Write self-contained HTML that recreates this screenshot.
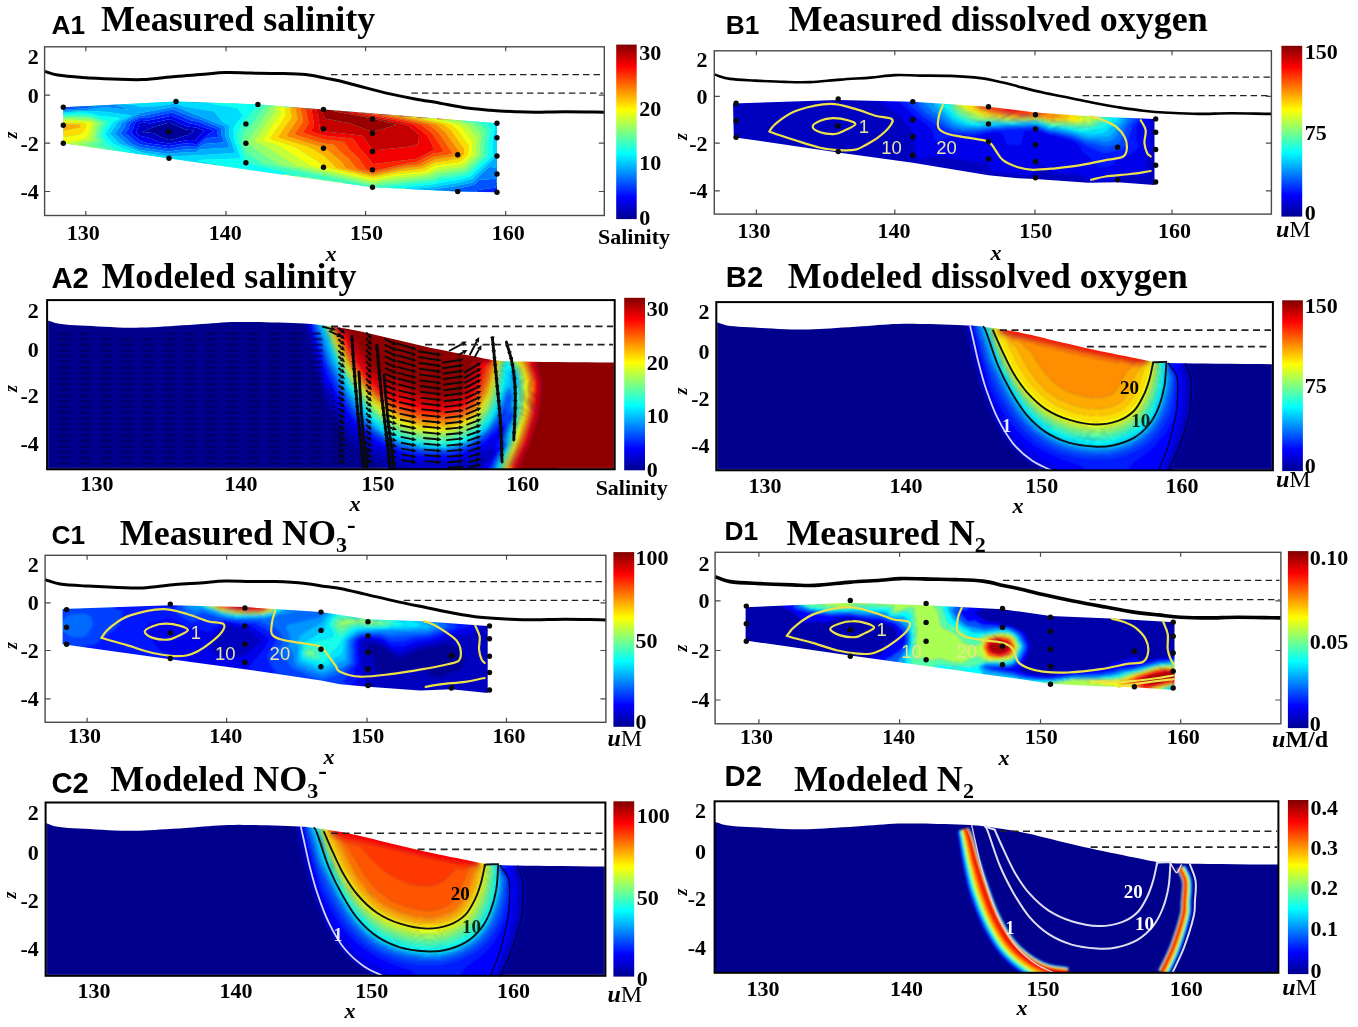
<!DOCTYPE html><html><head><meta charset="utf-8"><title>Figure</title><style>html,body{margin:0;padding:0;background:#fff}svg{display:block}</style></head><body><svg width="1358" height="1027" viewBox="0 0 1358 1027"><defs><linearGradient id="jet" x1="0" y1="1" x2="0" y2="0"><stop offset="0" stop-color="#00008f"/><stop offset="0.125" stop-color="#0000ff"/><stop offset="0.375" stop-color="#00ffff"/><stop offset="0.625" stop-color="#ffff00"/><stop offset="0.875" stop-color="#ff0000"/><stop offset="1" stop-color="#800000"/></linearGradient><filter id="b6" x="-5%" y="-10%" width="110%" height="120%"><feGaussianBlur stdDeviation="0.6"/></filter><filter id="b8" x="-5%" y="-10%" width="110%" height="120%"><feGaussianBlur stdDeviation="0.8"/></filter><filter id="b10" x="-5%" y="-10%" width="110%" height="120%"><feGaussianBlur stdDeviation="1.0"/></filter><filter id="b12" x="-5%" y="-10%" width="110%" height="120%"><feGaussianBlur stdDeviation="1.2"/></filter><filter id="b15" x="-5%" y="-10%" width="110%" height="120%"><feGaussianBlur stdDeviation="1.5"/></filter><filter id="b20" x="-5%" y="-10%" width="110%" height="120%"><feGaussianBlur stdDeviation="2.0"/></filter><filter id="b25" x="-5%" y="-10%" width="110%" height="120%"><feGaussianBlur stdDeviation="2.5"/></filter><filter id="b30" x="-5%" y="-10%" width="110%" height="120%"><feGaussianBlur stdDeviation="3.0"/></filter><clipPath id="clipA1"><path d="M497,123.2L497,192.3 457.7,191.5 372.5,187.3 63.3,143.2 63.3,107.2 176,101.4 257.9,104.4 323.5,109.4Z"/></clipPath><clipPath id="clipB1"><path d="M733,103.5L838.2,100 912.8,101.7 988.5,106.7 1035.5,112.5 1093,116.5 1154.5,119 1154.5,185 1117.6,182.3 1088,182.8 1035.5,179 1018,178.3 988.5,175.3 912.8,162.7 840,152.7 733.8,137.2Z"/></clipPath><clipPath id="clipC1"><path d="M62.6,609L170.3,605.3 244.9,607.1 321,612.1 368,619.2 422.6,621.2 487.7,625.9 487.7,693 451.4,689.3 420.1,690.5 368,686.8 340,684.3 321,680.5 244.9,669.2 170.3,659.2 62.6,644.2Z"/></clipPath><clipPath id="clipD1"><path d="M745.6,607.2L850.3,602.7 926.1,605.2 1002.5,609.2 1050.5,616 1110.6,618.5 1174.5,622.2 1174.5,690 1134.4,687.3 1098,686.2 1050.5,683.8 1018,678.8 1002.5,676.7 926.1,666 850.3,655.5 745.6,640.5Z"/></clipPath><clipPath id="clipB2"><path d="M716.3,322.1L718.4,322.8 720.3,323.4 722.2,324.1 724.3,324.8 726.9,325.4 730.1,325.9 734.1,326.3 738.6,326.7 743.6,327 748.9,327.3 754.5,327.6 760.1,327.9 766,328.2 772.3,328.6 778.7,328.9 785.3,329.3 791.6,329.5 797.7,329.6 803.4,329.6 808.7,329.5 814,329.3 819.2,329 824.5,328.7 830.2,328.4 836.3,328.1 842.6,327.6 849.2,327.2 855.6,326.7 861.9,326.3 867.8,325.9 873.2,325.5 878.3,325.1 883.1,324.7 887.9,324.4 892.7,324.1 897.8,323.9 903,323.8 908.3,323.8 913.6,323.8 919.1,323.9 924.7,324 930.4,324.1 936.6,324.3 943.3,324.4 950.2,324.7 956.8,324.9 962.9,325.2 967.9,325.4 971.5,325.6 974,325.7 975.9,325.9 977.7,326 980.1,326.3 983.5,326.8 988.1,327.4 993.5,328.1 999.4,329 1005.6,329.9 1011.9,331 1018,332.1 1024.1,333.4 1030.3,334.8 1036.6,336.3 1043,337.8 1049.3,339.4 1055.6,340.9 1061.9,342.4 1068.1,343.8 1074.3,345.3 1080.6,346.8 1086.8,348.2 1093.1,349.6 1099.5,351 1106,352.3 1112.5,353.6 1118.9,354.9 1125,356.1 1130.7,357.2 1135.8,358.2 1140.3,359.2 1144.6,360.1 1148.8,360.9 1153.3,361.6 1158.2,362.2 1163.1,362.6 1167.7,362.9 1172.5,363.1 1178,363.2 1184.8,363.3 1193.3,363.4 1204,363.6 1216.5,363.7 1230.3,363.8 1244.7,363.9 1259.1,364.1 1272.9,364.2 1272.9,470.3 716.3,470.3Z"/></clipPath><clipPath id="clipC2"><path d="M45.6,823.1L47.7,823.8 49.6,824.5 51.5,825.2 53.6,825.9 56.2,826.5 59.5,827 63.5,827.5 68,827.9 73.1,828.2 78.4,828.5 84,828.8 89.7,829.1 95.6,829.4 101.9,829.8 108.4,830.2 115,830.5 121.4,830.7 127.5,830.8 133.2,830.8 138.6,830.7 143.8,830.5 149.1,830.2 154.5,829.9 160.2,829.6 166.2,829.2 172.7,828.8 179.2,828.4 185.7,827.9 192.1,827.4 198,827 203.4,826.6 208.5,826.2 213.4,825.8 218.2,825.5 223.1,825.2 228.1,825 233.4,824.9 238.7,824.8 244.1,824.9 249.5,824.9 255.2,825 260.9,825.2 267.2,825.3 274,825.5 280.9,825.8 287.5,826 293.6,826.3 298.6,826.5 302.3,826.7 304.8,826.8 306.7,827 308.5,827.2 310.9,827.5 314.3,827.9 319,828.6 324.4,829.3 330.3,830.2 336.5,831.2 342.9,832.2 349,833.4 355.2,834.7 361.4,836.2 367.8,837.7 374.1,839.3 380.5,840.9 386.9,842.5 393.1,844 399.4,845.5 405.7,847 412,848.5 418.3,850 424.6,851.4 431,852.8 437.5,854.2 444.1,855.6 450.5,856.9 456.7,858.1 462.4,859.3 467.5,860.3 472.1,861.3 476.4,862.3 480.6,863.1 485.1,863.8 490,864.4 495,864.9 499.6,865.1 504.4,865.3 510,865.4 516.8,865.5 525.3,865.7 536.1,865.8 548.7,866 562.6,866.1 577.1,866.2 591.5,866.4 605.4,866.5 605.4,975.8 45.6,975.8Z"/></clipPath><clipPath id="clipA2"><path d="M47.1,320.2L49.3,320.9 51.2,321.6 53.1,322.2 55.3,322.9 57.9,323.5 61.2,324 65.2,324.5 69.9,324.9 75,325.2 80.4,325.5 86,325.8 91.8,326.1 97.8,326.4 104.2,326.8 110.8,327.1 117.4,327.4 123.9,327.7 130.1,327.8 135.9,327.7 141.3,327.6 146.7,327.4 152,327.2 157.5,326.9 163.3,326.6 169.4,326.2 175.9,325.8 182.6,325.3 189.2,324.9 195.6,324.4 201.6,324 207.1,323.7 212.3,323.3 217.2,322.9 222.1,322.5 227,322.2 232.2,322 237.5,321.9 242.9,321.9 248.3,321.9 253.9,322 259.6,322.1 265.4,322.2 271.8,322.4 278.6,322.6 285.6,322.8 292.4,323.1 298.5,323.3 303.7,323.5 307.4,323.7 309.9,323.9 311.8,324 313.7,324.2 316.1,324.5 319.6,324.9 324.3,325.6 329.8,326.3 335.8,327.1 342.1,328.1 348.5,329.1 354.8,330.3 361,331.6 367.3,333 373.7,334.5 380.2,336.1 386.7,337.6 393.1,339.1 399.5,340.6 405.9,342.1 412.2,343.6 418.6,345.1 425,346.5 431.3,347.9 437.9,349.3 444.5,350.6 451.2,351.9 457.7,353.2 463.9,354.4 469.7,355.5 474.9,356.6 479.5,357.5 483.9,358.4 488.2,359.3 492.7,360 497.7,360.6 502.7,361 507.4,361.3 512.3,361.4 517.9,361.5 524.8,361.6 533.5,361.8 544.4,361.9 557.2,362.1 571.3,362.2 586,362.3 600.6,362.4 614.7,362.6 614.7,469.3 47.1,469.3Z"/></clipPath><pattern id="dash" width="21" height="5.65" patternUnits="userSpaceOnUse" x="58" y="332"><path d="M0,1.5h12.5" stroke="#00005a" stroke-width="1.9"/></pattern><clipPath id="clipA2L"><path d="M56,329.6L62,331.1 68,331.5 74,331.9 80,332.3 86,332.7 92,333.1 98,333.3 104,333.6 110,333.9 116,334.1 122,334.4 128,334.7 134,334.6 140,334.4 146,334.2 152,334 158,333.7 164,333.5 170,333.1 176,332.7 182,332.3 188,331.9 194,331.5 200,331.1 206,330.8 212,330.4 218,330 224,329.6 230,329.2 236,329.1 242,329.1 248,329.1 254,329.2 260,329.2 266,329.3 272,329.5 278,329.7 284,329.9 290,330.1 296,330.3 302,330.5 308,330.9 314,331.5 320,332 326,345 345,467 56,467Z"/></clipPath><clipPath id="clipD2"><path d="M714.6,821.7L716.7,822.4 718.7,823.1 720.6,823.7 722.7,824.4 725.3,825 728.6,825.6 732.6,826 737.2,826.4 742.3,826.7 747.7,827 753.3,827.3 759,827.6 764.9,827.9 771.3,828.3 777.9,828.7 784.5,829 790.9,829.2 797.1,829.3 802.8,829.3 808.2,829.2 813.5,829 818.8,828.7 824.2,828.4 830,828.1 836.1,827.8 842.6,827.3 849.2,826.9 855.7,826.4 862.1,826 868.1,825.6 873.5,825.2 878.7,824.8 883.6,824.4 888.4,824 893.3,823.7 898.4,823.5 903.7,823.4 909.1,823.4 914.5,823.4 920,823.5 925.6,823.6 931.5,823.7 937.8,823.9 944.6,824.1 951.5,824.3 958.3,824.6 964.4,824.8 969.5,825.1 973.2,825.2 975.7,825.4 977.5,825.5 979.4,825.7 981.8,826 985.3,826.5 989.9,827.1 995.4,827.9 1001.3,828.7 1007.6,829.7 1014,830.7 1020.2,831.9 1026.4,833.2 1032.7,834.6 1039.1,836.2 1045.5,837.7 1051.9,839.3 1058.3,840.9 1064.6,842.4 1071,843.9 1077.3,845.4 1083.6,846.9 1089.9,848.3 1096.3,849.7 1102.7,851.1 1109.3,852.5 1116,853.8 1122.4,855.1 1128.6,856.4 1134.4,857.5 1139.5,858.5 1144.1,859.5 1148.4,860.4 1152.7,861.3 1157.2,862 1162.2,862.6 1167.2,863 1171.8,863.3 1176.7,863.5 1182.3,863.6 1189.1,863.7 1197.8,863.8 1208.6,864 1221.3,864.1 1235.3,864.2 1249.9,864.4 1264.4,864.5 1278.4,864.6 1278.4,972.8 714.6,972.8Z"/></clipPath></defs><g clip-path="url(#clipA1)"><rect x="59.3" y="97.4" width="441.7" height="98.9" fill="#40ffbf"/><path fill="#000097" d="M167.5,123l3,0 15,6.5 8.5,1 -1,1.5 -5.5,3 -14.5,4.5 -4,0.5 -4.5,-1.5 -12,-5.5 -10.5,-1 10.5,-4.5z"/><path fill="#0000c5" d="M166,120l4.5,-1 16.5,7.5 9,1 8.5,3 -7,7.5 -3,3 -1.5,0 -1.5,-1 -3,0 -19.5,3.5 -10.5,-1.5 -10.5,-4.5 -7.5,-1.5 -3.5,-2.5 -1,-1.5 1,-1.5 2.5,-7.5 1,-0.5 1.5,-0.5 7.5,1.5zM167,123l-14.5,4.5 -10.5,4.5 10.5,1 12,5.5 4.5,1.5 4,-0.5 14.5,-4.5 5.5,-3 1,-1.5 -8.5,-1 -15,-6.5z"/><path fill="#0000f3" d="M166,117l4.5,-1 1.5,0 18,7.5 6,1 17,6 -0.5,1.5 -3,1.5 -13.5,11.5 -4.5,-2 -7.5,0.5 -15,2.5 -19.5,-2.5 -7.5,-2 -1.5,-0.5 -9,-7.5 -0.5,-1.5 2,-3 2,-6 2,-1.5 3.5,-1.5 7.5,0.5zM165.5,120l-16,3.5 -7.5,-1.5 -1.5,0.5 -1,0.5 -2.5,7.5 -1,1.5 1,1.5 3.5,2.5 7.5,1.5 10.5,4.5 10.5,1.5 19.5,-3.5 3,0 1.5,1 1.5,0 3,-3 7,-7.5 -8.5,-3 -9,-1 -16.5,-7.5z"/><path fill="#0023ff" d="M61,97.5l27,0 -1.5,1.5 0,3 -1.5,1.5 0,2.5 -4.5,0 -1.5,1.5 -15,0.5 -1,1.5 -0.5,6 -3,0 0,-18zM167.5,113.5l4.5,-1 1.5,0.5 18,7.5 6,1 19.5,7.5 0,3 1.5,4.5 0,0.5 -10.5,1 -1.5,0.5 -10.5,9 -3,-1.5 -10.5,0.5 -13.5,2.5 -28.5,-4.5 -4,-2 -10.5,-9 0,-1.5 2.5,-3 2,-6 2,-1.5 8,-4 6,0.5zM165.5,117l-17.5,3.5 -7.5,-0.5 -3.5,1.5 -2,1.5 -2,6 -2,3 0.5,1.5 9,7.5 1.5,0.5 7.5,2 19.5,2.5 15,-2.5 7.5,-0.5 4.5,2 13.5,-11.5 3,-1.5 0.5,-1.5 -17,-6 -6,-1 -18,-7.5 -1.5,0zM497.5,184l4.5,0 0,12.5 -17.5,0 0,-3 -0.5,-1 -6,0 -1.5,-2 -2.5,0 22,-3 0.5,-3z"/><path fill="#0051ff" d="M88,97.5l0.5,0 -1.5,1.5 0,3 -1.5,1.5 0,1.5 1,1 9,0.5 -12,2 -19.5,1 -1,1.5 -0.5,4.5 -3,0 3,0 0.5,-6 1,-1.5 15,-0.5 1.5,-1.5 4.5,0 0,-2.5 1.5,-1.5 0,-3zM167.5,110.5l6,-1 19.5,8 9,2.5 18.5,7.5 0.5,1.5 0.5,6 2.5,6 -1,1.5 -19.5,1.5 -7.5,6 -3,-1 -13.5,1 -10.5,1.5 -28.5,-4 -8.5,-3.5 -11.5,-10.5 4,-6 1.5,-4.5 2,-1.5 12.5,-6 4,0zM166,114l-19.5,4 -6,-0.5 -8,4 -2,1.5 -2,6 -2.5,3 0,1.5 10.5,9 4,2 28.5,4.5 13.5,-2.5 10.5,-0.5 3,1.5 10.5,-9 1.5,-0.5 10.5,-1 0,-0.5 -1.5,-4.5 0,-3 -19.5,-7.5 -6,-1 -18,-7.5 -1.5,-0.5zM479.5,180l1.5,-0.5 6,0 9,-1 0.5,4.5 1,0.5 4.5,0 0,0.5 -4.5,0 -1,0.5 -0.5,3 -22,3 2.5,0 1.5,2 6,0 0.5,1 0,3 -37.5,0 1.5,-1.5 0,-3 -0.5,-1.5 -0.5,0 11,-2 15,-3.5 1.5,-1z"/><path fill="#0080ff" d="M88,98l1,-0.5 -1.5,1.5 0,3 -1.5,1.5 0.5,2 10.5,0 1,-0.5 0,-1.5 -1.5,-1.5 0,-3 -1.5,-1.5 27.5,0 0,6 0,1 -6.5,0.5 12.5,4.5 -3,0 -18,-2 -4.5,0 -16.5,2.5 -22.5,1 -1,4.5 -3.5,0 3,0 0.5,-4.5 1,-1.5 19.5,-1 12,-2 -9,-0.5 -1,-1 0,-1.5 1.5,-1.5 0,-3zM167.5,108l7.5,-1.5 49,19.5 1,1.5 0.5,9 4,10.5 -0.5,0.5 -28.5,2 -1.5,0.5 -3,2.5 -1.5,-0.5 -19.5,1 -6,1 -28.5,-4 -14.5,-6 -11,-10.5 5.5,-7.5 1,-3 2,-1.5 17,-8.5zM166.5,111l-22,4.5 -4,0 -12.5,6 -2,1.5 -1.5,4.5 -4,6 11.5,10.5 8.5,3.5 28.5,4 10.5,-1.5 13.5,-1 3,1 7.5,-6 19.5,-1.5 1,-1.5 -2.5,-6 -0.5,-6 -0.5,-1.5 -18.5,-7.5 -9,-2.5 -19.5,-8zM497.5,166l4.5,0 0,17.5 -4.5,0 -1,-0.5 -0.5,-4.5 -9,1 -6,0 -1.5,0.5 -4.5,4 -1.5,1 -15,3.5 -11,2 0.5,0 0.5,1.5 0,3 -1.5,1.5 -0.5,0 1.5,-1.5 0,-3.5 -12,0 -1.5,-1 1.5,-1.5 21,-3 15,-3.5 1.5,-1 15,-14 1.5,-0.5 6,0.5 0,-1z"/><path fill="#00aeff" d="M88,98.5l1,-1 6,0 1.5,1.5 0,3 1.5,1.5 0,1.5 -1,0.5 -10.5,0 -0.5,-2 1.5,-1.5 0,-3zM123.5,99l0,4.5 0.5,0.5 10,1 6.5,2 19.5,-1 15,-2.5 9,3 27,4.5 3,0.5 1,1 7,9 2,1.5 3.5,1.5 1.5,1.5 0.5,10.5 5.5,15 -1.5,1.5 -30,2 -34.5,1.5 -27,-4 -22,-8.5 -2,-1.5 -8,-9 5.5,-7.5 1.5,-3 1.5,-1.5 13,-6 -24,-3.5 -16.5,-1 -15,0.5 -12,1 -1,3 -0.5,0.5 -3,0 3.5,-0.5 1,-4.5 22.5,-1 12,-2.5 6,-0.5 21,2.5 3,0 -12.5,-4.5 6.5,-0.5 0,-1 0,-6 1,0zM166.5,108l-26,5 -17,8.5 -2,1.5 -1,3 -5.5,7.5 11,10.5 14.5,6 28.5,4 6,-1 19.5,-1 1.5,0.5 3,-2.5 1.5,-0.5 28.5,-2 0.5,-0.5 -4,-10.5 -0.5,-9 -1,-1.5 -49,-19.5zM193,97.5l26.5,0 0,4.5 -1,0.5 -27,0.5 -1,-1 0,-1.5 1.5,-1.5 0,-1.5zM137.5,102.5l0.5,1 -0.5,1 -1,-1zM497.5,131.5l4.5,0 0,34.5 -4.5,0 -1.5,0.5 0,1 -6,-0.5 -1.5,0.5 -15,14 -1.5,1 -15,3.5 -21,3 -1.5,1.5 1.5,1 12,0 0,3.5 -1.5,1.5 -39.5,0 0,-3 3,-3 0.5,-1 27,-3 3,-1 16.5,-2.5 15,-4 24.5,-23 0,-18zM184,160l1.5,1.5 9,0 1.5,1.5 9,0 1.5,1.5 9,0.5 1.5,1 1.5,0 0,8 -1.5,1.5 0,9 -1.5,1.5 0,7.5 -1.5,1.5 0,1.5 -26,0 0,-4.5 -1.5,-1.5 0,-10.5 -1.5,-1.5 0,-10.5 -1.5,-1.5z"/><path fill="#00dcff" d="M124,97.5l68,0 0,1.5 -1.5,1.5 0,1.5 1,1 27,-0.5 1,-0.5 0,-4.5 11.5,0 3,3 0,1.5 1.5,1.5 -0.5,1 -3,0 -1.5,-1.5 -21.5,0.5 28,4.5 5.5,7 -1,2 -6,7.5 -2,4.5 0.5,10.5 6,16.5 0,1.5 -0.5,0.5 -13.5,1 -21,0.5 -8.5,1 6,1.5 2.5,0 3.5,1.5 7,0 1.5,1.5 1.5,0 0.5,1.5 0,7.5 -1.5,1.5 0,9 -1.5,1.5 0,7.5 -1.5,1.5 0,1.5 -0.5,0 0,-1.5 1.5,-1.5 0,-7.5 1.5,-1.5 0,-9 1.5,-1.5 0,-8 -1.5,0 -1.5,-1 -9,-0.5 -1.5,-1.5 -9,0 -1.5,-1.5 -9,0 -1.5,-1.5 -0.5,6.5 1.5,1.5 0,10.5 1.5,1.5 0,10.5 1.5,1.5 0,4.5 -78,0 0,-3 1.5,-1.5 0,-3 1.5,-1.5 0,-4.5 1.5,-1.5 0,-3 1.5,-1.5 0,-3 1.5,-1.5 0,-3 1.5,-1.5 0,-3 1.5,-1.5 0,-4.5 1.5,-1.5 0,-3 2,-2 7.5,-1 -18,-7.5 -1.5,-1.5 -4.5,-5 -1.5,-2.5 -0.5,-1.5 1,-1.5 6,-9 1.5,-1.5 6,-3 -0.5,-0.5 -12,-1.5 -7.5,-0.5 -10.5,-3 -12,-0.5 -13.5,1.5 -0.5,1.5 -1,0.5 -3,0 3.5,-0.5 1,-3 13.5,-1 13.5,-0.5 16.5,1 24,3.5 -13,6 -1.5,1.5 -1.5,3 -5.5,7.5 8,9 2,1.5 20.5,8.5 28.5,4 34.5,-1.5 30,-2 1.5,-1.5 -5.5,-15 -0.5,-10.5 -1.5,-1.5 -3.5,-1.5 -2,-1.5 -7,-9 -1,-1 -3,-0.5 -27,-4.5 -9,-3 -15,2.5 -19.5,1 -6.5,-2 -10,-1 -0.5,-0.5 0,-6zM136.5,103.5l1,1 0.5,-1 -0.5,-1zM132.5,153l0.5,0.5 1,-0.5 -1,-1zM454,97.5l48,0 0,34 -5,0.5 -0.5,24 -24.5,23 -1.5,0.5 -12,3.5 -21,3.5 -27,3 -0.5,1 -3,3 0,3 -0.5,0 0,-3 1,-0.5 2.5,-2.5 -1,-1.5 -3,0 0,-1.5 30,-3.5 3,-1 18,-3 12.5,-3 1,-0.5 22,-20.5 0,-16.5 2.5,-13.5 0,-1.5 -3,-1.5 -2,-0.5 -15,-1 -1.5,-1.5 -10.5,0 -3.5,-3 0,-1.5 -3,-3 0,-3 -1.5,-1.5 0,-9z"/><path fill="#0cfff3" d="M232,97.5l58.5,0 0,9 -6,0 -1.5,-1.5 -18,0 -1.5,-1.5 -4.5,0.5 -17.5,20.5 -4,9 0.5,7.5 7.5,19.5 1.5,2 6,2 4,0.5 2,1 4,0.5 35.5,9 -8,0 -1.5,-1.5 -4.5,0 -1.5,1.5 0,21 -68.5,0 0,-1.5 1.5,-1.5 0,-7.5 1.5,-1.5 0,-9 1.5,-1.5 0,-7.5 -0.5,-1.5 -1.5,0 -1.5,-1.5 -7,0 -3.5,-1.5 -2.5,0 -6,-1.5 8.5,-1 21,-0.5 13.5,-1 0.5,-0.5 0,-1.5 -6,-16.5 -0.5,-10.5 2,-4.5 6,-7.5 1,-2 -5.5,-7 -28,-4.5 21.5,-0.5 1.5,1.5 3,0 0.5,-1 -1.5,-1.5 0,-1.5 -3,-3zM454,97.5l1,1.5 0,9 1.5,1.5 0,3 3,3 0,1.5 3.5,3 10.5,0 1.5,1.5 15,1 2,0.5 3,1.5 0,1.5 -2.5,13.5 0,16.5 -22,20.5 -1,0.5 -12.5,3 -18,3 -3,1 -30,3.5 0,1.5 3,0 1,1.5 -2.5,2.5 -1,0.5 0,3 -0.5,0 0,-3 1.5,-0.5 2.5,-2.5 -1,-1.5 -3,0 -1.5,-1.5 -1.5,1 -18,-1 49.5,-5.5 4.5,-2.5 18,-2.5 10.5,-2.5 1.5,-0.5 19,-18 0.5,-15 2,-12 -0.5,-1.5 -2,-3 -3.5,-1.5 -9.5,-1 -1.5,-1 -10.5,-0.5 -3.5,-3.5 0,-1.5 -3,-3 0,-3 -1.5,-1.5 0,-9zM64,114l13.5,-1.5 12,0.5 10.5,3 7.5,0.5 12,1.5 0.5,0.5 -6,3 -1.5,1.5 -6,9 -1,1.5 0.5,1.5 1.5,2.5 4.5,5 1.5,1.5 18,7.5 -7.5,1 -2,2 0,3 -1.5,1.5 0,4.5 -1.5,1.5 0,3 -1.5,1.5 0,3 -1.5,1.5 0,3 -1.5,1.5 0,3 -1.5,1.5 0,4.5 -1.5,1.5 0,3 -1.5,1.5 0,3 -20.5,0 0,-16.5 1.5,-1.5 0,-7.5 1.5,-1.5 0,-3 1.5,-1.5 0,-4.5 1.5,-1.5 0,-4.5 1.5,-1.5 0,-3 1.5,-1.5 1.5,1.5 9,0 1.5,1.5 6,-0.5 1.5,-1 -11,-6 -4.5,-7.5 -0.5,-1.5 1.5,-4.5 4,-7 2,-2 -6.5,-1.5 -12,-5 -15,-0.5 -12,1 -1.5,0.5 -3,0 3,0 1,-0.5zM119.5,151.5l1.5,1.5 1,-1.5 -1,-1.5zM133,152l1,1 -1,0.5 -0.5,-0.5zM301,176l3.5,1 -3.5,0z"/><path fill="#3affc5" d="M290.5,99l0,7.5 -6,0 -1.5,-1.5 -13.5,0.5 -5.5,1 -11,16.5 -1.5,1.5 -4.5,4 -1.5,2 -3,6.5 -1,2.5 0.5,3 3.5,8.5 1.5,2 15.5,10.5 110.5,23 58.5,-7 1.5,0 5,-2.5 19,-3 9,-2 2,-1 16,-15 0,-1.5 0,-10.5 2,-12 -4,-6 -1.5,-1.5 -3.5,-1.5 -7.5,-1.5 -6.5,-0.5 -0.5,-1 -3,-3 0,-1.5 -3,-3 0,-3 -1.5,-1.5 0,-9 -1.5,-1.5 1.5,1.5 0,9 1.5,1.5 0,3 3,3 0,1.5 3.5,3.5 10.5,0.5 1.5,1 9.5,1 3.5,1.5 2,3 0.5,1.5 -2,12 -0.5,15 -19,18 -1.5,0.5 -10.5,2.5 -18,2.5 -4.5,2.5 -49.5,5.5 18,1 1.5,-1 1.5,1.5 3,0 1,1.5 -2.5,2.5 -1.5,0.5 0,3 -65,0 0,-1.5 1.5,-1.5 0,-3 1.5,-1.5 0,-1.5 1.5,-1.5 0,-1.5 -1,-1.5 -1.5,0 -1.5,-1.5 -9,0 -1.5,-1.5 -9,0 -1.5,-1.5 -9,0 -1.5,-1.5 -9,0 -1.5,-1.5 -9,0.5 -1.5,-2 -4.5,0.5 -1.5,1 0,21 0,-21 1.5,-1.5 4.5,0 1.5,1.5 8,0 -35.5,-9 -4,-0.5 -2,-1 -4,-0.5 -6,-2 -1.5,-2 -7.5,-19.5 -0.5,-7.5 4,-9 17.5,-20.5 4.5,-0.5 1.5,1.5 18,0 1.5,1.5 6,0 0,-9zM301,177l3.5,0 -3.5,-1zM403,189l1.5,1.5 0,1.5 1.5,1.5 1.5,-0.5 2.5,-2.5 -1,-1.5 -3,0 -1.5,-1.5zM64,115.5l12,-1 15,0.5 12,5 6.5,1.5 -2,2 -4,7 -1.5,4.5 0.5,1.5 4.5,7.5 11,6 -1.5,1 -6,0.5 -1.5,-1.5 -9,0 -1.5,-1.5 -1.5,1.5 0,3 -1.5,1.5 0,4.5 -1.5,1.5 0,4.5 -1.5,1.5 0,3 -1.5,1.5 0,7.5 -1.5,1.5 0,16.5 -0.5,0 0,-16.5 1.5,-1.5 0,-7.5 1.5,-1.5 0,-3 1.5,-1.5 0,-4.5 1.5,-1.5 0,-4.5 1.5,-1.5 0,-3 2,-2.5 1.5,2 1.5,-0.5 3.5,-0.5 -8.5,-4.5 4.5,-1.5 0,-1.5 -2.5,-4.5 2,-7.5 3,-6 -1.5,-1.5 -11,-4.5 -16.5,-1 -10.5,0.5 -1.5,-0.5 -3,0 3,0zM109.5,150l1,1 1,-1 -1,-1.5zM121,150l1,1.5 -1,1.5 -1.5,-1.5zM120,151.5l1,1 1,-1 -1,-1z"/><path fill="#68ff97" d="M290.5,99l0,8 -6,0 -1.5,-1.5 -14,1 0,3 -22.5,33 0.5,1.5 30,19.5 3.5,1.5 73,15 19.5,4.5 7.5,-1.5 49.5,-5.5 7.5,-3.5 19.5,-3 9,-2 13.5,-13 0.5,-1.5 0,-9 1.5,-9 0,-1.5 -5,-7.5 -3.5,-3 -4,-1.5 -7,-1.5 0,-1.5 -3,-3 0,-1.5 -2.5,-3 0,-3 -1.5,-1.5 0,-9 -1.5,-1.5 1.5,1.5 0,9 1.5,1.5 0,3 3,3 0,1.5 3,3 0.5,1 6.5,0.5 7.5,1.5 2.5,1 2.5,2 3.5,4.5 0.5,1.5 -2,12 0,10.5 0,1.5 -16,15 -2,1 -9,2 -19,3 -5,2.5 -1.5,0 -58.5,7 -110.5,-23 -15.5,-10.5 -1.5,-2 -3.5,-8.5 -0.5,-3 1,-2.5 3,-6.5 1.5,-2 4.5,-4 1.5,-1.5 11,-16.5 5.5,-1 13.5,-0.5 1.5,1.5 6,0 0,-9zM61,116l3,0.5 10.5,-0.5 16.5,1 11,4.5 1.5,1.5 -3,6 -2,7.5 2.5,4.5 0,1.5 -4.5,1.5 8.5,4.5 -3.5,0.5 -1.5,0.5 -1.5,-2 -2,2.5 0,3 -1.5,1.5 0,4.5 -1.5,1.5 0,4.5 -1.5,1.5 0,3 -1.5,1.5 0,7.5 -1.5,1.5 0,16.5 -0.5,0 0,-16.5 1.5,-1.5 0,-7.5 1.5,-1.5 0,-3 1.5,-1.5 0,-4.5 1.5,-1.5 0,-4.5 1.5,-1.5 0,-3 1.5,-1.5 -0.5,-1 -5.5,-0.5 -5.5,-3 11,-3 -1.5,-3 0,-1.5 2,-9 2.5,-4.5 -2.5,-1.5 -6.5,-3 -18,-1 -9,0.5 -0.5,-1 -1,-0.5 -3,0zM99,148.5l1,0.5 1,-0.5 -1,-1zM110.5,148.5l1,1.5 -1,1 -1,-1zM109.5,150l1,0.5 0.5,-0.5 -0.5,-1zM121,150.5l1,1 -1,1 -1,-1zM120,151.5l1,0.5 0.5,-0.5 -0.5,-0.5zM284.5,174.5l4.5,-0.5 1.5,2 9,-0.5 1.5,1.5 9,0 1.5,1.5 9,0 1.5,1.5 9,0 1.5,1.5 9,0 1.5,1.5 1.5,0 1,1.5 0,1.5 -1.5,1.5 0,1.5 -1.5,1.5 0,3 -1.5,1.5 0,1.5 0,-1.5 1.5,-1.5 0,-3 1.5,-1.5 0,-1.5 1.5,-1.5 0,-1.5 -1,-1 -1.5,0 -1.5,-1.5 -9,0 -1.5,-1.5 -9,0 -1.5,-1.5 -9,0 -1.5,-1.5 -9,0 -1.5,-1.5 -9,0 -1.5,-1.5 -4.5,0 -1,1 0,21 -0.5,0 0,-21zM404.5,187.5l1.5,1.5 3,0 1,1.5 -2.5,2.5 -1.5,0.5 -1.5,-1.5 0,-1.5 -1.5,-1.5zM403,189l1.5,1.5 0,1.5 1.5,1 1.5,0 2,-2.5 -0.5,-1 -3,0 -1.5,-1.5z"/><path fill="#97ff68" d="M290.5,99l0,7.5 0,0.5 -6,0.5 -1.5,-1.5 -8.5,0.5 0.5,4.5 -20.5,30 1.5,1.5 5,1.5 3,1.5 30,19.5 5,1.5 44,9 30,7 12,-2.5 43.5,-5 9,-4 19.5,-3 7.5,-1.5 11,-10.5 0.5,-1.5 0,-7.5 1.5,-7.5 -0.5,-1.5 -7.5,-10.5 -4,-3 -4.5,-1.5 -14,-3 8.5,-0.5 1.5,2 4.5,-0.5 0.5,-1 -3,-3 0,-1.5 -2.5,-3 0,-3 -1.5,-1.5 0,-9 -1.5,-1.5 1.5,1.5 0,9 1.5,1.5 0,3 2.5,3 0,1.5 3,3 0,1.5 7,1.5 4,1.5 3.5,3 5,7.5 0,1.5 -1.5,9 0,9 -0.5,1.5 -13.5,13 -1.5,0.5 -7.5,1.5 -19.5,3 -7.5,3.5 -49.5,5.5 -7.5,1.5 -19.5,-4.5 -73,-15 -3.5,-1.5 -30,-19.5 -0.5,-1.5 22.5,-33 0,-3 14,-1 1.5,1.5 6,0 0,-9.5zM61,116.5l1.5,0 1,0.5 0.5,1 9,-0.5 18,1 6.5,3 2.5,1.5 -2.5,4.5 -2,9 0,1.5 1.5,3 -11,3 5.5,3 5.5,0.5 0.5,1 -1.5,1.5 0,3 -1.5,1.5 0,4.5 -1.5,1.5 0,4.5 -1.5,1.5 0,3 -1.5,1.5 0,7.5 -1.5,1.5 0,16.5 -0.5,0 0,-16.5 1.5,-1.5 0,-7.5 1.5,-1.5 0,-3 1.5,-1.5 0,-4.5 1.5,-1.5 0,-4.5 1.5,-1.5 0,-3 1.5,-1.5 -6,-0.5 -1.5,-1.5 -9,-1 -3,-1.5 -2,0 16.5,-4.5 0,-1.5 2.5,-12 1.5,-3 -5,-2.5 -13.5,-1 -7.5,-0.5 -6,0.5 -0.5,-2.5 -1,-0.5 -3,0zM100,147.5l1,1 -1,0.5 -1,-0.5zM110.5,149l0.5,1 -0.5,0.5 -1,-0.5zM121,151l0.5,0.5 -0.5,0.5 -1,-0.5zM284.5,174.5l4.5,0 1.5,1.5 9,0 1.5,1.5 9,0 1.5,1.5 9,0 1.5,1.5 9,0 1.5,1.5 9,0 1.5,1.5 1.5,0 1,1 0,1.5 -1.5,1.5 0,1.5 -1.5,1.5 0,3 -1.5,1.5 0,1.5 -0.5,0 0,-1.5 1.5,-1.5 0,-3 1.5,-1.5 0,-1.5 1.5,-1.5 0,-1.5 -0.5,-0.5 -1.5,0 -1.5,-1.5 -9,0 -1.5,-1.5 -9,0 -1.5,-1.5 -9,0 -1.5,-1.5 -9,0 -1.5,-1.5 -9,0 -1.5,-1.5 -4.5,0 -0.5,0.5 0,21 -0.5,0 0,-21zM404.5,188l1.5,1.5 3,0 0.5,1 -2,2.5 -1.5,0 -1.5,-1 0,-1.5 -1.5,-1.5zM403,189l1.5,1.5 0,1.5 1.5,1 1.5,-0.5 2,-2 -0.5,-1 -3,0 -1.5,-1.5z"/><path fill="#c5ff3a" d="M291,99l0,7.5 -0.5,1 -6,0 -1.5,-1.5 -3.5,0.5 1,6 -0.5,1.5 -17.5,25.5 1.5,1.5 14.5,4.5 32.5,21 21.5,4.5 40.5,9.5 16.5,-3.5 36,-4 2.5,-0.5 8,-4.5 21,-3 6,-1.5 8,-7.5 1,-1.5 0,-6 1,-6 -9.5,-13.5 -5.5,-4.5 -10.5,-3 -8,-1.5 16,-0.5 1.5,1.5 4.5,0 0.5,-1 -3,-3 0,-1.5 -3,-3 0,-3 -1.5,-1.5 0,-9 -1.5,-1.5 2,1.5 0,9 1.5,1.5 0,3 2.5,3 0,1.5 3,3 -0.5,1 -4.5,0.5 -1.5,-2 -8.5,0.5 16,3.5 2.5,1 4,3 7.5,10.5 0.5,1.5 -1.5,7.5 0,7.5 -0.5,1.5 -11,10.5 -1.5,0.5 -6,1 -19.5,3 -9,4 -43.5,5 -12,2.5 -30,-7 -44,-9 -5,-1.5 -30,-19.5 -3,-1.5 -5,-1.5 -1.5,-1.5 20.5,-30 -0.5,-4.5 8.5,-0.5 1.5,1.5 6,-0.5 0,-0.5 0,-9zM61,116.5l2.5,0.5 0.5,2.5 6,-0.5 7.5,0.5 13.5,1 5,2.5 -1.5,3 -2.5,12 0,1.5 -16.5,4.5 2,0 3,1.5 9,1 1.5,1.5 6,0.5 -1.5,1.5 0,3 -1.5,1.5 0,4.5 -1.5,1.5 0,4.5 -1.5,1.5 0,3 -1.5,1.5 0,7.5 -1.5,1.5 0,16.5 0,-16.5 1.5,-1.5 0,-6 -1.5,-1.5 0,-7.5 -1.5,-1.5 0,-9 -1.5,-1.5 0,-4.5 -6,0 -1.5,-1.5 -9,-0.5 -1.5,-1 1.5,-1.5 3,-1 7.5,-0.5 8.5,-4.5 2,-4 2.5,-9.5 -2.5,-1 -12,-1 -13.5,0 -1,-4 -3.5,-0.5zM433,118.5l3,0 0,0.5 -4,-0.5zM284.5,175l4.5,0 1.5,1.5 9,0 1.5,1.5 9,0 1.5,1.5 9,0 1.5,1.5 9,0 1.5,1.5 9,0 1.5,1.5 1.5,0 0.5,0.5 0,1.5 -1.5,1.5 0,1.5 -1.5,1.5 0,3 -1.5,1.5 0,1.5 -0.5,0 0,-1.5 1.5,-1.5 0,-3 1.5,-1.5 0,-1.5 1.5,-1.5 0,-1.5 -1.5,-0.5 -1.5,-1.5 -9,0 -1.5,-1.5 -9,0 -1.5,-1.5 -9,0 -1.5,-1.5 -9,0 -1.5,-1.5 -9,0 -1.5,-1.5 -4.5,0 -0.5,21.5 0,-21zM404.5,188l1.5,1.5 3,0 0.5,1 -2,2 -1.5,0.5 -1.5,-1 0,-1.5 -1.5,-1.5zM403.5,189l1.5,1.5 0,1.5 1,1 1.5,-0.5 2,-2 -0.5,-1 -3,0 -1.5,-1.5z"/><path fill="#f3ff0c" d="M291,99l0,7.5 -0.5,1 -5.5,0.5 1,7.5 -15.5,22.5 1.5,1.5 23,7.5 33,21 45,10.5 21,-4 30,-3.5 12,-6 21,-2.5 4.5,-1.5 5.5,-5 1,-1.5 0.5,-9 -11.5,-16 -6,-5 -11.5,-3 -15,-3 11.5,-0.5 1.5,1.5 18,-0.5 1.5,1.5 4.5,0 0,-0.5 -3,-3 0,-1.5 -2.5,-3 0,-3 -1.5,-1.5 0,-9 -1.5,-1.5 1.5,1.5 0,9 1.5,1.5 0,3 3,3 0,1.5 3,3 -0.5,1 -4.5,0 -1.5,-1.5 -16,0.5 8,1.5 10.5,3 5.5,4.5 9.5,13.5 -1,6 0,6 -1,1.5 -8,7.5 -1.5,0.5 -4.5,1 -21,3 -8,4.5 -2.5,0.5 -36,4 -16.5,3.5 -40.5,-9.5 -21.5,-4.5 -32.5,-21 -14.5,-4.5 -1.5,-1.5 17.5,-25.5 0.5,-1.5 -1,-6 3.5,-0.5 1.5,1.5 6,0 0.5,-1 0,-9zM432,118.5l4,0.5 0,-0.5zM61,116.5l2,0.5 1,4 13.5,0 12,1 2.5,1 -2.5,9.5 -2,4 -8.5,4.5 -7.5,0.5 -3,1 -1.5,1.5 1.5,1 9,0.5 1.5,1.5 6,0 0,4.5 1.5,1.5 0,9 1.5,1.5 0,7.5 1.5,1.5 0,6 -1.5,1.5 0,16.5 -28.5,0 0,-62 3,0 1,0.5 0.5,2 15,-2.5 4.5,-2.5 1,-1.5 2,-6 -3,-1.5 -4.5,-0.5 -15,0 -1,-5.5 -3.5,-0.5zM284.5,175l4.5,0 1.5,1.5 9,0 1.5,1.5 9,0 1.5,1.5 9,0 1.5,1.5 9,0 1.5,1.5 9,0 1.5,1.5 1.5,0.5 0,1.5 -1.5,1.5 0,1.5 -1.5,1.5 0,3 -1.5,1.5 0,1.5 -56,0zM404.5,188l1.5,1.5 3,0 0.5,1 -2,2 -1.5,0.5 -1,-1 0,-1.5 -1.5,-1.5zM403.5,189l1,0.5 0.5,-0.5 -0.5,-1zM405,190.5l0,1.5 1,0.5 1.5,0 2,-2 -0.5,-0.5 -3,0z"/><path fill="#ffdc00" d="M291,99l0,7.5 -1,1.5 2,9 -13.5,19.5 1.5,1.5 29,9 3,1.5 11.5,7 9,8 3.5,4.5 37,8.5 25.5,-5 24,-3 12,-6 25.5,-4 4,-4 0,-4.5 -0.5,-1.5 -12.5,-18 -7.5,-6 -11.5,-3 -15,-3 19,-0.5 1.5,1.5 15,0 3,-0.5 1.5,1.5 4.5,0 0,-0.5 -3,-3 0,-1.5 -2.5,-3 0,-3 -1.5,-1.5 0,-9 -1.5,-1.5 1.5,1.5 0,9 1.5,1.5 0,3 2.5,3 0,1.5 3,3 0,0.5 -4.5,0 -1.5,-1.5 -18,0.5 -1.5,-1.5 -11.5,0.5 15,3 11.5,3 5.5,4.5 12,16.5 -0.5,9 -1,1.5 -5.5,5 -4.5,1.5 -21,2.5 -12,6 -30,3.5 -21,4 -45,-10.5 -33,-21 -23,-7.5 -1.5,-1.5 15.5,-22.5 -1,-7.5 5.5,-0.5 0.5,-1 0,-9zM61,116.5l2,0.5 1,5.5 15,0 4.5,0.5 3,1 0,0.5 -2,6 -1,1.5 -4.5,2.5 -6,1 -9,1.5 -0.5,-2 -1,-0.5 -3,0 0,-0.5 3,0 1,-0.5 0.5,-3 13.5,-2.5 2,-0.5 1,-1.5 -1,-1.5 -15.5,-0.5 -1,-2.5 -0.5,-4.5 -3,0zM410.5,117l6,0 0,1.5 -7.5,-1.5zM404.5,188l0.5,1 -0.5,0.5 -1,-0.5zM403.5,189l1,0.5 0.5,-0.5 -0.5,-0.5zM406,190l3,0 0.5,0.5 -2,2 -1.5,0 -1,-0.5 0,-1.5zM405,190.5l0,1.5 1,0.5 1.5,0 2,-2 -0.5,-0.5 -3,0z"/><path fill="#ffae00" d="M291,99l0,7.5 1,1 3.5,0.5 2,10.5 -0.5,1.5 -10,15 0.5,0.5 0.5,1 38,12 15.5,13 4.5,6.5 4,1.5 23,5.5 30,-6.5 18,-2 13.5,-7 24,-3.5 1,-1.5 0.5,-1.5 -15,-21 -9,-7.5 -19,-4.5 -15.5,-3 15,-0.5 1.5,1.5 18,-0.5 1.5,2 15,-0.5 3,-0.5 1.5,1.5 4.5,0 -3,-3 0,-1.5 -2.5,-3 0,-3 -1.5,-1.5 0,-9 -1.5,-1.5 1.5,1.5 0,9 1.5,1.5 0,3 2.5,3 0,1.5 3,3 0,0.5 -4.5,0 -1.5,-1.5 -3,0.5 -15,0 -1.5,-1.5 -19,0.5 15,3 11.5,3 7.5,6 12.5,18 0.5,1.5 0,4.5 -4,4 -25.5,4 -12,6 -24,3 -25.5,5 -37,-8.5 -3.5,-4.5 -9,-8 -11.5,-7 -3,-1.5 -29,-9 -1.5,-1.5 13.5,-19.5 -2,-9 1,-1.5 0,-9zM409,117l7.5,1.5 0,-1.5zM395.5,115.5l3,0 0,0.5 -4.5,-0.5zM61,117l1.5,0 0.5,4.5 1,2.5 15.5,0.5 1,1.5 -1,1.5 -2,0.5 -13.5,2.5 -0.5,3 -1,0.5 -3,0 0,-17zM404.5,188.5l0.5,0.5 -0.5,0.5 -1,-0.5zM404,189l0.5,0.5 0,-0.5 0,-0.5zM406,190l3,0 0.5,0.5 -2,2 -1.5,0 -1,-0.5 0,-1.5zM405.5,190.5l0,1.5 0.5,0.5 1.5,-0.5 1.5,-1.5 0,-0.5 -3,0z"/><path fill="#ff8000" d="M291.5,99l0,7.5 0.5,1 8.5,0.5 2.5,12 0,1.5 -8,12 1,1.5 27.5,8.5 9,1 2.5,1 3.5,4.5 10.5,9 7,9 2.5,1.5 14.5,3.5 31.5,-7 13.5,-1.5 1.5,-0.5 13.5,-7 16.5,-2.5 3,-1.5 -14.5,-21 -9.5,-7.5 -19,-4.5 -23,-4.5 12,-0.5 1.5,1.5 16.5,0 1.5,1.5 18,-0.5 1.5,1.5 15,0 1,-0.5 0,-1.5 1.5,-1.5 0.5,-3 0,-3 -1.5,-1.5 0,-9 -1,-1.5 1.5,1.5 0,9 1.5,1.5 0,3 2.5,3 0,1.5 3,3 -4.5,0 -1.5,-1.5 -3,0.5 -15,0.5 -1.5,-2 -18,0.5 -1.5,-1.5 -15,0.5 15.5,3 19,4.5 9,7.5 15,21 -0.5,1.5 -1,1.5 -24,3.5 -13.5,7 -18,2 -30,6.5 -23,-5.5 -4,-1.5 -4.5,-6.5 -15.5,-13 -38,-12 -0.5,-1 -0.5,-0.5 10,-15 0.5,-1.5 -2,-10.5 -3.5,-0.5 -1,-1 0,-9zM394,115.5l4.5,0.5 0,-0.5zM404.5,188.5l0,0.5 0,0.5 -0.5,-0.5zM404,189l0.5,0zM406,190l3,0 0,0.5 -1.5,1.5 -1.5,0.5 -0.5,-0.5 0,-1.5zM405.5,190.5l0.5,1.5 1.5,0 1.5,-1.5z"/><path fill="#ff5100" d="M291.5,99l0,7.5 0.5,0.5 12,0.5 1.5,2 0.5,0 2.5,13.5 -0.5,1.5 -5,7.5 1,1 19.5,6.5 18,2 3,1 5,7.5 8.5,7.5 8.5,12 6.5,1.5 36,-8 7.5,-1 16.5,-8.5 7.5,-1 3,-1 -3,-6 -8.5,-12 -9,-7.5 -2.5,-1.5 -18,-4.5 -23.5,-4.5 19.5,-1 1.5,2 16.5,-0.5 1.5,1.5 18,0 1.5,1.5 15,-0.5 0.5,0 0,-1.5 1.5,-1.5 0,-1.5 1,-1.5 0,-3 -1.5,-1.5 0,-9 -1.5,-1.5 1.5,1.5 0,9 1.5,1.5 0,3 -0.5,3 -1.5,1.5 0,1.5 -1,0.5 -15,0 -1.5,-1.5 -18,0.5 -1.5,-1.5 -16.5,0 -1.5,-1.5 -12,0.5 23,4.5 19,4.5 9.5,7.5 14.5,21 -3,1.5 -16.5,2.5 -13.5,7 -1.5,0.5 -13.5,1.5 -31.5,7 -14.5,-3.5 -2.5,-1.5 -7,-9 -10.5,-9 -3.5,-4.5 -2.5,-1 -9,-1 -27.5,-8.5 -1,-1.5 8,-12 0,-1.5 -2.5,-12 -8.5,-0.5 -0.5,-1 0,-9zM373,114l6,-0.5 0,0.5 0,1.5 -7.5,-1.5zM404.5,188.5l0,0.5 -0.5,0zM406,190l3,0.5 -1.5,1.5 -1.5,0 -0.5,-1.5zM405.5,190.5l0.5,1.5 1.5,0 1.5,-1.5z"/><path fill="#ff2300" d="M291.5,99l0.5,8 12,0.5 1.5,1.5 6,0.5 2.5,15 0,1.5 -3,4.5 1.5,1.5 11,3.5 28.5,3 2,1 7,10.5 4.5,4.5 7.5,9.5 42,-5 4.5,-1.5 1.5,-1 13,-6.5 -3.5,-9 -4,-6 -11,-9 -2,-1.5 -19,-4.5 -30.5,-6 15,-1 1.5,2 18,-0.5 1.5,1.5 16.5,0 1.5,1 18,0 1.5,1.5 15,0 0,-1.5 1.5,-1.5 0,-1.5 1.5,-1.5 0,-3 -1.5,-1.5 0,-9 -1.5,-1.5 1.5,1.5 0,9 1.5,1.5 0,3 -1,1.5 0,1.5 -1.5,1.5 0,1.5 -0.5,0 -15,0.5 -1.5,-1.5 -18,0 -1.5,-1.5 -16.5,0.5 -1.5,-2 -19.5,1 23.5,4.5 18,4.5 2.5,1.5 9,7.5 8.5,12 3,6 -3,1 -7.5,1 -16.5,8.5 -7.5,1 -36,8 -6.5,-1.5 -8.5,-12 -8.5,-7.5 -5,-7.5 -3,-1 -18,-2 -19.5,-6.5 -1,-1 5,-7.5 0.5,-1.5 -2.5,-13.5 -0.5,0 -1.5,-2 -12,-0.5 -0.5,-0.5 0,-9zM371.5,114l7.5,1.5 0,-1.5 0,-0.5zM356.5,112.5l4.5,-0.5 0,0.5 0,1zM406,190.5l3,0 -1.5,1.5 -1.5,0z"/><path fill="#f30000" d="M291.5,99l0.5,7.5 12,0.5 1.5,1.5 11,1 3.5,18 -1,1.5 1.5,1.5 4.5,1 36,4 2.5,1 9.5,14 37.5,-4 7.5,-2.5 0.5,0 0,-1.5 0.5,-7.5 -10.5,-9 -3.5,-1.5 -18,-4.5 -38.5,-7.5 12.5,-1 1.5,2 16.5,-0.5 1.5,1.5 18,-0.5 1.5,1.5 17.5,0 1.5,-1.5 0,-1.5 1.5,-1.5 0,-1.5 1.5,-1.5 0,-1.5 1.5,-1.5 0,-1.5 1.5,-1.5 0,-1.5 1.5,-1.5 0,-1.5 26,0 1.5,1.5 0,9 1.5,1.5 0,3 -1.5,1.5 0,1.5 -1.5,1.5 0,1.5 -15,0 -1.5,-1.5 -18,0 -1.5,-1 -16.5,0 -1.5,-1.5 -18,0.5 -1.5,-2 -15,1 30.5,6 19,4.5 2,1.5 11,9 4,6 3.5,9 -13,6.5 -1.5,1 -4.5,1.5 -42,5 -7.5,-9.5 -4.5,-4.5 -7,-10.5 -2,-1 -28.5,-3 -11,-3.5 -1.5,-1.5 3,-4.5 0,-1.5 -2.5,-15 -6,-0.5 -1.5,-1.5 -12,-0.5 -0.5,-9.5zM356,112.5l5,1 0,-1 0,-0.5z"/><path fill="#c50000" d="M292,99l0,7.5 12,0 1.5,1.5 15,0.5 1.5,1 1.5,7.5 1.5,1.5 25.5,5 22.5,8.5 24,-7.5 -4.5,-0.5 -1.5,-1 -4.5,-1 -1.5,-0.5 -4.5,-1 -1.5,-0.5 -7,-1.5 -36.5,-7 -2,-0.5 3.5,-1 4.5,-0.5 1.5,2.5 6,-0.5 12,-0.5 1.5,1.5 16.5,0 1.5,1.5 8.5,0 0,-4.5 1.5,-1.5 0,-6 1.5,-1.5 0,-3 34.5,0 0,1.5 -1.5,1.5 0,1.5 -1.5,1.5 0,1.5 -1.5,1.5 0,1.5 -1.5,1.5 0,1.5 -1.5,1.5 0,1.5 -1.5,1.5 -17.5,0 -1.5,-1.5 -18,0.5 -1.5,-1.5 -16.5,0.5 -1.5,-2 -12.5,1 38.5,7.5 18,4.5 3.5,1.5 10.5,9 -0.5,7.5 0,1.5 -0.5,0 -7.5,2.5 -37.5,4 -9.5,-14 -2.5,-1 -36,-4 -4.5,-1 -1.5,-1.5 1,-1.5 -3.5,-18 -11,-1 -1.5,-1.5 -12,-0.5 -0.5,-9z"/><path fill="#970000" d="M292,97.5l100,0 0,3 -1.5,1.5 0,6 -1.5,1.5 0,4.5 -8.5,0 -1.5,-1.5 -16.5,0 -1.5,-1.5 -12,0.5 -6,0.5 -1.5,-2.5 -4.5,0.5 -3.5,1 2,0.5 36.5,7 7,1.5 1.5,0.5 4.5,1 1.5,0.5 4.5,1 1.5,1 4.5,0.5 -24,7.5 -1.5,-0.5 -21,-8 -25.5,-5 -1.5,-1.5 -1.5,-7.5 -1.5,-1 -15,-0.5 -1.5,-1.5 -12,0z"/></g>
<path d="M331,74.6H603" stroke="#222" stroke-width="1.3" stroke-dasharray="6.5,4" fill="none"/>
<path d="M411.4,93.1H603" stroke="#222" stroke-width="1.3" stroke-dasharray="6.5,4" fill="none"/>
<path d="M44.6,71.4C48.9,72.6 51.3,74.1 57.6,75.1C63.9,76.1 73.4,76.9 82.6,77.6C91.8,78.3 102.7,78.8 112.7,79.1C122.7,79.4 132.3,80 142.7,79.6C153.1,79.1 165.7,77.2 175.3,76.4C184.9,75.6 192,75.2 200.3,74.6C208.6,74 217,72.8 225.3,72.6C233.7,72.3 242.1,73 250.4,73.1C258.8,73.2 266.2,73.2 275.4,73.4C284.6,73.7 297.1,73.8 305.5,74.6C313.9,75.4 319.8,77 325.5,78.1C331.2,79.2 333.4,79.4 340,81C346.6,82.6 356.7,85.4 365,87.6C373.3,89.8 381.6,92 390,93.9C398.4,95.8 406.7,97.4 415.1,98.9C423.5,100.5 431.9,101.7 440.2,103.2C448.5,104.7 456.9,106.5 465.2,107.7C473.5,108.9 481.9,109.5 490.2,110.2C498.5,110.9 507.8,111.4 515.3,111.7C522.8,112 527,112.2 535.3,112.2C543.6,112.2 553.8,111.7 565.3,111.7C576.8,111.7 591.3,112 604.3,112.2" fill="none" stroke="#000" stroke-width="3"/>
<g fill="#0a0a0a"><circle cx="63.3" cy="107.2" r="2.7"/><circle cx="63.3" cy="125.2" r="2.7"/><circle cx="63.3" cy="143.2" r="2.7"/><circle cx="176" cy="101.4" r="2.7"/><circle cx="169" cy="131.4" r="2.7"/><circle cx="169" cy="158.2" r="2.7"/><circle cx="257.9" cy="104.4" r="2.7"/><circle cx="245.9" cy="123.9" r="2.7"/><circle cx="245.9" cy="143.2" r="2.7"/><circle cx="245.9" cy="162.7" r="2.7"/><circle cx="323.5" cy="109.4" r="2.7"/><circle cx="323.5" cy="128.9" r="2.7"/><circle cx="323.5" cy="148.2" r="2.7"/><circle cx="323.5" cy="167.3" r="2.7"/><circle cx="372.5" cy="118.9" r="2.7"/><circle cx="372.5" cy="133.2" r="2.7"/><circle cx="372.5" cy="151.5" r="2.7"/><circle cx="372.5" cy="169.8" r="2.7"/><circle cx="372.5" cy="187.3" r="2.7"/><circle cx="457.7" cy="154.7" r="2.7"/><circle cx="457.7" cy="191.5" r="2.7"/><circle cx="497" cy="123.2" r="2.7"/><circle cx="497" cy="137.7" r="2.7"/><circle cx="497" cy="156" r="2.7"/><circle cx="497" cy="174" r="2.7"/><circle cx="497" cy="192.3" r="2.7"/></g>
<rect x="44.6" y="46.8" width="559.7" height="168.7" fill="none" stroke="#4a4a4a" stroke-width="1.4"/>
<path d="M85.8,215.5v-4.5 M85.8,46.8v4.5M226,215.5v-4.5 M226,46.8v4.5M365.6,215.5v-4.5 M365.6,46.8v4.5M505.7,215.5v-4.5 M505.7,46.8v4.5M44.6,95.1h5.5 M604.3,95.1h-5.5M44.6,143.2h5.5 M604.3,143.2h-5.5M44.6,191.5h5.5 M604.3,191.5h-5.5" stroke="#4a4a4a" stroke-width="1.2" fill="none"/>
<text x="83.3" y="240.2" font-family='"Liberation Serif","Times New Roman",serif' font-size="22" font-weight="bold" text-anchor="middle" fill="#000">130</text><text x="225.2" y="240.2" font-family='"Liberation Serif","Times New Roman",serif' font-size="22" font-weight="bold" text-anchor="middle" fill="#000">140</text><text x="366.4" y="240.2" font-family='"Liberation Serif","Times New Roman",serif' font-size="22" font-weight="bold" text-anchor="middle" fill="#000">150</text><text x="508.2" y="240.2" font-family='"Liberation Serif","Times New Roman",serif' font-size="22" font-weight="bold" text-anchor="middle" fill="#000">160</text>
<text x="38.8" y="64.4" font-family='"Liberation Serif","Times New Roman",serif' font-size="22" font-weight="bold" text-anchor="end" fill="#000">2</text><text x="38.8" y="102.5" font-family='"Liberation Serif","Times New Roman",serif' font-size="22" font-weight="bold" text-anchor="end" fill="#000">0</text><text x="38.8" y="150.6" font-family='"Liberation Serif","Times New Roman",serif' font-size="22" font-weight="bold" text-anchor="end" fill="#000">-2</text><text x="38.8" y="198.9" font-family='"Liberation Serif","Times New Roman",serif' font-size="22" font-weight="bold" text-anchor="end" fill="#000">-4</text>
<text transform="translate(13.8,135) rotate(-90)" font-family='"Liberation Serif","Times New Roman",serif' font-size="18" font-weight="bold" font-style="italic" text-anchor="middle" y="2.9">z</text>
<text x="331" y="260.8" font-family='"Liberation Serif","Times New Roman",serif' font-size="22" font-weight="bold" text-anchor="middle" fill="#000" font-style="italic">x</text>
<rect x="616.2" y="44.6" width="20.5" height="174.5" fill="url(#jet)"/><text x="639.2" y="60" font-family='"Liberation Serif","Times New Roman",serif' font-size="22" font-weight="bold" text-anchor="start" fill="#000">30</text><text x="639.2" y="115.6" font-family='"Liberation Serif","Times New Roman",serif' font-size="22" font-weight="bold" text-anchor="start" fill="#000">20</text><text x="639.2" y="170.1" font-family='"Liberation Serif","Times New Roman",serif' font-size="22" font-weight="bold" text-anchor="start" fill="#000">10</text><text x="639.2" y="224.7" font-family='"Liberation Serif","Times New Roman",serif' font-size="22" font-weight="bold" text-anchor="start" fill="#000">0</text><text x="634" y="243.5" font-family='"Liberation Serif","Times New Roman",serif' font-size="22" font-weight="bold" text-anchor="middle" fill="#000">Salinity</text>
<text x="51.5" y="33.8" font-family='"Liberation Sans",Arial,sans-serif' font-size="26.3" font-weight="bold" text-anchor="start" fill="#000">A1</text><text x="100.9" y="30.5" font-family='"Liberation Serif","Times New Roman",serif' font-size="36" font-weight="bold">Measured salinity</text>
<g clip-path="url(#clipB1)"><g filter="url(#b12)"><rect x="729" y="96" width="429.5" height="93" fill="#0000d0"/><path fill="#0000bf" d="M731,96l135.5,0 0.5,3 2,1 6,1 5,1 13,8.5 6,5 10,11 4,6 1.5,3.5 0.5,4 0,16 1,2 1,1 4,0 12.5,-3 7.5,0 38,6.5 6,0 2,0.5 3.5,7 2.5,2 36,3 2,0 2,-1 1.5,-2 2.5,-6.5 2,-1.5 2,1 6,5 4,2 6,1 24,2 2,0.5 2,1.5 4,3.5 2,0.5 4,0.5 20,-1 2,-0.5 6,-4 2,-0.5 16,0.5 2,0 2,-0.5 1,-1.5 0,-2 0.5,-14 0.5,-2 5,-6 0.5,-2 -1.5,-8 -0.5,-6 0,-8 1,-6 -4.5,-6 -4,-11.5 -1,-6.5 17,0 0,94 -430,0 0,-94z"/><path fill="#0000ea" d="M867,96l34,0 -0.5,6 0.5,2 16,14 8.5,6 5,4 2.5,4 1,6 1,2.5 2,0.5 2,-0.5 14,-4 6,-0.5 10,0.5 4,0 16,-3.5 8,-0.5 4,0.5 2.5,1 1.5,6 2,4 4,1 8,0.5 2,-1 1,-2.5 1.5,-8 1,-2 4.5,-2 8,0 12,4.5 21.5,5.5 4,2 4.5,4 4,6 1.5,2 6,4 4.5,6 1.5,2 2.5,1 2,0 8,-0.5 2,-0.5 2,-1.5 6,-6.5 12,-4.5 5.5,-3.5 1.5,-2 0.5,-2 -2.5,-10 0,-4 1.5,-6 1.5,-2 2.5,-2 1.5,-2 -1.5,-2 -3,-2 -1,-2 -0.5,-10 2,-8 3,0 1,6.5 4,11.5 4.5,6 -1,6 0,6 0.5,8 1.5,8 -0.5,2 -5,6 -0.5,2 -0.5,14 0,2 -1,1.5 -2,0.5 -2,0 -16,-0.5 -2,0.5 -6,4 -4,1 -22,0 -2.5,-1 -5.5,-4.5 -2,-0.5 -28,-2.5 -4,-1.5 -8,-6 -2,-1 -2,1.5 -2.5,6.5 -1.5,2 -2,1 -2,0 -36,-3 -2.5,-2 -3.5,-7 -2,-0.5 -6,0 -38,-6.5 -7.5,0 -12.5,3 -4,0 -1,-1 -1,-2 0,-16 -0.5,-4 -1.5,-3.5 -2,-3.5 -8,-9 -8,-8 -15,-10 -5,-1 -6,-1 -2,-1 -0.5,-3z"/><path fill="#0015ff" d="M903,96l0.5,4 1.5,1.5 4,2.5 13.5,12 24.5,15 10,2 14,1 6,-0.5 12,-2.5 5.5,-1 40.5,-2 4,1 10,4 6.5,1 16,4 8.5,4 9,5 14,5.5 2,0.5 18,-4 2,-1.5 1,-1.5 6.5,-20 1.5,-2 4,-4 -2.5,-4 -0.5,-2 0,-12 2,-6 2,0 -2,6 0.5,12 1,2 3,2 1.5,2 -1.5,2 -2.5,2 -1.5,2 -1,4 -0.5,6 2.5,10 -0.5,2 -1.5,2 -7.5,4.5 -10,3.5 -6,6.5 -2,1.5 -4,1 -8,0 -2,-1 -2,-2 -4.5,-6 -6,-4 -1.5,-2 -4,-6 -4.5,-4 -4,-2 -21.5,-5.5 -12,-4.5 -8,0 -4.5,2 -1,2 -1.5,8 -1,2.5 -2,1 -8,-0.5 -4,-1 -2,-4 -1.5,-6 -2.5,-1 -4,-0.5 -8,0.5 -16,3.5 -4,0 -10,-0.5 -6,0.5 -14,4 -2,0.5 -2,-0.5 -1,-2.5 -1,-6 -2.5,-4 -5,-4 -8.5,-6 -16,-14 -0.5,-2 0.5,-6z"/><path fill="#0040ff" d="M905,96l14.5,0 -0.5,4.5 -1.5,1.5 0.5,2 7.5,8 3.5,3 12,7.5 7.5,5.5 4.5,1.5 12,2 8,0.5 6,-0.5 10,-2.5 10,-1 36,-1.5 4,1 10,4 6,1 16,3.5 16,6.5 8,1.5 10,3 10,-2 4,-1.5 2,-3 6.5,-14.5 1.5,-2 4.5,-4 0,-2 -0.5,-1 -2,-1.5 -3,-1.5 -1,-2 0,-16 10,0 -2,6 0,12 0.5,2 2.5,4 -4,4 -1.5,2 -6.5,20 -1,1.5 -4,2 -16,3.5 -2,-0.5 -14,-5.5 -9,-5 -8.5,-4 -16,-4 -6.5,-1 -10,-4 -4,-1 -40.5,2 -5.5,1 -12,2.5 -6,0.5 -14,-1 -10,-2 -24,-14.5 -14,-12.5 -4,-2.5 -1.5,-1.5 -0.5,-4z"/><path fill="#006aff" d="M921,96l1.5,0 0.5,6 10,10 8,5 10,8.5 6.5,2.5 7.5,1.5 12,0 14,-2 8,-0.5 36,-1.5 4,1 10,4 8,1 16,3.5 12,4.5 4,0.5 8,0.5 8,2 2,0 6,-2.5 2,-1.5 8,-12.5 5,-6 -0.5,-2 -2,-2 -1,-2 0,-18 2.5,0 0,16 1,2 3,1.5 2,1.5 0.5,1 0,2 -4.5,4 -1.5,2 -6.5,14.5 -2,3 -2,1 -10,2.5 -4,-0.5 -8,-2.5 -8,-1.5 -16,-6.5 -16,-3.5 -6,-1 -10,-4 -4,-1 -34,1.5 -12,1 -12,2.5 -12,0 -10.5,-1.5 -5.5,-2 -8,-5.5 -13.5,-8.5 -8,-8 -1.5,-2 -0.5,-2 1.5,-1.5 0.5,-4.5z"/><path fill="#0095ff" d="M923,96l13.5,0 -1,4 -1.5,2 -0.5,2 0.5,2 2,2 7,5.5 9,8.5 9,4 6,1.5 12,0 16,-1.5 40,-1.5 4,1 10,3.5 8,1 16,3 10,3.5 6,0.5 10,0 8,0.5 3.5,-1.5 2,-2 7.5,-10 3.5,-4 -0.5,-8 0,-16 1.5,0 0,18 1,2 2,2 0.5,2 -5,6 -8,12.5 -2,1.5 -6,2.5 -2,0 -8,-2 -8,-0.5 -4,-0.5 -12,-4.5 -16,-3.5 -8,-1 -10,-4 -4,-1 -36,1.5 -8,0.5 -14,2 -12,0 -7.5,-1.5 -6.5,-2.5 -10,-8.5 -8,-5 -10,-10 -0.5,-6z"/><path fill="#00bfff" d="M937,96l12,0 0,3.5 -4,-0.5 -2,0.5 -2,1 -1.5,1.5 -1,2 1,2 5.5,5 6.5,7 2.5,2 9,4 6,1.5 10,0.5 12,-1 24,-0.5 20,-0.5 4,0.5 10,3.5 10,1 14,2.5 10,2.5 10,0 12,-1 2,-1 2,-1.5 9.5,-10.5 1,-2 -0.5,-1.5 -2,-1.5 -2,-1 2.5,-12 0,-6 5.5,0 0,16 0.5,8 -3.5,4 -5,7 -4,4.5 -2,1.5 -4,0.5 -6,-0.5 -12,0 -4,-0.5 -10,-3.5 -16,-3 -8,-1 -10,-3.5 -4,-1 -40,1.5 -16,1.5 -12,0 -6,-1.5 -9,-4 -9,-8.5 -7,-5.5 -2,-2 -0.5,-2 0.5,-2 1.5,-2 1,-4z"/><path fill="#00eaff" d="M951,96l1,0 -0.5,6 -0.5,1.5 -2,0.5 -2,-0.5 -2,0 -1,0.5 0,2 12,12 9,4.5 6,1.5 6,0 14,-0.5 24,0.5 20,-1 6,1 6,2.5 4,0.5 8,0.5 22,3.5 8,0.5 4,-0.5 12,-3.5 6.5,-5.5 1.5,-2 -4,-4 3,-4 0,-4 2,-6 0,-6 3.5,0 0,6 -2.5,12 2,1 1.5,1 1,2 -1,2 -11.5,12 -4,1.5 -8,0.5 -8,0 -6,-0.5 -10,-2.5 -14,-2.5 -8,-0.5 -10,-3.5 -4,-0.5 -20,0.5 -24,0.5 -12,1 -10,-0.5 -6,-1.5 -9,-4 -2.5,-2 -6.5,-7 -5.5,-5 -1,-2 1,-2 1.5,-1.5 4,-1.5 4,0.5 0,-3.5z"/><path fill="#15ffea" d="M953,98l0,4 -1,2 -1.5,2 -0.5,2 7.5,8 5.5,3 8,3 6,0.5 12,0 24,0.5 22,-1 6,1 6,2 4,1 8,0.5 16,2 12,0.5 4,-0.5 4,-1.5 10,-4.5 3,-2.5 -1.5,-2 -3.5,-2 -0.5,-2 0.5,-1 4,-2 1,-1 2,-8 0,-6 4,0 0,6 -2,6 0,4 -3,4 4,4 -1.5,2 -6.5,5.5 -8.5,2.5 -7.5,1.5 -10,-0.5 -20,-3.5 -10,-0.5 -8,-3 -6,-1 -20,1 -24,-0.5 -14,0.5 -6,0 -6,-1.5 -9,-4.5 -12,-12 0,-2 1,-0.5 2,0 2,0.5 2,-0.5 0.5,-1.5 0.5,-6 1,0z"/><path fill="#40ffbf" d="M953,96l0.5,0 0,6 -0.5,4 0.5,2 3.5,4 4,3 12,5.5 6,1 10,-0.5 24,1 24,-0.5 4,0.5 8,2.5 14,1 12,1 14,0 4,-1 7,-3.5 2.5,-2 -1,-2 -2.5,-2 0,-2 2.5,-8 0,-10 8.5,0 0,4 -2,10 -1,1 -4,2 -0.5,1 0.5,2 3.5,2 1.5,2 -3,2.5 -10,4.5 -4,1.5 -4,0.5 -12,-0.5 -16,-2 -8,-0.5 -4,-1 -6,-2 -6,-1 -22,1 -24,-0.5 -12,0 -6,-0.5 -8,-3 -5.5,-3 -7.5,-8 0.5,-2 1.5,-2 1,-2z"/><path fill="#6aff95" d="M954.5,98l0,8 2.5,2.5 4,3.5 3,2 13,5 4,1 32,1.5 24,-1 4,0.5 10,3 12,0 12,1 16,-1 4,-2 2.5,-2 -1,-4 3.5,-10 0.5,-10 1,0 0,10 -2.5,8 0,2 2.5,2 1,2 -2.5,2 -7,3.5 -2,0.5 -4,0.5 -12,0 -12,-1 -12,-0.5 -2,-0.5 -8,-2.5 -6,-1 -22,1 -24,-1 -12,0 -5,-1 -9,-4 -4,-2 -2,-2 -3.5,-4 -0.5,-2 0.5,-4 0,-6 1,0z"/><path fill="#95ff6a" d="M955,96l0.5,8 1.5,2 10,7 14,5 24,2 10,0.5 22,-1 4,0.5 10,2.5 14,0 10,1 14,-1.5 4,-2 -1,-4 3,-1 2,-3 2,-6 0,-10 1.5,0 -0.5,10 -3.5,10 1,4 -2.5,2 -4,2 -2,0.5 -14,0.5 -12,-1 -12,0 -10,-3 -6,-0.5 -22,1 -32,-1.5 -6,-1.5 -10,-4 -4,-2.5 -4,-3.5 -2,-2 -0.5,-2.5 0,-8zM1085,113.5l2,0 1,0.5 -1,2 -2,-0.5 -1.5,-1.5z"/><path fill="#bfff40" d="M956,98l0.5,4 0.5,2 4.5,2 5.5,4 2,1 14,5.5 12,1.5 18,1.5 24,-0.5 6,0.5 8,2 14,0 10,0.5 11,-2 -0.5,-2 -5,-2 -1.5,-2 4,-1 4,-2 4,1.5 2,0 2,-0.5 2,-6 0.5,-10 1.5,0 0,8 0,2 -2,6 -2,3 -3,1 1,4 -3.5,2 -14.5,1.5 -10,-1 -14,0 -10,-2.5 -4,-0.5 -24,1 -32.5,-2.5 -15,-6 -5,-4 -3.5,-2 -1.5,-2 -0.5,-8 1,0zM1083.5,114l1.5,1.5 2,0.5 1,-2 -1,-0.5 -2,0z"/><path fill="#eaff15" d="M957,96l1.5,0 0.5,5.5 6,1.5 2,2 2,3 3.5,2 6.5,2.5 6,2.5 4.5,1 23.5,2.5 8,0 16,-0.5 6,0.5 8,2 26.5,-0.5 2,-2 -4.5,-2 -2.5,-2 8.5,-2 3.5,-2 1,-2 0,-12 12,0 -0.5,10 -2,6 -2,0.5 -2,0 -4,-1.5 -4,2 -4,1 1.5,2 5,2 0.5,2 -9,2 -12,-0.5 -14,0 -8,-2 -6,-0.5 -20,0.5 -8,-0.5 -26,-2.5 -14,-5.5 -2,-1 -5.5,-4 -4.5,-2 -0.5,-2 -0.5,-6z"/><path fill="#ffea00" d="M959,96l17,0 0,6 -1,2.5 -1.5,1.5 0.5,2 5,2.5 10,3.5 10,2 10,1 12,0.5 18,0 12,2 18.5,-1.5 -2,-4 1.5,-1 4,-1.5 8,-1 1,-0.5 1,-2 0,-12 2.5,0 0,12 -1,2 -1.5,1 -2,1 -8.5,2 2.5,2 4.5,2 -2,2 -2.5,0.5 -24,0 -8,-2 -6,-0.5 -20,0.5 -14,-1 -16,-2 -14.5,-5.5 -3.5,-2 -2,-3 -2,-2 -6,-1.5 -0.5,-5.5z"/><path fill="#ffbf00" d="M977,96l0.5,0 0,6 -1,4 1,2 3.5,1.5 10,3.5 6,1 10,1.5 14,1 22,0 8,1.5 4,-0.5 4,-1 2,-0.5 -6,-1.5 -1,-0.5 -1.5,-2 4.5,-1.5 2,0 4,2.5 3.5,-1 2.5,-2 1.5,-2 0.5,-4 1,-2 0.5,-6 10.5,0 0,12 -1,2 -1,0.5 -8,1 -4,1.5 -1.5,1 2,4 -4.5,0.5 -14,1 -12,-2 -20,0 -19.5,-1.5 -12.5,-2.5 -9.5,-3.5 -3.5,-2 -0.5,-2 2,-2 0.5,-2 0,-6z"/><path fill="#ff9500" d="M978.5,98l0,8 2.5,2 13.5,4 8.5,1.5 16,2 8,0 18,-0.5 2,-1 -1,-2 7,-1.5 6,-2 2,0 2,1.5 2,-0.5 1,-1.5 0.5,-4 1,-4 0.5,-4 4.5,0 -0.5,6 -1,2 -0.5,4 -1.5,2 -2.5,2 -3.5,1 -4,-2.5 -2,0 -4.5,1.5 1.5,2 1,0.5 6,1.5 -6,1.5 -4,0.5 -10,-1.5 -18,0 -10,-0.5 -16,-2 -8,-1.5 -11.5,-4.5 -1,-2 1,-4 0,-6 1,0z"/><path fill="#ff6a00" d="M979,96l1,0 0,8 1,2 13.5,4 12.5,3 16,1.5 8.5,-0.5 -2.5,-2 -1.5,-2 1.5,-0.5 2,0 2,0.5 0.5,2 1.5,1.5 2,0 2,0 6,-3.5 8,-1 2.5,-1 0.5,-2 0,-10 12,0 0,2 -2,10 -1,1.5 -2,0.5 -2,-1.5 -2,0 -2,0.5 -4,1.5 -7,1.5 1,2 -2,1 -22,0.5 -14,-1 -8,-1 -6.5,-1.5 -13.5,-4 -2.5,-2 0,-10z"/><path fill="#ff4000" d="M981,96l19.5,0 -0.5,4 -1,4 1,2 3,2 2,2 4,1.5 8,0 10,-3.5 4,-0.5 2,0.5 4,2.5 2.5,-0.5 4,-2 2.5,-2 0.5,-2 0.5,-8 9,0 0,10 -1,2 -2,1 -8,1 -6,3.5 -2,0 -2,0 -1.5,-1.5 -0.5,-2 -2,-0.5 -3.5,0.5 1.5,2 2.5,2 -8.5,0.5 -14,-1.5 -14,-3 -14,-4 -1,-2 0,-2 0,-6z"/><path fill="#ff1500" d="M1001,96l3.5,0 0,4 -0.5,4 3,3.5 2,1.5 14,-2 8,-2 2,0 4,1.5 2,0 2,-4.5 0.5,-6 5.5,0 -0.5,8 -0.5,2 -2.5,2 -4.5,2.5 -2,0 -4,-2.5 -2,-0.5 -4,0.5 -10,3.5 -8,0 -4,-1.5 -2,-2 -3,-2 -1,-2 1,-4 0.5,-4z"/><path fill="#ea0000" d="M1005,96l36.5,0 -0.5,6 -2,4.5 -2,0 -4,-1.5 -2,0 -8,2 -14,2 -2,-1.5 -3,-3.5z"/></g></g>
<g fill="none" stroke="#ece245" stroke-width="2.2" stroke-linejoin="round" stroke-linecap="round"><path d="M812.7,126.4C812.7,124.5 816.9,122.1 820.2,120.7C823.5,119.3 828.1,118.3 832.7,118.2C837.3,118.1 844,119.1 847.8,120.2C851.5,121.2 855.9,122.7 855.3,124.4C854.6,126.2 847.3,129.1 844,130.7C840.7,132.3 839.2,133.7 835.2,134C831.3,134.2 824,133.5 820.2,132.2C816.5,130.9 812.7,128.4 812.7,126.4Z"/><path d="M770.1,130.2C771.4,128.1 775.6,123.5 780.2,120.2C784.7,116.8 789.3,112.9 797.7,110.2C806,107.5 820.6,104.1 830.2,103.9C839.8,103.7 847.8,107 855.3,108.9C862.8,110.9 869.2,114 875.3,115.7C881.3,117.3 889.1,117.1 891.6,118.9C894,120.7 892.1,123.3 889.8,126.4C887.5,129.6 881.9,134.6 877.8,137.7C873.7,140.8 869,143.2 865.3,145.2C861.5,147.2 859.4,148.9 855.3,149.7C851.1,150.6 846.1,150.6 840.2,150.2C834.4,149.9 827.7,149.4 820.2,147.7C812.7,146.1 803.1,142.7 795.2,140.2C787.2,137.7 776.8,134.4 772.6,132.7C768.5,131 768.9,132.3 770.1,130.2Z"/><path d="M942.9,105.2C941.6,108.5 939.9,111.4 939.1,115.2C938.4,118.9 936.9,124.6 938.4,127.7C939.8,130.8 943,132.3 947.9,134C952.8,135.6 961.3,136.5 967.9,137.7C974.6,139 983.4,139.4 988,141.5C992.6,143.5 993,147.1 995.5,150.2C998,153.4 999.2,157.4 1003,160.2C1006.7,163.1 1013,165.7 1018,167.3C1023,168.8 1026.8,169.6 1033,169.8C1039.3,169.9 1047.6,169 1055.6,168.3C1063.5,167.5 1072.3,166.6 1080.6,165.2C1088.9,163.9 1098.5,161.7 1105.6,160.2C1112.7,158.8 1119.6,158.6 1123.2,156.5C1126.7,154.4 1126.7,151.1 1126.9,147.7C1127.1,144.4 1126.3,140 1124.4,136.5C1122.5,132.9 1119.2,129.2 1115.7,126.4C1112.1,123.7 1107.3,121.8 1103.1,120.2C1099,118.5 1094.8,117.7 1090.6,116.4"/><path d="M1140.7,120.2C1142.4,123.5 1145.1,126.4 1145.7,130.2C1146.3,134 1144.2,139 1144.4,142.7C1144.7,146.5 1145.9,150.4 1147,152.7C1148,155 1149.5,155.2 1150.7,156.5"/><path d="M1091.1,179.8C1096,178.7 1099,177.5 1105.6,176.5C1112.2,175.6 1123.2,174.9 1130.7,174C1138.2,173.1 1144,172 1150.7,171"/></g><text x="864" y="133" font-family='"Liberation Sans",Arial,sans-serif' font-size="18.5" font-weight="normal" text-anchor="middle" fill="#e6e6a0">1</text><text x="891.6" y="154.3" font-family='"Liberation Sans",Arial,sans-serif' font-size="18.5" font-weight="normal" text-anchor="middle" fill="#e6e6a0">10</text><text x="946.6" y="154.3" font-family='"Liberation Sans",Arial,sans-serif' font-size="18.5" font-weight="normal" text-anchor="middle" fill="#e6e6a0">20</text>
<path d="M1001,77.1H1270" stroke="#222" stroke-width="1.3" stroke-dasharray="6.5,4" fill="none"/>
<path d="M1082.6,95.6H1270" stroke="#222" stroke-width="1.3" stroke-dasharray="6.5,4" fill="none"/>
<path d="M714.3,74.6C719.5,76 723.2,77.9 730,78.9C736.8,79.9 745.9,80.1 755.1,80.6C764.3,81.1 776,81.7 785.2,81.9C794.4,82.2 801,82.5 810.2,82.1C819.4,81.7 830.2,80.3 840.2,79.6C850.2,78.8 861.1,78.3 870.3,77.6C879.5,76.8 886.9,75.4 895.3,75.1C903.6,74.8 911.2,75.5 920.4,75.6C929.6,75.7 940.4,75.5 950.4,75.9C960.4,76.3 971.7,77 980.5,78.1C989.3,79.2 996.8,81.2 1003,82.6C1009.2,84 1011.3,84.7 1018,86.4C1024.7,88.1 1034.7,90.7 1043,92.6C1051.3,94.5 1059.7,95.9 1068,97.6C1076.3,99.3 1084.6,101.1 1093,102.7C1101.4,104.3 1109.8,105.9 1118.2,107.2C1126.6,108.5 1134.9,109.8 1143.2,110.7C1151.5,111.6 1159,112.2 1168.2,112.7C1177.4,113.2 1187.9,113.8 1198.3,113.9C1208.7,114 1218.6,113.2 1230.8,113.2C1243,113.2 1257.9,113.7 1271.4,113.9" fill="none" stroke="#000" stroke-width="2.6"/>
<g fill="#0a0a0a"><circle cx="736.1" cy="103.2" r="2.7"/><circle cx="736.1" cy="120.7" r="2.7"/><circle cx="736.1" cy="137.2" r="2.7"/><circle cx="838.2" cy="98.9" r="2.7"/><circle cx="837.7" cy="125.9" r="2.7"/><circle cx="838.2" cy="151.5" r="2.7"/><circle cx="912.8" cy="101.7" r="2.7"/><circle cx="912.8" cy="119.7" r="2.7"/><circle cx="912.8" cy="136.7" r="2.7"/><circle cx="912.8" cy="155.2" r="2.7"/><circle cx="988.5" cy="106.7" r="2.7"/><circle cx="988.5" cy="123.9" r="2.7"/><circle cx="988.5" cy="141.5" r="2.7"/><circle cx="988.5" cy="159" r="2.7"/><circle cx="1035.5" cy="114.7" r="2.7"/><circle cx="1035.5" cy="128.9" r="2.7"/><circle cx="1035.5" cy="144.7" r="2.7"/><circle cx="1035.5" cy="161.5" r="2.7"/><circle cx="1035.5" cy="177.8" r="2.7"/><circle cx="1117.6" cy="147.2" r="2.7"/><circle cx="1117.6" cy="179.8" r="2.7"/><circle cx="1155.7" cy="118.9" r="2.7"/><circle cx="1155.7" cy="132.2" r="2.7"/><circle cx="1155.7" cy="149.5" r="2.7"/><circle cx="1155.7" cy="165.2" r="2.7"/><circle cx="1155.7" cy="182" r="2.7"/></g>
<rect x="714.3" y="50.8" width="557.1" height="163.3" fill="none" stroke="#4a4a4a" stroke-width="1.4"/>
<path d="M756.4,214.1v-4.5 M756.4,50.8v4.5M894.8,214.1v-4.5 M894.8,50.8v4.5M1035,214.1v-4.5 M1035,50.8v4.5M1172,214.1v-4.5 M1172,50.8v4.5M714.3,96.4h5.5 M1271.4,96.4h-5.5M714.3,143.2h5.5 M1271.4,143.2h-5.5M714.3,190.8h5.5 M1271.4,190.8h-5.5" stroke="#4a4a4a" stroke-width="1.2" fill="none"/>
<text x="753.9" y="238.2" font-family='"Liberation Serif","Times New Roman",serif' font-size="22" font-weight="bold" text-anchor="middle" fill="#000">130</text><text x="894" y="238.2" font-family='"Liberation Serif","Times New Roman",serif' font-size="22" font-weight="bold" text-anchor="middle" fill="#000">140</text><text x="1035.8" y="238.2" font-family='"Liberation Serif","Times New Roman",serif' font-size="22" font-weight="bold" text-anchor="middle" fill="#000">150</text><text x="1174.5" y="238.2" font-family='"Liberation Serif","Times New Roman",serif' font-size="22" font-weight="bold" text-anchor="middle" fill="#000">160</text>
<text x="707.5" y="67.4" font-family='"Liberation Serif","Times New Roman",serif' font-size="22" font-weight="bold" text-anchor="end" fill="#000">2</text><text x="707.5" y="103.8" font-family='"Liberation Serif","Times New Roman",serif' font-size="22" font-weight="bold" text-anchor="end" fill="#000">0</text><text x="707.5" y="150.6" font-family='"Liberation Serif","Times New Roman",serif' font-size="22" font-weight="bold" text-anchor="end" fill="#000">-2</text><text x="707.5" y="198.2" font-family='"Liberation Serif","Times New Roman",serif' font-size="22" font-weight="bold" text-anchor="end" fill="#000">-4</text>
<text transform="translate(684,136.5) rotate(-90)" font-family='"Liberation Serif","Times New Roman",serif' font-size="18" font-weight="bold" font-style="italic" text-anchor="middle" y="2.9">z</text>
<text x="996" y="259.8" font-family='"Liberation Serif","Times New Roman",serif' font-size="22" font-weight="bold" text-anchor="middle" fill="#000" font-style="italic">x</text>
<rect x="1281.4" y="45.8" width="20.8" height="170.8" fill="url(#jet)"/><text x="1304.7" y="58.7" font-family='"Liberation Serif","Times New Roman",serif' font-size="22" font-weight="bold" text-anchor="start" fill="#000">150</text><text x="1304.7" y="139.6" font-family='"Liberation Serif","Times New Roman",serif' font-size="22" font-weight="bold" text-anchor="start" fill="#000">75</text><text x="1304.7" y="220.2" font-family='"Liberation Serif","Times New Roman",serif' font-size="22" font-weight="bold" text-anchor="start" fill="#000">0</text><text x="1275.9" y="236.6" font-family='"Liberation Serif","Times New Roman",serif' font-size="24"><tspan font-style="italic" font-weight="bold">u</tspan><tspan font-weight="normal">M</tspan></text>
<text x="725.8" y="33.8" font-family='"Liberation Sans",Arial,sans-serif' font-size="26.3" font-weight="bold" text-anchor="start" fill="#000">B1</text><text x="788.4" y="30.5" font-family='"Liberation Serif","Times New Roman",serif' font-size="36" font-weight="bold">Measured dissolved oxygen</text>
<g clip-path="url(#clipC1)"><g filter="url(#b12)"><rect x="58.6" y="601.3" width="433.1" height="95.7" fill="#0014ff"/><path fill="#000095" d="M366.5,643l7.5,0.5 6.5,1.5 14,10 4,2 2,0 4,-1.5 14,-6.5 16,-3 10,-2.5 4,0 6,2 6,4 4.5,8 0.5,2 0,2 -3,6 -2,2.5 -2,1 -8,2 -8,4 -4,0 -4,0 -3.5,-1.5 -8.5,-6 -2,-1 -2,-0.5 -8,2 -10,4 -4,1 -6,0.5 -10,-1 -2.5,-1 -1.5,-1.5 -1,-2.5 -3,-14 -2,-3.5 -4.5,-6.5 0,-2z"/><path fill="#0000bf" d="M474.5,601.5l18,0 0,96 -140.5,0 2.5,-8.5 2,-1 4,0.5 2,0 2.5,-1 1.5,-2 -1,-4 -4.5,-12 0.5,-8 -1.5,-16 0,-2 0.5,-2.5 2,-1.5 4,-0.5 12,2 4,1.5 12,8.5 2,0.5 4,0.5 4,-1 12,-5.5 18,-3.5 18,-6.5 4,-0.5 8,0 4,-1 10.5,-4.5 2,-2 0.5,-2 -1.5,-2 -3,-2 -0.5,-1 -0.5,-9 -1.5,-4zM366,643.5l0,2 0.5,1.5 4,5 2,3.5 2,12 1.5,4 2,2 2.5,1 10,1 6,-0.5 4,-1 10,-4 8,-2 2,0.5 2,1 8.5,6 3.5,1.5 4,0 4,0 8,-4 8,-2 2,-1 2,-2.5 3,-6 0,-2 -0.5,-2 -4.5,-8 -6,-4 -6,-2 -4,0 -10,2.5 -16,3 -14,6.5 -4,1.5 -2,0 -4,-2 -14,-10 -6.5,-1.5 -5.5,-0.5zM224.5,624.5l2,0 22,4.5 10.5,8.5 1.5,2 0.5,2 -2.5,3 -6.5,5 -7.5,6.5 -4,0.5 -16,-0.5 -6,-0.5 -4,-1 -2,-1 -1,-2 -1,-10 0,-2 3,-4 3.5,-4zM200.5,667.5l10,-0.5 4,2 7,0.5 1,1 0,1 -2,4.5 -8.5,17.5 -1,4 -12.5,0 0,-16 0,-2 -2,-5 0,-5 2,-2z"/><path fill="#0000ea" d="M454.5,601.5l20,0 0,6 1.5,4 0.5,9 0.5,1 3,2 1.5,2 -0.5,2 -2,2 -2.5,1 -10,4.5 -14,0.5 -18,6.5 -18,3.5 -12,5.5 -4,1 -4,-0.5 -2,-0.5 -14,-9.5 -10.5,-2 -7.5,0 -2.5,2 0,2 1.5,18 -0.5,6 1,4 3.5,10 1,4 -1.5,2 -2.5,1 -2,0 -4,-0.5 -2,1 -2.5,8.5 -3.5,0 4,-13.5 3,-2.5 0.5,-2 -2,-8 0.5,-2 3.5,-6 -1,-20 0.5,-2 1.5,-2 1.5,-1.5 4,-1 6,0 6,1 6,1.5 8,5.5 4,1.5 8,0 4,-1 8,-3.5 14,-2 4,-1 20,-7.5 12,-3.5 7,-2.5 -1,-2.5 -2,-1 -11.5,-0.5 -2.5,-2zM162.5,619l4,-1 4,0 7,3.5 11,5.5 2,0.5 6,0.5 10,3.5 2,0.5 4,-2 10,-7.5 2,-1 2,0 14,3.5 10,0.5 3.5,2 6.5,5 5,3 2.5,2 0.5,2 0,2 -1,2 -5,8 -9,10 -4.5,6 0.5,2 3,1.5 4,4.5 5,10 3,4 0,8 -53.5,0 1,-4 10.5,-22 -1,-2 -7,-0.5 -4,-2 -2,0 -10,0.5 -2,1.5 0,5.5 2,5 0,2 0,16 -5.5,0 0,-16 -2,-4 -0.5,-14.5 -2,-1.5 -4,-2 -4,0 -2,0 -6,-4 -10,-4 -3,-2 -4,-4 -9,-12 -0.5,-2 0.5,-4 0.5,-2 1.5,-2 2,-1zM223.5,625.5l-8.5,8 -4.5,6 0,2 1,10 1,2 2,1 4,1 6,0.5 16,0.5 4,-0.5 7.5,-6.5 6.5,-5 2.5,-3 -0.5,-2 -1.5,-2 -10.5,-8.5 -22,-4.5 -2,0z"/><path fill="#0015ff" d="M116.5,601.5l64.5,0 -0.5,3 -5,3 -0.5,2 0.5,2 1.5,2 2.5,2 11,6 2,0.5 8,-3 4,1 8,4 2,0 2,-1 4,-2.5 4,-0.5 18,3 12,0 16,9 2.5,1.5 1.5,2 1.5,4 -0.5,2 -0.5,2 -6,10 -1.5,4 0.5,2 2.5,4 1.5,4 4.5,4 -4,4 -1.5,2 -2,6 -1,14 -3.5,0 0,-8 -3,-4 -5,-10 -4,-4.5 -3,-1.5 -0.5,-2 4.5,-6 9,-10 5,-8 1,-2 0,-2 -0.5,-2 -1.5,-1.5 -6,-3.5 -6.5,-5 -3.5,-2 -8,-0.5 -16,-3.5 -2,0 -3.5,2 -8.5,6.5 -4,2 -2,-0.5 -10,-3.5 -6,-0.5 -2,-0.5 -15,-7.5 -5,-1.5 -16,4 -4,1 -1.5,2.5 -0.5,2 -0.5,4 0.5,1.5 9,12.5 4,4 3,2 10,4 6,4 2,0 4,0 4,2 2,1.5 0.5,14.5 2,4 0,16 -119.5,0 0.5,-4 1.5,-4 0,-14 2,-6 0,-14 1,-2 4,-3 4,-5 6,-0.5 4,-1.5 4,-5 2,-1.5 12,-7.5 2.5,-2 2,-4 3,-10 -0.5,-2 -1,-1 -6,-1.5 -1.5,-1.5 1.5,-4 0.5,-2zM452.5,601.5l2,0 0,18 2.5,2 11.5,0.5 2,1 1,2.5 -7,2.5 -12,3.5 -20,7.5 -4,1 -14,2 -8,3.5 -4,1 -8,0 -4,-1.5 -8,-5.5 -6,-1.5 -6,-1 -6,0 -4,1 -1.5,1.5 -1.5,2 -0.5,2 1,20 -3.5,6 -0.5,2 2,8 -0.5,2 -3,2.5 -4,13.5 -2,0 3,-10 0,-2 -1,-1 -4.5,-1 -2,-2 4.5,-4 0.5,-4 1,-2 5.5,-6 1.5,-2 0,-2 -0.5,-18 0.5,-2 1,-2 2.5,-2 4,-1.5 12,-0.5 8,1.5 6,3.5 4,1 12,-0.5 10,-3 16,-1.5 25,-9 1,-2 -4,-1.5 -1.5,-2.5 0,-20z"/><path fill="#0040ff" d="M60.5,601.5l54.5,0 -0.5,2 -1.5,4 1.5,1.5 6,1.5 1,1 0.5,2 -3,10 -2.5,4.5 -2,1.5 -12,7.5 -2,1.5 -4,5 -4,1.5 -6,0.5 -4,5 -4,3 -1,2 0,14 -2,6 0,14 -1.5,4 -0.5,4 -15,0 0,-65 4,-0.5 2,0.5 4,3 4,2 10,0 2,-1 2,-1.5 5,-7.5 1,-2 0.5,-2 -1,-4 -1.5,-3.5 -2,-1.5 -2,-0.5 -8,0 -8,0.5 -2,1 -4,3.5 -2,1.5 -4,-0.5 0,-18.5zM77.5,605.5l-0.5,2 1.5,1 2,0.5 2,-1 0.5,-0.5 0,-2 -2.5,-2 -2,0.5zM182.5,601.5l0.5,0 0,8 1.5,2 8,5 2,0 6.5,-3 1.5,-0.5 2,0 14,5 22,2.5 14,0.5 5.5,0.5 4.5,1.5 12,6 3,2.5 1,1.5 2,4.5 0.5,2 0,2 -4,8 -1,2 0.5,2 1.5,2 6.5,6 4.5,6 1.5,1 18,8 10,3.5 2,0 16,-5.5 4,-2.5 8,-7.5 1,-1 1,-2 -0.5,-16 0.5,-4 1,-2 2.5,-2 4.5,-3 10,-0.5 10,0 10,3 16,-1 8,-1 12,-0.5 4,-1 16,-6 1.5,-2 -3.5,-3 -4,-2 -1.5,-1 0,-2 1.5,-4 0,-12 10.5,0 0,20 1.5,2.5 4,1.5 -1,2 -25,9 -16,1.5 -10,3 -12,0.5 -4,-1 -6,-3.5 -6,-1 -14,0 -4,1.5 -2.5,2 -1,2 -0.5,2 0.5,18 0,2 -1.5,2 -5.5,6 -1,2 -0.5,4 -4.5,4 2,2 4.5,1 1,1 0,2 -3,10 -78.5,0 1,-14 2,-6 1.5,-2 4,-4 -4.5,-4 -1.5,-4 -2.5,-4 -0.5,-2 1.5,-4 6.5,-12 0.5,-2 -0.5,-2 -1,-2 -1.5,-2 -10.5,-6 -6,-3.5 -2,-1 -12,0 -18,-3 -4,0.5 -4,2.5 -2,1 -2,0 -8,-4 -4,-1 -8,3 -2,-0.5 -11,-6 -2.5,-2 -1.5,-2 -0.5,-2 0.5,-2 5,-3 0.5,-3zM294.5,601.5l4.5,0 0,4 -1.5,2 -5,0 0,-2 1.5,-2z"/><path fill="#006aff" d="M184.5,603.5l0.5,2 1.5,1.5 8,4 2,0 4,-1 2,0 18,6.5 4,1 14,1.5 22,0.5 8,-1 6,-1.5 6,-2.5 9,-1 7,-2 -8,-1 -2.5,-1 1,-2 4.5,-4 1,-2 2,0 -0.5,2 -1.5,2 0,2 2,0 3,0 1,-1.5 0.5,-0.5 0,-4 28.5,0 0,6 -1,2.5 -6,6 -2,1.5 -30,7 -2,1 -0.5,2 4,10 0.5,2 -0.5,2 -1,4 0,2 4,6 1.5,10 1.5,2 2.5,1.5 18,7 4,1 4,0 10,-3.5 4,-2.5 6,-3 3.5,-2.5 1.5,-2 0,-2 0,-14 0,-4 1.5,-2 2.5,-2 5,-3.5 4,-1 16,-0.5 10,0.5 18,-0.5 20,-0.5 4,-1 8,-3.5 1.5,-2 -1.5,-1 -2,-2.5 -0.5,-2.5 0.5,-2 1.5,-6 0,-10 2.5,0 0,12 -1.5,4 0,2 1.5,1 4,2 3.5,3 -1.5,2 -16,6 -4,1 -12,0.5 -8,1 -16,1 -10,-3 -10,0 -10,0.5 -4.5,3 -2.5,2 -1,2 -0.5,4 0.5,16 -1,2 -1,1 -8,7.5 -4,2.5 -16,5.5 -2,0 -10,-3.5 -18,-8 -1.5,-1 -4.5,-6 -6.5,-6 -1.5,-2 -0.5,-2 1,-2 4,-8 0,-2 -0.5,-2 -2,-4.5 -1,-1.5 -3,-2.5 -12,-6 -4.5,-1.5 -5.5,-0.5 -14,-0.5 -22,-2.5 -14,-5 -2,0 -1.5,0.5 -6.5,3 -2,0 -8,-5 -1.5,-2 0,-8 1.5,0zM302,611.5l2.5,0.5 2,-0.5 -2,-1zM78.5,604l2,-0.5 2,1 0.5,1 0,2 -0.5,0.5 -2,1 -2,-0.5 -1.5,-1 0.5,-2zM68.5,615l4,-1 10,0 4,0 3.5,1.5 2,4 1,4 -0.5,2 -1,2 -5,8 -2,1 -2,1 -10,0 -4,-2 -4,-3 -2,-0.5 -4,0.5 0,-12.5 4,0.5 2,-1.5zM76,621.5l-0.5,2 1,0.5 1,-0.5 0,-2z"/><path fill="#0095ff" d="M184.5,601.5l2.5,0 0.5,2 1,0.5 10,2 6,3.5 18,6.5 12,2 26,0.5 12,-2.5 10,-4.5 2,-4 4,-3 2.5,-3 1.5,0 -1,2 -4.5,4 -1,2 2.5,1 8,1 -7,2 -9,1 -6,2.5 -10,2 -22,0 -8,0 -8,-1 -6,-1.5 -18,-6.5 -2,0 -4,1 -2,0 -8,-4 -1.5,-1.5zM328.5,601.5l0.5,0 0,6 -1.5,6 -7,9.5 -2,1.5 -6.5,3 -11.5,7.5 -2,2.5 -0.5,4 -0.5,18 0.5,2 0.5,1 4,2 18,7 4,-0.5 6,-2 2,-1 4,-4.5 8,-3 1.5,-1 0.5,-2.5 0.5,-13.5 0,-2 1.5,-2 2,-2 8,-5.5 4,-0.5 61.5,-2 2.5,-0.5 4,-1.5 2,-2 -10.5,-4 2.5,-1.5 4,-1 2,0.5 2,1.5 1.5,-1.5 2.5,-8 0,-10 1.5,0 0,8 -0.5,4 -1,4 0,4 2,3 1.5,1 -1.5,2 -8,3.5 -4,1 -20,0.5 -18,0.5 -10,-0.5 -16,0.5 -4,1 -5,3.5 -2.5,2 -1.5,2 0,4 0,14 0,2 -1.5,2 -3.5,2.5 -6,3 -4,2.5 -10,3.5 -4,0 -4,-1 -18,-7 -2.5,-1.5 -1.5,-2 -1.5,-10 -4,-6 0,-2 1,-4 0.5,-2 -0.5,-2 -4,-10 0.5,-2 2,-1 30,-7 2,-1.5 6,-6 1,-2.5 0,-6zM302.5,611l2,-0.5 2,1 -2,0.5 -2.5,-0.5zM76.5,621l1,0.5 0,2 -1,0.5 -1,-0.5z"/><path fill="#00bfff" d="M188.5,601.5l12.5,0 0.5,4 1.5,2 1.5,1 20,7.5 12,1 22,0.5 6,-0.5 10,-2.5 6,-4 2.5,-3 5.5,-4 1,-2 1.5,0 -2.5,3 -4,3 -2,4 -2,1 -8,3.5 -10,2 -4,0.5 -22,-0.5 -14,-2 -18,-6.5 -6,-3.5 -10,-2 -1,-0.5 -0.5,-2zM330,603.5l0,8 0.5,0.5 2.5,1.5 -5,4 -2,4 -1.5,4 0,4.5 -6,3 -9.5,6.5 -6.5,2.5 -1,1.5 -1,4 -0.5,8 0.5,4 2,1.5 18,6.5 4,-0.5 4,-1.5 6,-7 6.5,-3 1.5,-2 1,-2 0.5,-8 0.5,-2 1,-2 11,-8.5 4,-1 22,-0.5 12,-1.5 20,-0.5 4,-1 4,-1 -3,-2 -5,-2 0.5,-2 2.5,-2 1,-2 1,-2 0,-12 17,0 0,8 -2.5,10 -1.5,1.5 -2,-1.5 -2,-0.5 -4,1 -2.5,1.5 10.5,4 -2,2 -4,1.5 -18,1 -16,0 -30,1.5 -4,0.5 -8,5.5 -2,2 -1.5,2 0,2 -0.5,13.5 -0.5,2.5 -1.5,1 -8,3 -4,4.5 -2,1 -6,2 -4,0.5 -18,-7 -4,-2 -0.5,-1 -0.5,-2 0.5,-18 0.5,-4 2,-2.5 11.5,-7.5 6.5,-3 2,-1.5 7,-9.5 1.5,-6 0,-6 1,0zM400.5,619l4,-0.5 2.5,1 -0.5,1 -2,1 -6,-2z"/><path fill="#00eaff" d="M202.5,601.5l0.5,4 1.5,2 18,7 6,1 8,1 20,0 6,0 8,-2 4,-1 8,-8 3.5,-2 2,-2 1.5,0 -1,2 -5.5,4 -2.5,3 -6,4 -10,2.5 -6,0.5 -24,-0.5 -8,-1 -4,-1 -16,-6 -3.5,-1.5 -1.5,-2 0,-2 -0.5,-2zM330.5,601.5l1.5,0 0,8 3.5,2 1,2 -1.5,2 -3,2 -1.5,1.5 -2,4.5 0,2 4,8 0,2.5 -1.5,1.5 -2.5,0.5 -24,6.5 -2,3 -0.5,6 0.5,4 2,1.5 16,4.5 2,0 2,-0.5 2,-1.5 6,-9.5 6,-5 4,-7.5 10,-9 4,-2 2,-0.5 10,0.5 14,-0.5 14,-2 9,-0.5 0,-2 -7,-1.5 -2,-0.5 -2.5,-2 2.5,-2 6,-1 4,0.5 4,3 2,-1.5 2.5,-3 0.5,-2 0,-12 4,0 0,12 -1,2 -1,2 -2.5,2 -0.5,2 5,2 3,2 -4,1 -4,1 -20,0.5 -12,1.5 -22,0.5 -4,1 -11,8.5 -1,2 -0.5,2 -0.5,8 -1,2 -1.5,2 -6.5,3 -6,7 -4,1.5 -4,0.5 -18,-6.5 -2,-1.5 -0.5,-4 0.5,-8 1,-4 1,-1.5 6.5,-2.5 9.5,-6.5 6,-3 0,-4.5 1.5,-4 2,-4 5,-4 -2.5,-1.5 -0.5,-0.5 0,-10zM398.5,619.5l6,2 2,-1 0.5,-1 -2.5,-1zM380.5,617l0.5,0.5 -0.5,0.5 -1.5,-0.5z"/><path fill="#15ffea" d="M203.5,603.5l0.5,2 2.5,2 18,6.5 12,2 22,0 12,-2 2,-0.5 2,-1.5 1,-0.5 0.5,-2 1,-8 11,0 -2,2 -3.5,2 -8,8 -2,0.5 -8,2 -6,0.5 -22,0 -12,-1.5 -20,-7.5 -1.5,-2 -0.5,-4 1,0zM332.5,601.5l14.5,0 -0.5,3 -1,3 -0.5,4 0.5,2 1,1 2,1 8,-1 2.5,1 -0.5,2 -2,0 -3,0 -3,-1.5 -2,-0.5 -4,0.5 -6,0 -2,0.5 -2.5,3 -2,4 0,2 6.5,10 2,1 2,-1 8,-7 4,-1.5 4,-0.5 10,0.5 14,-0.5 7.5,-1 2.5,-1 2,-1 -3.5,-2 -1,-2 2.5,-1 6,-4.5 8,0 4,1.5 1.5,-4 0,-10 3.5,0 0,12 -0.5,2 -1,2 -1.5,1 -2,1.5 -4,-3 -2,-0.5 -7,1 -3.5,2 2.5,2 2,0.5 7,1.5 0,2 -9,0.5 -12,2 -16,0.5 -10,-0.5 -4,1.5 -4,2.5 -8,7.5 -4,7.5 -6,5 -6,9.5 -2,1.5 -2,0.5 -2,0 -16,-4.5 -2,-1.5 -0.5,-4 0.5,-6 2,-3 24,-6.5 2.5,-0.5 1.5,-1.5 0,-2.5 -4,-8 0,-2 2,-4 1.5,-2 3,-2 1.5,-2 -1,-2 -3.5,-2 0,-8zM306,647.5l-1.5,1 -0.5,3 0,4 0.5,1 2,1 6,1.5 6,0.5 2,-0.5 1,-1.5 -0.5,-2 -4.5,-9 -2,-1 -2,0zM374.5,617l6,-0.5 3,1 1,2 -2,0.5 -2,0 -4.5,-0.5 -3,-2zM379,617.5l1.5,0.5 0.5,-0.5z"/><path fill="#40ffbf" d="M204.5,603.5l0.5,2 1.5,1 12,5 6,2 14,1.5 20,0.5 6,-1 8,-2 1.5,-1 1,-2 0.5,-8 1.5,0 -1,8 -0.5,2 -1,0.5 -2,1.5 -2,0.5 -12,2 -22,0 -12,-2 -18,-6.5 -2.5,-2 -0.5,-4 1,0zM348.5,601.5l0.5,0 0,2 -1.5,4 -0.5,4 1,2 2.5,0.5 6,-0.5 2,0.5 4,3.5 18,-2 2,0.5 4,2 4,0 1.5,-0.5 2,-2 1,-8 1.5,-6 15.5,0 -0.5,12 -1,2 -4,-1.5 -8,0 -6,4.5 -2.5,1 1,2 3.5,2 -4.5,2 -5.5,1 -10,0.5 -8,0 -8,-0.5 -4,0.5 -4,1.5 -8,7 -2,1 -2,-1 -6.5,-10 0,-2 0.5,-2 2,-3 2,-2 2,-0.5 6,0 4,-0.5 2,0.5 3,1.5 3,0 2,0 0.5,-2 -2.5,-1 -8,1 -2,-1 -1,-1 -0.5,-2 0.5,-4 1,-3 0.5,-3zM373,617.5l3,2 2.5,0.5 4,0 2,-0.5 -1,-2 -3,-1zM337.5,619.5l-1.5,2 -0.5,2 0,2 3,4.5 2,1.5 2,-0.5 6,-4.5 6,-1.5 4,-0.5 8,1 6,0 10,-0.5 5.5,-1.5 -3.5,-2 -15.5,-2 -4.5,-2 -2,0 -4,1 -2,0 -8,-0.5 -6,0 -4,0.5zM306.5,647l6,-1.5 2,0 2,1 4.5,9 0.5,2 -1,1.5 -2,0.5 -6,-0.5 -6,-1.5 -2,-1 -0.5,-1 0,-4 0.5,-3zM310.5,649.5l-2,0 -2.5,2 -0.5,2 1,2 2,0.5 4,0.5 3,-1 0,-2 -1,-2.5 -2,-1.5z"/><path fill="#6aff95" d="M204.5,601.5l1,0 0,2 1.5,2 9.5,4.5 6,2 16,2.5 18,0 8,-0.5 8,-2.5 1.5,-2 0.5,-8 1,0 -0.5,8 -1,2 -1.5,1 -10,2.5 -6,0.5 -20,-0.5 -14,-2 -16,-6.5 -1.5,-1 -0.5,-1.5 0,-2.5zM350,603.5l-1.5,6 0,2 2,1 6,0 2,0.5 4,2.5 2,0.5 10,-0.5 6,-1.5 2,0.5 4,2 2,0 2,0 2,-1 0.5,-2 0.5,-8 1.5,-4 1.5,0 -1.5,6 -1,8 -2,2 -3.5,0.5 -2,0 -4,-2 -2,-0.5 -18,2 -4,-3.5 -2,-0.5 -8,0 -1.5,-2 0.5,-4 1.5,-4 0,-2 1,0zM338.5,618.5l8,-0.5 10,0.5 2,0 4,-1 2,0 4.5,2 15.5,2 3.5,2 -5.5,1.5 -10,0.5 -6,0 -8,-1 -4,0.5 -6,1.5 -6,4.5 -2,0.5 -2,-1.5 -2,-2.5 -1,-2 0,-2 1,-3zM340,621.5l-1,2 0.5,2 1,1 2,0 4,-2 10,-2.5 12,2 9,-0.5 -3,-2 -12,-1.5 -6,0.5 -8,-1 -6,0.5zM310.5,649.5l2,0 2,1.5 1,2.5 0,2 -3,1 -4,-0.5 -2,-0.5 -1,-2 0.5,-2 2.5,-2z"/><path fill="#95ff6a" d="M206.5,601.5l1,0 1,2 2,1 3,3 3.5,2 3.5,1.5 14,2.5 12,0.5 14,0 10,-2.5 1,0 1.5,-2 1,-8 0.5,0 -0.5,8 -1.5,2 -8,2.5 -8,0.5 -18,0 -16,-2.5 -6,-2 -9.5,-4.5 -1.5,-2 0,-2zM350.5,601.5l1.5,0 0,4 -1.5,4 0,1 2,1 6,0 2,0.5 2,2 4,0.5 8,-0.5 4.5,-0.5 1.5,-1 2,0 4,1.5 2,0.5 2,-1 0.5,-8 1.5,-4 2.5,0 -2,6 0,6 -0.5,2 -2,1 -2,0 -2,0 -4,-2 -2,-0.5 -6,1.5 -10,0.5 -2,-0.5 -4,-2.5 -2,-0.5 -6,0 -2,-1 0,-2 1.5,-4 0,-4zM340.5,621l6,-1.5 4,0 6,1 6,-0.5 12,1.5 3,2 -9,0.5 -12,-2 -10,2.5 -4,2 -2,0 -1,-1 -0.5,-2z"/><path fill="#bfff40" d="M208.5,601.5l4.5,0 0.5,4 1.5,2 5.5,2.5 16,3 10,0.5 14,0 9,-2 2.5,-2 1.5,-8 0.5,0 -1,8 -1.5,2 -5,1.5 -6,1 -14,0 -12,-0.5 -14,-2.5 -3.5,-1.5 -3.5,-2 -3,-3 -2,-1 -1,-2zM352.5,601.5l13,0 -1.5,4 0,6 2.5,1.5 2,0 6,-0.5 2,-1 2,-6 0.5,-4 13.5,0 -1.5,4 -0.5,8 -2,1 -2,-0.5 -4,-1.5 -2,0 -1.5,1 -4.5,0.5 -8,0.5 -4,-0.5 -2,-2 -2,-0.5 -6,0 -2,-1 0,-1 1.5,-4 0,-4z"/><path fill="#eaff15" d="M214.5,601.5l0.5,4 1.5,2 4,2 16,3 12,0.5 12,-0.5 8,-2 2.5,-1 1.5,-5.5 0.5,-2.5 0.5,0 -1.5,8 -1.5,1.5 -10,2.5 -12,0 -12,-0.5 -16,-3 -5.5,-2.5 -1.5,-2 -0.5,-4zM366.5,601.5l12.5,0 -0.5,4 -2,6 -2,1 -6,0.5 -2,0 -2,-1 -0.5,-2.5 0,-4 1.5,-4z"/><path fill="#ffea00" d="M214.5,601.5l1,0 0.5,4 0.5,1 1.5,1 2.5,1 16,3 12,1 12,-0.5 4,-0.5 4,-2 2,-1.5 1.5,-4.5 0,-2 1,0 -0.5,2.5 -1.5,5.5 -2.5,1 -8,2 -12,0.5 -12,-0.5 -16,-3 -4,-2 -1.5,-2z"/><path fill="#ffbf00" d="M216.5,603.5l0.5,2 1.5,1 9.5,3 14.5,2 16,0 4,-0.5 4.5,-1.5 2.5,-2 1,-2 0.5,-4 1,0 -1,6 -1.5,2 -5,2 -6,0.5 -18,0 -16.5,-2.5 -5.5,-2 -2,-1 -0.5,-1 -0.5,-4 1,0z"/><path fill="#ff9500" d="M216.5,601.5l1,0 0,2 1,2 5.5,2 14.5,3 12,0.5 10,-0.5 4.5,-1 2.5,-2 1,-2 0.5,-4 2,0 -0.5,4 -1,2 -2.5,2 -6.5,2 -10,0 -12,-0.5 -18,-3.5 -3.5,-2 -0.5,-2 0,-2z"/><path fill="#ff6a00" d="M218.5,601.5l1,0 1,2 6,2 2.5,2 3.5,1 8,1.5 8,0 10,0 4.5,-0.5 2.5,-2 1,-2 0.5,-4 2,0 -0.5,4 -1,2 -2.5,2 -4.5,1 -10,0.5 -12,-0.5 -14.5,-3 -5.5,-2 -1,-2 0,-2z"/><path fill="#ff4000" d="M220.5,601.5l9.5,0 0,4 2,2 8.5,1.5 8,0.5 10,-0.5 4,-1 1.5,-0.5 1,-2 0.5,-4 1.5,0 -0.5,4 -1,2 -2.5,2 -4.5,0.5 -10,0 -8,0 -8,-1.5 -3.5,-1 -2.5,-2 -6,-2 -1,-2z"/><path fill="#ff1500" d="M230.5,601.5l1,0 0.5,4 2.5,1.5 6,1 8,0.5 10,-0.5 3,-0.5 2,-2 1,-4 1,0 -0.5,4 -1,2 -1.5,0.5 -4,1 -10,0.5 -8,-0.5 -8.5,-1.5 -2,-2 0,-4z"/><path fill="#ea0000" d="M232.5,601.5l1,0 0,2 1,2 6,1 6,0.5 4,-0.5 4,-1 4,-0.5 2,-1 0.5,-2.5 3.5,0 -1,4 -2,2 -3,0.5 -10,0.5 -8,-0.5 -6,-1 -2.5,-1.5 -0.5,-4z"/><path fill="#bf0000" d="M234.5,601.5l26.5,0 -0.5,2.5 -2,1 -4,0.5 -4,1 -4,0.5 -6,-0.5 -6,-1 -1,-2 0,-2z"/></g></g>
<g fill="none" stroke="#ece245" stroke-width="2.2" stroke-linejoin="round" stroke-linecap="round"><path d="M144.7,631.7C144.7,629.7 149.3,627.5 152.7,626.2C156.2,624.8 160.7,623.7 165.2,623.7C169.8,623.6 176.5,624.8 180.3,625.9C184,627 188.4,628.6 187.8,630.4C187.2,632.2 179.9,635.1 176.5,636.7C173.2,638.2 171.7,639.5 167.8,639.7C163.8,639.9 156.6,639.3 152.7,637.9C148.9,636.6 144.7,633.6 144.7,631.7Z"/><path d="M102.2,636.7C103.5,634.5 108,629 112.7,625.4C117.3,621.9 121.8,618.1 130.2,615.4C138.5,612.7 153.1,609.4 162.7,609.1C172.3,608.9 180.3,612.1 187.8,614.2C195.3,616.2 201.8,619.5 207.8,621.2C213.8,622.8 221.2,622.3 223.6,624.2C225.9,626 224,629 221.8,632.2C219.6,635.3 214.3,639.8 210.3,642.9C206.3,646.1 201.8,649.1 197.8,651.2C193.8,653.3 190.7,654.7 186.5,655.5C182.4,656.3 178.4,656.4 172.8,656C167.1,655.5 160.2,654.7 152.7,653C145.2,651.2 135.7,647.8 127.7,645.4C119.7,643.1 108.9,640.1 104.7,638.7C100.4,637.2 100.8,638.9 102.2,636.7Z"/><path d="M275.4,610.4C274.4,613.7 273,616.5 272.4,620.4C271.8,624.3 270.3,630.5 271.7,633.7C273,636.8 275.6,637.6 280.4,639.2C285.2,640.7 293.8,641.7 300.5,642.9C307.1,644.2 315.9,644.6 320.5,646.7C325.1,648.8 325.5,652.3 328,655.5C330.5,658.6 333.5,662.8 335.5,665.5C337.5,668.2 335.9,669.9 340,671.7C344.1,673.6 351.7,676.3 360,676.7C368.4,677.2 379.6,675.5 390.1,674.2C400.5,673 413,670.9 422.6,669.2C432.2,667.6 441.6,665.7 447.7,664.2C453.7,662.8 456.8,662.8 458.9,660.5C461.1,658.2 461.1,653.8 460.7,650.5C460.3,647.1 459,643.6 456.4,640.4C453.8,637.3 449.1,634.4 445.2,631.7C441.2,629 436.2,625.9 432.6,624.2C429.1,622.4 426.8,622.2 423.9,621.2"/><path d="M475.2,625.4C476.7,629.2 479.1,632.7 479.7,636.7C480.3,640.6 478.7,645.4 479,649.2C479.3,653 480.5,656.9 481.5,659.2C482.4,661.5 483.6,661.7 484.7,663"/><path d="M425.6,686.8C430.5,685.9 433.6,685.1 440.2,684.3C446.7,683.4 457.8,682.8 465.2,681.8C472.6,680.7 478.2,679.2 484.7,678"/></g><text x="196" y="638.8" font-family='"Liberation Sans",Arial,sans-serif' font-size="18.5" font-weight="normal" text-anchor="middle" fill="#e6e6a0">1</text><text x="225.3" y="660.3" font-family='"Liberation Sans",Arial,sans-serif' font-size="18.5" font-weight="normal" text-anchor="middle" fill="#e6e6a0">10</text><text x="279.9" y="660.3" font-family='"Liberation Sans",Arial,sans-serif' font-size="18.5" font-weight="normal" text-anchor="middle" fill="#e6e6a0">20</text>
<path d="M333,581.6H604.5" stroke="#222" stroke-width="1.3" stroke-dasharray="6.5,4" fill="none"/>
<path d="M403.8,600.4H604.5" stroke="#222" stroke-width="1.3" stroke-dasharray="6.5,4" fill="none"/>
<path d="M45.1,579.6C50.1,581.1 53,583 60.1,584.1C67.2,585.2 78,585.6 87.6,586.1C97.2,586.6 108.5,587.1 117.7,587.4C126.9,587.7 133.1,588.4 142.7,587.9C152.3,587.4 165.7,585.4 175.3,584.6C184.9,583.8 192,583.5 200.3,582.9C208.6,582.3 217,581.3 225.3,581.1C233.7,580.9 242.1,581.5 250.4,581.6C258.8,581.7 266.2,581.3 275.4,581.6C284.6,581.9 297.1,582.6 305.5,583.4C313.9,584.2 319.8,585.8 325.5,586.6C331.2,587.5 333.4,587.2 340,588.5C346.6,589.8 355.8,592 365,594.1C374.2,596.2 384.7,598.8 395.1,601.1C405.5,603.4 418,605.9 427.6,607.9C437.2,609.9 443.9,611.3 452.7,612.9C461.5,614.5 470.6,616.2 480.2,617.2C489.8,618.2 501.1,618.8 510.3,619.2C519.5,619.6 526.1,619.7 535.3,619.7C544.5,619.7 553.5,619.2 565.3,619.2C577.1,619.2 592.4,619.7 605.9,619.9" fill="none" stroke="#000" stroke-width="3"/>
<g fill="#0a0a0a"><circle cx="66.6" cy="609.6" r="2.7"/><circle cx="66.6" cy="627.2" r="2.7"/><circle cx="66.6" cy="644.2" r="2.7"/><circle cx="170.3" cy="604.1" r="2.7"/><circle cx="170.3" cy="632.9" r="2.7"/><circle cx="170.3" cy="658.5" r="2.7"/><circle cx="244.9" cy="607.9" r="2.7"/><circle cx="244.9" cy="625.9" r="2.7"/><circle cx="244.9" cy="644.2" r="2.7"/><circle cx="244.9" cy="662.5" r="2.7"/><circle cx="321" cy="612.1" r="2.7"/><circle cx="321" cy="630.4" r="2.7"/><circle cx="321" cy="649.2" r="2.7"/><circle cx="321" cy="666.7" r="2.7"/><circle cx="368" cy="621.7" r="2.7"/><circle cx="368" cy="635.9" r="2.7"/><circle cx="368" cy="652.2" r="2.7"/><circle cx="368" cy="669.2" r="2.7"/><circle cx="368" cy="685.5" r="2.7"/><circle cx="451.4" cy="655.5" r="2.7"/><circle cx="451.4" cy="688" r="2.7"/><circle cx="489.5" cy="625.9" r="2.7"/><circle cx="489.5" cy="638.7" r="2.7"/><circle cx="489.5" cy="656.2" r="2.7"/><circle cx="489.5" cy="672.5" r="2.7"/><circle cx="489.5" cy="690" r="2.7"/></g>
<rect x="45.1" y="555.3" width="560.8" height="167" fill="none" stroke="#4a4a4a" stroke-width="1.4"/>
<path d="M87.1,722.3v-4.5 M87.1,555.3v4.5M226.6,722.3v-4.5 M226.6,555.3v4.5M367,722.3v-4.5 M367,555.3v4.5M506.5,722.3v-4.5 M506.5,555.3v4.5M45.1,602.9h5.5 M605.9,602.9h-5.5M45.1,650.5h5.5 M605.9,650.5h-5.5M45.1,698.8h5.5 M605.9,698.8h-5.5" stroke="#4a4a4a" stroke-width="1.2" fill="none"/>
<text x="84.6" y="743" font-family='"Liberation Serif","Times New Roman",serif' font-size="22" font-weight="bold" text-anchor="middle" fill="#000">130</text><text x="225.8" y="743" font-family='"Liberation Serif","Times New Roman",serif' font-size="22" font-weight="bold" text-anchor="middle" fill="#000">140</text><text x="367.8" y="743" font-family='"Liberation Serif","Times New Roman",serif' font-size="22" font-weight="bold" text-anchor="middle" fill="#000">150</text><text x="509" y="743" font-family='"Liberation Serif","Times New Roman",serif' font-size="22" font-weight="bold" text-anchor="middle" fill="#000">160</text>
<text x="38.8" y="571.5" font-family='"Liberation Serif","Times New Roman",serif' font-size="22" font-weight="bold" text-anchor="end" fill="#000">2</text><text x="38.8" y="610.3" font-family='"Liberation Serif","Times New Roman",serif' font-size="22" font-weight="bold" text-anchor="end" fill="#000">0</text><text x="38.8" y="657.9" font-family='"Liberation Serif","Times New Roman",serif' font-size="22" font-weight="bold" text-anchor="end" fill="#000">-2</text><text x="38.8" y="706.2" font-family='"Liberation Serif","Times New Roman",serif' font-size="22" font-weight="bold" text-anchor="end" fill="#000">-4</text>
<text transform="translate(13.8,645.5) rotate(-90)" font-family='"Liberation Serif","Times New Roman",serif' font-size="18" font-weight="bold" font-style="italic" text-anchor="middle" y="2.9">z</text>
<text x="329" y="763.8" font-family='"Liberation Serif","Times New Roman",serif' font-size="22" font-weight="bold" text-anchor="middle" fill="#000" font-style="italic">x</text>
<rect x="613.4" y="552.1" width="20.8" height="174.7" fill="url(#jet)"/><text x="635.4" y="565.2" font-family='"Liberation Serif","Times New Roman",serif' font-size="22" font-weight="bold" text-anchor="start" fill="#000">100</text><text x="635.4" y="647.8" font-family='"Liberation Serif","Times New Roman",serif' font-size="22" font-weight="bold" text-anchor="start" fill="#000">50</text><text x="635.4" y="729.2" font-family='"Liberation Serif","Times New Roman",serif' font-size="22" font-weight="bold" text-anchor="start" fill="#000">0</text><text x="607.4" y="745.6" font-family='"Liberation Serif","Times New Roman",serif' font-size="24"><tspan font-style="italic" font-weight="bold">u</tspan><tspan font-weight="normal">M</tspan></text>
<text x="51.5" y="544" font-family='"Liberation Sans",Arial,sans-serif' font-size="26.3" font-weight="bold" text-anchor="start" fill="#000">C1</text><text x="119.7" y="544.5" font-family='"Liberation Serif","Times New Roman",serif' font-size="36" font-weight="bold">Measured NO<tspan font-size="22" dy="7">3</tspan><tspan font-size="26" dy="-19">-</tspan></text>
<g clip-path="url(#clipD1)"><g filter="url(#b8)"><rect x="741.6" y="598.7" width="436.9" height="95.3" fill="#0000bc"/><path fill="#0000aa" d="M743,598.5l39,0 0.5,7.5 1,1 12.5,6.5 6.5,7.5 2,1.5 13.5,-1.5 2.5,0 2,1.5 1.5,0.5 14,-5 11.5,-0.5 30,4 8.5,2.5 6,3 2,3 1,3 0.5,4.5 -0.5,1.5 -1.5,1.5 -10,4.5 -1.5,2 -1.5,7 -3,1.5 -6,0.5 -2.5,1 1,1.5 1.5,1.5 1.5,0.5 6,0 2,1 0.5,1.5 -0.5,3 -10,28.5 -131.5,0 0,-96zM971,598.5l208.5,0 0,61 -3,-0.5 -3,-2 -6,1 -10.5,1 -13.5,2.5 -3,-0.5 -4.5,-3 -1.5,-0.5 -3,0.5 -10.5,3.5 -7.5,1 -1.5,1 -1,2.5 -3.5,1.5 -17.5,3 -14,1.5 -7.5,-1.5 -8,3 -7,1.5 -6,1 -14,-1 -12.5,-3 -1,-1.5 6,-13.5 3.5,-9 0,-1.5 -0.5,-3 -4.5,-10.5 -2.5,-2 -12,-5 -13.5,-3 -10.5,-1.5 -9,-6.5 -3.5,-1.5 -0.5,-1.5 5.5,-1.5 3,-1.5 -1.5,-0.5 -3,-2.5 -6.5,-1.5 0.5,-6z"/><path fill="#0000ff" d="M783.5,598.5l11,0 -0.5,7.5 0.5,1.5 2.5,1.5 7.5,1.5 6,2 18,2.5 21,-0.5 19.5,3 12,0.5 4.5,2 9,2.5 5.5,4.5 3,3 2.5,4.5 1,4.5 -0.5,3 -2.5,5 -4.5,5 -6,3.5 -1.5,1.5 -4.5,2 -1.5,1 1,1.5 -0.5,3 -10,30 -3,0 10,-28.5 0.5,-3 -0.5,-1.5 -2,-1 -6,0 -1.5,-0.5 -1.5,-1.5 -1,-1.5 2.5,-1 6,-0.5 3,-1.5 1.5,-7 1.5,-2 10,-4.5 1.5,-1.5 0.5,-1.5 -0.5,-4.5 -1,-3 -2,-3 -6,-3 -8.5,-2.5 -30,-4 -11.5,0.5 -14,5 -1.5,-0.5 -2,-1.5 -2.5,0 -13.5,1.5 -2,-1.5 -6.5,-7.5 -12.5,-6.5 -1,-1 -0.5,-7.5zM957.5,599.5l0.5,-1 13,0 -0.5,6 6.5,1.5 3,2.5 1.5,0.5 -3,1.5 -5.5,1.5 0.5,1.5 3.5,1.5 9,6.5 10.5,1.5 13.5,3 12,5 1.5,1 2.5,4 3,7.5 0.5,3 -0.5,3 -1.5,4.5 -7.5,16.5 1,1.5 12.5,3 14,1 6,-1 7,-1.5 8,-3 7.5,1.5 14,-1.5 17.5,-3 3.5,-1.5 1,-2.5 1.5,-1 7.5,-1 10.5,-3.5 3,-0.5 1.5,0.5 4.5,3 3,0.5 13.5,-2.5 10.5,-1 6,-1 3,2 3,0.5 0,1.5 -3,-0.5 -3,-1 -4.5,1 -10.5,0.5 -25.5,7 -13.5,1.5 -6,2 -15,2.5 -24,1 -25.5,3.5 -13.5,-0.5 -9,-1.5 -6.5,-1.5 -7,-2.5 -20,-3.5 -4.5,-1.5 6.5,-0.5 15,0 3,-1 6,-3.5 4,-7 3.5,-7.5 -0.5,-3 -3,-7.5 -2,-3 -1.5,-1.5 -9.5,-5 -15,-2 -10.5,-0.5 -3,-0.5 -6,-3.5 -1.5,-0.5 -4.5,1 -3,-1 -4,-4.5 -3.5,-4.5 0.5,-1.5 7,-1.5 3,-1.5 -3,-0.5 -7.5,-1 -1.5,-0.5 -0.5,-2.5z"/><path fill="#0055ff" d="M795.5,598.5l1.5,0 0,5.5 1.5,2 10.5,4 21,3 19.5,-0.5 16.5,2 16.5,0 2.5,0.5 2,2.5 1.5,0.5 8,1.5 8.5,6 1,1.5 2.5,7.5 0.5,3 -0.5,4.5 -0.5,3 -3,6.5 -6.5,8.5 -0.5,1.5 1,2.5 0,2 -1,6 -0.5,10.5 -1,4.5 -0.5,7.5 -20,0 10,-30 0.5,-3 -1,-1.5 1.5,-1 4.5,-2 1.5,-1.5 6,-3.5 4.5,-5 2.5,-5 0.5,-3 -1,-4.5 -2.5,-4.5 -3,-3 -5.5,-4.5 -9,-2.5 -4.5,-2 -12,-0.5 -19.5,-3 -21,0.5 -16.5,-2 -15,-4 -2.5,-1.5 -0.5,-1.5 0.5,-7.5zM956,598.5l2,0 -1,4.5 0.5,2.5 1.5,0.5 7.5,1 3,0.5 -3,1.5 -7,1.5 -0.5,1.5 3.5,4.5 4,4.5 3,1 4.5,-1 1.5,0.5 6,3.5 3,0.5 10.5,0.5 15,2 9.5,5 1.5,1.5 2,3 3,7.5 0.5,3 -3.5,7.5 -4,7 -6,3.5 -3,1 -15,0 -6.5,0.5 4.5,1.5 20,3.5 7,2.5 6.5,1.5 9,1.5 13.5,0.5 25.5,-3.5 24,-1 15,-2.5 6,-2 13.5,-1.5 25.5,-7 10.5,-0.5 4.5,-1 3,1 3,0.5 0,1 -6,-1 -4.5,1 -12,1 -24,6.5 -12,2 -7.5,2.5 -15,2 -24,0.5 -25.5,3.5 -12,-0.5 -10.5,-1 -7.5,-1.5 -6,-2 -24,-4 -4.5,-2 -1.5,-1.5 0.5,-1.5 2.5,-1 3,0 16.5,0.5 4.5,-0.5 3,-1.5 2.5,-2 3,-3 4.5,-9 1,-3 -1,-3 -5,-9 -8,-5 -3,-0.5 -7.5,-0.5 -12,1 -7.5,-0.5 -10.5,-2.5 -5,-2.5 -7,-6 -3,-3 -1.5,-3 -0.5,-1.5 2,-3 0,-3z"/><path fill="#00aaff" d="M797,598.5l3.5,0 0,4.5 0.5,1.5 0.5,1 6,2.5 3,1 19.5,2.5 18,-0.5 4.5,-0.5 33,1 2,0.5 1.5,3 1,1 4.5,1 7.5,-1 3,1.5 3,2 1,3 0.5,6 1.5,6 -0.5,9 -1,4.5 -4,10.5 0,1.5 0.5,3 -1,1.5 -1.5,-0.5 -1.5,0.5 -0.5,4.5 -1,3 -0.5,10.5 -1,4.5 0,7.5 -3,0 0.5,-7.5 1,-4.5 0.5,-10.5 1,-6 0,-2 -1,-2.5 0.5,-1.5 6.5,-8.5 3,-6.5 0.5,-3 0.5,-4.5 -0.5,-3 -2.5,-7.5 -1,-1.5 -8.5,-6 -8,-1.5 -1.5,-0.5 -2,-2.5 -2.5,-0.5 -16.5,0 -16.5,-2 -19.5,0.5 -21,-3 -10.5,-4 -1.5,-2zM945.5,598.5l10.5,0 -1.5,6 0,3 -2,3 0.5,1.5 1.5,3 4.5,4.5 4.5,4 3,2 4.5,1.5 12,2.5 4.5,0 10.5,-1 10.5,0.5 3,1.5 4.5,2.5 3,3 4,7.5 1,3 -1.5,4.5 -3,6 -2,3 -4.5,3.5 -3,1.5 -4.5,0.5 -16.5,-0.5 -3,0 -2.5,1 -0.5,1.5 1.5,1.5 4.5,2 24,4 6,2 7.5,1.5 10.5,1 12,0.5 25.5,-3.5 24,-0.5 15,-2 7.5,-2.5 12,-2 25.5,-6.5 10.5,-1 4.5,-1 6,1 0,0.5 -6,0 -16.5,2 -24,6.5 -9,1.5 -9,3.5 -16.5,1 -24,0.5 -24,3.5 -12,0 -13.5,-1 -3,-0.5 -4.5,0 -6,-2 -4.5,0 -6,-1.5 -1.5,0 -3,1 -3,8.5 -0.5,3 -2,6 -15.5,0 0,-1.5 4.5,-13.5 3,-6 -0.5,-1.5 -3,-3 0,-1.5 1,-1.5 2.5,-1.5 3,-1 6,0 13.5,0.5 4.5,-0.5 1.5,-0.5 3.5,-3 2.5,-3 4,-9 0,-3 -4.5,-9 -2.5,-2 -4.5,-2.5 -4.5,-1 -6,0 -13.5,2 -7.5,0 -4.5,0.5 -11,-6 -8.5,-6 -3,-3.5 -4,-8.5 1.5,-3 -3.5,-1.5 -0.5,-1.5 0,-4.5zM1170.5,688.5l3,-1 6,0 0,7 -12.5,0 0,-4.5z"/><path fill="#00ffff" d="M801.5,598.5l1,0 0,4.5 1,1.5 4,2 6,1 16.5,2 7.5,0 10.5,0 4.5,-2 1.5,0 33,0.5 3,1 1.5,4.5 1.5,1 3,0 9,-3 3,0.5 1.5,0.5 1.5,2 0.5,2 2,19.5 -1,10.5 -3,10.5 0.5,3 1.5,3 -2.5,3 -0.5,1.5 0,10.5 -1.5,4.5 0,12 -8,0 0,-7.5 1,-4.5 0.5,-10.5 1,-3 0.5,-4.5 1.5,-0.5 1.5,0.5 1,-1.5 -0.5,-3 0,-1.5 4,-10.5 1,-4.5 0.5,-9 -1.5,-6 -0.5,-6 -1,-2.5 -1.5,-1.5 -4.5,-2.5 -7.5,1 -4.5,-1 -1,-1 -1.5,-3 -2,-0.5 -33,-1 -4.5,0.5 -18,0.5 -19.5,-2.5 -7.5,-3 -2,-1.5 -0.5,-6zM816.5,598.5l2,0 0.5,3 -2.5,0.5 -1.5,-0.5 1,-3zM944,598.5l1,0 0,4.5 0.5,1.5 3.5,1.5 -1.5,3 4.5,9 2.5,3 8.5,6 11,6 4.5,-0.5 7.5,0 13.5,-2 6,0 4.5,1 4.5,2.5 2.5,2 4.5,9 0,3 -4,9 -2.5,3 -3.5,3 -1.5,0.5 -4.5,0.5 -13.5,-0.5 -6,0 -3,1 -2.5,1.5 -1,1.5 0,1.5 3,3 0.5,1.5 -3,6 -4.5,13.5 0,1.5 -44,0 0.5,-12 1,-4.5 0.5,-10.5 1.5,-1.5 6,-1 12,1.5 18,0.5 3,-0.5 10.5,-4 19.5,0 6,-1 3,-1.5 3,-3.5 4,-8.5 0,-3 -3,-6 -2,-3 -5,-3 -3,-0.5 -7.5,-0.5 -13.5,2.5 -4.5,0.5 -1.5,0.5 -3,3 -1.5,1 -3,-0.5 -3.5,-1.5 -5.5,-6 -7.5,-4.5 -6.5,-3 -2,-1.5 -2,-7.5 -2.5,-7.5 0,-9zM951,669l-0.5,1.5 4,16.5 0.5,1.5 1,1.5 1.5,0.5 1.5,-1 1,-1 1.5,-3 0.5,-2.5 2.5,-5 1,-4.5 -0.5,-1.5 -3,-1.5 -7.5,-2zM1170.5,663l3,-0.5 6,0 0,0.5 -3,0.5 -3,1 -4.5,0 -12,1 -22.5,6.5 -8,1.5 -10,4 -19.5,1 -22.5,0 -22.5,3.5 -9,0.5 -2.5,1.5 0,4.5 -1.5,3 0,3 -48,0 4.5,-15 1,-2.5 1.5,-0.5 3,-0.5 6,1.5 4.5,0 4.5,1.5 3,0.5 3,0 3,0.5 15,1 10.5,0 24,-3.5 22.5,0 16.5,-1.5 4.5,-1 6,-2.5 9,-1.5 24,-6.5zM990.5,675l1,0 -1,0.5zM1170.5,687l3,-0.5 6,0 0,1 -6,0 -6,2.5 -0.5,1.5 0,3 -2,0 0,-4.5 1,-1.5z"/><path fill="#55ffaa" d="M803,598.5l1,0 0,3 1,1.5 4,1.5 1.5,-0.5 2,-5.5 3.5,0 -1,3 1.5,0.5 2.5,-0.5 -0.5,-3 3,0 1,3 0,3.5 1.5,0.5 13.5,1.5 9,0.5 1.5,-0.5 3,-2 1.5,-0.5 16.5,0 1,-1.5 0,-1.5 1,-1.5 1,-0.5 1.5,0 1.5,1 0.5,1 0,1.5 1,1.5 15,0.5 2,1 0.5,4.5 0.5,1 1.5,0.5 12,-4 3,-1 1.5,0.5 1.5,1.5 0.5,1.5 2,18 0,6 -2,19.5 1,4.5 1.5,1 4.5,-1.5 3,0 1.5,0 4.5,2.5 9,-2 15,4 7.5,0.5 4,-1.5 6.5,-4.5 3,-1 4.5,1.5 4.5,2.5 3,1 13.5,0 7.5,-1 3,-1 2.5,-2 1.5,-3 3,-6 -0.5,-3 -3.5,-7.5 -1.5,-1.5 -3,-1.5 -6,-1 -6,0 -12,2.5 -3,1.5 -3,6 -4.5,2.5 -3,-0.5 -9,-3 -4.5,-5.5 -2.5,-2.5 -5.5,-3 -7,-3 -2,-1.5 -1.5,-3 -2.5,-13 -1,-2 -2,-1 -1,-2 1,-2.5 3,-3.5 0,-1.5 5,0 0,10.5 2.5,6 2,7.5 2,1.5 6.5,3 7.5,4.5 5.5,6 3.5,1.5 3,0.5 1.5,-1 3,-3 1.5,-0.5 4.5,-0.5 13.5,-2.5 9,0.5 4.5,2 3,3 4,7.5 0,3 -4.5,9 -2.5,3 -3.5,1.5 -5.5,1 -19.5,0 -10.5,4 -4.5,0.5 -16.5,-0.5 -12,-1.5 -6,1 -1.5,1.5 -0.5,1.5 0,9 -1,4.5 -0.5,12 -24.5,0 0,-12 1.5,-4.5 0,-10.5 0.5,-1.5 2.5,-3 -1.5,-3 -0.5,-3 3,-10.5 1,-10.5 -2,-19.5 -0.5,-2 -1.5,-2 -1.5,-0.5 -3,-0.5 -9,3 -3,0 -1.5,-1 -1.5,-4.5 -3,-1 -33,-0.5 -1.5,0 -4.5,2 -10.5,0 -7.5,0 -16.5,-2 -6,-1 -4,-2 -1,-1.5 0,-4.5zM1167.5,664.5l6,0 3,-1 3,-0.5 0,1.5 -3,0 -1.5,1.5 -1.5,0.5 -3,-1 -1.5,0 -12,1 -28.5,8.5 -7.5,3 -4.5,1 -19.5,0.5 -22.5,0 -22.5,4 -7.5,0.5 -1.5,1.5 -0.5,4.5 -1,4.5 -2.5,0 0,-3 1.5,-3 0,-4.5 2.5,-1.5 9,-0.5 22.5,-3.5 22.5,0 18,-1 4,-1 7.5,-3 8,-1.5 22.5,-6.5zM951.5,669l3,-0.5 7.5,2 3,1.5 0.5,1.5 -1,4.5 -2.5,5 -0.5,2.5 -1.5,3 -1,1 -1.5,1 -1.5,-0.5 -1,-1.5 -0.5,-1.5 -4,-16.5zM954,672l0,3 1.5,6 0.5,2.5 1.5,2.5 3.5,-8 1.5,-4.5 -2,-1 -3,-1 -3,0zM1172,685.5l7.5,0 0,1 -7.5,0 -4.5,1.5 -1.5,0.5 -1,1.5 0,4.5 -6.5,0 1.5,-3 1.5,-1.5 1.5,-0.5 0.5,-1 2.5,-1.5zM1092.5,693l7.5,0 0,1.5 -7.5,0z"/><path fill="#aaff55" d="M804.5,598.5l8,0 -2,5.5 -1.5,0.5 -4,-1.5 -1,-1.5 0,-3zM822.5,598.5l115.5,0 0,1.5 -3,3.5 -1,2.5 1,2 2,1 1,2 2.5,13 1.5,3 2,1.5 7,3 5.5,3 2.5,2.5 4.5,5.5 9,3 3,0.5 4.5,-2.5 3,-6 3,-1.5 12,-2.5 6,0 6,1 3,1.5 1.5,1.5 3.5,7.5 0.5,3 -3,6 -1.5,3 -2.5,2 -3,1 -7.5,1 -13.5,0 -3,-1 -4.5,-2.5 -4.5,-1.5 -3,1 -6.5,4.5 -4,1.5 -7.5,-0.5 -15,-4 -9,2 -4.5,-2.5 -1.5,0 -3,0 -4.5,1.5 -1.5,-1 -1,-4.5 2,-19.5 0,-6 -2,-18 -0.5,-1.5 -1.5,-1.5 -1.5,-0.5 -3,1 -12,4 -1.5,-0.5 -0.5,-1 -0.5,-4.5 -2,-1 -15,-0.5 -1,-1.5 0,-1.5 -0.5,-1 -1.5,-1 -1.5,0 -1,0.5 -1,1.5 0,1.5 -1,1.5 -16.5,0 -1.5,0.5 -3,2 -10.5,0 -13.5,-1.5 -1.5,-0.5 0,-3.5 -1,-3zM998.5,634.5l-9.5,2 -2.5,1 -1.5,1.5 -2.5,6 -0.5,1.5 0,3 3.5,7.5 2,2 12,0.5 10.5,-1.5 3,-2.5 3,-6 1,-3 -0.5,-1.5 -3,-6 -1,-1.5 -4,-1.5zM1176.5,664.5l3,0 0,3.5 -6,0 -3,-1 -1.5,0 -10.5,0.5 -22.5,6.5 -15,5.5 -7.5,1 -23,0.5 -4.5,1.5 12.5,1 21,3 2,0.5 2.5,3 0,4.5 -24,0 0,-1.5 -7.5,0 0,1.5 -51,0 1,-4.5 0.5,-4.5 1.5,-1.5 7.5,-0.5 22.5,-4 22.5,0 19.5,-0.5 4.5,-1 7.5,-3 28.5,-8.5 12,-1 1.5,0 3,1 1.5,-0.5zM954.5,671.5l5,0.5 3,1.5 -1.5,4.5 -3.5,8 -1.5,-3.5 -2,-7.5 0,-3zM1169,685.5l3,-1 7.5,0.5 0,0.5 -7.5,0 -6,1.5 -2.5,1.5 -0.5,1 -1.5,0.5 -1.5,1.5 -1.5,3 -6.5,0 1,-4.5 1,-0.5z"/><path fill="#ffff00" d="M999.5,634.5l9,1.5 3,1 1.5,1.5 3,5 1,3 -1,3 -2,4.5 -2.5,3 -3,1.5 -9,1 -10.5,-0.5 -2,-0.5 -1.5,-1.5 -3,-6 -1,-3 0.5,-1.5 3,-7.5 1.5,-1.5 2.5,-1zM996.5,636l-7.5,2 -2,1 -1,1.5 -2.5,6 0,1.5 3.5,7.5 2,1.5 9,1 9,-1 3,-1 1.5,-1 1.5,-2.5 2,-4.5 0,-1.5 -1,-3 -2.5,-4.5 -1.5,-1 -3,-1 -7.5,-1zM1158.5,667.5l12,-0.5 3,1 6,0 0,1 -4.5,0 -6,-1 -12,1 -20,6 -10,4.5 -6.5,1.5 -3,1.5 3,1.5 5,1.5 7.5,1 3,1 1,1 0.5,1.5 -1,4.5 -12.5,0 0,-4.5 -2.5,-3 -2,-0.5 -21,-3 -12.5,-1 4.5,-1.5 23,-0.5 7.5,-1 15,-5.5zM1170.5,684l1.5,-0.5 3,1 4.5,0 0,0.5 -7.5,-0.5 -18,5 -1,0.5 -1,4.5 -1.5,0 2,-6z"/><path fill="#ffaa00" d="M998,636l10.5,1.5 3,1.5 1,1.5 2,4.5 0.5,3 -3,6 -2,2 -3,1 -9,1 -9,-1 -2,-1.5 -3.5,-7.5 0,-1.5 2.5,-6 1,-1.5 2,-1zM995.5,637.5l-6.5,2 -1.5,1.5 -2,4 -0.5,3 3.5,6 2,1.5 9,1.5 7.5,-1.5 3,-1.5 2.5,-4.5 1,-3 -3,-6 -2,-1.5 -7.5,-1.5 -3,-0.5zM1157,669l12,-1 6,1 4.5,0 0,1 -11.5,-1 -11,1 -18,6 -11,5 -1,1.5 9,3 3,1.5 0.5,3 -1.5,4.5 -1.5,0 1,-4.5 -0.5,-1.5 -1,-1 -3,-1 -7.5,-1 -5,-1.5 -3,-1.5 3,-1.5 6.5,-1.5 10,-4.5zM1172,682.5l3,1.5 4.5,0 0,0.5 -4.5,0 -3,-1 -1.5,0.5 -7.5,2 -9,2 -1.5,0.5 -2,6 -1.5,0 2,-6 1.5,-1.5z"/><path fill="#ff5500" d="M996.5,637.5l3,-0.5 7.5,1.5 1.5,0.5 2,1.5 3,6 -1,3 -2.5,4.5 -4.5,1.5 -7.5,1.5 -7.5,-1.5 -1.5,-0.5 -1.5,-1.5 -2,-4 -0.5,-3 2.5,-5.5 2.5,-2zM995.5,639l-5,2 -1.5,1 -1.5,2.5 -0.5,2 0,1.5 2,4 1.5,1 2.5,1 6.5,1.5 5.5,-1.5 3.5,-1.5 2,-3 1,-3 -1.5,-3 -1.5,-2 -1.5,-1 -6,-1.5 -3,-0.5zM1169,669l10.5,1 0,0.5 -15.5,0 -8.5,1.5 -14,4.5 -6,3 -1.5,1.5 1,1.5 4,1.5 4.5,2.5 3,1 15,-3.5 10.5,-3 3,2 4.5,0 0,1 -3,0 -4.5,-1.5 -1.5,0.5 -6,1.5 -12,2.5 -1.5,1.5 -2,6 -11,0 1.5,-4.5 -0.5,-3 -3,-1.5 -9,-3 1,-1.5 9,-4.5 18,-6 5,-1z"/><path fill="#ff0000" d="M996.5,639l3,-0.5 3,0.5 5,1.5 1.5,1.5 2.5,4.5 -1,3 -2,3 -3.5,1.5 -5.5,1.5 -6.5,-1.5 -2.5,-1 -1.5,-1 -2,-4 0,-1.5 0.5,-2 1.5,-2.5 1.5,-1zM996.5,640.5l-3.5,1.5 -3.5,3 -0.5,1.5 0.5,1.5 1,2 1.5,1 3,1.5 4.5,1 3.5,-1 2.5,-1 3,-3 0.5,-2 -0.5,-1.5 -3,-2.5 -4.5,-2zM1164.5,670.5l15,0 0,1 -12.5,0.5 -14,3 -9.5,3 -2,1.5 -1,1.5 1.5,1.5 3,1.5 3,0.5 6,-0.5 7,-1.5 4.5,-1.5 6.5,-3 3,1 4.5,0 0,4 -4.5,0 -3,-2 -10.5,3 -15,3.5 -3,-1 -4.5,-2.5 -4,-1.5 -1,-1.5 4,-3 7.5,-3 10,-3z"/><path fill="#aa0000" d="M998,640.5l3.5,0 5.5,3.5 1.5,1 0.5,1.5 -0.5,2 -1.5,1.5 -4,2.5 -3.5,1 -4.5,-1 -4.5,-2.5 -1,-2 -0.5,-1.5 1.5,-2.5 2.5,-2zM1167.5,672l12,-0.5 0,7.5 -4.5,0 -3,-1 -3,2 -8,2.5 -10,2 -6,-0.5 -3,-1.5 -1.5,-1.5 1,-1.5 6,-3 14,-3.5z"/></g></g>
<g fill="none" stroke="#ece245" stroke-width="2.2" stroke-linejoin="round" stroke-linecap="round"><path d="M830.2,629.2C830,627.2 835.2,625 839,623.7C842.7,622.3 848.2,621.2 852.8,621.2C857.3,621.1 863,622.3 866.5,623.4C870.1,624.5 874.7,626.1 874,627.9C873.4,629.7 865.9,632.6 862.8,634.2C859.6,635.7 859,637 855.3,637.2C851.5,637.4 844.4,636.8 840.2,635.4C836.1,634.1 830.4,631.1 830.2,629.2Z"/><path d="M787.7,634.7C789,632.6 793.1,627.7 797.7,624.2C802.3,620.7 806.9,616.5 815.2,613.6C823.5,610.8 838.2,607.4 847.8,607.1C857.3,606.9 865.3,610.1 872.8,612.1C880.3,614.2 886.8,617.5 892.8,619.2C898.9,620.8 906.7,620.3 909.1,622.2C911.5,624 909.6,627.3 907.3,630.4C905,633.6 899.4,638.1 895.3,641.2C891.2,644.3 886.8,647.2 882.8,649.2C878.8,651.2 875.7,652.7 871.5,653.5C867.4,654.2 863.4,654.2 857.8,653.7C852.1,653.2 845.2,652.2 837.7,650.5C830.2,648.7 820.7,645.2 812.7,642.9C804.7,640.6 793.8,638.1 789.7,636.7C785.5,635.3 786.3,636.8 787.7,634.7Z"/><path d="M961.7,607.9C960.4,611.2 958.6,614.2 957.9,617.9C957.2,621.7 956.2,627.3 957.4,630.4C958.7,633.6 960.8,635 965.4,636.7C970.1,638.4 979.2,639.4 985.5,640.4C991.7,641.5 998.4,641.5 1003,642.9C1007.6,644.4 1010.5,646.1 1013,649.2C1015.5,652.3 1015.5,658.6 1018,661.7C1020.5,664.9 1023.8,666.3 1028,668C1032.2,669.7 1036.4,671 1043,671.7C1049.7,672.5 1058.5,672.9 1068.1,672.5C1077.7,672.1 1091,670.6 1100.6,669.2C1110.2,667.9 1118.6,665.5 1125.7,664.2C1132.8,663 1139.4,663.8 1143.2,661.7C1146.9,659.6 1147.8,655.5 1148.2,651.7C1148.6,648 1147.8,643.2 1145.7,639.2C1143.6,635.2 1139.4,630.8 1135.7,627.9C1131.9,625 1127.1,623.2 1123.2,621.7C1119.2,620.1 1115.6,619.7 1111.9,618.7"/><path d="M1163.2,621.7C1164.7,625.8 1167,629.6 1167.7,634.2C1168.5,638.8 1167.2,645 1167.7,649.2C1168.2,653.4 1169.7,656.7 1170.7,659.2C1171.7,661.7 1172.7,662.6 1173.7,664.2"/><path d="M1100.6,681.3C1106.5,681.6 1111.9,682.4 1118.2,682.3C1124.4,682.1 1131.5,681.2 1138.2,680.5C1144.9,679.8 1152.4,678.8 1158.2,678C1164.1,677.2 1168.2,676.3 1173.2,675.5"/><path d="M1118.2,686.8C1126.5,685.4 1134.8,683.9 1143.2,682.8C1151.5,681.6 1163.1,680.3 1168.2,679.7C1173.3,679.2 1171.9,679.4 1173.7,679.2"/></g><text x="881.6" y="636.3" font-family='"Liberation Sans",Arial,sans-serif' font-size="18.5" font-weight="normal" text-anchor="middle" fill="#e3e890">1</text><text x="911.6" y="657.8" font-family='"Liberation Sans",Arial,sans-serif' font-size="18.5" font-weight="normal" text-anchor="middle" fill="#e3e890">10</text><text x="966.7" y="657.8" font-family='"Liberation Sans",Arial,sans-serif' font-size="18.5" font-weight="normal" text-anchor="middle" fill="#e3e890">20</text>
<path d="M1003,580.3H1279.5" stroke="#222" stroke-width="1.3" stroke-dasharray="6.5,4" fill="none"/>
<path d="M1089.4,599.6H1279.5" stroke="#222" stroke-width="1.3" stroke-dasharray="6.5,4" fill="none"/>
<path d="M715.1,576.6C720.1,578.3 722.6,580.4 730.1,581.6C737.6,582.8 749.7,583.1 760.1,583.6C770.5,584.1 783.5,584.6 792.7,584.9C801.9,585.2 805.6,585.9 815.2,585.4C824.8,584.9 839.4,583 850.3,582.1C861.1,581.2 872,580.9 880.3,580.3C888.6,579.7 891.9,578.8 900.3,578.6C908.6,578.4 921.2,578.9 930.4,579.1C939.6,579.3 946.6,579.3 955.4,579.6C964.2,579.9 975.1,580.1 983,581.1C990.9,582.1 997.2,584.2 1003,585.4C1008.8,586.6 1011.3,587 1018,588.5C1024.7,590 1033.8,592.5 1043,594.6C1052.2,596.7 1062.7,599 1073.1,601.1C1083.5,603.2 1096,605.4 1105.6,607.1C1115.2,608.9 1121.9,610.3 1130.7,611.6C1139.5,612.9 1149.9,614 1158.2,614.9C1166.5,615.8 1172.4,616.7 1180.7,617.2C1189,617.7 1198.7,617.9 1208.3,617.9C1217.9,617.9 1226.2,617.2 1238.3,617.2C1250.4,617.2 1266.7,617.7 1280.9,617.9" fill="none" stroke="#000" stroke-width="3.6"/>
<g fill="#0a0a0a"><circle cx="746.3" cy="606.1" r="2.7"/><circle cx="746.3" cy="623.7" r="2.7"/><circle cx="746.3" cy="641.2" r="2.7"/><circle cx="850.3" cy="600.4" r="2.7"/><circle cx="850.3" cy="629.7" r="2.7"/><circle cx="850.3" cy="656.2" r="2.7"/><circle cx="926.1" cy="603.4" r="2.7"/><circle cx="926.1" cy="622.4" r="2.7"/><circle cx="926.1" cy="641.2" r="2.7"/><circle cx="926.1" cy="659.7" r="2.7"/><circle cx="1002.5" cy="608.4" r="2.7"/><circle cx="1002.5" cy="627.2" r="2.7"/><circle cx="1002.5" cy="646.2" r="2.7"/><circle cx="1002.5" cy="664.7" r="2.7"/><circle cx="1050.5" cy="617.2" r="2.7"/><circle cx="1050.5" cy="631.2" r="2.7"/><circle cx="1050.5" cy="649.2" r="2.7"/><circle cx="1050.5" cy="666.2" r="2.7"/><circle cx="1050.5" cy="684.3" r="2.7"/><circle cx="1134.4" cy="651.2" r="2.7"/><circle cx="1134.4" cy="686.8" r="2.7"/><circle cx="1173.2" cy="622.2" r="2.7"/><circle cx="1173.2" cy="636.2" r="2.7"/><circle cx="1173.2" cy="653" r="2.7"/><circle cx="1173.2" cy="671.2" r="2.7"/><circle cx="1173.2" cy="688" r="2.7"/></g>
<rect x="715.1" y="552.3" width="565.8" height="171.5" fill="none" stroke="#4a4a4a" stroke-width="1.4"/>
<path d="M758.9,723.8v-4.5 M758.9,552.3v4.5M899.6,723.8v-4.5 M899.6,552.3v4.5M1040.5,723.8v-4.5 M1040.5,552.3v4.5M1180.7,723.8v-4.5 M1180.7,552.3v4.5M715.1,600.9h5.5 M1280.9,600.9h-5.5M715.1,650.5h5.5 M1280.9,650.5h-5.5M715.1,700h5.5 M1280.9,700h-5.5" stroke="#4a4a4a" stroke-width="1.2" fill="none"/>
<text x="756.4" y="743.7" font-family='"Liberation Serif","Times New Roman",serif' font-size="22" font-weight="bold" text-anchor="middle" fill="#000">130</text><text x="898.8" y="743.7" font-family='"Liberation Serif","Times New Roman",serif' font-size="22" font-weight="bold" text-anchor="middle" fill="#000">140</text><text x="1041.3" y="743.7" font-family='"Liberation Serif","Times New Roman",serif' font-size="22" font-weight="bold" text-anchor="middle" fill="#000">150</text><text x="1183.2" y="743.7" font-family='"Liberation Serif","Times New Roman",serif' font-size="22" font-weight="bold" text-anchor="middle" fill="#000">160</text>
<text x="709.5" y="571" font-family='"Liberation Serif","Times New Roman",serif' font-size="22" font-weight="bold" text-anchor="end" fill="#000">2</text><text x="709.5" y="608.3" font-family='"Liberation Serif","Times New Roman",serif' font-size="22" font-weight="bold" text-anchor="end" fill="#000">0</text><text x="709.5" y="657.9" font-family='"Liberation Serif","Times New Roman",serif' font-size="22" font-weight="bold" text-anchor="end" fill="#000">-2</text><text x="709.5" y="707.4" font-family='"Liberation Serif","Times New Roman",serif' font-size="22" font-weight="bold" text-anchor="end" fill="#000">-4</text>
<text transform="translate(684,648) rotate(-90)" font-family='"Liberation Serif","Times New Roman",serif' font-size="18" font-weight="bold" font-style="italic" text-anchor="middle" y="2.9">z</text>
<text x="1004" y="764.8" font-family='"Liberation Serif","Times New Roman",serif' font-size="22" font-weight="bold" text-anchor="middle" fill="#000" font-style="italic">x</text>
<rect x="1287.9" y="551.1" width="20.5" height="177" fill="url(#jet)"/><text x="1309.7" y="565.2" font-family='"Liberation Serif","Times New Roman",serif' font-size="22" font-weight="bold" text-anchor="start" fill="#000">0.10</text><text x="1309.7" y="648.6" font-family='"Liberation Serif","Times New Roman",serif' font-size="22" font-weight="bold" text-anchor="start" fill="#000">0.05</text><text x="1309.7" y="730.5" font-family='"Liberation Serif","Times New Roman",serif' font-size="22" font-weight="bold" text-anchor="start" fill="#000">0</text><text x="1272.1" y="746.8" font-family='"Liberation Serif","Times New Roman",serif' font-size="24"><tspan font-style="italic" font-weight="bold">u</tspan><tspan font-weight="bold">M/d</tspan></text>
<text x="724.6" y="540.3" font-family='"Liberation Sans",Arial,sans-serif' font-size="26.3" font-weight="bold" text-anchor="start" fill="#000">D1</text><text x="786.4" y="544.5" font-family='"Liberation Serif","Times New Roman",serif' font-size="36" font-weight="bold">Measured N<tspan font-size="22" dy="7">2</tspan></text>
<g clip-path="url(#clipB2)"><g filter="url(#b12)"><rect x="716.3" y="302.1" width="556.6" height="168.2" fill="#00008c"/><path fill="#0000aa" d="M963.5,322l4.5,-0.5 1.5,1.5 15,-0.5 1.5,1.5 7.5,0 1.5,1.5 9,0 1.5,1.5 7.5,0 1.5,1.5 6,0 1.5,1.5 6,0 1.5,1.5 4.5,0 1.5,1.5 4.5,0 1.5,1.5 4.5,0 1.5,1.5 6,0 1.5,1.5 4.5,0 1.5,1.5 4.5,0 1.5,1.5 6,0 1.5,1.5 4.5,0 1.5,1.5 4.5,0 1.5,1.5 6,0 1.5,1.5 6,0 1.5,1.5 4.5,0 1.5,1.5 6,0 1.5,1.5 6,0 1.5,1.5 6,0 1.5,1.5 7.5,0 1.5,1.5 6,0 1.5,1.5 7.5,0 1.5,1.5 25.5,0.5 1.5,1.5 6,0.5 2,0.5 -0.5,3 0,3 3.5,10.5 0.5,4.5 0,12 -2,21 -8.5,28.5 -10.5,24 -0.5,1.5 0.5,4.5 -4,0 0,-6 9.5,-22.5 7,-21 3,-12 1,-13.5 1,-6 0,-7.5 -0.5,-6 -4.5,-13.5 0.5,-1.5 1.5,-3 -5,-0.5 -1.5,-2 -25.5,-0.5 -1.5,-1.5 -7.5,0 -1.5,-1.5 -6,0 -1.5,-1.5 -7.5,0 -1.5,-1.5 -6,0 -1.5,-1.5 -6,0 -1.5,-1.5 -6,0 -1.5,-1.5 -4.5,0 -1.5,-1.5 -6,0 -1.5,-1.5 -6,0 -1.5,-1.5 -4.5,0 -1.5,-1.5 -4.5,0 -1.5,-1.5 -6,0 -1.5,-1.5 -4.5,0 -1.5,-1.5 -4.5,0 -1.5,-1.5 -6,0 -1.5,-1.5 -4.5,0 -1.5,-1.5 -4.5,0 -1.5,-1.5 -4.5,0 -1.5,-1.5 -6,0 -1.5,-1.5 -6,0 -1.5,-1.5 -7.5,0 -1.5,-1.5 -9,0 -1.5,-1.5 -7.5,0 -1.5,-1.5 -15,1 -1.5,-1.5 -2.5,0.5 2,6 9,37.5 4.5,16.5 7.5,21 5.5,13.5 11,19.5 5.5,7.5 14.5,14 9,5.5 7.5,4 2,2 1,4.5 -3.5,0 1,-3 -0.5,-1.5 -16.5,-9.5 -16.5,-15.5 -6.5,-9.5 -9.5,-16.5 -7,-16.5 -6.5,-18 -7,-25.5 -6.5,-30 -3,-6z"/><path fill="#0000c6" d="M966.5,322l1.5,0 1.5,1.5 15,-1 1.5,1.5 7.5,0 1.5,1.5 9,0 1.5,1.5 7.5,0 1.5,1.5 6,0 1.5,1.5 6,0 1.5,1.5 4.5,0 1.5,1.5 4.5,0 1.5,1.5 4.5,0 1.5,1.5 6,0 1.5,1.5 4.5,0 1.5,1.5 4.5,0 1.5,1.5 6,0 1.5,1.5 4.5,0 1.5,1.5 4.5,0 1.5,1.5 6,0 1.5,1.5 6,0 1.5,1.5 4.5,0 1.5,1.5 6,0 1.5,1.5 6,0 1.5,1.5 6,0 1.5,1.5 7.5,0 1.5,1.5 6,0 1.5,1.5 7.5,0 1.5,1.5 25.5,0.5 1.5,2 5,0.5 -1.5,3 -0.5,1.5 4.5,13.5 0.5,6 0,7.5 -1,6 -1,13.5 -3,12 -7,21 -9.5,22.5 0,6 -4,0 1,-6 10.5,-27 5,-18 2.5,-12 1.5,-16.5 0,-7.5 -0.5,-6 -2.5,-13.5 0.5,-3 1.5,-3 -2,-0.5 -1.5,-1.5 -25.5,-1 -1.5,-1.5 -7.5,0 -1.5,-1.5 -6,0 -1.5,-1.5 -7.5,0 -1.5,-1.5 -6,0 -1.5,-1.5 -6,0 -1.5,-1.5 -6,0 -1.5,-1.5 -4.5,0 -1.5,-1.5 -6,0 -1.5,-1.5 -6,0 -1.5,-1.5 -4.5,0 -1.5,-1.5 -4.5,0 -1.5,-1.5 -6,0 -1.5,-1.5 -4.5,0 -1.5,-1.5 -4.5,0 -1.5,-1.5 -6,0 -1.5,-1.5 -4.5,0 -1.5,-1.5 -4.5,0 -1.5,-1.5 -4.5,0 -1.5,-1.5 -6,0 -1.5,-1.5 -6,0 -1.5,-1.5 -7.5,0 -1.5,-1.5 -9,0 -1.5,-1.5 -7.5,0.5 -1.5,-1.5 -10.5,0.5 -5.5,0.5 1.5,4.5 8.5,37.5 4.5,16 7.5,21 6,14 10.5,19 6,7.5 13.5,13.5 10.5,6.5 4.5,2 3.5,2.5 3.5,3 1,3 -5,0 -1,-4.5 -1.5,-1.5 -8,-4.5 -9,-5.5 -14.5,-14 -5.5,-7.5 -10,-18 -6.5,-15 -7.5,-21 -4.5,-16.5 -9,-37.5 -2,-6z"/><path fill="#0000e3" d="M969.5,324l15,-1 1.5,1.5 7.5,-0.5 1.5,1.5 9,0 1.5,1.5 7.5,0 1.5,1.5 6,0 1.5,1.5 6,0 1.5,1.5 4.5,0 1.5,1.5 4.5,0 1.5,1.5 4.5,0 1.5,1.5 6,0 1.5,1.5 4.5,0 1.5,1.5 4.5,0 1.5,1.5 6,0 1.5,1.5 4.5,0 1.5,1.5 4.5,0 1.5,1.5 6,0 1.5,1.5 6,0 1.5,1.5 4.5,0 1.5,1.5 6,0 1.5,1.5 6,0 1.5,1.5 6,0 1.5,1.5 7.5,0 1.5,1.5 6,0 1.5,1.5 7.5,0 1.5,1.5 25.5,1 1.5,1.5 2,0.5 -1.5,3 -0.5,3 2.5,13.5 0.5,6 -0.5,16.5 -1,9 -2.5,10.5 -5.5,19.5 -9.5,24 -1.5,7.5 -4,0 3,-10.5 4,-9 4.5,-13.5 5,-18 1.5,-7.5 1.5,-10.5 0.5,-12 0,-10.5 -2.5,-13.5 1,-3 2,-4.5 -0.5,-1.5 -25.5,-1 -1.5,-1.5 -7.5,-0.5 -1.5,-1.5 -6,0 -1.5,-1.5 -7.5,0 -1.5,-1.5 -6,0 -1.5,-1.5 -6,0 -1.5,-1.5 -6,0 -1.5,-1.5 -4.5,0 -1.5,-1.5 -6,0 -1.5,-1.5 -6,0 -1.5,-1.5 -4.5,0 -1.5,-1.5 -4.5,0 -1.5,-1.5 -6,0 -1.5,-1.5 -4.5,0 -1.5,-1.5 -4.5,0 -1.5,-1.5 -6,0 -1.5,-1.5 -4.5,0 -1.5,-1.5 -4.5,0 -1.5,-1.5 -4.5,0 -1.5,-1.5 -6,0 -1.5,-1.5 -6,0 -1.5,-1.5 -7.5,0 -1.5,-1.5 -9,0.5 -1.5,-1.5 -7.5,0 -1.5,-1.5 -14,1 1,3 2.5,10.5 6.5,25.5 4,13.5 1.5,7.5 1.5,4.5 7.5,16.5 5,10.5 10,15.5 6,7 7,7.5 9.5,7.5 18,10.5 4.5,4 2,3.5 0.5,3 -8,0 -1,-3 -3.5,-3 -3.5,-2.5 -4.5,-2 -10.5,-6.5 -13,-13 -6.5,-8 -6,-10.5 -7.5,-15 -10.5,-28 -4.5,-16.5 -8.5,-37.5 -1.5,-4.5z"/><path fill="#0000ff" d="M971,324l13.5,-1 1.5,1.5 7.5,0 1.5,1.5 9,-0.5 1.5,1.5 7.5,0 1.5,1.5 6,0 1.5,1.5 6,0 1.5,1.5 4.5,0 1.5,1.5 4.5,0 1.5,1.5 4.5,0 1.5,1.5 6,0 1.5,1.5 4.5,0 1.5,1.5 4.5,0 1.5,1.5 6,0 1.5,1.5 4.5,0 1.5,1.5 4.5,0 1.5,1.5 6,0 1.5,1.5 6,0 1.5,1.5 4.5,0 1.5,1.5 6,0 1.5,1.5 6,0 1.5,1.5 6,0 1.5,1.5 7.5,0 1.5,1.5 6,0 1.5,1.5 7.5,0.5 1.5,1.5 25.5,1 0.5,1.5 -2,4.5 -1,3 2,10.5 0.5,9 -0.5,15 -1.5,12 -6.5,25.5 -4.5,13.5 -4,9 -3,10.5 -33.5,0 1,-4.5 3,-4.5 5,-4.5 13,-9.5 6,-6 9,-10.5 5,-8.5 3,-6 2.5,-7.5 2,-12 0.5,-7.5 -0.5,-13.5 -1,-4.5 -4,-7 -0.5,-2 3.5,-1.5 4,-4.5 -23.5,-1 -1.5,-1.5 -7.5,0 -1.5,-1.5 -6,0 -1.5,-1.5 -7.5,-0.5 -1.5,-1.5 -6,0 -1.5,-1.5 -6,0 -1.5,-1.5 -6,0 -1.5,-1.5 -4.5,0 -1.5,-1.5 -6,0 -1.5,-1.5 -6,0 -1.5,-1.5 -4.5,0 -1.5,-1.5 -4.5,0 -1.5,-1.5 -6,0 -1.5,-1.5 -4.5,0 -1.5,-1.5 -4.5,0 -1.5,-1.5 -6,0 -1.5,-1.5 -4.5,0 -1.5,-1.5 -4.5,0 -1.5,-1.5 -4.5,0 -1.5,-1.5 -6,0 -1.5,-1.5 -6,0 -1.5,-1.5 -7.5,0.5 -1.5,-1.5 -9,0 -1.5,-1.5 -7.5,0 -1.5,-1.5 -12,1 2.5,12 7,25.5 5,15 1,6 1.5,4.5 7,13.5 5,9 10,14.5 6,7 10.5,10 7.5,5.5 12,6.5 6,3 9,3.5 9,3 7.5,2.5 2.5,1.5 3,3 1.5,3 0,1.5 -28.5,0 -1,-4.5 -3,-4 -3,-2 -18,-10.5 -6,-4.5 -7.5,-7 -4.5,-5 -6,-7.5 -8.5,-13.5 -5,-10.5 -7.5,-16.5 -1.5,-4.5 -1.5,-7.5 -4,-13.5 -6.5,-25.5 -2.5,-10.5 -1,-3z"/><path fill="#001cff" d="M972.5,324l12,-1 1.5,1.5 7.5,0 1.5,1.5 9,0 1.5,1.5 7.5,-0.5 1.5,1.5 6,0 1.5,1.5 6,0 1.5,1.5 4.5,0 1.5,1.5 4.5,0 1.5,1.5 4.5,0 1.5,1.5 6,0 1.5,1.5 4.5,0 1.5,1.5 4.5,0 1.5,1.5 6,0 1.5,1.5 4.5,0 1.5,1.5 4.5,0 1.5,1.5 6,0 1.5,1.5 6,0 1.5,1.5 4.5,0 1.5,1.5 6,0 1.5,1.5 6,0 1.5,1.5 6,0 1.5,1.5 7.5,0.5 1.5,1.5 6,0 1.5,1.5 7.5,0 1.5,1.5 23.5,1 -4,4.5 -3.5,1.5 0.5,2 4,7 1,4.5 0.5,13.5 -0.5,7.5 -2,12 -2.5,7.5 -3,6 -5,8.5 -9,10.5 -6,6 -13,9.5 -5,4.5 -3,4.5 -1,4.5 -41.5,0 0,-1.5 -1.5,-3 -3,-3 -2.5,-1.5 -7.5,-2.5 -9,-3 -9,-3.5 -6,-3 -12,-6.5 -7.5,-5.5 -10.5,-10 -6,-7 -10,-14.5 -5,-9 -7,-13.5 -1.5,-4.5 -1,-6 -5,-15 -7,-25.5zM974,324l2,9 3.5,10.5 4,15 8.5,24 2.5,6 9.5,16.5 9,13.5 9,10.5 12,10.5 6.5,4.5 8.5,4.5 9,4 7.5,2.5 10.5,2.5 10.5,1.5 19.5,0.5 4.5,-0.5 6,-1 9,-2.5 6.5,-2.5 8.5,-4 6,-4 6,-5 4.5,-4.5 6,-8 4,-7.5 3.5,-7.5 3,-12 1,-7.5 1,-10.5 -1,-7.5 -4,-6.5 -1.5,-4 1,-1.5 3.5,-1 2,-2 -20,-1 -1.5,-1.5 -7.5,0 -1.5,-1.5 -6,0 -1.5,-1.5 -7.5,0 -1.5,-1.5 -6,0 -1.5,-1.5 -6,0 -1.5,-1.5 -6,0 -1.5,-1.5 -4.5,0 -1.5,-1.5 -6,0 -1.5,-1.5 -6,0 -1.5,-1.5 -4.5,0 -1.5,-1.5 -4.5,0 -1.5,-1.5 -6,0 -1.5,-1.5 -4.5,0 -1.5,-1.5 -4.5,0 -1.5,-1.5 -6,0 -1.5,-1.5 -4.5,0 -1.5,-1.5 -4.5,0 -1.5,-1.5 -4.5,0 -1.5,-1.5 -6,0 -1.5,-1.5 -6,0 -1.5,-1.5 -7.5,0 -1.5,-1.5 -9,0 -1.5,-1.5 -7.5,0 -1.5,-1.5z"/><path fill="#0039ff" d="M975.5,324l9,-1 1.5,1.5 7.5,0 1.5,1.5 9,0 1.5,1.5 7.5,0 1.5,1.5 6,0 1.5,1.5 6,0 1.5,1.5 4.5,0 1.5,1.5 4.5,0 1.5,1.5 4.5,0 1.5,1.5 6,0 1.5,1.5 4.5,0 1.5,1.5 4.5,0 1.5,1.5 6,0 1.5,1.5 4.5,0 1.5,1.5 4.5,0 1.5,1.5 6,0 1.5,1.5 6,0 1.5,1.5 4.5,0 1.5,1.5 6,0 1.5,1.5 6,0 1.5,1.5 6,0 1.5,1.5 7.5,0 1.5,1.5 6,0 1.5,1.5 7.5,0 1.5,1.5 20,1 -2,2 -3.5,1 -1,1.5 1.5,4 4,6.5 1,7.5 -1,10.5 -1,7.5 -3,12 -3.5,7.5 -4,7.5 -6,8 -4.5,4.5 -6,5 -6,4 -8.5,4 -6.5,2.5 -9,2.5 -6,1 -4.5,0.5 -19.5,-0.5 -10.5,-1.5 -10.5,-2.5 -7.5,-2.5 -9,-4 -8.5,-4.5 -6.5,-4.5 -12,-10.5 -10,-12 -12.5,-19.5 -7,-13.5 -8,-22.5 -5,-18 -3.5,-10.5 -2,-9zM976,324l1,7.5 4,10.5 5.5,19.5 9,19.5 6.5,13.5 13.5,21 8.5,10.5 6.5,6 5,4 7,5 3.5,2 9,4.5 9,3 12,3 13.5,2 21,-0.5 7.5,-1.5 10.5,-3 12.5,-6.5 5.5,-4 7.5,-7 6,-8 2,-3.5 5,-10.5 2.5,-7.5 3,-12 1,-9 0,-6 -3.5,-7.5 -1.5,-4.5 0.5,-2.5 3.5,-2 -17,-1 -1.5,-1.5 -7.5,0 -1.5,-1.5 -6,0 -1.5,-1.5 -7.5,0 -1.5,-1.5 -6,0 -1.5,-1.5 -6,0 -1.5,-1.5 -6,0 -1.5,-1.5 -4.5,0 -1.5,-1.5 -6,0 -1.5,-1.5 -6,0 -1.5,-1.5 -4.5,0 -1.5,-1.5 -4.5,0 -1.5,-1.5 -6,0 -1.5,-1.5 -4.5,0 -1.5,-1.5 -4.5,0 -1.5,-1.5 -6,0 -1.5,-1.5 -4.5,0 -1.5,-1.5 -4.5,0 -1.5,-1.5 -4.5,0 -1.5,-1.5 -6,0 -1.5,-1.5 -6,0 -1.5,-1.5 -7.5,0 -1.5,-1.5 -9,0 -1.5,-1.5 -7.5,0.5 -1.5,-1.5z"/><path fill="#0055ff" d="M977,324l7.5,-0.5 1.5,1.5 7.5,-0.5 1.5,1.5 9,0 1.5,1.5 7.5,0 1.5,1.5 6,0 1.5,1.5 6,0 1.5,1.5 4.5,0 1.5,1.5 4.5,0 1.5,1.5 4.5,0 1.5,1.5 6,0 1.5,1.5 4.5,0 1.5,1.5 4.5,0 1.5,1.5 6,0 1.5,1.5 4.5,0 1.5,1.5 4.5,0 1.5,1.5 6,0 1.5,1.5 6,0 1.5,1.5 4.5,0 1.5,1.5 6,0 1.5,1.5 6,0 1.5,1.5 6,0 1.5,1.5 7.5,0 1.5,1.5 6,0 1.5,1.5 7.5,0 1.5,1.5 17,1 -3.5,2 -0.5,2.5 1.5,4.5 3.5,7.5 0,6 -1,9 -3,12 -3,9 -5.5,10.5 -5.5,8 -3,3.5 -7,6.5 -5,3.5 -12,6 -10.5,3 -7.5,1.5 -21,0.5 -13.5,-2 -12,-3 -9,-3 -10.5,-5.5 -14,-10 -7,-7 -8,-9.5 -13.5,-21 -6.5,-13.5 -9.5,-20.5 -5,-18.5 -4,-10.5 -1,-7.5zM977.5,324l1,6 4,10.5 3,12 3,9 17.5,34.5 10.5,16.5 6,7.5 13,13 12,7.5 9,4.5 7.5,3 13.5,3.5 13.5,1.5 18,0 9,-2 9,-3 4.5,-1.5 7.5,-4.5 6,-4.5 7.5,-7 2.5,-3 4.5,-7.5 4.5,-9 3,-7.5 3.5,-13.5 1.5,-9 0,-4.5 -3,-7 -1,-5 0.5,-3 1.5,-1.5 -14.5,-1 -1.5,-1.5 -7.5,0 -1.5,-1.5 -6,0 -1.5,-1.5 -7.5,0 -1.5,-1.5 -6,0 -1.5,-1.5 -6,0 -1.5,-1.5 -6,0 -1.5,-1.5 -4.5,0 -1.5,-1.5 -6,0 -1.5,-1.5 -6,0 -1.5,-1.5 -4.5,0 -1.5,-1.5 -4.5,0 -1.5,-1.5 -6,0 -1.5,-1.5 -4.5,0 -1.5,-1.5 -4.5,0 -1.5,-1.5 -6,0 -1.5,-1.5 -4.5,0 -1.5,-1.5 -4.5,0 -1.5,-1.5 -4.5,0 -1.5,-1.5 -6,0 -1.5,-1.5 -6,0 -1.5,-1.5 -7.5,0 -1.5,-1.5 -9,0 -1.5,-1.5 -7.5,0.5 -1.5,-1.5z"/><path fill="#0071ff" d="M978.5,324l6,-0.5 1.5,1.5 7.5,-0.5 1.5,1.5 9,0 1.5,1.5 7.5,0 1.5,1.5 6,0 1.5,1.5 6,0 1.5,1.5 4.5,0 1.5,1.5 4.5,0 1.5,1.5 4.5,0 1.5,1.5 6,0 1.5,1.5 4.5,0 1.5,1.5 4.5,0 1.5,1.5 6,0 1.5,1.5 4.5,0 1.5,1.5 4.5,0 1.5,1.5 6,0 1.5,1.5 6,0 1.5,1.5 4.5,0 1.5,1.5 6,0 1.5,1.5 6,0 1.5,1.5 6,0 1.5,1.5 7.5,0 1.5,1.5 6,0 1.5,1.5 7.5,0 1.5,1.5 14.5,1 -1.5,1.5 -0.5,3 1,5 3,7 0,4.5 -1.5,9 -3.5,13.5 -3,7.5 -4.5,9 -4.5,7.5 -2.5,3 -7.5,7 -6,4.5 -7.5,4.5 -4.5,1.5 -9,3 -9,2 -18,0 -13.5,-1.5 -13.5,-3.5 -7.5,-3 -9,-4.5 -12,-7.5 -13,-13 -6,-7.5 -10.5,-16.5 -18,-36 -5.5,-19.5 -4,-10.5 -1,-6zM979,324l0.5,4.5 4,10.5 6.5,21 17,34.5 10.5,16.5 7,9 11,10.5 9,6.5 4.5,2.5 7.5,3.5 7.5,3 13.5,3.5 15,2 10.5,0 6,-0.5 7.5,-1.5 10.5,-3 4.5,-2 7.5,-4.5 4.5,-3 6.5,-6.5 4,-4.5 4.5,-7.5 3.5,-7.5 3,-7.5 3.5,-13.5 1.5,-12 -2.5,-13.5 0,-2 1,-2.5 -13,-1 -1.5,-1.5 -7.5,0 -1.5,-1.5 -6,0 -1.5,-1.5 -7.5,0 -1.5,-1.5 -6,0 -1.5,-1.5 -6,0 -1.5,-1.5 -6,0 -1.5,-1.5 -4.5,0 -1.5,-1.5 -6,0 -1.5,-1.5 -6,0 -1.5,-1.5 -4.5,0 -1.5,-1.5 -4.5,0 -1.5,-1.5 -6,0 -1.5,-1.5 -4.5,0 -1.5,-1.5 -4.5,0 -1.5,-1.5 -6,0 -1.5,-1.5 -4.5,0 -1.5,-1.5 -4.5,0 -1.5,-1.5 -4.5,0 -1.5,-1.5 -6,0 -1.5,-1.5 -6,0 -1.5,-1.5 -7.5,0 -1.5,-1.5 -9,0 -1.5,-1.5 -7.5,0.5 -1.5,-1.5z"/><path fill="#008eff" d="M980,324l4.5,-0.5 1.5,1.5 7.5,-0.5 1.5,1.5 9,0 1.5,1.5 7.5,0 1.5,1.5 6,0 1.5,1.5 6,0 1.5,1.5 4.5,0 1.5,1.5 4.5,0 1.5,1.5 4.5,0 1.5,1.5 6,0 1.5,1.5 4.5,0 1.5,1.5 4.5,0 1.5,1.5 6,0 1.5,1.5 4.5,0 1.5,1.5 4.5,0 1.5,1.5 6,0 1.5,1.5 6,0 1.5,1.5 4.5,0 1.5,1.5 6,0 1.5,1.5 6,0 1.5,1.5 6,0 1.5,1.5 7.5,0 1.5,1.5 6,0 1.5,1.5 7.5,0 1.5,1.5 13,1 -1,2.5 0,2 2.5,13.5 -1.5,12 -3.5,13.5 -3,7.5 -3.5,7.5 -4.5,7.5 -4,4.5 -6.5,6.5 -4.5,3 -7.5,4.5 -4.5,2 -10.5,3 -7.5,1.5 -6,0.5 -10.5,0 -15,-2 -13.5,-3.5 -7.5,-3 -7.5,-3.5 -4.5,-2.5 -9,-6.5 -11,-10.5 -7,-9 -10.5,-16.5 -17,-34.5 -6.5,-21 -4,-10.5 -0.5,-4.5zM980.5,324l1,4.5 2.5,7.5 8,24 5.5,12 10.5,21 10.5,16.5 6.5,8.5 11,11 13,9 7.5,3.5 9,3.5 13.5,3 15,2 15,-0.5 7.5,-1.5 9,-3 6,-2.5 7.5,-4 9,-8 5,-6 4,-6 3.5,-7.5 2.5,-6 4,-15 1.5,-12 -2,-13.5 1,-4.5 -12,-0.5 -1.5,-2 -7.5,0 -1.5,-1.5 -6,0 -1.5,-1.5 -7.5,0 -1.5,-1.5 -6,0 -1.5,-1.5 -6,0 -1.5,-1.5 -6,0 -1.5,-1.5 -4.5,0 -1.5,-1.5 -6,0 -1.5,-1.5 -6,0 -1.5,-1.5 -4.5,0 -1.5,-1.5 -4.5,0 -1.5,-1.5 -6,0 -1.5,-1.5 -4.5,0 -1.5,-1.5 -4.5,0 -1.5,-1.5 -6,0 -1.5,-1.5 -4.5,0 -1.5,-1.5 -4.5,0 -1.5,-1.5 -4.5,0 -1.5,-1.5 -6,0 -1.5,-1.5 -6,0 -1.5,-1.5 -7.5,0 -1.5,-1.5 -9,0 -1.5,-1.5 -7.5,0.5 -1.5,-1.5z"/><path fill="#00aaff" d="M981.5,324l3,-0.5 1.5,1.5 7.5,-0.5 1.5,1.5 9,0 1.5,1.5 7.5,0 1.5,1.5 6,0 1.5,1.5 6,0 1.5,1.5 4.5,0 1.5,1.5 4.5,0 1.5,1.5 4.5,0 1.5,1.5 6,0 1.5,1.5 4.5,0 1.5,1.5 4.5,0 1.5,1.5 6,0 1.5,1.5 4.5,0 1.5,1.5 4.5,0 1.5,1.5 6,0 1.5,1.5 6,0 1.5,1.5 4.5,0 1.5,1.5 6,0 1.5,1.5 6,0 1.5,1.5 6,0 1.5,1.5 7.5,0 1.5,1.5 6,0 1.5,1.5 7.5,0 1.5,2 12,0.5 -1,4.5 2,13.5 -1.5,12 -4,15 -2.5,6 -3.5,7.5 -4,6 -5,6 -9,8 -7.5,4 -6,2.5 -9,3 -7.5,1.5 -15,0.5 -15,-2 -13.5,-3 -9,-3.5 -7.5,-3.5 -13,-9 -11,-11 -6.5,-8.5 -10.5,-16.5 -10.5,-21 -5.5,-12 -8,-24 -3,-9 -0.5,-3zM982,324l0.5,3 3,7.5 8,25.5 4.5,10 11,21.5 8.5,13.5 7.5,10.5 12,12 13,9 5.5,3 7,2.5 9,3 7.5,1.5 9,1 4.5,1 12,0 4.5,-0.5 7.5,-1.5 9,-3 12,-6 10,-8.5 3.5,-4.5 4.5,-7 3,-5.5 2.5,-7 4.5,-15 1.5,-12 -1,-13.5 0.5,-4.5 -11,-0.5 -1.5,-1.5 -7.5,-0.5 -1.5,-1.5 -6,0 -1.5,-1.5 -7.5,0 -1.5,-1.5 -6,0 -1.5,-1.5 -6,0 -1.5,-1.5 -6,0 -1.5,-1.5 -4.5,0 -1.5,-1.5 -6,0 -1.5,-1.5 -6,0 -1.5,-1.5 -4.5,0 -1.5,-1.5 -4.5,0 -1.5,-1.5 -6,0 -1.5,-1.5 -4.5,0 -1.5,-1.5 -4.5,0 -1.5,-1.5 -6,0 -1.5,-1.5 -4.5,0 -1.5,-1.5 -4.5,0 -1.5,-1.5 -4.5,0 -1.5,-1.5 -6,0 -1.5,-1.5 -6,0 -1.5,-1.5 -7.5,0 -1.5,-1.5 -9,0.5 -1.5,-1.5 -7.5,0 -1.5,-1z"/><path fill="#00c6ff" d="M983,324l1.5,0 1.5,1 7.5,0 1.5,1.5 9,-0.5 1.5,1.5 7.5,0 1.5,1.5 6,0 1.5,1.5 6,0 1.5,1.5 4.5,0 1.5,1.5 4.5,0 1.5,1.5 4.5,0 1.5,1.5 6,0 1.5,1.5 4.5,0 1.5,1.5 4.5,0 1.5,1.5 6,0 1.5,1.5 4.5,0 1.5,1.5 4.5,0 1.5,1.5 6,0 1.5,1.5 6,0 1.5,1.5 4.5,0 1.5,1.5 6,0 1.5,1.5 6,0 1.5,1.5 6,0 1.5,1.5 7.5,0 1.5,1.5 6,0 1.5,1.5 7.5,0.5 1.5,1.5 11,0.5 -0.5,4.5 1,13.5 -1.5,12 -4.5,15 -2.5,7 -3,5.5 -4.5,7 -3.5,4.5 -10,8.5 -12,6 -9,3 -7.5,1.5 -4.5,0.5 -12,0 -4.5,-1 -9,-1 -7.5,-1.5 -9,-3 -7,-2.5 -5.5,-3 -13,-9 -12,-12 -7.5,-10.5 -8.5,-13.5 -11,-21.5 -4.5,-10 -8,-25.5 -3,-7.5 -0.5,-3zM983.5,324l0.5,3 2,4.5 9.5,28.5 3.5,7.5 12,24 8.5,13.5 7,9.5 12,11.5 4.5,3.5 7.5,5 12,5.5 10.5,3.5 7.5,1.5 7.5,0.5 4.5,1 15,-0.5 7.5,-1.5 9,-2.5 5.5,-2.5 8,-4.5 9,-8 7,-10 5.5,-12 5,-16.5 0.5,-7.5 1,-4.5 0,-16.5 -10,-0.5 -1.5,-1.5 -7.5,-0.5 -1.5,-1.5 -6,0 -1.5,-1.5 -7.5,0 -1.5,-1.5 -6,0 -1.5,-1.5 -6,0 -1.5,-1.5 -6,0 -1.5,-1.5 -4.5,0 -1.5,-1.5 -6,0 -1.5,-1.5 -6,0 -1.5,-1.5 -4.5,0 -1.5,-1.5 -4.5,0 -1.5,-1.5 -6,0 -1.5,-1.5 -4.5,0 -1.5,-1.5 -4.5,0 -1.5,-1.5 -6,0 -1.5,-1.5 -4.5,0 -1.5,-1.5 -4.5,0 -1.5,-1.5 -4.5,0 -1.5,-1.5 -6,0 -1.5,-1.5 -6,0 -1.5,-1.5 -7.5,0 -1.5,-1.5 -9,0.5 -1.5,-1.5 -7.5,0.5 -1.5,-1.5z"/><path fill="#00e3ff" d="M984.5,324l1.5,1.5 7.5,-0.5 1.5,1.5 9,-0.5 1.5,1.5 7.5,0 1.5,1.5 6,0 1.5,1.5 6,0 1.5,1.5 4.5,0 1.5,1.5 4.5,0 1.5,1.5 4.5,0 1.5,1.5 6,0 1.5,1.5 4.5,0 1.5,1.5 4.5,0 1.5,1.5 6,0 1.5,1.5 4.5,0 1.5,1.5 4.5,0 1.5,1.5 6,0 1.5,1.5 6,0 1.5,1.5 4.5,0 1.5,1.5 6,0 1.5,1.5 6,0 1.5,1.5 6,0 1.5,1.5 7.5,0 1.5,1.5 6,0 1.5,1.5 7.5,0.5 1.5,1.5 10,0.5 0,16.5 -1,4.5 -0.5,7.5 -5,16.5 -5.5,12 -7,10 -9,8 -8,4.5 -5.5,2.5 -9,2.5 -7.5,1.5 -15,0.5 -4.5,-1 -7.5,-0.5 -7.5,-1.5 -10.5,-3.5 -12,-5.5 -7.5,-5 -4.5,-3.5 -12,-11.5 -7,-9.5 -8.5,-13.5 -12,-24 -3.5,-7.5 -9.5,-28.5 -2,-4.5 -0.5,-3zM985,325.5l11,31.5 4.5,10.5 11.5,22.5 9.5,15 6,7.5 14,13.5 7.5,5 9,4.5 6,2.5 9,3 9,1.5 12,1.5 10.5,0 9,-1.5 4.5,-1.5 12,-4.5 6,-3.5 6,-5 3.5,-3.5 4,-5.5 7,-12.5 2.5,-7.5 3.5,-12 1.5,-13.5 0,-13.5 -8.5,-0.5 -1.5,-1.5 -7.5,-0.5 -1.5,-1.5 -6,0 -1.5,-1.5 -7.5,0 -1.5,-1.5 -6,0 -1.5,-1.5 -6,0 -1.5,-1.5 -6,0 -1.5,-1.5 -4.5,0 -1.5,-1.5 -6,0 -1.5,-1.5 -6,0 -1.5,-1.5 -4.5,0 -1.5,-1.5 -4.5,0 -1.5,-1.5 -6,0 -1.5,-1.5 -4.5,0 -1.5,-1.5 -4.5,0 -1.5,-1.5 -6,0 -1.5,-1.5 -4.5,0 -1.5,-1.5 -4.5,0 -1.5,-1.5 -4.5,0 -1.5,-1.5 -6,0 -1.5,-1.5 -6,0 -1.5,-1.5 -7.5,0 -1.5,-1.5 -9,0.5 -1.5,-1.5z"/><path fill="#00ffff" d="M986,325.5l7.5,-0.5 1.5,1.5 9,-0.5 1.5,1.5 7.5,0 1.5,1.5 6,0 1.5,1.5 6,0 1.5,1.5 4.5,0 1.5,1.5 4.5,0 1.5,1.5 4.5,0 1.5,1.5 6,0 1.5,1.5 4.5,0 1.5,1.5 4.5,0 1.5,1.5 6,0 1.5,1.5 4.5,0 1.5,1.5 4.5,0 1.5,1.5 6,0 1.5,1.5 6,0 1.5,1.5 4.5,0 1.5,1.5 6,0 1.5,1.5 6,0 1.5,1.5 6,0 1.5,1.5 7.5,0 1.5,1.5 6,0 1.5,1.5 7.5,0.5 1.5,1.5 8.5,0.5 0,13.5 -1.5,13.5 -3.5,12 -4,10.5 -6,10.5 -4,5 -4.5,4.5 -5.5,4 -6.5,3.5 -15,5.5 -7.5,1.5 -6,0 -6,0 -12,-1.5 -13.5,-3 -6,-2 -7.5,-3.5 -6,-3 -6,-4 -13.5,-12.5 -5,-5 -11,-16.5 -14,-27 -3.5,-9 -7.5,-21 -3.5,-10.5zM986.5,325.5l4.5,15 9.5,25.5 14,26 10.5,15.5 6,6.5 12,10.5 6,4 6,3.5 13.5,5.5 13.5,3 16.5,1.5 6,-0.5 9,-1.5 7.5,-2.5 6,-2 6,-3.5 6,-4.5 4.5,-4 3,-3.5 7,-12 3.5,-9 4,-13.5 1.5,-12 0.5,-13.5 -7.5,-0.5 -1.5,-1.5 -7.5,0 -1.5,-1.5 -6,-0.5 -1.5,-1.5 -7.5,0 -1.5,-1.5 -6,0 -1.5,-1.5 -6,0 -1.5,-1.5 -6,0 -1.5,-1.5 -4.5,0 -1.5,-1.5 -6,0 -1.5,-1.5 -6,0 -1.5,-1.5 -4.5,0 -1.5,-1.5 -4.5,0 -1.5,-1.5 -6,0 -1.5,-1.5 -4.5,0 -1.5,-1.5 -4.5,0 -1.5,-1.5 -6,0 -1.5,-1.5 -4.5,0 -1.5,-1.5 -4.5,0 -1.5,-1.5 -4.5,0 -1.5,-1.5 -6,0 -1.5,-1.5 -6,0 -1.5,-1.5 -7.5,0 -1.5,-1.5 -9,0.5 -1.5,-1.5z"/><path fill="#1cffe3" d="M987.5,325.5l6,-0.5 1.5,1.5 9,-0.5 1.5,1.5 7.5,0 1.5,1.5 6,0 1.5,1.5 6,0 1.5,1.5 4.5,0 1.5,1.5 4.5,0 1.5,1.5 4.5,0 1.5,1.5 6,0 1.5,1.5 4.5,0 1.5,1.5 4.5,0 1.5,1.5 6,0 1.5,1.5 4.5,0 1.5,1.5 4.5,0 1.5,1.5 6,0 1.5,1.5 6,0 1.5,1.5 4.5,0 1.5,1.5 6,0 1.5,1.5 6,0 1.5,1.5 6,0 1.5,1.5 7.5,0 1.5,1.5 6,0.5 1.5,1.5 7.5,0 1.5,1.5 7.5,0.5 -0.5,13.5 -1.5,12 -4,13.5 -3.5,9 -7,12 -3,3.5 -4.5,4 -6,4.5 -6,3.5 -6,2 -7.5,2.5 -9,1.5 -6,0.5 -16.5,-1.5 -13.5,-3 -13.5,-5.5 -6,-3.5 -6,-4 -12,-10.5 -6,-6.5 -10.5,-15.5 -11,-20 -6,-13.5 -8,-22.5 -3,-10.5zM987.5,325.5l2,9 1.5,4.5 10,25.5 7.5,15 7,12 8.5,12 7,8 12,10.5 6,4.5 6,3 13.5,5.5 7.5,2 7.5,1.5 9,1 7.5,0 6,-0.5 7.5,-1.5 7.5,-2 6,-2.5 6,-3.5 4.5,-3.5 4.5,-4 3,-3.5 4,-6 3,-6 4,-9 3,-12 2.5,-13.5 0,-12 -6,-0.5 -1.5,-1.5 -7.5,0 -1.5,-1.5 -6,0 -1.5,-1.5 -7.5,-0.5 -1.5,-1.5 -6,0 -1.5,-1.5 -6,0 -1.5,-1.5 -6,0 -1.5,-1.5 -4.5,0 -1.5,-1.5 -6,0 -1.5,-1.5 -6,0 -1.5,-1.5 -4.5,0 -1.5,-1.5 -4.5,0 -1.5,-1.5 -6,0 -1.5,-1.5 -4.5,0 -1.5,-1.5 -4.5,0 -1.5,-1.5 -6,0 -1.5,-1.5 -4.5,0 -1.5,-1.5 -4.5,0 -1.5,-1.5 -4.5,0 -1.5,-1.5 -6,0 -1.5,-1.5 -6,0 -1.5,-1.5 -7.5,0.5 -1.5,-1.5 -9,0 -1.5,-1.5z"/><path fill="#39ffc6" d="M989,325.5l4.5,-0.5 1.5,1.5 9,0 1.5,1.5 7.5,-0.5 1.5,1.5 6,0 1.5,1.5 6,0 1.5,1.5 4.5,0 1.5,1.5 4.5,0 1.5,1.5 4.5,0 1.5,1.5 6,0 1.5,1.5 4.5,0 1.5,1.5 4.5,0 1.5,1.5 6,0 1.5,1.5 4.5,0 1.5,1.5 4.5,0 1.5,1.5 6,0 1.5,1.5 6,0 1.5,1.5 4.5,0 1.5,1.5 6,0 1.5,1.5 6,0 1.5,1.5 6,0 1.5,1.5 7.5,0.5 1.5,1.5 6,0 1.5,1.5 7.5,0 1.5,1.5 6,0.5 0,12 -2.5,13.5 -3.5,13 -4,9.5 -3.5,6 -4.5,6 -3,3.5 -4.5,4 -5,3 -5.5,3 -6,2.5 -7.5,2 -7.5,1 -6,0.5 -16.5,-1.5 -7.5,-1.5 -7.5,-2 -13.5,-5.5 -10.5,-7 -12.5,-11 -7,-8 -9,-13 -11.5,-21 -5,-12 -8.5,-22.5 -2,-9zM988.5,325.5l2,9 11,28.5 7,14 7.5,13.5 9,12.5 7.5,8 12,10 10.5,6.5 13.5,5.5 7.5,2 7.5,1 15,1.5 6,-0.5 7.5,-1.5 7.5,-2 6,-2.5 6,-3 4.5,-3.5 4.5,-4 3,-3.5 4,-6 3.5,-6 4,-10.5 3,-10.5 2,-12 0,-12 -4.5,-0.5 -1.5,-1.5 -7.5,0 -1.5,-1.5 -6,0 -1.5,-1.5 -7.5,0 -1.5,-1.5 -6,0 -1.5,-1.5 -6,0 -1.5,-1.5 -6,0 -1.5,-1.5 -4.5,0 -1.5,-1.5 -6,0 -1.5,-1.5 -6,0 -1.5,-1.5 -4.5,0 -1.5,-1.5 -4.5,0 -1.5,-1.5 -6,0 -1.5,-1.5 -4.5,0 -1.5,-1.5 -4.5,0 -1.5,-1.5 -6,0 -1.5,-1.5 -4.5,0 -1.5,-1.5 -4.5,0 -1.5,-1.5 -4.5,0 -1.5,-1.5 -6,0 -1.5,-1.5 -6,0 -1.5,-1.5 -7.5,0 -1.5,-1.5 -9,0 -1.5,-1.5z"/><path fill="#55ffaa" d="M989,325.5l4.5,-0.5 1.5,1.5 9,0 1.5,1.5 7.5,0 1.5,1.5 6,0 1.5,1.5 6,0 1.5,1.5 4.5,0 1.5,1.5 4.5,0 1.5,1.5 4.5,0 1.5,1.5 6,0 1.5,1.5 4.5,0 1.5,1.5 4.5,0 1.5,1.5 6,0 1.5,1.5 4.5,0 1.5,1.5 4.5,0 1.5,1.5 6,0 1.5,1.5 6,0 1.5,1.5 4.5,0 1.5,1.5 6,0 1.5,1.5 6,0 1.5,1.5 6,0 1.5,1.5 7.5,0 1.5,1.5 6,0 1.5,1.5 7.5,0 1.5,1.5 4.5,0.5 0,12 -2,12 -3.5,12 -4.5,10.5 -6.5,10.5 -4,4.5 -3.5,3 -4.5,3.5 -6,3 -6,2.5 -7.5,2 -7.5,1.5 -6,0.5 -15,-1.5 -7.5,-1 -7.5,-2 -13.5,-5.5 -10.5,-6.5 -12,-10 -7.5,-8 -9,-12.5 -10.5,-18.5 -6,-13.5 -9,-24 -1,-4.5zM990,325.5l0,4.5 1,4.5 10.5,27 7.5,15 8,13.5 8,11 7.5,8 12,10 10.5,6 13.5,5.5 7.5,2 7.5,1.5 7.5,1 7.5,0 12,-1 7.5,-2 6,-2.5 6,-3 4.5,-3 4.5,-4 3.5,-4 6.5,-10.5 4.5,-10.5 3,-12 2,-12 0.5,-10.5 -3.5,0 -1.5,-2 -7.5,0 -1.5,-1.5 -6,0 -1.5,-1.5 -7.5,0 -1.5,-1.5 -6,0 -1.5,-1.5 -6,0 -1.5,-1.5 -6,0 -1.5,-1.5 -4.5,0 -1.5,-1.5 -6,0 -1.5,-1.5 -6,0 -1.5,-1.5 -4.5,0 -1.5,-1.5 -4.5,0 -1.5,-1.5 -6,0 -1.5,-1.5 -4.5,0 -1.5,-1.5 -4.5,0 -1.5,-1.5 -6,0 -1.5,-1.5 -4.5,0 -1.5,-1.5 -4.5,0 -1.5,-1.5 -4.5,0 -1.5,-1.5 -6,0 -1.5,-1.5 -6,0 -1.5,-1.5 -7.5,0 -1.5,-1.5 -9,0 -1.5,-1z"/><path fill="#71ff8e" d="M990.5,325.5l3,0 1.5,1 9,0 1.5,1.5 7.5,0 1.5,1.5 6,0 1.5,1.5 6,0 1.5,1.5 4.5,0 1.5,1.5 4.5,0 1.5,1.5 4.5,0 1.5,1.5 6,0 1.5,1.5 4.5,0 1.5,1.5 4.5,0 1.5,1.5 6,0 1.5,1.5 4.5,0 1.5,1.5 4.5,0 1.5,1.5 6,0 1.5,1.5 6,0 1.5,1.5 4.5,0 1.5,1.5 6,0 1.5,1.5 6,0 1.5,1.5 6,0 1.5,1.5 7.5,0 1.5,1.5 6,0 1.5,1.5 7.5,0 1.5,2 3.5,0 -0.5,10.5 -2,12 -3,12 -4.5,10.5 -6.5,10.5 -3.5,4 -4.5,4 -4.5,3 -6,3 -6,2.5 -7.5,2 -12,1 -7.5,0 -7.5,-1 -7.5,-1.5 -7.5,-2 -13.5,-5.5 -10.5,-6 -12,-10 -7.5,-8 -9,-12.5 -6,-10.5 -6,-11.5 -8,-18.5 -5.5,-15 -0.5,-7.5zM991,325.5l0.5,7.5 5,14 7,16 3.5,7.5 10.5,18 7.5,10.5 9,9.5 10.5,8.5 10.5,6 13.5,5.5 15,3.5 13.5,1 7.5,-0.5 6,-1 6,-1.5 6,-2 6,-3 4.5,-3 4.5,-4 3.5,-4 6.5,-10.5 4.5,-10.5 3,-10.5 2.5,-12 0,-10.5 -2,0 -1.5,-1.5 -7.5,-0.5 -1.5,-1.5 -6,0 -1.5,-1.5 -7.5,0 -1.5,-1.5 -6,0 -1.5,-1.5 -6,0 -1.5,-1.5 -6,0 -1.5,-1.5 -4.5,0 -1.5,-1.5 -6,0 -1.5,-1.5 -6,0 -1.5,-1.5 -4.5,0 -1.5,-1.5 -4.5,0 -1.5,-1.5 -6,0 -1.5,-1.5 -4.5,0 -1.5,-1.5 -4.5,0 -1.5,-1.5 -6,0 -1.5,-1.5 -4.5,0 -1.5,-1.5 -4.5,0 -1.5,-1.5 -4.5,0 -1.5,-1.5 -6,0 -1.5,-1.5 -6,0 -1.5,-1.5 -7.5,0 -1.5,-1.5 -9,0 -1.5,-1z"/><path fill="#8eff71" d="M992,325.5l1.5,0 1.5,1 9,0 1.5,1.5 7.5,0 1.5,1.5 6,0 1.5,1.5 6,0 1.5,1.5 4.5,0 1.5,1.5 4.5,0 1.5,1.5 4.5,0 1.5,1.5 6,0 1.5,1.5 4.5,0 1.5,1.5 4.5,0 1.5,1.5 6,0 1.5,1.5 4.5,0 1.5,1.5 4.5,0 1.5,1.5 6,0 1.5,1.5 6,0 1.5,1.5 4.5,0 1.5,1.5 6,0 1.5,1.5 6,0 1.5,1.5 6,0 1.5,1.5 7.5,0 1.5,1.5 6,0 1.5,1.5 7.5,0.5 1.5,1.5 2,0 0,10.5 -2.5,12 -3,10.5 -4.5,10.5 -6.5,10.5 -3.5,4 -4.5,4 -4.5,3 -6,3 -6,2 -6,1.5 -6,1 -7.5,0.5 -13.5,-1 -15,-3.5 -13.5,-5.5 -12,-7 -10.5,-9 -9,-10 -7,-10 -5.5,-9 -7,-13.5 -9,-21 -4,-12 0,-6zM992,325.5l-0.5,4.5 0.5,3 4,10.5 8,19 4,8 9.5,16.5 7.5,10 9,9.5 10.5,8.5 10.5,6 13.5,5.5 9,2.5 7.5,1 13.5,1 6,-0.5 6,-1 6,-1.5 6,-2 6,-3.5 4.5,-3 3,-2.5 4,-4.5 6.5,-10.5 5.5,-13.5 3.5,-15 1,-6 -0.5,-7.5 -0.5,0 -1.5,-1.5 -7.5,-0.5 -1.5,-1.5 -6,0 -1.5,-1.5 -7.5,0 -1.5,-1.5 -6,0 -1.5,-1.5 -6,0 -1.5,-1.5 -6,0 -1.5,-1.5 -4.5,0 -1.5,-1.5 -6,0 -1.5,-1.5 -6,0 -1.5,-1.5 -4.5,0 -1.5,-1.5 -4.5,0 -1.5,-1.5 -6,0 -1.5,-1.5 -4.5,0 -1.5,-1.5 -4.5,0 -1.5,-1.5 -6,0 -1.5,-1.5 -4.5,0 -1.5,-1.5 -4.5,0 -1.5,-1.5 -4.5,0 -1.5,-1.5 -6,0 -1.5,-1.5 -6,0 -1.5,-1.5 -7.5,0 -1.5,-1.5 -9,0.5 -1.5,-1.5z"/><path fill="#aaff55" d="M992,325.5l1.5,0 1.5,1.5 9,-0.5 1.5,1.5 7.5,0 1.5,1.5 6,0 1.5,1.5 6,0 1.5,1.5 4.5,0 1.5,1.5 4.5,0 1.5,1.5 4.5,0 1.5,1.5 6,0 1.5,1.5 4.5,0 1.5,1.5 4.5,0 1.5,1.5 6,0 1.5,1.5 4.5,0 1.5,1.5 4.5,0 1.5,1.5 6,0 1.5,1.5 6,0 1.5,1.5 4.5,0 1.5,1.5 6,0 1.5,1.5 6,0 1.5,1.5 6,0 1.5,1.5 7.5,0 1.5,1.5 6,0 1.5,1.5 7.5,0.5 1.5,1.5 0.5,0 0.5,7.5 -1,6 -3.5,15 -5.5,13.5 -6.5,10.5 -4,4.5 -3,2.5 -4.5,3 -6,3.5 -6,2 -6,1.5 -6,1 -6,0.5 -13.5,-1 -7.5,-1 -9,-2.5 -13.5,-5.5 -10.5,-6 -10.5,-8.5 -9,-9.5 -7.5,-10 -9.5,-16.5 -4,-8 -8,-19 -4,-10.5 -0.5,-3zM993,325.5l-0.5,4.5 0,3 4,10.5 12,26 10.5,17.5 6,8 9,9.5 10.5,8.5 10.5,6 12,5 10.5,3 7.5,1.5 12,0.5 10.5,-1 6,-1 6,-2 6,-3 6,-3.5 6.5,-6 4,-6 2.5,-4.5 5.5,-12 4,-15 1,-9 0,-6 -1,-1.5 -7.5,-0.5 -1.5,-1.5 -6,0 -1.5,-1.5 -7.5,0 -1.5,-1.5 -6,0 -1.5,-1.5 -6,0 -1.5,-1.5 -6,0 -1.5,-1.5 -4.5,0 -1.5,-1.5 -6,0 -1.5,-1.5 -6,0 -1.5,-1.5 -4.5,0 -1.5,-1.5 -4.5,0 -1.5,-1.5 -6,0 -1.5,-1.5 -4.5,0 -1.5,-1.5 -4.5,0 -1.5,-1.5 -6,0 -1.5,-1.5 -4.5,0 -1.5,-1.5 -4.5,0 -1.5,-1.5 -4.5,0 -1.5,-1.5 -6,0 -1.5,-1.5 -6,0 -1.5,-1.5 -7.5,0 -1.5,-1.5 -9,0.5z"/><path fill="#c6ff39" d="M993.5,325.5l1.5,1.5 9,-0.5 1.5,1.5 7.5,0 1.5,1.5 6,0 1.5,1.5 6,0 1.5,1.5 4.5,0 1.5,1.5 4.5,0 1.5,1.5 4.5,0 1.5,1.5 6,0 1.5,1.5 4.5,0 1.5,1.5 4.5,0 1.5,1.5 6,0 1.5,1.5 4.5,0 1.5,1.5 4.5,0 1.5,1.5 6,0 1.5,1.5 6,0 1.5,1.5 4.5,0 1.5,1.5 6,0 1.5,1.5 6,0 1.5,1.5 6,0 1.5,1.5 7.5,0 1.5,1.5 6,0 1.5,1.5 7.5,0.5 1,1.5 0,6 -1,9 -4,15 -5.5,12 -2.5,4.5 -4,6 -6.5,6 -6,3.5 -6,3 -6,2 -6,1 -10.5,1 -12,-0.5 -7.5,-1.5 -10.5,-3 -12,-5 -10.5,-6 -10.5,-8.5 -9,-9.5 -6,-8 -10.5,-17.5 -12,-26 -4,-12 0.5,-6zM994,327l-1,3 0.5,3 3,8.5 9,20 4.5,9 10.5,16.5 4.5,6.5 10.5,10.5 11,8.5 11.5,6 9,3.5 6,1.5 15,3.5 15,0 10.5,-2 9.5,-3.5 7,-4 3,-2 4,-4.5 3.5,-5 6.5,-13 4,-12 2.5,-12 0.5,-4.5 -0.5,-6 -7,-0.5 -1.5,-1.5 -6,0 -1.5,-1.5 -7.5,0 -1.5,-1.5 -6,0 -1.5,-1.5 -6,0 -1.5,-1.5 -6,0 -1.5,-1.5 -4.5,0 -1.5,-1.5 -6,0 -1.5,-1.5 -6,0 -1.5,-1.5 -4.5,0 -1.5,-1.5 -4.5,0 -1.5,-1.5 -6,0 -1.5,-1.5 -4.5,0 -1.5,-1.5 -4.5,0 -1.5,-1.5 -6,0 -1.5,-1.5 -4.5,0 -1.5,-1.5 -4.5,0 -1.5,-1.5 -4.5,0 -1.5,-1.5 -6,0 -1.5,-1.5 -6,0 -1.5,-1.5 -7.5,0 -1.5,-1.5z"/><path fill="#e3ff1c" d="M995,327l9,-0.5 1.5,1.5 7.5,0 1.5,1.5 6,0 1.5,1.5 6,0 1.5,1.5 4.5,0 1.5,1.5 4.5,0 1.5,1.5 4.5,0 1.5,1.5 6,0 1.5,1.5 4.5,0 1.5,1.5 4.5,0 1.5,1.5 6,0 1.5,1.5 4.5,0 1.5,1.5 4.5,0 1.5,1.5 6,0 1.5,1.5 6,0 1.5,1.5 4.5,0 1.5,1.5 6,0 1.5,1.5 6,0 1.5,1.5 6,0 1.5,1.5 7.5,0 1.5,1.5 6,0 1.5,1.5 7,0.5 0.5,6 -0.5,4.5 -2.5,12 -4,12 -6.5,13 -3.5,5 -4,4.5 -3,2 -7,4 -9.5,3.5 -10.5,2 -15,0 -15,-3.5 -6,-1.5 -9,-3.5 -11.5,-6 -11,-8.5 -10.5,-10.5 -4.5,-6.5 -10.5,-16.5 -4.5,-9 -9,-20 -3.5,-10 1,-4.5zM995,327l-1,4.5 4,10.5 7,15 2,4.5 2.5,4.5 1.5,3 10,16.5 5.5,7 10.5,10.5 10.5,8 12,6 7.5,3 12,3 9,2 16.5,0 9,-2 8,-3 8.5,-4.5 1.5,-1.5 4.5,-4.5 3,-4.5 6,-12 4.5,-12.5 3,-13 -0.5,-9 -5.5,-0.5 -1.5,-1.5 -6,0 -1.5,-1.5 -7.5,0 -1.5,-1.5 -6,0 -1.5,-1.5 -6,0 -1.5,-1.5 -6,0 -1.5,-1.5 -4.5,0 -1.5,-1.5 -6,0 -1.5,-1.5 -6,0 -1.5,-1.5 -4.5,0 -1.5,-1.5 -4.5,0 -1.5,-1.5 -6,0 -1.5,-1.5 -4.5,0 -1.5,-1.5 -4.5,0 -1.5,-1.5 -6,0 -1.5,-1.5 -4.5,0 -1.5,-1.5 -4.5,0 -1.5,-1.5 -4.5,0 -1.5,-1.5 -6,0 -1.5,-1.5 -6,0 -1.5,-1.5 -7.5,0 -1.5,-1.5z"/><path fill="#ffff00" d="M996.5,327l7.5,-0.5 1.5,1.5 7.5,0 1.5,1.5 6,0 1.5,1.5 6,0 1.5,1.5 4.5,0 1.5,1.5 4.5,0 1.5,1.5 4.5,0 1.5,1.5 6,0 1.5,1.5 4.5,0 1.5,1.5 4.5,0 1.5,1.5 6,0 1.5,1.5 4.5,0 1.5,1.5 4.5,0 1.5,1.5 6,0 1.5,1.5 6,0 1.5,1.5 4.5,0 1.5,1.5 6,0 1.5,1.5 6,0 1.5,1.5 6,0 1.5,1.5 7.5,0 1.5,1.5 6,0 1.5,1.5 5.5,0.5 0.5,9 -3,13 -4.5,12.5 -6,12 -3,4.5 -4.5,4.5 -1.5,1.5 -8.5,4.5 -8,3 -9,2 -16.5,0 -9,-2 -12,-3 -7.5,-3 -12,-6 -10.5,-8 -10.5,-10.5 -5.5,-7 -10,-16.5 -1.5,-3 -2.5,-4.5 -2,-4.5 -7,-15 -4,-10.5 1,-4.5zM996.5,327l-1,4.5 1.5,3 5.5,9 11.5,24 7.5,12 8,10.5 10.5,10.5 6,4.5 9,5.5 10.5,4.5 16.5,4.5 9,1.5 4.5,0.5 6,-0.5 7.5,-1.5 10.5,-3 4.5,-2.5 4.5,-3 6,-6.5 3,-4.5 3,-5.5 4,-10.5 4,-13.5 2,-4.5 0.5,-3 -0.5,-4.5 -4,0 -1.5,-1.5 -6,-0.5 -1.5,-1.5 -7.5,0 -1.5,-1.5 -6,0 -1.5,-1.5 -6,0 -1.5,-1.5 -6,0 -1.5,-1.5 -4.5,0 -1.5,-1.5 -6,0 -1.5,-1.5 -6,0 -1.5,-1.5 -4.5,0 -1.5,-1.5 -4.5,0 -1.5,-1.5 -6,0 -1.5,-1.5 -4.5,0 -1.5,-1.5 -4.5,0 -1.5,-1.5 -6,0 -1.5,-1.5 -4.5,0 -1.5,-1.5 -4.5,0 -1.5,-1.5 -4.5,0 -1.5,-1.5 -6,0 -1.5,-1.5 -6,0 -1.5,-1.5 -7.5,0 -1.5,-1.5z"/><path fill="#ffe300" d="M996.5,327l7.5,-0.5 1.5,1.5 7.5,0 1.5,1.5 6,0 1.5,1.5 6,0 1.5,1.5 4.5,0 1.5,1.5 4.5,0 1.5,1.5 4.5,0 1.5,1.5 6,0 1.5,1.5 4.5,0 1.5,1.5 4.5,0 1.5,1.5 6,0 1.5,1.5 4.5,0 1.5,1.5 4.5,0 1.5,1.5 6,0 1.5,1.5 6,0 1.5,1.5 4.5,0 1.5,1.5 6,0 1.5,1.5 6,0 1.5,1.5 6,0 1.5,1.5 7.5,0 1.5,1.5 6,0.5 1.5,1.5 4,0 0.5,4.5 -0.5,3 -2,4.5 -4,13.5 -4,10.5 -3,5.5 -3,4.5 -6,6.5 -4.5,3 -4.5,2.5 -10.5,3 -7.5,1.5 -6,0.5 -4.5,-0.5 -9,-1.5 -16.5,-4.5 -10.5,-4.5 -9,-5.5 -6,-4.5 -10.5,-10.5 -8,-10.5 -7.5,-12 -11.5,-24 -5.5,-9 -1.5,-3zM997.5,327l0,4.5 1,3 2.5,2.5 3,1 1.5,1.5 12.5,25 7,11.5 6,8 6,6.5 9,8 9.5,6.5 8.5,4 13.5,4.5 16.5,2.5 4.5,0 10.5,-1.5 4.5,-1.5 5.5,-2 5,-3 3.5,-3 5.5,-7.5 5,-10.5 6,-18 4,-3.5 1.5,-2.5 0,-4.5 -3,0 -1.5,-1.5 -6,-0.5 -1.5,-1.5 -7.5,0 -1.5,-1.5 -6,0 -1.5,-1.5 -6,0 -1.5,-1.5 -6,0 -1.5,-1.5 -4.5,0 -1.5,-1.5 -6,0 -1.5,-1.5 -6,0 -1.5,-1.5 -4.5,0 -1.5,-1.5 -4.5,0 -1.5,-1.5 -6,0 -1.5,-1.5 -4.5,0 -1.5,-1.5 -4.5,0 -1.5,-1.5 -6,0 -1.5,-1.5 -4.5,0 -1.5,-1.5 -4.5,0 -1.5,-1.5 -4.5,0 -1.5,-1.5 -6,0 -1.5,-1.5 -6,0 -1.5,-1.5 -7.5,0 -1.5,-1z"/><path fill="#ffc600" d="M998,327l6,0 1.5,1 7.5,0 1.5,1.5 6,0 1.5,1.5 6,0 1.5,1.5 4.5,0 1.5,1.5 4.5,0 1.5,1.5 4.5,0 1.5,1.5 6,0 1.5,1.5 4.5,0 1.5,1.5 4.5,0 1.5,1.5 6,0 1.5,1.5 4.5,0 1.5,1.5 4.5,0 1.5,1.5 6,0 1.5,1.5 6,0 1.5,1.5 4.5,0 1.5,1.5 6,0 1.5,1.5 6,0 1.5,1.5 6,0 1.5,1.5 7.5,0 1.5,1.5 6,0.5 1.5,1.5 3,0 0,4.5 -1.5,2.5 -4,3.5 -6,18 -5,10.5 -5.5,7.5 -3.5,3 -5,3 -5.5,2 -4.5,1.5 -10.5,1.5 -4.5,0 -16.5,-2.5 -13.5,-4.5 -8.5,-4 -9.5,-6.5 -9,-8 -6,-6.5 -6,-8 -7,-11.5 -12.5,-25 -1.5,-1.5 -3,-1 -2.5,-2.5 -1,-3 -0.5,-1.5 0.5,-3zM999,327l-0.5,3 1,3 1.5,1.5 3.5,1.5 2,1.5 3.5,4.5 7,6 12.5,22.5 7.5,10.5 6,6 4.5,4.5 11,7.5 11.5,5 10.5,3 10.5,2 12,-0.5 9,-2 7,-3 5,-4.5 4,-6 2.5,-6 4.5,-12 2,-3 6,-6 3.5,-1.5 2,-3 0,-3 -2,0 -1.5,-1.5 -6,0 -1.5,-1.5 -7.5,-0.5 -1.5,-1.5 -6,0 -1.5,-1.5 -6,0 -1.5,-1.5 -6,0 -1.5,-1.5 -4.5,0 -1.5,-1.5 -6,0 -1.5,-1.5 -6,0 -1.5,-1.5 -4.5,0 -1.5,-1.5 -4.5,0 -1.5,-1.5 -6,0 -1.5,-1.5 -4.5,0 -1.5,-1.5 -4.5,0 -1.5,-1.5 -6,0 -1.5,-1.5 -4.5,0 -1.5,-1.5 -4.5,0 -1.5,-1.5 -4.5,0 -1.5,-1.5 -6,0 -1.5,-1.5 -6,0 -1.5,-1.5 -7.5,0.5 -1.5,-1.5z"/><path fill="#ffaa00" d="M999.5,327l4.5,0 1.5,1.5 7.5,-0.5 1.5,1.5 6,0 1.5,1.5 6,0 1.5,1.5 4.5,0 1.5,1.5 4.5,0 1.5,1.5 4.5,0 1.5,1.5 6,0 1.5,1.5 4.5,0 1.5,1.5 4.5,0 1.5,1.5 6,0 1.5,1.5 4.5,0 1.5,1.5 4.5,0 1.5,1.5 6,0 1.5,1.5 6,0 1.5,1.5 4.5,0 1.5,1.5 6,0 1.5,1.5 6,0 1.5,1.5 6,0 1.5,1.5 7.5,0.5 1.5,1.5 6,0 1.5,1.5 2,0 0,3 -2,3 -3.5,1.5 -6,6 -2,3 -4.5,12 -2.5,6 -4,6 -5,4.5 -7,3 -9,2 -12,0.5 -10.5,-2 -10.5,-3 -11.5,-5 -11,-7.5 -4.5,-4.5 -6,-6 -7.5,-10.5 -12.5,-22.5 -7,-6 -3.5,-4.5 -2,-1.5 -3.5,-1.5 -1.5,-1.5 -1,-3 0.5,-3zM1000,327l-0.5,3 0.5,1.5 1,1.5 5.5,3 6.5,5 1.5,0 3,-0.5 12,9.5 2,2.5 10.5,16.5 10,11.5 7.5,6 6,4 7.5,3 9,2.5 9,1.5 7.5,0.5 6,-1 6,-2 3,-2 3,-3 3.5,-6 4,-9 3.5,-4.5 5.5,-4 1.5,-0.5 3,1 1.5,-0.5 6,-2.5 2.5,-2.5 0,-3 -1,0 -1.5,-1.5 -6,0 -1.5,-1.5 -7.5,0 -1.5,-1.5 -6,0 -1.5,-1.5 -6,0 -1.5,-1.5 -6,0 -1.5,-1.5 -4.5,0 -1.5,-1.5 -6,0 -1.5,-1.5 -6,0 -1.5,-1.5 -4.5,0 -1.5,-1.5 -4.5,0 -1.5,-1.5 -6,0 -1.5,-1.5 -4.5,0 -1.5,-1.5 -4.5,0 -1.5,-1.5 -6,0 -1.5,-1.5 -4.5,0 -1.5,-1.5 -4.5,0 -1.5,-1.5 -4.5,0 -1.5,-1.5 -6,0 -1.5,-1.5 -6,0 -1.5,-1.5 -7.5,0 -1.5,-1.5z"/><path fill="#ff8e00" d="M1001,327l3,0 1.5,1.5 7.5,0 1.5,1.5 6,0 1.5,1.5 6,0 1.5,1.5 4.5,0 1.5,1.5 4.5,0 1.5,1.5 4.5,0 1.5,1.5 6,0 1.5,1.5 4.5,0 1.5,1.5 4.5,0 1.5,1.5 6,0 1.5,1.5 4.5,0 1.5,1.5 4.5,0 1.5,1.5 6,0 1.5,1.5 6,0 1.5,1.5 4.5,0 1.5,1.5 6,0 1.5,1.5 6,0 1.5,1.5 6,0 1.5,1.5 7.5,0 1.5,1.5 6,0 1.5,1.5 1,0 0,3 -2.5,2.5 -6,2.5 -1.5,0.5 -3,-1 -1.5,0.5 -5.5,4 -3.5,4.5 -4,9 -3.5,6 -3,3 -3,2 -6,2 -6,1 -7.5,-0.5 -9,-1.5 -9,-2.5 -7.5,-3 -6,-4 -7.5,-6 -10,-11.5 -10.5,-16.5 -2,-2.5 -12,-9.5 -3,0.5 -1.5,0 -6.5,-5 -5.5,-3 -1,-1.5 -0.5,-1.5 0.5,-3zM1001.5,327l-1,3 0.5,1.5 1.5,1.5 10.5,5.5 6,0.5 3,1.5 6,1.5 4.5,0.5 3,1.5 6,2 4,0.5 2,1 4,0.5 2,1 4.5,0.5 3,1 3,0.5 3,1 3,0.5 3,1 4,0.5 9.5,3 3,0 3,1 4.5,0.5 3,1 4.5,0.5 3,1 5,0.5 2.5,1 7.5,-0.5 3,1.5 4.5,1 7.5,0.5 3,-0.5 4.5,-2 1.5,-1 0.5,-1.5 -0.5,-1.5 -1.5,-1.5 -6,0 -1.5,-1.5 -7.5,0 -1.5,-1.5 -6,0 -1.5,-1.5 -6,0 -1.5,-1.5 -6,0 -1.5,-1.5 -4.5,0 -1.5,-1.5 -6,0 -1.5,-1.5 -6,0 -1.5,-1.5 -4.5,0 -1.5,-1.5 -4.5,0 -1.5,-1.5 -6,0 -1.5,-1.5 -4.5,0 -1.5,-1.5 -4.5,0 -1.5,-1.5 -6,0 -1.5,-1.5 -4.5,0 -1.5,-1.5 -4.5,0 -1.5,-1.5 -4.5,0 -1.5,-1.5 -6,0 -1.5,-1.5 -6,0 -1.5,-1.5 -7.5,0 -1.5,-1.5z"/><path fill="#ff7100" d="M1002.5,327l1.5,0 1.5,1.5 7.5,0 1.5,1.5 6,0 1.5,1.5 6,0 1.5,1.5 4.5,0 1.5,1.5 4.5,0 1.5,1.5 4.5,0 1.5,1.5 6,0 1.5,1.5 4.5,0 1.5,1.5 4.5,0 1.5,1.5 6,0 1.5,1.5 4.5,0 1.5,1.5 4.5,0 1.5,1.5 6,0 1.5,1.5 6,0 1.5,1.5 4.5,0 1.5,1.5 6,0 1.5,1.5 6,0 1.5,1.5 6,0 1.5,1.5 7.5,0 1.5,1.5 6,0 1.5,1.5 0.5,1.5 -0.5,1.5 -1.5,1 -4.5,2 -3,0.5 -7.5,-0.5 -4.5,-1 -3,-1.5 -7.5,0.5 -2.5,-1 -5,-0.5 -3,-1 -4.5,-0.5 -3,-1 -4.5,-0.5 -3,-1 -3,0 -9.5,-3 -4,-0.5 -3,-1 -3,-0.5 -3,-1 -3,-0.5 -3,-1 -4.5,-0.5 -2,-1 -4,-0.5 -2,-1 -4,-0.5 -6,-2 -3,-1.5 -4.5,-0.5 -6,-1.5 -3,-1.5 -6,-0.5 -10.5,-5.5 -1.5,-1.5 -0.5,-1.5 0,-1.5 1,-1.5zM1003,327l-1.5,1.5 0,1.5 1,2 3,1.5 9,3.5 6,1 73.5,17 22.5,4.5 6,0.5 9,2.5 9,0.5 4.5,-1.5 1,-1.5 -0.5,-1.5 -1.5,-1.5 -5,0 -1.5,-1.5 -7.5,0 -1.5,-1.5 -6,0 -1.5,-1.5 -6,0 -1.5,-1.5 -6,0 -1.5,-1.5 -4.5,0 -1.5,-1.5 -6,0 -1.5,-1.5 -6,0 -1.5,-1.5 -4.5,0 -1.5,-1.5 -4.5,0 -1.5,-1.5 -6,0 -1.5,-1.5 -4.5,0 -1.5,-1.5 -4.5,0 -1.5,-1.5 -6,0 -1.5,-1.5 -4.5,0 -1.5,-1.5 -4.5,0 -1.5,-1.5 -4.5,0 -1.5,-1.5 -6,0 -1.5,-1.5 -6,0 -1.5,-1.5 -7.5,0 -1.5,-1.5z"/><path fill="#ff5500" d="M1004,327l1.5,1.5 7.5,0 1.5,1.5 6,0 1.5,1.5 6,0 1.5,1.5 4.5,0 1.5,1.5 4.5,0 1.5,1.5 4.5,0 1.5,1.5 6,0 1.5,1.5 4.5,0 1.5,1.5 4.5,0 1.5,1.5 6,0 1.5,1.5 4.5,0 1.5,1.5 4.5,0 1.5,1.5 6,0 1.5,1.5 6,0 1.5,1.5 4.5,0 1.5,1.5 6,0 1.5,1.5 6,0 1.5,1.5 6,0 1.5,1.5 7.5,0 1.5,1.5 5,0 1.5,1.5 0.5,1.5 -1,1.5 -4.5,1.5 -9,-0.5 -9,-2.5 -6,-0.5 -22.5,-4.5 -73.5,-17 -6,-1 -9,-3.5 -3,-1.5 -1,-2 0,-1.5 1.5,-1.5zM1003,328.5l-1,1.5 2,2 10.5,3.5 25.5,5.5 54,12.5 22.5,4.5 6,1 10.5,2.5 7.5,0.5 3,-0.5 1.5,-1.5 -1.5,-2 -1.5,-1 -3,0 -1.5,-1.5 -7.5,0 -1.5,-1.5 -6,0 -1.5,-1.5 -6,0 -1.5,-1.5 -6,0 -1.5,-1.5 -4.5,0 -1.5,-1.5 -6,0 -1.5,-1.5 -6,0 -1.5,-1.5 -4.5,0 -1.5,-1.5 -4.5,0 -1.5,-1.5 -6,0 -1.5,-1.5 -4.5,0 -1.5,-1.5 -4.5,0 -1.5,-1.5 -6,0 -1.5,-1.5 -4.5,0 -1.5,-1.5 -4.5,0 -1.5,-1.5 -4.5,0 -1.5,-1.5 -6,0 -1.5,-1.5 -6,0 -1.5,-1.5 -7.5,0 -1.5,-1z"/><path fill="#ff3900" d="M1004,327.5l1.5,1 7.5,0 1.5,1.5 6,0 1.5,1.5 6,0 1.5,1.5 4.5,0 1.5,1.5 4.5,0 1.5,1.5 4.5,0 1.5,1.5 6,0 1.5,1.5 4.5,0 1.5,1.5 4.5,0 1.5,1.5 6,0 1.5,1.5 4.5,0 1.5,1.5 4.5,0 1.5,1.5 6,0 1.5,1.5 6,0 1.5,1.5 4.5,0 1.5,1.5 6,0 1.5,1.5 6,0 1.5,1.5 6,0 1.5,1.5 7.5,0 1.5,1.5 3,0 1.5,1 1.5,2 -1.5,1.5 -3,0.5 -7.5,-0.5 -10.5,-2.5 -6,-1 -22.5,-4.5 -54,-12.5 -24,-5.5 -9,-2.5 -3,-1 -1.5,-1.5 0,-1.5zM1007,328.5l-1.5,0.5 -2,1 2,1.5 34.5,7.5 54,13 39,7.5 6,1 4,-0.5 -1.5,-1.5 -2.5,-1 -6,-2 -3,0 -1.5,-1.5 -6,0 -1.5,-1.5 -6,0 -1.5,-1.5 -6,0 -1.5,-1.5 -4.5,0 -1.5,-1.5 -6,0 -1.5,-1.5 -6,0 -1.5,-1.5 -4.5,0 -1.5,-1.5 -4.5,0 -1.5,-1.5 -6,0 -1.5,-1.5 -4.5,0 -1.5,-1.5 -4.5,0 -1.5,-1.5 -6,0 -1.5,-1.5 -4.5,0 -1.5,-1.5 -4.5,0 -1.5,-1.5 -4.5,0 -1.5,-1.5 -6,0 -1.5,-1.5 -6,0 -1.5,-1.5z"/><path fill="#ff1c00" d="M1007,328.5l6,0 1.5,1.5 6,0 1.5,1.5 6,0 1.5,1.5 4.5,0 1.5,1.5 4.5,0 1.5,1.5 4.5,0 1.5,1.5 6,0 1.5,1.5 4.5,0 1.5,1.5 4.5,0 1.5,1.5 6,0 1.5,1.5 4.5,0 1.5,1.5 4.5,0 1.5,1.5 6,0 1.5,1.5 6,0 1.5,1.5 4.5,0 1.5,1.5 6,0 1.5,1.5 6,0 1.5,1.5 6,0 1.5,1.5 3,0 6,2 2.5,1 1.5,1.5 -4,0.5 -6,-1 -39,-7.5 -54,-13 -34.5,-7.5 -2,-1.5 2,-1z"/></g></g>
<g fill="none" stroke="#0c1418" stroke-width="1.9" stroke-linecap="round" ><path d="M993.1,330.6C996,337 998.4,342.8 1001.7,349.8C1005.1,356.8 1009.1,365.8 1013.2,372.8C1017.4,379.8 1021.2,385.8 1026.6,391.9C1032,397.9 1038.7,404.5 1045.7,409.1C1052.7,413.7 1060.4,417.1 1068.7,419.7C1077,422.3 1087.2,424.4 1095.5,424.5C1103.8,424.6 1112.1,422.9 1118.5,420.6C1124.9,418.4 1129.6,415.1 1133.8,411C1138,406.9 1140.9,400.8 1143.4,395.7C1146,390.6 1147.5,385.7 1149.1,380.4C1150.7,375.1 1151.6,369.5 1152.9,364.1"/><path d="M983.5,326.8C984.5,328.7 984,326.1 986.4,332.5C988.8,338.9 993.8,355.2 997.9,365.1C1002,375 1006.5,383.6 1011.3,391.9C1016.1,400.2 1020.9,408.2 1026.6,414.9C1032.3,421.6 1038.7,427.5 1045.7,432.1C1052.7,436.7 1060.7,440.2 1068.7,442.6C1076.7,445 1086.3,446 1093.6,446.5C1100.9,447 1106,446.9 1112.7,445.5C1119.4,444.1 1127.7,441.4 1133.8,437.9C1139.9,434.4 1144.9,429.6 1149.1,424.5C1153.2,419.4 1156.2,413.6 1158.7,407.2C1161.2,400.8 1163.1,393.5 1164.4,386.2C1165.7,378.9 1165.7,370.9 1166.4,363.2"/><path d="M1152.9,364.1C1153.3,363.5 1151.8,362.7 1154,362.3C1156.2,361.9 1162.3,362 1166.4,361.9"/></g>
<g fill="none" stroke="#00003c" stroke-width="1.3" stroke-linecap="round" ><path d="M1168.3,363.2C1171.2,367.7 1175.4,371 1176.9,376.6C1178.4,382.2 1177.7,390.6 1177.5,397C1177.3,403.4 1177.4,406.8 1175.9,414.9C1174.4,423 1171.2,436.2 1168.3,445.5C1165.4,454.8 1161.9,462.1 1158.7,470.4"/><path d="M1185.5,363.8C1187.4,369.3 1190.4,374.4 1191.2,380.4C1192,386.4 1190.8,394.2 1190.5,400C1190.2,405.8 1191.1,407.3 1189.3,414.9C1187.5,422.5 1183.2,436.2 1179.7,445.5C1176.2,454.8 1172.1,462.1 1168.3,470.4"/></g>
<g fill="none" stroke="#d4d4f6" stroke-width="1.8" stroke-linecap="round" ><path d="M970.1,325.8C971.1,330 971.6,332.1 973,338.3C974.4,344.5 976.5,354.6 978.7,363.2C980.9,371.8 983.2,380.8 986.4,390C989.6,399.2 993.4,409.8 997.9,418.7C1002.4,427.6 1007.5,436.6 1013.2,443.6C1018.9,450.6 1025.9,456.3 1032.3,460.8C1038.7,465.3 1045.1,467.2 1051.5,470.4"/></g>
<text x="1129.4" y="393.5" font-family='"Liberation Serif","Times New Roman",serif' font-size="19" font-weight="bold" text-anchor="middle" fill="#000">20</text><text x="1140.7" y="427.3" font-family='"Liberation Serif","Times New Roman",serif' font-size="19" font-weight="bold" text-anchor="middle" fill="#0c2410">10</text>
<text x="1006.7" y="432" font-family='"Liberation Serif","Times New Roman",serif' font-size="18" font-weight="bold" text-anchor="middle" fill="#e8e8ff">1</text>
<path d="M1000,330.1H1271" stroke="#222" stroke-width="1.6" stroke-dasharray="7,4.5" fill="none"/>
<path d="M1086.9,346.6H1271" stroke="#222" stroke-width="1.6" stroke-dasharray="7,4.5" fill="none"/>
<rect x="716.3" y="302.1" width="556.6" height="168.2" fill="none" stroke="#000" stroke-width="2.0"/><text x="765.1" y="492.7" font-family='"Liberation Serif","Times New Roman",serif' font-size="22" font-weight="bold" text-anchor="middle" fill="#000">130</text><text x="906.1" y="492.7" font-family='"Liberation Serif","Times New Roman",serif' font-size="22" font-weight="bold" text-anchor="middle" fill="#000">140</text><text x="1041.8" y="492.7" font-family='"Liberation Serif","Times New Roman",serif' font-size="22" font-weight="bold" text-anchor="middle" fill="#000">150</text><text x="1182" y="492.7" font-family='"Liberation Serif","Times New Roman",serif' font-size="22" font-weight="bold" text-anchor="middle" fill="#000">160</text><text x="709.5" y="319" font-family='"Liberation Serif","Times New Roman",serif' font-size="22" font-weight="bold" text-anchor="end" fill="#000">2</text><text x="709.5" y="359" font-family='"Liberation Serif","Times New Roman",serif' font-size="22" font-weight="bold" text-anchor="end" fill="#000">0</text><text x="709.5" y="405.9" font-family='"Liberation Serif","Times New Roman",serif' font-size="22" font-weight="bold" text-anchor="end" fill="#000">-2</text><text x="709.5" y="452.7" font-family='"Liberation Serif","Times New Roman",serif' font-size="22" font-weight="bold" text-anchor="end" fill="#000">-4</text><text transform="translate(684,391) rotate(-90)" font-family='"Liberation Serif","Times New Roman",serif' font-size="18" font-weight="bold" font-style="italic" text-anchor="middle" y="2.9">z</text><text x="1018" y="512.8" font-family='"Liberation Serif","Times New Roman",serif' font-size="22" font-weight="bold" text-anchor="middle" fill="#000" font-style="italic">x</text>
<rect x="1282.2" y="300.3" width="20.7" height="170.8" fill="url(#jet)"/><text x="1304.7" y="312.5" font-family='"Liberation Serif","Times New Roman",serif' font-size="22" font-weight="bold" text-anchor="start" fill="#000">150</text><text x="1304.7" y="393.3" font-family='"Liberation Serif","Times New Roman",serif' font-size="22" font-weight="bold" text-anchor="start" fill="#000">75</text><text x="1304.7" y="472.7" font-family='"Liberation Serif","Times New Roman",serif' font-size="22" font-weight="bold" text-anchor="start" fill="#000">0</text><text x="1275.9" y="487.3" font-family='"Liberation Serif","Times New Roman",serif' font-size="24"><tspan font-style="italic" font-weight="bold">u</tspan><tspan font-weight="normal">M</tspan></text>
<text x="725.8" y="287" font-family='"Liberation Sans",Arial,sans-serif' font-size="29.2" font-weight="bold" text-anchor="start" fill="#000">B2</text><text x="787.7" y="287.5" font-family='"Liberation Serif","Times New Roman",serif' font-size="36" font-weight="bold">Modeled dissolved oxygen</text>
<g clip-path="url(#clipC2)"><g filter="url(#b12)"><rect x="45.6" y="802.5" width="559.8" height="173.3" fill="#00008c"/><path fill="#0000aa" d="M294,823l4.5,-0.5 2,1.5 15,-0.5 1.5,1.5 7.5,0 1.5,1.5 9,0 1.5,1.5 7.5,0 1.5,1.5 6,0 1.5,2 6,0 1.5,1.5 4.5,0 1.5,1.5 4.5,0 1.5,1.5 4.5,0 1.5,1.5 6,0 1.5,1.5 5,0 1.5,1.5 4.5,0 1.5,1.5 6,0 1.5,1.5 4.5,0 1.5,1.5 4.5,0 1.5,1.5 6,0 1.5,2 6,0 1.5,1.5 4.5,0 1.5,1.5 6,0 1.5,1.5 6,0 1.5,1.5 6,0 1.5,1.5 7.5,0 1.5,1.5 6.5,0 1.5,1.5 7.5,0 1.5,1.5 25.5,0.5 1.5,1.5 6,0.5 2,0.5 -0.5,3.5 0,3 3.5,10.5 0.5,5 0,12 -1.5,22 -9,29 -11,25 0,1.5 0.5,4.5 -4.5,0 0.5,-6 9.5,-23.5 7,-21.5 3,-12.5 1,-13.5 1,-6.5 0,-7.5 -0.5,-6.5 -4.5,-13.5 0.5,-1.5 1.5,-3.5 -5,-0.5 -1.5,-1.5 -25.5,-0.5 -1.5,-2 -7.5,0 -1.5,-1.5 -6.5,0 -1.5,-1.5 -7.5,0 -1.5,-1.5 -6,0 -1.5,-1.5 -6,0 -1.5,-1.5 -6,0 -1.5,-1.5 -4.5,0 -1.5,-1.5 -6,0 -1.5,-1.5 -6,0 -1.5,-1.5 -4.5,0 -1.5,-2 -4.5,0 -1.5,-1.5 -6,0 -1.5,-1.5 -4.5,0 -1.5,-1.5 -5,0 -1.5,-1.5 -6,0 -1.5,-1.5 -4.5,0 -1.5,-1.5 -4.5,0 -1.5,-1.5 -4.5,0 -1.5,-1.5 -6,0 -1.5,-1.5 -6,0 -1.5,-1.5 -7.5,0 -1.5,-2 -9,0 -1.5,-1.5 -7.5,0.5 -1.5,-2 -15,1 -2,-1.5 -2.5,0.5 2.5,6 8.5,39 4.5,17 8,21.5 5.5,14 11,20 5.5,7.5 14.5,14.5 9,6 7.5,4 2.5,2 1,4.5 -3.5,0 0.5,-3 -0.5,-2 -16.5,-9.5 -16.5,-16 -6.5,-9.5 -9.5,-17 -7,-17 -6.5,-18.5 -7,-26.5 -7,-31 -3,-6z"/><path fill="#0000c6" d="M297,823l1.5,0 2,1.5 15,-1 1.5,2 7.5,-0.5 1.5,1.5 9,0 1.5,2 7.5,0 1.5,1.5 6,0 1.5,1.5 6,0 1.5,1.5 4.5,0 1.5,1.5 4.5,0 1.5,1.5 4.5,0 1.5,1.5 6,0 1.5,1.5 5,0 1.5,1.5 4.5,0 1.5,1.5 6,0 1.5,1.5 4.5,0 1.5,2 4.5,0 1.5,1.5 6,0 1.5,1.5 6,0 1.5,1.5 4.5,0 1.5,1.5 6,0 1.5,1.5 6,0 1.5,1.5 6,0 1.5,1.5 7.5,0 1.5,1.5 6.5,0 1.5,1.5 7.5,0 1.5,2 25.5,0.5 1.5,1.5 5,0.5 -1.5,3.5 -0.5,1.5 4.5,13.5 0.5,6.5 0,7.5 -1,6.5 -1,13.5 -3,12.5 -7,21.5 -9.5,23.5 -0.5,6 -3.5,0 0.5,-6 10.5,-28 5.5,-18.5 2.5,-12.5 1.5,-17 0,-7.5 -0.5,-6 -2.5,-14 0.5,-3 1.5,-3.5 -2,0 -1.5,-2 -25.5,-0.5 -1.5,-1.5 -7.5,-0.5 -1.5,-1.5 -6.5,0 -1.5,-1.5 -7.5,0 -1.5,-1.5 -6,0 -1.5,-1.5 -6,0 -1.5,-1.5 -6,0 -1.5,-1.5 -4.5,0 -1.5,-1.5 -6,0 -1.5,-1.5 -6,0 -1.5,-1.5 -4.5,0 -1.5,-1.5 -4.5,0 -1.5,-2 -6,0 -1.5,-1.5 -4.5,0 -1.5,-1.5 -5,0 -1.5,-1.5 -6,0 -1.5,-1.5 -4.5,0 -1.5,-1.5 -4.5,0 -1.5,-1.5 -4.5,0 -1.5,-1.5 -6,0 -1.5,-1.5 -6,0 -1.5,-1.5 -7.5,0 -1.5,-1.5 -9,0 -1.5,-1.5 -7.5,0 -1.5,-1.5 -10.5,0.5 -6,0.5 2,4.5 8.5,38.5 4.5,17 7.5,21.5 6,14.5 6,11.5 4.5,7.5 6,8.5 13.5,13.5 10.5,7 4.5,2 3.5,2.5 3.5,3 1.5,3 -5,0 -1,-4.5 -1.5,-1.5 -8.5,-4.5 -9,-6 -14.5,-14.5 -5.5,-7.5 -10.5,-18.5 -6,-15.5 -8,-21.5 -4.5,-17 -8.5,-39 -2.5,-6zM298.5,823.5l0,1 0.5,-1z"/><path fill="#0000e3" d="M298.5,823.5l0,1 0,-1zM300.5,825l15,-1 1.5,1.5 7.5,0 1.5,1.5 9,0 1.5,1.5 7.5,0 1.5,1.5 6,0 1.5,1.5 6,0 1.5,1.5 4.5,0 1.5,1.5 4.5,0 1.5,1.5 4.5,0 1.5,1.5 6,0 1.5,1.5 5,0 1.5,1.5 4.5,0 1.5,1.5 6,0 1.5,2 4.5,0 1.5,1.5 4.5,0 1.5,1.5 6,0 1.5,1.5 6,0 1.5,1.5 4.5,0 1.5,1.5 6,0 1.5,1.5 6,0 1.5,1.5 6,0 1.5,1.5 7.5,0 1.5,1.5 6.5,0 1.5,1.5 7.5,0.5 1.5,1.5 25.5,0.5 1.5,2 2,0 -1.5,3.5 -0.5,3 2.5,14 0.5,6 -1,18.5 -1,9.5 -2.5,10.5 -5.5,18.5 -9.5,25 -1,7.5 -4,0 3,-10.5 3.5,-9.5 5,-14 5,-18.5 1.5,-7.5 1.5,-11 0.5,-21.5 -0.5,-5 -1.5,-10.5 0.5,-3 2,-5 -0.5,-1.5 -25.5,-1 -1.5,-1.5 -7.5,0 -1.5,-2 -6.5,0 -1.5,-1.5 -7.5,0 -1.5,-1.5 -6,0 -1.5,-1.5 -6,0 -1.5,-1.5 -6,0 -1.5,-1.5 -4.5,0 -1.5,-1.5 -6,0 -1.5,-1.5 -6,0 -1.5,-1.5 -4.5,0 -1.5,-1.5 -4.5,0 -1.5,-1.5 -6,0 -1.5,-2 -4.5,0 -1.5,-1.5 -5,0 -1.5,-1.5 -6,0 -1.5,-1.5 -4.5,0 -1.5,-1.5 -4.5,0 -1.5,-1.5 -4.5,0 -1.5,-1.5 -6,0 -1.5,-1.5 -6,0 -1.5,-1.5 -7.5,0 -1.5,-1.5 -9,0 -1.5,-1.5 -7.5,0 -1.5,-1.5 -14.5,1 1.5,3 7,31 5.5,20 2,8 1.5,4.5 7,17 5.5,11 10,15.5 6,7.5 7.5,7.5 9,8 18,11 4.5,3.5 2.5,4 0.5,3 -8,0 -1.5,-3 -3.5,-3 -3.5,-2.5 -4.5,-2 -10.5,-7 -13,-13.5 -6.5,-8.5 -6,-10.5 -7.5,-15.5 -10.5,-28.5 -4.5,-17.5 -8.5,-38.5 -2,-4.5z"/><path fill="#0000ff" d="M302,825l13.5,-1 1.5,1.5 7.5,0 1.5,1.5 9,0 1.5,1.5 7.5,0 1.5,1.5 6,0 1.5,1.5 6,0 1.5,1.5 4.5,0 1.5,1.5 4.5,0 1.5,1.5 4.5,0 1.5,1.5 6,0 1.5,1.5 5,0 1.5,1.5 4.5,0 1.5,2 6,0 1.5,1.5 4.5,0 1.5,1.5 4.5,0 1.5,1.5 6,0 1.5,1.5 6,0 1.5,1.5 4.5,0 1.5,1.5 6,0 1.5,1.5 6,0 1.5,1.5 6,0 1.5,1.5 7.5,0 1.5,1.5 6.5,0 1.5,2 7.5,0 1.5,1.5 25.5,1 0.5,1.5 -2,5 -0.5,3 1.5,10.5 0.5,9.5 -0.5,15.5 -1.5,12.5 -6.5,26 -5,14 -3.5,9.5 -3,10.5 -34,0 1.5,-4.5 3,-4.5 4.5,-5 13.5,-9.5 6,-6 5,-6 4,-5 5,-9 5.5,-14 0.5,-6 1.5,-4.5 0.5,-8 0,-15.5 -2,-6 -3.5,-6 -0.5,-1.5 3.5,-1 1.5,-1.5 3,-4 -24,-1 -1.5,-1.5 -7.5,0 -1.5,-1.5 -6.5,0 -1.5,-2 -7.5,0 -1.5,-1.5 -6,0 -1.5,-1.5 -6,0 -1.5,-1.5 -6,0 -1.5,-1.5 -4.5,0 -1.5,-1.5 -6,0 -1.5,-1.5 -6,0 -1.5,-1.5 -4.5,0 -1.5,-1.5 -4.5,0 -1.5,-1.5 -6,0 -1.5,-1.5 -4.5,0 -1.5,-2 -5,0 -1.5,-1.5 -6,0 -1.5,-1.5 -4.5,0 -1.5,-1.5 -4.5,0 -1.5,-1.5 -4.5,0 -1.5,-1.5 -6,0 -1.5,-1.5 -6,0 -1.5,-1.5 -7.5,0 -1.5,-1.5 -9,0 -1.5,-1.5 -7.5,0 -1.5,-1.5 -12.5,1 8,34 6.5,20 1,6.5 2,4.5 7,14 5,9 10,15 6,7.5 10.5,10 7.5,5.5 12,7 11,5 21,7.5 2,1.5 3.5,3 1.5,3 0,1.5 -28.5,0 -1,-4.5 -3.5,-4 -3,-2 -18,-11 -6,-4.5 -7.5,-7.5 -4.5,-5 -6,-8 -8.5,-13.5 -5.5,-11 -7,-17 -1.5,-4.5 -2,-8 -5.5,-20 -7,-31 -1.5,-3z"/><path fill="#001cff" d="M303.5,825l12,-1 1.5,1.5 7.5,0 1.5,1.5 9,0 1.5,1.5 7.5,0 1.5,1.5 6,0 1.5,1.5 6,0 1.5,1.5 4.5,0 1.5,1.5 4.5,0 1.5,1.5 4.5,0 1.5,1.5 6,0 1.5,1.5 5,0 1.5,2 4.5,0 1.5,1.5 6,0 1.5,1.5 4.5,0 1.5,1.5 4.5,0 1.5,1.5 6,0 1.5,1.5 6,0 1.5,1.5 4.5,0 1.5,1.5 6,0 1.5,1.5 6,0 1.5,1.5 6,0 1.5,1.5 7.5,0 1.5,2 6.5,0 1.5,1.5 7.5,0 1.5,1.5 24,1 -3,4 -1.5,1.5 -3.5,1 0.5,1.5 3.5,6 2,6 0,5 -0.5,14 0,4.5 -2.5,12.5 -6,13.5 -6.5,11 -6.5,7.5 -6,6 -13.5,9.5 -4.5,5 -3,4.5 -1.5,4.5 -41.5,0 0,-1.5 -1.5,-3 -3.5,-3 -2,-1.5 -21,-7.5 -11,-5 -12,-7 -7.5,-5.5 -10.5,-10 -6,-7.5 -10,-15 -5,-9 -7,-14 -2,-4.5 -1,-6.5 -6.5,-20 -8,-34zM304.5,825l2,9.5 3,10.5 4,15.5 8.5,25 3,6 10,18 8,13 9,10.5 13,12 6,4 9,5 9.5,4 6,2.5 12,3 10.5,1.5 19.5,0 4.5,0 6,-1.5 15,-4.5 7.5,-4 6.5,-3.5 7,-6 4.5,-4.5 6,-8 3.5,-6 4,-7.5 2,-6.5 2.5,-10.5 1,-15.5 0,-3 -1,-6.5 -4,-7 -1,-3.5 1,-2 3,-0.5 2.5,-2.5 -20.5,-1 -1.5,-1.5 -7.5,0 -1.5,-1.5 -6.5,0 -1.5,-1.5 -7.5,0 -1.5,-2 -6,0 -1.5,-1.5 -6,0 -1.5,-1.5 -6,0 -1.5,-1.5 -4.5,0 -1.5,-1.5 -6,0 -1.5,-1.5 -6,0 -1.5,-1.5 -4.5,0 -1.5,-1.5 -4.5,0 -1.5,-1.5 -6,0 -1.5,-1.5 -4.5,0 -1.5,-1.5 -5,0 -1.5,-2 -6,0 -1.5,-1.5 -4.5,0 -1.5,-1.5 -4.5,0 -1.5,-1.5 -4.5,0 -1.5,-1.5 -6,0 -1.5,-1.5 -6,0 -1.5,-1.5 -7.5,0 -1.5,-1.5 -9,0 -1.5,-1.5 -7.5,0 -1.5,-1.5z"/><path fill="#0039ff" d="M305,825l10.5,-1 1.5,1.5 7.5,0 1.5,1.5 9,0 1.5,1.5 7.5,0 1.5,1.5 6,0 1.5,1.5 6,0 1.5,1.5 4.5,0 1.5,1.5 4.5,0 1.5,1.5 4.5,0 1.5,1.5 6,0 1.5,2 5,0 1.5,1.5 4.5,0 1.5,1.5 6,0 1.5,1.5 4.5,0 1.5,1.5 4.5,0 1.5,1.5 6,0 1.5,1.5 6,0 1.5,1.5 4.5,0 1.5,1.5 6,0 1.5,1.5 6,0 1.5,1.5 6,0 1.5,2 7.5,0 1.5,1.5 6.5,0 1.5,1.5 7.5,0 1.5,1.5 20.5,1 -2.5,2.5 -3,0.5 -1,2 1,3.5 4,7 1,6.5 0,3 -1,15.5 -2.5,10.5 -2,6.5 -4,7.5 -3.5,6 -6,8 -4.5,4.5 -7,6 -6.5,3.5 -7.5,4 -15,4.5 -6,1.5 -4.5,0 -19.5,0 -10.5,-1.5 -12,-3 -6,-2.5 -9.5,-4 -9,-5 -6,-4 -13,-12 -9.5,-11.5 -11.5,-19 -8.5,-15.5 -8,-23.5 -5,-18.5 -3,-10.5 -2,-9.5zM306,825l1.5,9.5 3.5,9 3,12.5 2,7.5 10,22.5 6,12 13,21.5 9,10.5 6.5,7 13.5,10.5 12,6 9.5,3 10.5,3 13.5,2 22.5,0 7.5,-2 10.5,-3 12.5,-6.5 6,-4 6,-5.5 3.5,-4 5.5,-8 6,-12.5 4,-13.5 1.5,-6.5 1,-10.5 0,-6.5 -0.5,-1.5 -3.5,-6 -1.5,-4.5 0.5,-2 4,-3 -17.5,-1 -1.5,-1.5 -7.5,0 -1.5,-1.5 -6.5,0 -1.5,-1.5 -7.5,0 -1.5,-1.5 -6,0 -1.5,-2 -6,0 -1.5,-1.5 -6,0 -1.5,-1.5 -4.5,0 -1.5,-1.5 -6,0 -1.5,-1.5 -6,0 -1.5,-1.5 -4.5,0 -1.5,-1.5 -4.5,0 -1.5,-1.5 -6,0 -1.5,-1.5 -4.5,0 -1.5,-1.5 -5,0 -1.5,-1.5 -6,0 -1.5,-2 -4.5,0 -1.5,-1.5 -4.5,0 -1.5,-1.5 -4.5,0 -1.5,-1.5 -6,0 -1.5,-1.5 -6,0 -1.5,-1.5 -7.5,0 -1.5,-1.5 -9,0 -1.5,-1.5 -7.5,0.5 -1.5,-1.5z"/><path fill="#0055ff" d="M306.5,825l9,-0.5 1.5,1.5 7.5,-0.5 1.5,1.5 9,0 1.5,1.5 7.5,0 1.5,1.5 6,0 1.5,1.5 6,0 1.5,1.5 4.5,0 1.5,1.5 4.5,0 1.5,1.5 4.5,0 1.5,2 6,0 1.5,1.5 5,0 1.5,1.5 4.5,0 1.5,1.5 6,0 1.5,1.5 4.5,0 1.5,1.5 4.5,0 1.5,1.5 6,0 1.5,1.5 6,0 1.5,1.5 4.5,0 1.5,1.5 6,0 1.5,1.5 6,0 1.5,2 6,0 1.5,1.5 7.5,0 1.5,1.5 6.5,0 1.5,1.5 7.5,0 1.5,1.5 17.5,1 -4,3 -0.5,2 1.5,4.5 3.5,6 0.5,1.5 0,6.5 -1,10.5 -1.5,6.5 -4,13.5 -6,12.5 -5.5,8 -3.5,4 -6,5.5 -6,4 -12.5,6.5 -10.5,3 -7.5,2 -22.5,0 -13.5,-2 -10.5,-3 -9.5,-3 -12,-6 -13.5,-10.5 -6.5,-7 -9,-10.5 -13,-21.5 -6,-12 -10,-22.5 -2,-7.5 -3,-12.5 -3.5,-9 -1.5,-9.5zM307.5,825l1.5,8 3.5,9 2,11 3.5,10.5 3.5,6.5 14.5,29 10.5,17 5.5,8 13,13 10.5,8 12.5,6 7.5,3 12,3 7.5,0.5 6,1.5 19.5,0 9,-2 9,-3 4.5,-2 7.5,-4 6.5,-4.5 5.5,-5.5 4.5,-5 4,-6 6,-12.5 3,-7.5 3,-14 0.5,-4.5 1,-4.5 0,-5 -3.5,-8.5 -1,-3.5 1,-3.5 1.5,-1.5 -15,-1 -1.5,-1.5 -7.5,0 -1.5,-1.5 -6.5,0 -1.5,-1.5 -7.5,0 -1.5,-1.5 -6,0 -1.5,-1.5 -6,0 -1.5,-2 -6,0 -1.5,-1.5 -4.5,0 -1.5,-1.5 -6,0 -1.5,-1.5 -6,0 -1.5,-1.5 -4.5,0 -1.5,-1.5 -4.5,0 -1.5,-1.5 -6,0 -1.5,-1.5 -4.5,0 -1.5,-1.5 -5,0 -1.5,-1.5 -6,0 -1.5,-1.5 -4.5,0 -1.5,-2 -4.5,0 -1.5,-1.5 -4.5,0 -1.5,-1.5 -6,0 -1.5,-1.5 -6,0 -1.5,-1.5 -7.5,0 -1.5,-1.5 -9,0 -1.5,-1.5 -7.5,0.5 -1.5,-1.5z"/><path fill="#0071ff" d="M308,825l7.5,-0.5 1.5,1.5 7.5,-0.5 1.5,1.5 9,0 1.5,1.5 7.5,0 1.5,1.5 6,0 1.5,1.5 6,0 1.5,1.5 4.5,0 1.5,1.5 4.5,0 1.5,2 4.5,0 1.5,1.5 6,0 1.5,1.5 5,0 1.5,1.5 4.5,0 1.5,1.5 6,0 1.5,1.5 4.5,0 1.5,1.5 4.5,0 1.5,1.5 6,0 1.5,1.5 6,0 1.5,1.5 4.5,0 1.5,1.5 6,0 1.5,2 6,0 1.5,1.5 6,0 1.5,1.5 7.5,0 1.5,1.5 6.5,0 1.5,1.5 7.5,0 1.5,1.5 15,1 -1.5,1.5 -1,3.5 1,3.5 3.5,8.5 0,5 -1,4.5 -0.5,4.5 -3,14 -3,7.5 -6,12.5 -4,6 -4.5,5 -5.5,5.5 -6.5,4.5 -7.5,4 -4.5,2 -9,3 -9,2 -19.5,0 -6,-1.5 -7.5,-0.5 -12,-3 -7.5,-3 -12.5,-6 -10.5,-8 -13,-13 -5.5,-8 -10.5,-17 -18.5,-37 -3,-10.5 -2,-9.5 -4,-11 -1,-6zM308.5,825l1.5,6 4,11 2,9.5 3,10.5 18.5,37 8,12.5 9,12.5 12,12.5 12,8 9.5,4.5 7.5,3 13.5,3.5 15,2 16.5,-0.5 7.5,-1.5 10.5,-3.5 4.5,-1.5 7.5,-4.5 6.5,-4.5 6.5,-6.5 2.5,-3.5 5,-7.5 4,-9.5 3,-7.5 3.5,-14 1.5,-12.5 -0.5,-3 -2,-6 -1,-4.5 0,-2 1.5,-3 -13.5,-0.5 -1.5,-2 -7.5,0 -1.5,-1.5 -6.5,0 -1.5,-1.5 -7.5,0 -1.5,-1.5 -6,0 -1.5,-1.5 -6,0 -1.5,-1.5 -6,0 -1.5,-2 -4.5,0 -1.5,-1.5 -6,0 -1.5,-1.5 -6,0 -1.5,-1.5 -4.5,0 -1.5,-1.5 -4.5,0 -1.5,-1.5 -6,0 -1.5,-1.5 -4.5,0 -1.5,-1.5 -5,0 -1.5,-1.5 -6,0 -1.5,-1.5 -4.5,0 -1.5,-1.5 -4.5,0 -1.5,-2 -4.5,0 -1.5,-1.5 -6,0 -1.5,-1.5 -6,0 -1.5,-1.5 -7.5,0 -1.5,-1.5 -9,0 -1.5,-1.5 -7.5,0.5 -1.5,-1.5z"/><path fill="#008eff" d="M309.5,825l6,-0.5 1.5,1.5 7.5,-0.5 1.5,1.5 9,0 1.5,1.5 7.5,0 1.5,1.5 6,0 1.5,1.5 6,0 1.5,1.5 4.5,0 1.5,2 4.5,0 1.5,1.5 4.5,0 1.5,1.5 6,0 1.5,1.5 5,0 1.5,1.5 4.5,0 1.5,1.5 6,0 1.5,1.5 4.5,0 1.5,1.5 4.5,0 1.5,1.5 6,0 1.5,1.5 6,0 1.5,1.5 4.5,0 1.5,2 6,0 1.5,1.5 6,0 1.5,1.5 6,0 1.5,1.5 7.5,0 1.5,1.5 6.5,0 1.5,1.5 7.5,0 1.5,2 13.5,0.5 -1.5,3 0,2 1,4.5 2,6 0.5,3 -1.5,12.5 -3.5,14 -3,7.5 -4,9.5 -5,7.5 -2.5,3.5 -6.5,6.5 -6.5,4.5 -7.5,4.5 -4.5,1.5 -10.5,3.5 -7.5,1.5 -16.5,0.5 -15,-2 -13.5,-3.5 -7.5,-3 -9.5,-4.5 -12,-8 -12,-12.5 -9,-12.5 -8.5,-14 -18,-35.5 -3,-10.5 -2,-9.5 -4.5,-12.5 -1,-4.5zM310,825l1,4.5 3.5,11 3.5,12.5 3,9 17.5,35.5 10,16.5 7.5,10 10.5,10.5 7,5 6.5,4.5 8,3.5 7.5,3 13.5,3.5 15,2 10.5,0 6,0 7.5,-2 9,-2.5 4.5,-2 9,-5 4.5,-3.5 6.5,-6 4,-5 4,-6 4.5,-9.5 2.5,-7.5 4,-14 1.5,-12.5 -3,-13.5 1,-5 -12.5,-0.5 -1.5,-1.5 -7.5,-0.5 -1.5,-1.5 -6.5,0 -1.5,-1.5 -7.5,0 -1.5,-1.5 -6,0 -1.5,-1.5 -6,0 -1.5,-1.5 -6,0 -1.5,-1.5 -4.5,0 -1.5,-2 -6,0 -1.5,-1.5 -6,0 -1.5,-1.5 -4.5,0 -1.5,-1.5 -4.5,0 -1.5,-1.5 -6,0 -1.5,-1.5 -4.5,0 -1.5,-1.5 -5,0 -1.5,-1.5 -6,0 -1.5,-1.5 -4.5,0 -1.5,-1.5 -4.5,0 -1.5,-1.5 -4.5,0 -1.5,-2 -6,0 -1.5,-1.5 -6,0 -1.5,-1.5 -7.5,0 -1.5,-1.5 -9,0.5 -1.5,-1.5 -7.5,0 -1.5,-1.5z"/><path fill="#00aaff" d="M311,825l4.5,-0.5 1.5,1.5 7.5,0 1.5,1.5 9,-0.5 1.5,1.5 7.5,0 1.5,1.5 6,0 1.5,1.5 6,0 1.5,2 4.5,0 1.5,1.5 4.5,0 1.5,1.5 4.5,0 1.5,1.5 6,0 1.5,1.5 5,0 1.5,1.5 4.5,0 1.5,1.5 6,0 1.5,1.5 4.5,0 1.5,1.5 4.5,0 1.5,1.5 6,0 1.5,1.5 6,0 1.5,2 4.5,0 1.5,1.5 6,0 1.5,1.5 6,0 1.5,1.5 6,0 1.5,1.5 7.5,0 1.5,1.5 6.5,0 1.5,1.5 7.5,0.5 1.5,1.5 12.5,0.5 -1,5 3,13.5 -1.5,12.5 -4,14 -2.5,7.5 -4.5,9.5 -4,6 -4,5 -6.5,6 -4.5,3.5 -9,5 -4.5,2 -9,2.5 -7.5,2 -6,0 -10.5,0 -15,-2 -13.5,-3.5 -7.5,-3 -8,-3.5 -6.5,-4.5 -7,-5 -10.5,-10.5 -7.5,-10 -10.5,-17 -17,-35 -3,-9 -3.5,-12.5 -3.5,-11 -1,-4.5zM311.5,825l0.5,4.5 3,8 7.5,24.5 16.5,34 10.5,17 6.5,9 11,11 13,9.5 8,3.5 9,3.5 13.5,3.5 15,2 15,-0.5 7.5,-1.5 9,-3 6,-3 7.5,-4 9.5,-8 4.5,-5.5 3.5,-5.5 5,-11 3,-9 3,-11 1.5,-12.5 -2,-13.5 0.5,-5 -11.5,-0.5 -1.5,-1.5 -7.5,-0.5 -1.5,-1.5 -6.5,0 -1.5,-1.5 -7.5,0 -1.5,-1.5 -6,0 -1.5,-1.5 -6,0 -1.5,-1.5 -6,0 -1.5,-1.5 -4.5,0 -1.5,-1.5 -6,0 -1.5,-2 -6,0 -1.5,-1.5 -4.5,0 -1.5,-1.5 -4.5,0 -1.5,-1.5 -6,0 -1.5,-1.5 -4.5,0 -1.5,-1.5 -5,0 -1.5,-1.5 -6,0 -1.5,-1.5 -4.5,0 -1.5,-1.5 -4.5,0 -1.5,-1.5 -4.5,0 -1.5,-1.5 -6,0 -1.5,-2 -6,0 -1.5,-1.5 -7.5,0 -1.5,-1.5 -9,0.5 -1.5,-1.5 -7.5,0 -1.5,-1.5z"/><path fill="#00c6ff" d="M312.5,825l3,-0.5 1.5,1.5 7.5,0 1.5,1.5 9,-0.5 1.5,1.5 7.5,0 1.5,1.5 6,0 1.5,2 6,0 1.5,1.5 4.5,0 1.5,1.5 4.5,0 1.5,1.5 4.5,0 1.5,1.5 6,0 1.5,1.5 5,0 1.5,1.5 4.5,0 1.5,1.5 6,0 1.5,1.5 4.5,0 1.5,1.5 4.5,0 1.5,1.5 6,0 1.5,2 6,0 1.5,1.5 4.5,0 1.5,1.5 6,0 1.5,1.5 6,0 1.5,1.5 6,0 1.5,1.5 7.5,0 1.5,1.5 6.5,0 1.5,1.5 7.5,0.5 1.5,1.5 11.5,0.5 -0.5,5 2,13.5 -1.5,12.5 -3,11 -3,9 -5,11 -3.5,5.5 -4.5,5.5 -9.5,8 -7.5,4 -6,3 -9,3 -7.5,1.5 -15,0.5 -15,-2 -13.5,-3.5 -9,-3.5 -8,-3.5 -13,-9.5 -11,-11 -6.5,-9 -10.5,-17 -16.5,-34 -7.5,-24.5 -3,-8 -0.5,-4.5zM313,825l0,3 3,8 8,26 5,11 10.5,21.5 10.5,17 6,8.5 11.5,11.5 13,9.5 5.5,3 8,3 9,3 7.5,1.5 7.5,1 6,1 12,0 4.5,-0.5 7.5,-1.5 9,-3 12,-6 10.5,-9.5 4,-4.5 4,-6 4,-9.5 3.5,-9 2.5,-11 2,-12.5 -1.5,-18.5 -10.5,-0.5 -1.5,-1.5 -7.5,-0.5 -1.5,-1.5 -6.5,0 -1.5,-1.5 -7.5,0 -1.5,-1.5 -6,0 -1.5,-1.5 -6,0 -1.5,-1.5 -6,0 -1.5,-1.5 -4.5,0 -1.5,-1.5 -6,0 -1.5,-1.5 -6,0 -1.5,-2 -4.5,0 -1.5,-1.5 -4.5,0 -1.5,-1.5 -6,0 -1.5,-1.5 -4.5,0 -1.5,-1.5 -5,0 -1.5,-1.5 -6,0 -1.5,-1.5 -4.5,0 -1.5,-1.5 -4.5,0 -1.5,-1.5 -4.5,0 -1.5,-1.5 -6,0 -1.5,-1.5 -6,0 -1.5,-1.5 -7.5,0 -1.5,-2 -9,0.5 -1.5,-1.5 -7.5,0.5 -1.5,-1.5z"/><path fill="#00e3ff" d="M314,825l1.5,0 1.5,1.5 7.5,-0.5 1.5,1.5 9,-0.5 1.5,2 7.5,0 1.5,1.5 6,0 1.5,1.5 6,0 1.5,1.5 4.5,0 1.5,1.5 4.5,0 1.5,1.5 4.5,0 1.5,1.5 6,0 1.5,1.5 5,0 1.5,1.5 4.5,0 1.5,1.5 6,0 1.5,1.5 4.5,0 1.5,1.5 4.5,0 1.5,2 6,0 1.5,1.5 6,0 1.5,1.5 4.5,0 1.5,1.5 6,0 1.5,1.5 6,0 1.5,1.5 6,0 1.5,1.5 7.5,0 1.5,1.5 6.5,0 1.5,1.5 7.5,0.5 1.5,1.5 10.5,0.5 1.5,18.5 -2,12.5 -2.5,11 -3.5,9 -4,9.5 -4,6 -4,4.5 -10.5,9.5 -12,6 -9,3 -7.5,1.5 -4.5,0.5 -12,0 -6,-1 -7.5,-1 -7.5,-1.5 -9,-3 -8,-3 -5.5,-3 -13,-9.5 -11.5,-11.5 -6,-8.5 -10.5,-17 -10.5,-21.5 -5,-11 -8,-26 -3,-8 0,-3zM314,825l0.5,3 3,8 8.5,26 4.5,11 10.5,21.5 10.5,17 6,8 10.5,10.5 7.5,6 5.5,3.5 9,4.5 13.5,4.5 4,0.5 4.5,1.5 7.5,0.5 4.5,1 15.5,0 2.5,-1 5,-1 9.5,-3 12,-6 10,-8.5 4,-5.5 3.5,-5 6,-13.5 4.5,-16.5 0.5,-6.5 1,-6.5 -1,-17 -9.5,-0.5 -1.5,-1.5 -7.5,0 -1.5,-2 -6.5,0 -1.5,-1.5 -7.5,0 -1.5,-1.5 -6,0 -1.5,-1.5 -6,0 -1.5,-1.5 -6,0 -1.5,-1.5 -4.5,0 -1.5,-1.5 -6,0 -1.5,-1.5 -6,0 -1.5,-1.5 -4.5,0 -1.5,-2 -4.5,0 -1.5,-1.5 -6,0 -1.5,-1.5 -4.5,0 -1.5,-1.5 -5,0 -1.5,-1.5 -6,0 -1.5,-1.5 -4.5,0 -1.5,-1.5 -4.5,0 -1.5,-1.5 -4.5,0 -1.5,-1.5 -6,0 -1.5,-1.5 -6,0 -1.5,-1.5 -7.5,0 -1.5,-1.5 -9,0 -1.5,-1.5 -7.5,0.5 -1.5,-1.5z"/><path fill="#00ffff" d="M315.5,825l1.5,1.5 7.5,-0.5 1.5,1.5 9,0 1.5,1.5 7.5,0 1.5,1.5 6,0 1.5,1.5 6,0 1.5,1.5 4.5,0 1.5,1.5 4.5,0 1.5,1.5 4.5,0 1.5,1.5 6,0 1.5,1.5 5,0 1.5,1.5 4.5,0 1.5,1.5 6,0 1.5,1.5 4.5,0 1.5,2 4.5,0 1.5,1.5 6,0 1.5,1.5 6,0 1.5,1.5 4.5,0 1.5,1.5 6,0 1.5,1.5 6,0 1.5,1.5 6,0 1.5,1.5 7.5,0 1.5,1.5 6.5,0 1.5,2 7.5,0 1.5,1.5 9.5,0.5 1,17 -1,6.5 -0.5,6.5 -4.5,16.5 -6,13.5 -3.5,5 -4,5.5 -10,8.5 -12,6 -9.5,3 -5,1 -2.5,1 -15.5,0 -4.5,-1 -7.5,-0.5 -4.5,-1.5 -4,-0.5 -13.5,-4.5 -9,-4.5 -5.5,-3.5 -7.5,-6 -10.5,-10.5 -6,-8 -10.5,-17 -10.5,-21.5 -4.5,-11 -8.5,-26 -3,-8 -0.5,-3zM315.5,826.5l8,25 6.5,17 14,27.5 8,12.5 5.5,7.5 14,14 10,7 12.5,6 10.5,3.5 7.5,1.5 7.5,0.5 6,1 12,0 12,-3 9,-3 4.5,-2.5 9,-6 3.5,-3.5 3,-3 5,-7.5 6.5,-14 5,-17 1.5,-14 0,-9 -0.5,-5 -8.5,-0.5 -1.5,-1.5 -7.5,0 -1.5,-1.5 -6.5,-0.5 -1.5,-1.5 -7.5,0 -1.5,-1.5 -6,0 -1.5,-1.5 -6,0 -1.5,-1.5 -6,0 -1.5,-1.5 -4.5,0 -1.5,-1.5 -6,0 -1.5,-1.5 -6,0 -1.5,-1.5 -4.5,0 -1.5,-1.5 -4.5,0 -1.5,-2 -6,0 -1.5,-1.5 -4.5,0 -1.5,-1.5 -5,0 -1.5,-1.5 -6,0 -1.5,-1.5 -4.5,0 -1.5,-1.5 -4.5,0 -1.5,-1.5 -4.5,0 -1.5,-1.5 -6,0 -1.5,-1.5 -6,0 -1.5,-1.5 -7.5,0 -1.5,-1.5 -9,0 -1.5,-1.5z"/><path fill="#1cffe3" d="M317,826.5l7.5,-0.5 1.5,1.5 9,0 1.5,1.5 7.5,0 1.5,1.5 6,0 1.5,1.5 6,0 1.5,1.5 4.5,0 1.5,1.5 4.5,0 1.5,1.5 4.5,0 1.5,1.5 6,0 1.5,1.5 5,0 1.5,1.5 4.5,0 1.5,1.5 6,0 1.5,2 4.5,0 1.5,1.5 4.5,0 1.5,1.5 6,0 1.5,1.5 6,0 1.5,1.5 4.5,0 1.5,1.5 6,0 1.5,1.5 6,0 1.5,1.5 6,0 1.5,1.5 7.5,0 1.5,1.5 6.5,0.5 1.5,1.5 7.5,0 1.5,1.5 8.5,0.5 0.5,5 0,9 -1.5,14 -5,17 -6.5,14 -5,7.5 -3,3 -3.5,3.5 -9,6 -4.5,2.5 -9,3 -12,3 -12,0 -6,-1 -7.5,-0.5 -7.5,-1.5 -10.5,-3.5 -12.5,-6 -10,-7 -14,-14 -5.5,-7.5 -9,-14 -11.5,-23 -4.5,-11 -11,-32.5 -0.5,-1.5zM317,826.5l4.5,15.5 10,26.5 13.5,26 9,14 5,6.5 13.5,13 4.5,3.5 6,3.5 14,6.5 7.5,2 6,1.5 16.5,2 6,0 6,-0.5 7.5,-2 7.5,-2.5 6,-2.5 6,-3.5 4.5,-3.5 5,-4 4.5,-6 3,-5 5.5,-12 4.5,-15.5 2,-15.5 0,-6 -0.5,-6.5 -7,0 -1.5,-2 -7.5,0 -1.5,-1.5 -6.5,0 -1.5,-2 -7.5,0 -1.5,-1.5 -6,0 -1.5,-1.5 -6,0 -1.5,-1.5 -6,0 -1.5,-1.5 -4.5,0 -1.5,-1.5 -6,0 -1.5,-1.5 -6,0 -1.5,-1.5 -4.5,0 -1.5,-1.5 -4.5,0 -1.5,-1.5 -6,0 -1.5,-1.5 -4.5,0 -1.5,-2 -5,0 -1.5,-1.5 -6,0 -1.5,-1.5 -4.5,0 -1.5,-1.5 -4.5,0 -1.5,-1.5 -4.5,0 -1.5,-1.5 -6,0 -1.5,-1.5 -6,0 -1.5,-1.5 -7.5,0 -1.5,-1.5 -9,0 -1.5,-1.5z"/><path fill="#39ffc6" d="M318.5,826.5l6,-0.5 1.5,1.5 9,0 1.5,1.5 7.5,0 1.5,1.5 6,0 1.5,1.5 6,0 1.5,1.5 4.5,0 1.5,1.5 4.5,0 1.5,1.5 4.5,0 1.5,1.5 6,0 1.5,1.5 5,0 1.5,2 4.5,0 1.5,1.5 6,0 1.5,1.5 4.5,0 1.5,1.5 4.5,0 1.5,1.5 6,0 1.5,1.5 6,0 1.5,1.5 4.5,0 1.5,1.5 6,0 1.5,1.5 6,0 1.5,1.5 6,0 1.5,1.5 7.5,0 1.5,2 6.5,0 1.5,1.5 7.5,0 1.5,2 7,0 0.5,6.5 0,6 -2,15.5 -4.5,15.5 -6,12.5 -4,6 -3.5,4.5 -4.5,4 -6,4.5 -6,3.5 -6,2.5 -7.5,2 -7.5,1.5 -6,0.5 -6,0 -12,-1.5 -7.5,-1.5 -12,-4 -12.5,-5.5 -9,-6.5 -14,-13.5 -5.5,-7 -8,-13 -12,-23 -4.5,-11 -10.5,-31 -1,-3zM318.5,826.5l2.5,11 11,29.5 6.5,13.5 8,14 8,12.5 6.5,7.5 11.5,11 10.5,7 14,6 13.5,4 16.5,2 7.5,-0.5 6,-0.5 7.5,-2 6.5,-2 5.5,-3 6,-3.5 4.5,-3.5 4,-4 4,-5 3.5,-6 5.5,-12 3.5,-14 2.5,-14 -0.5,-12.5 -5.5,0 -1.5,-2 -7.5,0 -1.5,-1.5 -6.5,0 -1.5,-1.5 -7.5,0 -1.5,-2 -6,0 -1.5,-1.5 -6,0 -1.5,-1.5 -6,0 -1.5,-1.5 -4.5,0 -1.5,-1.5 -6,0 -1.5,-1.5 -6,0 -1.5,-1.5 -4.5,0 -1.5,-1.5 -4.5,0 -1.5,-1.5 -6,0 -1.5,-1.5 -4.5,0 -1.5,-1.5 -5,0 -1.5,-2 -6,0 -1.5,-1.5 -4.5,0 -1.5,-1.5 -4.5,0 -1.5,-1.5 -4.5,0 -1.5,-1.5 -6,0 -1.5,-1.5 -6,0 -1.5,-1.5 -7.5,0 -1.5,-1.5 -9,0 -1.5,-1.5z"/><path fill="#55ffaa" d="M320,826.5l4.5,-0.5 1.5,1.5 9,0 1.5,1.5 7.5,0 1.5,1.5 6,0 1.5,1.5 6,0 1.5,1.5 4.5,0 1.5,1.5 4.5,0 1.5,1.5 4.5,0 1.5,1.5 6,0 1.5,2 5,0 1.5,1.5 4.5,0 1.5,1.5 6,0 1.5,1.5 4.5,0 1.5,1.5 4.5,0 1.5,1.5 6,0 1.5,1.5 6,0 1.5,1.5 4.5,0 1.5,1.5 6,0 1.5,1.5 6,0 1.5,1.5 6,0 1.5,2 7.5,0 1.5,1.5 6.5,0 1.5,1.5 7.5,0 1.5,2 5.5,0 0.5,12.5 -2.5,14 -3.5,14 -5.5,12 -3.5,6 -4,5 -4,4 -4.5,3.5 -6,3.5 -5.5,3 -6.5,2 -7.5,2 -6,0.5 -7.5,0.5 -16.5,-2 -13.5,-4 -14,-6 -10.5,-7 -12,-11.5 -6,-7 -9,-13.5 -10.5,-20.5 -6,-14 -8.5,-23 -2,-9.5zM319.5,826.5l2,9.5 11,29 7,15 7.5,13.5 9,13 6,7 12,10.5 10.5,7 14,5.5 7.5,2.5 7.5,1.5 15,1.5 6,-0.5 7.5,-1 7.5,-2 6,-2.5 6,-3 4.5,-3 4.5,-4 3.5,-3.5 3.5,-4.5 3.5,-6.5 5,-10.5 3.5,-12.5 2.5,-14 0,-12.5 -4.5,0 -1.5,-1.5 -7.5,-0.5 -1.5,-1.5 -6.5,0 -1.5,-1.5 -7.5,0 -1.5,-1.5 -6,0 -1.5,-2 -6,0 -1.5,-1.5 -6,0 -1.5,-1.5 -4.5,0 -1.5,-1.5 -6,0 -1.5,-1.5 -6,0 -1.5,-1.5 -4.5,0 -1.5,-1.5 -4.5,0 -1.5,-1.5 -6,0 -1.5,-1.5 -4.5,0 -1.5,-1.5 -5,0 -1.5,-1.5 -6,0 -1.5,-2 -4.5,0 -1.5,-1.5 -4.5,0 -1.5,-1.5 -4.5,0 -1.5,-1.5 -6,0 -1.5,-1.5 -6,0 -1.5,-1.5 -7.5,0 -1.5,-1.5 -9,0.5 -1.5,-1.5z"/><path fill="#71ff8e" d="M320,826.5l4.5,0 1.5,1.5 9,-0.5 1.5,1.5 7.5,0 1.5,1.5 6,0 1.5,1.5 6,0 1.5,1.5 4.5,0 1.5,1.5 4.5,0 1.5,1.5 4.5,0 1.5,2 6,0 1.5,1.5 5,0 1.5,1.5 4.5,0 1.5,1.5 6,0 1.5,1.5 4.5,0 1.5,1.5 4.5,0 1.5,1.5 6,0 1.5,1.5 6,0 1.5,1.5 4.5,0 1.5,1.5 6,0 1.5,1.5 6,0 1.5,2 6,0 1.5,1.5 7.5,0 1.5,1.5 6.5,0 1.5,1.5 7.5,0.5 1.5,1.5 4.5,0 0,12.5 -2.5,14 -3.5,12.5 -5,10.5 -3.5,6.5 -3.5,4.5 -3.5,3.5 -4.5,4 -4.5,3 -6,3 -6,2.5 -7.5,2 -7.5,1 -6,0.5 -15,-1.5 -7.5,-1.5 -7.5,-2.5 -14,-5.5 -10.5,-7 -12,-10.5 -6,-7 -9,-13 -10.5,-19 -6,-14 -9,-24.5 -1.5,-6.5zM321,826.5l0,4.5 1,5 10.5,27.5 5.5,11.5 9.5,16.5 8.5,12.5 7.5,8.5 10.5,9 10.5,7 14,5.5 7.5,2.5 7.5,1.5 7.5,1 7.5,0.5 12,-1 7.5,-2 6,-2.5 6,-3 4.5,-3 4.5,-3.5 3.5,-3.5 3.5,-5 3.5,-6 5,-11 3.5,-12 2.5,-14 0,-11 -3,0 -1.5,-1.5 -7.5,-0.5 -1.5,-1.5 -6.5,0 -1.5,-1.5 -7.5,0 -1.5,-1.5 -6,0 -1.5,-1.5 -6,0 -1.5,-2 -6,0 -1.5,-1.5 -4.5,0 -1.5,-1.5 -6,0 -1.5,-1.5 -6,0 -1.5,-1.5 -4.5,0 -1.5,-1.5 -4.5,0 -1.5,-1.5 -6,0 -1.5,-1.5 -4.5,0 -1.5,-1.5 -5,0 -1.5,-1.5 -6,0 -1.5,-1.5 -4.5,0 -1.5,-2 -4.5,0 -1.5,-1.5 -4.5,0 -1.5,-1.5 -6,0 -1.5,-1.5 -6,0 -1.5,-1.5 -7.5,0 -1.5,-1.5 -9,0.5 -1.5,-1.5z"/><path fill="#8eff71" d="M321.5,826.5l3,0 1.5,1.5 9,-0.5 1.5,1.5 7.5,0 1.5,1.5 6,0 1.5,1.5 6,0 1.5,1.5 4.5,0 1.5,1.5 4.5,0 1.5,2 4.5,0 1.5,1.5 6,0 1.5,1.5 5,0 1.5,1.5 4.5,0 1.5,1.5 6,0 1.5,1.5 4.5,0 1.5,1.5 4.5,0 1.5,1.5 6,0 1.5,1.5 6,0 1.5,1.5 4.5,0 1.5,1.5 6,0 1.5,2 6,0 1.5,1.5 6,0 1.5,1.5 7.5,0 1.5,1.5 6.5,0 1.5,1.5 7.5,0.5 1.5,1.5 3,0 0,11 -2.5,14 -3.5,12 -5,11 -3.5,6 -3.5,5 -3.5,3.5 -4.5,3.5 -4.5,3 -6,3 -6,2.5 -7.5,2 -12,1 -7.5,-0.5 -7.5,-1 -7.5,-1.5 -7.5,-2.5 -14,-5.5 -10.5,-7 -10.5,-9 -7.5,-8.5 -9,-13 -6,-10.5 -6,-12 -8,-18.5 -5.5,-15.5 -0.5,-8zM322,826.5l0.5,8 3.5,10 9,22.5 7.5,13.5 5,9.5 7,10 9,10 10.5,9 10.5,7 12.5,5.5 15,4 13.5,1.5 7.5,0 6,-1 6,-1 6,-2 6,-3 6,-3.5 4.5,-3.5 3,-3 3,-4 4,-6 3.5,-7.5 3,-8 2.5,-7.5 1.5,-9.5 1,-7.5 0,-8 -1.5,0 -1.5,-1.5 -7.5,-0.5 -1.5,-1.5 -6.5,0 -1.5,-1.5 -7.5,0 -1.5,-1.5 -6,0 -1.5,-1.5 -6,0 -1.5,-1.5 -6,0 -1.5,-2 -4.5,0 -1.5,-1.5 -6,0 -1.5,-1.5 -6,0 -1.5,-1.5 -4.5,0 -1.5,-1.5 -4.5,0 -1.5,-1.5 -6,0 -1.5,-1.5 -4.5,0 -1.5,-1.5 -5,0 -1.5,-1.5 -6,0 -1.5,-1.5 -4.5,0 -1.5,-1.5 -4.5,0 -1.5,-2 -4.5,0 -1.5,-1.5 -6,0 -1.5,-1.5 -6,0 -1.5,-1.5 -7.5,0 -1.5,-1.5 -9,0.5 -1.5,-1.5z"/><path fill="#aaff55" d="M323,826.5l1.5,0 1.5,1.5 9,-0.5 1.5,1.5 7.5,0 1.5,1.5 6,0 1.5,1.5 6,0 1.5,1.5 4.5,0 1.5,2 4.5,0 1.5,1.5 4.5,0 1.5,1.5 6,0 1.5,1.5 5,0 1.5,1.5 4.5,0 1.5,1.5 6,0 1.5,1.5 4.5,0 1.5,1.5 4.5,0 1.5,1.5 6,0 1.5,1.5 6,0 1.5,1.5 4.5,0 1.5,2 6,0 1.5,1.5 6,0 1.5,1.5 6,0 1.5,1.5 7.5,0 1.5,1.5 6.5,0 1.5,1.5 7.5,0.5 1.5,1.5 1.5,0 0,8 -1,7.5 -1.5,9.5 -2.5,7.5 -3,8 -3.5,7.5 -4,6 -3,4 -3,3 -4.5,3.5 -6,3.5 -6,3 -6,2 -6,1 -6,1 -7.5,0 -13.5,-1.5 -15,-4 -12.5,-5.5 -10.5,-7 -10.5,-9 -9,-10 -7,-10 -5,-9.5 -7.5,-13.5 -9,-22.5 -4,-11.5 0,-6.5zM323,826.5l-0.5,4.5 0.5,3.5 4,10.5 8,19 4.5,9 9.5,17 7,9.5 9,10 10.5,8.5 9,5.5 12.5,5.5 15,4 7.5,1.5 6,0 7.5,0 6,-0.5 6,-1.5 6,-2 6,-3 6,-3.5 7,-6 6,-9.5 6,-14 4.5,-15.5 1,-7.5 0.5,-4.5 -0.5,-5 -1.5,-1.5 -7.5,-0.5 -1.5,-1.5 -6.5,0 -1.5,-1.5 -7.5,0 -1.5,-1.5 -6,0 -1.5,-1.5 -6,0 -1.5,-1.5 -6,0 -1.5,-1.5 -4.5,0 -1.5,-2 -6,0 -1.5,-1.5 -6,0 -1.5,-1.5 -4.5,0 -1.5,-1.5 -4.5,0 -1.5,-1.5 -6,0 -1.5,-1.5 -4.5,0 -1.5,-1.5 -5,0 -1.5,-1.5 -6,0 -1.5,-1.5 -4.5,0 -1.5,-1.5 -4.5,0 -1.5,-1.5 -4.5,0 -1.5,-2 -6,0 -1.5,-1.5 -6,0 -1.5,-1.5 -7.5,0 -1.5,-1.5 -9,0.5 -1.5,-1.5z"/><path fill="#c6ff39" d="M324.5,826.5l1.5,1.5 9,-0.5 1.5,1.5 7.5,0 1.5,1.5 6,0 1.5,1.5 6,0 1.5,2 4.5,0 1.5,1.5 4.5,0 1.5,1.5 4.5,0 1.5,1.5 6,0 1.5,1.5 5,0 1.5,1.5 4.5,0 1.5,1.5 6,0 1.5,1.5 4.5,0 1.5,1.5 4.5,0 1.5,1.5 6,0 1.5,1.5 6,0 1.5,2 4.5,0 1.5,1.5 6,0 1.5,1.5 6,0 1.5,1.5 6,0 1.5,1.5 7.5,0 1.5,1.5 6.5,0 1.5,1.5 7.5,0.5 1.5,1.5 0.5,5 -0.5,4.5 -1,7.5 -4.5,15.5 -6,14 -6,9.5 -7,6 -6,3.5 -6,3 -6,2 -6,1.5 -6,0.5 -7.5,0 -6,0 -7.5,-1.5 -15,-4 -12.5,-5.5 -10.5,-6.5 -10.5,-9 -9,-10.5 -7.5,-11 -7.5,-13 -4,-8.5 -9.5,-22.5 -3.5,-9.5 0.5,-6.5zM324,826.5l-0.5,4.5 0.5,3.5 3.5,9.5 9,21 10.5,19.5 9,13 8.5,9.5 8,6.5 10.5,7 14,6 13.5,4 10.5,1.5 15,0 9,-1.5 4.5,-1.5 6,-3 6,-3.5 3,-2 4.5,-4.5 5,-7.5 6.5,-14 3,-10.5 3,-14 -0.5,-9.5 -7.5,-0.5 -1.5,-1.5 -6.5,0 -1.5,-1.5 -7.5,0 -1.5,-1.5 -6,0 -1.5,-1.5 -6,0 -1.5,-1.5 -6,0 -1.5,-1.5 -4.5,0 -1.5,-1.5 -6,0 -1.5,-2 -6,0 -1.5,-1.5 -4.5,0 -1.5,-1.5 -4.5,0 -1.5,-1.5 -6,0 -1.5,-1.5 -4.5,0 -1.5,-1.5 -5,0 -1.5,-1.5 -6,0 -1.5,-1.5 -4.5,0 -1.5,-1.5 -4.5,0 -1.5,-1.5 -4.5,0 -1.5,-1.5 -6,0 -1.5,-2 -6,0 -1.5,-1.5 -7.5,0 -1.5,-1.5 -9,0.5z"/><path fill="#e3ff1c" d="M324.5,826.5l1.5,1.5 9,-0.5 1.5,1.5 7.5,0 1.5,1.5 6,0 1.5,2 6,0 1.5,1.5 4.5,0 1.5,1.5 4.5,0 1.5,1.5 4.5,0 1.5,1.5 6,0 1.5,1.5 5,0 1.5,1.5 4.5,0 1.5,1.5 6,0 1.5,1.5 4.5,0 1.5,1.5 4.5,0 1.5,1.5 6,0 1.5,2 6,0 1.5,1.5 4.5,0 1.5,1.5 6,0 1.5,1.5 6,0 1.5,1.5 6,0 1.5,1.5 7.5,0 1.5,1.5 6.5,0 1.5,1.5 7.5,0.5 0.5,9.5 -3,14 -3,10.5 -6.5,14 -5,7.5 -4.5,4.5 -3,2 -6,3.5 -6,3 -4.5,1.5 -9,1.5 -15,0 -10.5,-1.5 -13.5,-4 -14,-6 -10.5,-7 -8,-6.5 -8.5,-9.5 -9,-13 -10.5,-19.5 -9,-21 -4,-11zM325,828l-0.5,5 3,8.5 13.5,30 7.5,13 7.5,11 9.5,10 7.5,6 9.5,6.5 7,3 9,4 12,3 10.5,2 15,0 9,-2 4.5,-1.5 12,-6 6,-6 4.5,-7 6.5,-12.5 3.5,-11 3,-14 -0.5,-9.5 -6,0 -1.5,-2 -6.5,0 -1.5,-1.5 -7.5,0 -1.5,-1.5 -6,0 -1.5,-1.5 -6,0 -1.5,-1.5 -6,0 -1.5,-1.5 -4.5,0 -1.5,-1.5 -6,0 -1.5,-1.5 -6,0 -1.5,-2 -4.5,0 -1.5,-1.5 -4.5,0 -1.5,-1.5 -6,0 -1.5,-1.5 -4.5,0 -1.5,-1.5 -5,0 -1.5,-1.5 -6,0 -1.5,-1.5 -4.5,0 -1.5,-1.5 -4.5,0 -1.5,-1.5 -4.5,0 -1.5,-1.5 -6,0 -1.5,-1.5 -6,0 -1.5,-2 -7.5,0.5 -1.5,-1.5z"/><path fill="#ffff00" d="M326,828l9,0 1.5,1.5 7.5,-0.5 1.5,2 6,0 1.5,1.5 6,0 1.5,1.5 4.5,0 1.5,1.5 4.5,0 1.5,1.5 4.5,0 1.5,1.5 6,0 1.5,1.5 5,0 1.5,1.5 4.5,0 1.5,1.5 6,0 1.5,1.5 4.5,0 1.5,1.5 4.5,0 1.5,2 6,0 1.5,1.5 6,0 1.5,1.5 4.5,0 1.5,1.5 6,0 1.5,1.5 6,0 1.5,1.5 6,0 1.5,1.5 7.5,0 1.5,1.5 6.5,0 1.5,2 6,0 0.5,9.5 -3,14 -3.5,11 -6.5,12.5 -4.5,7 -6,6 -12,6 -4.5,1.5 -9,2 -15,0 -10.5,-2 -12,-3 -9,-4 -7,-3 -9.5,-6.5 -6,-4.5 -3.5,-3.5 -7.5,-8 -10.5,-16 -7.5,-14.5 -10.5,-23.5 -3,-8.5 0.5,-5zM326.5,828l-1,5 3.5,8.5 13.5,29 6,10.5 10,13.5 10.5,11 8,6 7.5,5 12.5,5 15,4.5 10.5,1.5 12,0 9,-1.5 9,-3.5 3,-1.5 5,-3 3.5,-3.5 3.5,-4 3.5,-5 4.5,-9.5 4.5,-12 3.5,-15.5 0,-8 -5,0 -1.5,-1.5 -6.5,-0.5 -1.5,-1.5 -7.5,0 -1.5,-1.5 -6,0 -1.5,-1.5 -6,0 -1.5,-1.5 -6,0 -1.5,-1.5 -4.5,0 -1.5,-1.5 -6,0 -1.5,-1.5 -6,0 -1.5,-1.5 -4.5,0 -1.5,-2 -4.5,0 -1.5,-1.5 -6,0 -1.5,-1.5 -4.5,0 -1.5,-1.5 -5,0 -1.5,-1.5 -6,0 -1.5,-1.5 -4.5,0 -1.5,-1.5 -4.5,0 -1.5,-1.5 -4.5,0 -1.5,-1.5 -6,0 -1.5,-1.5 -6,0 -1.5,-1.5 -7.5,0 -1.5,-1.5z"/><path fill="#ffe300" d="M327.5,828l7.5,0 1.5,1.5 7.5,0 1.5,1.5 6,0 1.5,1.5 6,0 1.5,1.5 4.5,0 1.5,1.5 4.5,0 1.5,1.5 4.5,0 1.5,1.5 6,0 1.5,1.5 5,0 1.5,1.5 4.5,0 1.5,1.5 6,0 1.5,1.5 4.5,0 1.5,2 4.5,0 1.5,1.5 6,0 1.5,1.5 6,0 1.5,1.5 4.5,0 1.5,1.5 6,0 1.5,1.5 6,0 1.5,1.5 6,0 1.5,1.5 7.5,0 1.5,1.5 6.5,0.5 1.5,1.5 5,0 0,8 -3.5,15.5 -4.5,12 -4.5,9.5 -3.5,5 -3.5,4 -3.5,3.5 -5,3 -3,1.5 -9,3.5 -9,1.5 -12,0 -10.5,-1.5 -15,-4.5 -12.5,-5 -7.5,-5 -8,-6 -10.5,-11 -10,-13.5 -6,-10.5 -4.5,-9.5 -12,-26.5 -0.5,-3.5 1,-3zM327.5,828l-0.5,3 1.5,5 4.5,9 10,22 9,15 8,11 12,12.5 6.5,4.5 7.5,4.5 9.5,4 15,4.5 12,2 12,0 9,-2 10.5,-3.5 6,-4.5 3.5,-3.5 2.5,-3 4,-6 6,-14 1.5,-4.5 4.5,-17 0,-6.5 -3.5,0 -1.5,-1.5 -6.5,-0.5 -1.5,-1.5 -7.5,0 -1.5,-1.5 -6,0 -1.5,-1.5 -6,0 -1.5,-1.5 -6,0 -1.5,-1.5 -4.5,0 -1.5,-1.5 -6,0 -1.5,-1.5 -6,0 -1.5,-1.5 -4.5,0 -1.5,-1.5 -4.5,0 -1.5,-2 -6,0 -1.5,-1.5 -4.5,0 -1.5,-1.5 -5,0 -1.5,-1.5 -6,0 -1.5,-1.5 -4.5,0 -1.5,-1.5 -4.5,0 -1.5,-1.5 -4.5,0 -1.5,-1.5 -6,0 -1.5,-1.5 -6,0 -1.5,-1.5 -7.5,0 -1.5,-1.5z"/><path fill="#ffc600" d="M329,828l6,0 1.5,1.5 7.5,0 1.5,1.5 6,0 1.5,1.5 6,0 1.5,1.5 4.5,0 1.5,1.5 4.5,0 1.5,1.5 4.5,0 1.5,1.5 6,0 1.5,1.5 5,0 1.5,1.5 4.5,0 1.5,1.5 6,0 1.5,2 4.5,0 1.5,1.5 4.5,0 1.5,1.5 6,0 1.5,1.5 6,0 1.5,1.5 4.5,0 1.5,1.5 6,0 1.5,1.5 6,0 1.5,1.5 6,0 1.5,1.5 7.5,0 1.5,1.5 6.5,0.5 1.5,1.5 3.5,0 0,6.5 -4.5,17 -1.5,4.5 -6,14 -4,6 -2.5,3 -3.5,3.5 -6,4.5 -10.5,3.5 -9,2 -12,0 -12,-2 -15,-4.5 -9.5,-4 -7.5,-4.5 -6.5,-4.5 -12,-12.5 -8,-11 -9,-15 -10,-22 -4.5,-9 -1.5,-5 0.5,-3zM329,828l-0.5,3 1.5,5 4.5,6 11,24.5 9.5,15.5 5.5,8 13.5,14 6,4.5 6,3 10,4.5 15,5 5.5,0.5 4.5,1 13.5,0 8.5,-1.5 9.5,-3.5 4.5,-3 4.5,-4.5 3,-3.5 3,-4.5 6,-13.5 2,-5.5 2,-10 3.5,-8 0,-4.5 -2.5,0 -1.5,-1.5 -6.5,0 -1.5,-1.5 -7.5,-0.5 -1.5,-1.5 -6,0 -1.5,-1.5 -6,0 -1.5,-1.5 -6,0 -1.5,-1.5 -4.5,0 -1.5,-1.5 -6,0 -1.5,-1.5 -6,0 -1.5,-1.5 -4.5,0 -1.5,-1.5 -4.5,0 -1.5,-1.5 -6,0 -1.5,-2 -4.5,0 -1.5,-1.5 -5,0 -1.5,-1.5 -6,0 -1.5,-1.5 -4.5,0 -1.5,-1.5 -4.5,0 -1.5,-1.5 -4.5,0 -1.5,-1.5 -6,0 -1.5,-1.5 -6,0 -1.5,-1.5 -7.5,0 -1.5,-1.5z"/><path fill="#ffaa00" d="M330.5,828l4.5,0 1.5,1.5 7.5,0 1.5,1.5 6,0 1.5,1.5 6,0 1.5,1.5 4.5,0 1.5,1.5 4.5,0 1.5,1.5 4.5,0 1.5,1.5 6,0 1.5,1.5 5,0 1.5,1.5 4.5,0 1.5,2 6,0 1.5,1.5 4.5,0 1.5,1.5 4.5,0 1.5,1.5 6,0 1.5,1.5 6,0 1.5,1.5 4.5,0 1.5,1.5 6,0 1.5,1.5 6,0 1.5,1.5 6,0 1.5,1.5 7.5,0.5 1.5,1.5 6.5,0 1.5,1.5 2.5,0 0,4.5 -3.5,8 -2,10 -2,5.5 -6,13.5 -3,4.5 -3,3.5 -4.5,4.5 -4.5,3 -9.5,3.5 -8.5,1.5 -13.5,0 -4.5,-1 -5.5,-0.5 -15,-5 -10,-4.5 -6,-3 -6,-4.5 -13.5,-14 -5.5,-8 -9.5,-15.5 -9.5,-21.5 -7,-10.5 -0.5,-3.5 0,-1.5 0.5,-1.5zM330,828l-0.5,3 1,3.5 1.5,2 4,4 4,6 5,11 6.5,13 9,14 7.5,8.5 10.5,10 9.5,6 10.5,4.5 15,4.5 10.5,1.5 9,0 13.5,-3 4.5,-2 4.5,-3 6,-6 4,-6.5 4,-9 6,-18.5 3.5,-4.5 1,-3.5 0,-3 -1.5,0 -1.5,-1.5 -6.5,0 -1.5,-1.5 -7.5,0 -1.5,-2 -6,0 -1.5,-1.5 -6,0 -1.5,-1.5 -6,0 -1.5,-1.5 -4.5,0 -1.5,-1.5 -6,0 -1.5,-1.5 -6,0 -1.5,-1.5 -4.5,0 -1.5,-1.5 -4.5,0 -1.5,-1.5 -6,0 -1.5,-1.5 -4.5,0 -1.5,-2 -5,0 -1.5,-1.5 -6,0 -1.5,-1.5 -4.5,0 -1.5,-1.5 -4.5,0 -1.5,-1.5 -4.5,0 -1.5,-1.5 -6,0 -1.5,-1.5 -6,0 -1.5,-1.5 -7.5,0 -1.5,-1.5z"/><path fill="#ff8e00" d="M330.5,828l4.5,0 1.5,1.5 7.5,0 1.5,1.5 6,0 1.5,1.5 6,0 1.5,1.5 4.5,0 1.5,1.5 4.5,0 1.5,1.5 4.5,0 1.5,1.5 6,0 1.5,1.5 5,0 1.5,2 4.5,0 1.5,1.5 6,0 1.5,1.5 4.5,0 1.5,1.5 4.5,0 1.5,1.5 6,0 1.5,1.5 6,0 1.5,1.5 4.5,0 1.5,1.5 6,0 1.5,1.5 6,0 1.5,1.5 6,0 1.5,2 7.5,0 1.5,1.5 6.5,0 1.5,1.5 1.5,0 0,3 -1,3.5 -3.5,4.5 -6,18.5 -4,9 -4,6.5 -6,6 -4.5,3 -4.5,2 -13.5,3 -9,0 -10.5,-1.5 -15,-4.5 -10.5,-4.5 -9.5,-6 -11.5,-11.5 -6,-6 -6,-9.5 -4,-6 -4,-8 -7,-15.5 -4,-6 -4,-4 -1.5,-2 -1,-3.5zM331.5,828l-1,3 1.5,3.5 9.5,9 2.5,4.5 5.5,12.5 7.5,14 5.5,7.5 8,9.5 11,10.5 9,5 12.5,5 10.5,3 12,1.5 7.5,0 7.5,-1.5 5.5,-2 4,-1.5 4.5,-3 4.5,-4.5 4.5,-8 4.5,-10.5 4.5,-14 1,-1.5 3.5,-3 2,-3.5 0,-3 -0.5,0 -1.5,-1.5 -6.5,0 -1.5,-1.5 -7.5,0 -1.5,-1.5 -6,0 -1.5,-2 -6,0 -1.5,-1.5 -6,0 -1.5,-1.5 -4.5,0 -1.5,-1.5 -6,0 -1.5,-1.5 -6,0 -1.5,-1.5 -4.5,0 -1.5,-1.5 -4.5,0 -1.5,-1.5 -6,0 -1.5,-1.5 -4.5,0 -1.5,-1.5 -5,0 -1.5,-2 -6,0 -1.5,-1.5 -4.5,0 -1.5,-1.5 -4.5,0 -1.5,-1.5 -4.5,0 -1.5,-1.5 -6,0 -1.5,-1.5 -6,0 -1.5,-1.5 -7.5,0 -1.5,-1.5z"/><path fill="#ff7100" d="M332,828l3,0 1.5,1.5 7.5,0 1.5,1.5 6,0 1.5,1.5 6,0 1.5,1.5 4.5,0 1.5,1.5 4.5,0 1.5,1.5 4.5,0 1.5,1.5 6,0 1.5,2 5,0 1.5,1.5 4.5,0 1.5,1.5 6,0 1.5,1.5 4.5,0 1.5,1.5 4.5,0 1.5,1.5 6,0 1.5,1.5 6,0 1.5,1.5 4.5,0 1.5,1.5 6,0 1.5,1.5 6,0 1.5,2 6,0 1.5,1.5 7.5,0 1.5,1.5 6.5,0 1.5,1.5 0.5,0 0,3 -2,3.5 -3.5,3 -1,1.5 -4.5,14 -4.5,10.5 -4.5,8 -4.5,4.5 -4.5,3 -4,1.5 -5.5,2 -7.5,1.5 -7.5,0 -12,-1.5 -10.5,-3 -12.5,-5 -9,-5 -11,-10.5 -8,-9.5 -5.5,-7.5 -7.5,-14 -5.5,-12.5 -2.5,-4.5 -9.5,-9 -1.5,-3.5 1,-3zM332.5,828l-1,3 1.5,3.5 10.5,7.5 3,3 6,9.5 12.5,21 9,11.5 6.5,6 10.5,7.5 12,5.5 7.5,2 7.5,1.5 10.5,1.5 10.5,-2 4.5,-1.5 4.5,-2 4.5,-4 4.5,-6 3.5,-7 5.5,-14 3,-5.5 1.5,-1.5 3,-0.5 3.5,-1.5 1,-2 0.5,-1.5 -0.5,-1.5 -1,-1.5 -6.5,0 -1.5,-1.5 -7.5,0 -1.5,-1.5 -6,0 -1.5,-1.5 -6,0 -1.5,-2 -6,0 -1.5,-1.5 -4.5,0 -1.5,-1.5 -6,0 -1.5,-1.5 -6,0 -1.5,-1.5 -4.5,0 -1.5,-1.5 -4.5,0 -1.5,-1.5 -6,0 -1.5,-1.5 -4.5,0 -1.5,-1.5 -5,0 -1.5,-1.5 -6,0 -1.5,-2 -4.5,0 -1.5,-1.5 -4.5,0 -1.5,-1.5 -4.5,0 -1.5,-1.5 -6,0 -1.5,-1.5 -6,0 -1.5,-1.5 -7.5,0 -1.5,-1.5z"/><path fill="#ff5500" d="M333.5,828l1.5,0 1.5,1.5 7.5,0 1.5,1.5 6,0 1.5,1.5 6,0 1.5,1.5 4.5,0 1.5,1.5 4.5,0 1.5,1.5 4.5,0 1.5,2 6,0 1.5,1.5 5,0 1.5,1.5 4.5,0 1.5,1.5 6,0 1.5,1.5 4.5,0 1.5,1.5 4.5,0 1.5,1.5 6,0 1.5,1.5 6,0 1.5,1.5 4.5,0 1.5,1.5 6,0 1.5,2 6,0 1.5,1.5 6,0 1.5,1.5 7.5,0 1.5,1.5 6.5,0 1,1.5 0.5,1.5 -0.5,1.5 -1,2 -3.5,1.5 -3,0.5 -1.5,1.5 -3,5.5 -5.5,14 -3.5,7 -4.5,6 -4.5,4 -4.5,2 -4.5,1.5 -10.5,2 -10.5,-1.5 -7.5,-1.5 -7.5,-2 -12,-5.5 -10.5,-7.5 -6.5,-6 -9,-11.5 -12.5,-21 -6,-9.5 -3,-3 -10,-7 -1.5,-2 -0.5,-2 0.5,-1.5 0.5,-1.5zM334.5,828l-1.5,1.5 -0.5,1.5 0.5,2 2,1.5 9,6 7.5,3.5 3,0.5 3,0 1.5,0.5 15,16.5 6,5.5 6,5 8,5 6,3 6,2.5 6,2 7.5,1 6,0.5 6,-0.5 4.5,-1 6,-3 4.5,-3 4.5,-4.5 5,-5.5 1,-1 1.5,0.5 1.5,1 3,0.5 3,-1.5 3,-1.5 6.5,-1.5 1.5,-1 0.5,-2 -0.5,-1.5 -1.5,-1.5 -5,0 -1.5,-1.5 -7.5,0 -1.5,-1.5 -6,0 -1.5,-1.5 -6,0 -1.5,-1.5 -6,0 -1.5,-2 -4.5,0 -1.5,-1.5 -6,0 -1.5,-1.5 -6,0 -1.5,-1.5 -4.5,0 -1.5,-1.5 -4.5,0 -1.5,-1.5 -6,0 -1.5,-1.5 -4.5,0 -1.5,-1.5 -5,0 -1.5,-1.5 -6,0 -1.5,-1.5 -4.5,0 -1.5,-1.5 -4.5,0 -1.5,-2 -4.5,0 -1.5,-1.5 -6,0 -1.5,-1.5 -6,0 -1.5,-1.5 -7.5,0 -1.5,-1.5z"/><path fill="#ff3900" d="M335,828l1.5,1.5 7.5,0 1.5,1.5 6,0 1.5,1.5 6,0 1.5,1.5 4.5,0 1.5,2 4.5,0 1.5,1.5 4.5,0 1.5,1.5 6,0 1.5,1.5 5,0 1.5,1.5 4.5,0 1.5,1.5 6,0 1.5,1.5 4.5,0 1.5,1.5 4.5,0 1.5,1.5 6,0 1.5,1.5 6,0 1.5,1.5 4.5,0 1.5,2 6,0 1.5,1.5 6,0 1.5,1.5 6,0 1.5,1.5 7.5,0 1.5,1.5 5,0 1.5,1.5 0.5,1.5 -0.5,2 -1.5,1 -6.5,1.5 -3,1.5 -3,1.5 -3,-0.5 -1.5,-1 -1.5,-0.5 -1,1 -5,5.5 -4.5,4.5 -4.5,3 -6,3 -4.5,1 -6,0.5 -6,-0.5 -7.5,-1 -7.5,-2.5 -6,-2.5 -6,-3.5 -8,-5 -6,-5 -6,-6 -13.5,-15 -1.5,-0.5 -3,0 -3,-0.5 -7.5,-3.5 -9,-6 -2,-1.5 -0.5,-2 1,-2zM334.5,829.5l-1,1.5 1.5,2.5 10.5,5 12,2.5 68,16.5 37.5,7.5 3,0 7.5,-1 2,-0.5 1,-1.5 -1,-1.5 -3,-1.5 -2,0 -1.5,-1.5 -7.5,0 -1.5,-1.5 -6,0 -1.5,-1.5 -6,0 -1.5,-1.5 -6,0 -1.5,-1.5 -4.5,0 -1.5,-2 -6,0 -1.5,-1.5 -6,0 -1.5,-1.5 -4.5,0 -1.5,-1.5 -4.5,0 -1.5,-1.5 -6,0 -1.5,-1.5 -4.5,0 -1.5,-1.5 -5,0 -1.5,-1.5 -6,0 -1.5,-1.5 -4.5,0 -1.5,-1.5 -4.5,0 -1.5,-1.5 -4.5,0 -1.5,-2 -6,0 -1.5,-1.5 -6,0 -1.5,-1.5 -7.5,0 -1.5,-0.5z"/><path fill="#ff1c00" d="M335,829l1.5,0.5 7.5,0 1.5,1.5 6,0 1.5,1.5 6,0 1.5,2 4.5,0 1.5,1.5 4.5,0 1.5,1.5 4.5,0 1.5,1.5 6,0 1.5,1.5 5,0 1.5,1.5 4.5,0 1.5,1.5 6,0 1.5,1.5 4.5,0 1.5,1.5 4.5,0 1.5,1.5 6,0 1.5,1.5 6,0 1.5,2 4.5,0 1.5,1.5 6,0 1.5,1.5 6,0 1.5,1.5 6,0 1.5,1.5 7.5,0 1.5,1.5 2,0 3,1.5 1,1.5 -1,1.5 -2,0.5 -7.5,1 -3,0 -37.5,-7.5 -68,-16.5 -12,-2.5 -9,-4 -2,-1.5 -1,-2zM342,829.5l-6.5,1.5 1,2 10.5,3 4.5,0.5 19.5,4.5 15,4 11,2.5 28.5,7 38,7.5 7,0.5 3.5,-0.5 -3.5,-2 -6,-1.5 -6.5,-2.5 -4,0 -1.5,-1.5 -6,0 -1.5,-1.5 -6,0 -1.5,-1.5 -4.5,0 -1.5,-1.5 -6,0 -1.5,-2 -6,0 -1.5,-1.5 -4.5,0 -1.5,-1.5 -4.5,0 -1.5,-1.5 -6,0 -1.5,-1.5 -4.5,0 -1.5,-1.5 -5,0 -1.5,-1.5 -6,0 -1.5,-1.5 -4.5,0 -1.5,-1.5 -4.5,0 -1.5,-1.5 -4.5,0 -1.5,-1.5 -6,0 -1.5,-2 -6,0 -1.5,-1.5z"/><path fill="#ff0000" d="M342.5,829.5l1.5,0 1.5,1.5 6,0 1.5,2 6,0 1.5,1.5 4.5,0 1.5,1.5 4.5,0 1.5,1.5 4.5,0 1.5,1.5 6,0 1.5,1.5 5,0 1.5,1.5 4.5,0 1.5,1.5 6,0 1.5,1.5 4.5,0 1.5,1.5 4.5,0 1.5,1.5 6,0 1.5,2 6,0 1.5,1.5 4.5,0 1.5,1.5 6,0 1.5,1.5 6,0 1.5,1.5 4,0 6.5,2.5 6,1.5 3.5,2 -3.5,0.5 -7,-0.5 -38,-7.5 -28.5,-7 -11,-2.5 -15,-4 -19.5,-4.5 -4.5,-0.5 -10.5,-3 -1,-2 1,-0.5z"/></g></g>
<g fill="none" stroke="#0c1418" stroke-width="1.9" stroke-linecap="round" ><path d="M324,831.9C326.9,838.5 329.3,844.4 332.6,851.6C336,858.9 340,868.1 344.2,875.3C348.4,882.6 352.2,888.8 357.7,895C363.1,901.3 369.8,908 376.9,912.7C384,917.5 391.7,921 400,923.7C408.4,926.3 418.6,928.5 427,928.6C435.3,928.8 443.7,926.9 450.1,924.6C456.5,922.3 461.3,919 465.5,914.7C469.7,910.4 472.6,904.2 475.2,898.9C477.7,893.7 479.3,888.6 480.9,883.2C482.5,877.7 483.4,872 484.7,866.4"/><path d="M314.3,827.9C315.3,829.9 314.8,827.2 317.3,833.8C319.7,840.4 324.6,857.2 328.8,867.4C333,877.6 337.5,886.5 342.3,895C347.1,903.6 351.9,911.8 357.7,918.7C363.5,925.6 369.8,931.7 376.9,936.4C384,941.2 392,944.8 400,947.3C408.1,949.7 417.7,950.8 425.1,951.3C432.4,951.8 437.5,951.7 444.3,950.2C451,948.8 459.4,946 465.5,942.4C471.6,938.8 476.7,933.9 480.9,928.6C485.1,923.3 488,917.4 490.5,910.8C493.1,904.2 495,896.7 496.3,889.1C497.6,881.6 497.6,873.4 498.3,865.5"/><path d="M484.7,866.4C485.1,865.8 483.6,864.9 485.8,864.5C488.1,864.1 494.1,864.3 498.3,864.1"/></g>
<g fill="none" stroke="#00003c" stroke-width="1.3" stroke-linecap="round" ><path d="M500.2,865.5C503.1,870.1 507.3,873.5 508.8,879.3C510.4,885.1 509.6,893.7 509.5,900.3C509.3,906.9 509.4,910.4 507.8,918.7C506.3,927 503.1,940.7 500.2,950.2C497.3,959.8 493.8,967.4 490.5,975.9"/><path d="M517.5,866.1C519.4,871.8 522.4,877 523.2,883.2C524.1,889.4 522.8,897.4 522.5,903.4C522.2,909.3 523.1,910.9 521.3,918.7C519.5,926.5 515.2,940.7 511.7,950.2C508.1,959.8 504,967.4 500.2,975.9"/></g>
<g fill="none" stroke="#d4d4f6" stroke-width="1.8" stroke-linecap="round" ><path d="M300.9,826.9C301.8,831.2 302.3,833.4 303.8,839.8C305.2,846.2 307.3,856.6 309.5,865.5C311.8,874.3 314,883.5 317.3,893.1C320.5,902.6 324.3,913.4 328.8,922.6C333.3,931.8 338.4,941.1 344.2,948.3C350,955.5 357,961.4 363.4,966C369.8,970.6 376.3,972.6 382.7,975.9"/></g>
<text x="460.2" y="900.2" font-family='"Liberation Serif","Times New Roman",serif' font-size="19" font-weight="bold" text-anchor="middle" fill="#000">20</text><text x="471.4" y="932.8" font-family='"Liberation Serif","Times New Roman",serif' font-size="19" font-weight="bold" text-anchor="middle" fill="#0c2410">10</text>
<text x="338" y="941" font-family='"Liberation Serif","Times New Roman",serif' font-size="18" font-weight="bold" text-anchor="middle" fill="#e8e8ff">1</text>
<path d="M331,833.3H604" stroke="#222" stroke-width="1.6" stroke-dasharray="7,4.5" fill="none"/>
<path d="M417.6,849.4H604" stroke="#222" stroke-width="1.6" stroke-dasharray="7,4.5" fill="none"/>
<rect x="45.6" y="802.5" width="559.8" height="173.3" fill="none" stroke="#000" stroke-width="2.0"/><text x="93.9" y="997.7" font-family='"Liberation Serif","Times New Roman",serif' font-size="22" font-weight="bold" text-anchor="middle" fill="#000">130</text><text x="236.1" y="997.7" font-family='"Liberation Serif","Times New Roman",serif' font-size="22" font-weight="bold" text-anchor="middle" fill="#000">140</text><text x="371.8" y="997.7" font-family='"Liberation Serif","Times New Roman",serif' font-size="22" font-weight="bold" text-anchor="middle" fill="#000">150</text><text x="513.5" y="997.7" font-family='"Liberation Serif","Times New Roman",serif' font-size="22" font-weight="bold" text-anchor="middle" fill="#000">160</text><text x="38.8" y="819.5" font-family='"Liberation Serif","Times New Roman",serif' font-size="22" font-weight="bold" text-anchor="end" fill="#000">2</text><text x="38.8" y="860" font-family='"Liberation Serif","Times New Roman",serif' font-size="22" font-weight="bold" text-anchor="end" fill="#000">0</text><text x="38.8" y="907.6" font-family='"Liberation Serif","Times New Roman",serif' font-size="22" font-weight="bold" text-anchor="end" fill="#000">-2</text><text x="38.8" y="956.4" font-family='"Liberation Serif","Times New Roman",serif' font-size="22" font-weight="bold" text-anchor="end" fill="#000">-4</text><text transform="translate(13.1,895) rotate(-90)" font-family='"Liberation Serif","Times New Roman",serif' font-size="18" font-weight="bold" font-style="italic" text-anchor="middle" y="2.9">z</text><text x="350" y="1017.8" font-family='"Liberation Serif","Times New Roman",serif' font-size="22" font-weight="bold" text-anchor="middle" fill="#000" font-style="italic">x</text>
<rect x="613.4" y="801.3" width="20.8" height="175.3" fill="url(#jet)"/><text x="636.7" y="822.5" font-family='"Liberation Serif","Times New Roman",serif' font-size="22" font-weight="bold" text-anchor="start" fill="#000">100</text><text x="636.7" y="905.1" font-family='"Liberation Serif","Times New Roman",serif' font-size="22" font-weight="bold" text-anchor="start" fill="#000">50</text><text x="636.7" y="985.7" font-family='"Liberation Serif","Times New Roman",serif' font-size="22" font-weight="bold" text-anchor="start" fill="#000">0</text><text x="607.4" y="1001.6" font-family='"Liberation Serif","Times New Roman",serif' font-size="24"><tspan font-style="italic" font-weight="bold">u</tspan><tspan font-weight="normal">M</tspan></text>
<text x="51.5" y="792.5" font-family='"Liberation Sans",Arial,sans-serif' font-size="29.2" font-weight="bold" text-anchor="start" fill="#000">C2</text><text x="110.2" y="790.5" font-family='"Liberation Serif","Times New Roman",serif' font-size="36" font-weight="bold">Modeled NO<tspan font-size="22" dy="7">3</tspan><tspan font-size="26" dy="-19">-</tspan></text>
<g clip-path="url(#clipA2)"><g filter="url(#b12)"><rect x="47.1" y="300.1" width="567.6" height="169.2" fill="#00008c"/><rect x="545.5" y="300.1" width="69.2" height="169.2" fill="#8e0000"/><path fill="#0000aa" d="M300.5,320.5l3.5,-0.5 1.5,1.5 15,-1 1.5,1.5 8,0 1.5,1.5 9,0 1.5,1.5 7.5,0 1.5,1.5 6.5,0 1.5,1.5 6,0 1.5,1.5 4.5,0 1.5,1.5 4.5,0 1.5,1.5 5,0 1.5,1.5 6,0 1.5,2 4.5,0 1.5,1.5 4.5,0 1.5,1.5 6.5,0 1.5,1.5 4.5,0 1.5,1.5 4.5,0 1.5,1.5 6,0 2,1.5 6,0 1.5,1.5 4.5,0 1.5,1.5 6,0 1.5,1.5 6.5,0 1.5,1.5 6,0 1.5,1.5 7.5,0 1.5,1.5 6.5,0 1.5,1.5 7.5,0 1.5,1.5 26,0 1.5,1.5 35,0 -35,0 -1.5,-1.5 -26,0 -1.5,-1.5 -7.5,0 -1.5,-1.5 -6.5,0 -1.5,-1.5 -7.5,0 -1.5,-1.5 -6,0 -1.5,-1.5 -6.5,0 -1.5,-1.5 -6,0 -1.5,-1.5 -4.5,0 -1.5,-1.5 -6,0 -2,-1.5 -6,0 -1.5,-1.5 -4.5,0 -1.5,-1.5 -4.5,0 -1.5,-1.5 -6.5,0 -1.5,-1.5 -4.5,0 -1.5,-1.5 -4.5,0 -1.5,-1.5 -6,0 -1.5,-1.5 -5,0 -1.5,-1.5 -4.5,0 -1.5,-1.5 -4.5,0 -1.5,-1.5 -6,0 -1.5,-2 -6.5,0 -1.5,-1.5 -7.5,0 -1.5,-1.5 -9,0.5 -1.5,-1.5 -8,0 -1.5,-1.5 -9,0 -6,1 1.5,2 0.5,2.5 2,9 8,29 2.5,12 6.5,15 5.5,12 11.5,19.5 7.5,11.5 6.5,6.5 7.5,6 13.5,8.5 15.5,7 12.5,3.5 9,1.5 10.5,1.5 18.5,0 12,-1.5 15.5,-4.5 15.5,-6.5 0,1.5 -1.5,1.5 -11,9 -1,1.5 -1,3 -83.5,0 -0.5,-3 -1.5,-1.5 -14,-7.5 -8.5,-5.5 -14,-12 -4,-5 -7.5,-12.5 -6,-10.5 -4.5,-9 -10.5,-27 -13,-53 -5.5,-6z"/><path fill="#0000c6" d="M307,322l4.5,-1 9,0 1.5,1.5 8,0 1.5,1.5 9,-0.5 1.5,1.5 7.5,0 1.5,1.5 6.5,0 1.5,2 6,0 1.5,1.5 4.5,0 1.5,1.5 4.5,0 1.5,1.5 5,0 1.5,1.5 6,0 1.5,1.5 4.5,0 1.5,1.5 4.5,0 1.5,1.5 6.5,0 1.5,1.5 4.5,0 1.5,1.5 4.5,0 1.5,1.5 6,0 2,1.5 6,0 1.5,1.5 4.5,0 1.5,1.5 6,0 1.5,1.5 6.5,0 1.5,1.5 6,0 1.5,1.5 7.5,0 1.5,1.5 6.5,0 1.5,1.5 7.5,0 1.5,1.5 26,0 1.5,1.5 35,0 -35,0 -1.5,-1.5 -26,0 -1.5,-1.5 -7.5,0 -1.5,-1.5 -6.5,0 -1.5,-1.5 -7.5,0 -1.5,-1.5 -6,0 -1.5,-1.5 -6.5,0 -1.5,-1.5 -6,0 -1.5,-1.5 -4.5,0 -1.5,-1.5 -6,0 -2,-1.5 -6,0 -1.5,-1.5 -4.5,0 -1.5,-1.5 -4.5,0 -1.5,-1.5 -6.5,0 -1.5,-1.5 -4.5,0 -1.5,-1.5 -4.5,0 -1.5,-1.5 -6,0 -1.5,-1.5 -5,0 -1.5,-1.5 -4.5,0 -1.5,-1.5 -4.5,0 -1.5,-1.5 -6,0 -1.5,-1.5 -6.5,0 -1.5,-1.5 -7.5,0 -1.5,-1.5 -9,0 -1.5,-1.5 -8,0 -1.5,-1.5 -7.5,0.5 -5.5,0.5 1.5,3 2,9 3.5,12.5 5,18 2,10.5 8.5,18 6.5,12 11.5,17.5 9.5,10.5 7.5,7 6,4.5 9.5,5.5 4.5,2.5 9,3.5 9,3 8,2 9,1 18.5,1.5 13.5,-1.5 14,-3 9,-3.5 12.5,-6 1.5,-0.5 3,1 1.5,0.5 1,1.5 -1,3 -11.5,13.5 -1.5,4.5 -7.5,0 1,-3 1,-1.5 11,-9 1.5,-1.5 0,-1.5 -12.5,5.5 -7.5,2.5 -11,3 -7.5,1 -9,1 -9.5,-0.5 -15,-1.5 -9,-1.5 -11,-3 -9,-3.5 -8,-4 -13.5,-8.5 -7.5,-6 -6.5,-6.5 -7.5,-11 -10,-17 -7,-15 -5.5,-12 -1.5,-4.5 -2,-10.5 -8,-29 -2,-9 -0.5,-2.5 -1.5,-2z"/><path fill="#0000e3" d="M308.5,322l12,-1 1.5,1.5 8,0 1.5,1.5 9,0 1.5,1.5 7.5,0 1.5,1.5 6.5,0 1.5,1.5 6,0 1.5,1.5 4.5,0 1.5,1.5 4.5,0 1.5,1.5 5,0 1.5,1.5 6,0 1.5,1.5 4.5,0 1.5,1.5 4.5,0 1.5,1.5 6.5,0 1.5,1.5 4.5,0 1.5,1.5 4.5,0 1.5,1.5 6,0 2,1.5 6,0 1.5,1.5 4.5,0 1.5,1.5 6,0 1.5,1.5 6.5,0 1.5,1.5 6,0 1.5,1.5 7.5,0 1.5,1.5 6.5,0 1.5,1.5 7.5,0 1.5,1.5 26,0 1.5,1.5 35,0 -35,0 -1.5,-1.5 -26,0 -1.5,-1.5 -7.5,0 -1.5,-1.5 -6.5,0 -1.5,-1.5 -7.5,0 -1.5,-1.5 -6,0 -1.5,-1.5 -6.5,0 -1.5,-1.5 -6,0 -1.5,-1.5 -4.5,0 -1.5,-1.5 -6,0 -2,-1.5 -6,0 -1.5,-1.5 -4.5,0 -1.5,-1.5 -4.5,0 -1.5,-1.5 -6.5,0 -1.5,-1.5 -4.5,0 -1.5,-1.5 -4.5,0 -1.5,-1.5 -6,0 -1.5,-1.5 -5,0 -1.5,-1.5 -4.5,0 -1.5,-1.5 -4.5,0 -1.5,-1.5 -6,0 -1.5,-1.5 -6.5,0 -1.5,-1.5 -7.5,0 -1.5,-1.5 -9,0 -1.5,-1.5 -8,0 -1.5,-1.5 -11,1 2,10.5 4.5,14 7.5,27 1.5,3 9,18 10,16.5 5.5,7.5 9.5,11 10.5,9 7.5,5 8,4.5 7.5,3.5 12,4 8,1.5 12,2 14,0.5 12,-1 9.5,-2 10.5,-3.5 7.5,-3.5 6.5,-3.5 6,-4.5 5.5,-4.5 3.5,-5 1,0.5 -6,12 0,3 1.5,3 0,1.5 -0.5,1.5 -9,13.5 -1.5,3 -0.5,3 -4,0 0.5,-3 2,-3 10.5,-12 1,-3 -1,-1.5 -1.5,-0.5 -3,-1 -1.5,0.5 -12.5,6 -7.5,3 -15.5,3.5 -13.5,1.5 -17,-1 -10.5,-1.5 -8,-2 -16.5,-6 -6,-3 -8,-4.5 -9,-7 -8.5,-7.5 -8.5,-10.5 -10.5,-16.5 -9.5,-17.5 -5,-11.5 -2,-10.5 -5,-18 -3.5,-12.5 -2,-9 -1.5,-3z"/><path fill="#0000ff" d="M310,322l10.5,-1 1.5,1.5 8,0 1.5,1.5 9,0 1.5,1.5 7.5,0 1.5,1.5 6.5,0 1.5,1.5 6,0 1.5,1.5 4.5,0 1.5,1.5 4.5,0 1.5,1.5 5,0 1.5,1.5 6,0 1.5,1.5 4.5,0 1.5,1.5 4.5,0 1.5,1.5 6.5,0 1.5,1.5 4.5,0 1.5,1.5 4.5,0 1.5,1.5 6,0 2,1.5 6,0 1.5,1.5 4.5,0 1.5,1.5 6,0 1.5,1.5 6.5,0 1.5,1.5 6,0 1.5,1.5 7.5,0 1.5,1.5 6.5,0 1.5,1.5 7.5,0 1.5,1.5 26,0 1.5,1.5 35,0 -35,0 -1.5,-1.5 -26,0 -1.5,-1.5 -7.5,0 -1.5,-1.5 -6.5,0 -1.5,-1.5 -7.5,0 -1.5,-1.5 -6,0 -1.5,-1.5 -6.5,0 -1.5,-1.5 -6,0 -1.5,-1.5 -4.5,0 -1.5,-1.5 -6,0 -2,-1.5 -6,0 -1.5,-1.5 -4.5,0 -1.5,-1.5 -4.5,0 -1.5,-1.5 -6.5,0 -1.5,-1.5 -4.5,0 -1.5,-1.5 -4.5,0 -1.5,-1.5 -6,0 -1.5,-1.5 -5,0 -1.5,-1.5 -4.5,0 -1.5,-1.5 -4.5,0 -1.5,-1.5 -6,0 -1.5,-1.5 -6.5,0 -1.5,-1.5 -7.5,0 -1.5,-1.5 -9,0 -1.5,-1.5 -8,0 -1.5,-1.5 -9.5,1 2,10.5 4.5,12.5 8,27 11.5,22.5 11.5,18 11,13.5 11.5,10 11,7.5 10.5,5 12,4 8,2 13.5,2 23,-0.5 15.5,-3.5 6,-2.5 7.5,-3.5 6.5,-4 4.5,-3.5 12,-12.5 1.5,-1 1,0.5 0.5,1 0,2.5 -1.5,3.5 -4.5,10 -1,3 1,2.5 3,-4 1.5,0 0.5,1.5 -0.5,1.5 -1.5,1.5 -1.5,0.5 -1.5,1.5 -8.5,16 -1.5,3 -0.5,3 -3,0 0.5,-3 1.5,-3 9,-13.5 0.5,-1.5 0,-1.5 -1.5,-3 0,-3 6,-12 -1,-0.5 -3.5,5 -10,8 -6.5,4 -7.5,3.5 -4.5,2 -9,2.5 -9.5,2 -9,0.5 -17,-0.5 -10.5,-2 -11,-2.5 -10.5,-4 -9,-4 -8,-5 -7.5,-5.5 -9,-8 -8,-9.5 -4.5,-6 -10,-16.5 -8,-15 -3.5,-7.5 -6.5,-24 -5.5,-17 -2,-10.5z"/><path fill="#001cff" d="M311.5,322l9,-1 1.5,1.5 8,0 1.5,1.5 9,0 1.5,1.5 7.5,0 1.5,1.5 6.5,0 1.5,1.5 6,0 1.5,1.5 4.5,0 1.5,1.5 4.5,0 1.5,1.5 5,0 1.5,1.5 6,0 1.5,1.5 4.5,0 1.5,1.5 4.5,0 1.5,1.5 6.5,0 1.5,1.5 4.5,0 1.5,1.5 4.5,0 1.5,1.5 6,0 2,1.5 6,0 1.5,1.5 4.5,0 1.5,1.5 6,0 1.5,1.5 6.5,0 1.5,1.5 6,0 1.5,1.5 7.5,0 1.5,1.5 6.5,0 1.5,1.5 7.5,0 1.5,1.5 26,0 1.5,1.5 35,0 -35,0 -1.5,-1.5 -26,0 -1.5,-1.5 -7.5,0 -1.5,-1.5 -6.5,0 -1.5,-1.5 -7.5,0 -1.5,-1.5 -6,0 -1.5,-1.5 -6.5,0 -1.5,-1.5 -6,0 -1.5,-1.5 -4.5,0 -1.5,-1.5 -6,0 -2,-1.5 -6,0 -1.5,-1.5 -4.5,0 -1.5,-1.5 -4.5,0 -1.5,-1.5 -6.5,0 -1.5,-1.5 -4.5,0 -1.5,-1.5 -4.5,0 -1.5,-1.5 -6,0 -1.5,-1.5 -5,0 -1.5,-1.5 -4.5,0 -1.5,-1.5 -4.5,0 -1.5,-1.5 -6,0 -1.5,-1.5 -6.5,0 -1.5,-1.5 -7.5,0 -1.5,-1.5 -9,0 -1.5,-1.5 -8,0.5 -1.5,-1.5 -8.5,0.5 2,9 13,38 13,25.5 11.5,18 10.5,12 9,8.5 9.5,6.5 4.5,2.5 6,3 10.5,4 12.5,3.5 13.5,1.5 15.5,0.5 6,-0.5 7.5,-1.5 9.5,-3 4.5,-2 7.5,-3.5 6.5,-4 3,-3 6,-6 6,-7 1.5,-1.5 1.5,0 1.5,1 1.5,1 0,1.5 -1,5 -3,7.5 -0.5,3 3,3 0,1.5 -1.5,2.5 -4.5,4.5 -3.5,6.5 -4,9 -1,4.5 -2,0 0.5,-3 1.5,-3 8.5,-16 1.5,-1.5 1.5,-0.5 1.5,-1.5 0.5,-1.5 -0.5,-1.5 -1.5,0 -3,4 -1,-2.5 1,-3 4.5,-10 1.5,-3.5 0,-2.5 -1.5,-1.5 -1.5,1 -1.5,1 -6,7 -5.5,5.5 -10,6.5 -9,4.5 -6,2 -12.5,3 -4.5,0.5 -21.5,-0.5 -12,-1.5 -11,-3 -10.5,-3.5 -9,-4.5 -9.5,-6 -7.5,-6.5 -6,-5.5 -8,-9 -3.5,-5.5 -11.5,-18 -8,-15.5 -3,-7 -7.5,-25.5 -4.5,-12.5 -2,-10.5z"/><path fill="#0039ff" d="M313,322l7.5,-0.5 1.5,1.5 8,-0.5 1.5,1.5 9,0 1.5,1.5 7.5,0 1.5,1.5 6.5,0 1.5,1.5 6,0 1.5,1.5 4.5,0 1.5,1.5 4.5,0 1.5,1.5 5,0 1.5,1.5 6,0 1.5,1.5 4.5,0 1.5,1.5 4.5,0 1.5,1.5 6.5,0 1.5,1.5 4.5,0 1.5,1.5 4.5,0 1.5,1.5 6,0 2,1.5 6,0 1.5,1.5 4.5,0 1.5,1.5 6,0 1.5,1.5 6.5,0 1.5,1.5 6,0 1.5,1.5 7.5,0 1.5,1.5 6.5,0 1.5,1.5 7.5,0 1.5,1.5 26,0 1.5,1.5 35,0 -35,0.5 -1.5,-1.5 -26,-0.5 -1.5,-1.5 -7.5,0 -1.5,-1.5 -6.5,0 -1.5,-1.5 -7.5,0 -1.5,-1.5 -6,0 -1.5,-1.5 -6.5,0 -1.5,-1.5 -6,0 -1.5,-1.5 -4.5,0 -1.5,-1.5 -6,0 -2,-1.5 -6,0 -1.5,-1.5 -4.5,0 -1.5,-1.5 -4.5,0 -1.5,-1.5 -6.5,0 -1.5,-1.5 -4.5,0 -1.5,-1.5 -4.5,0 -1.5,-1.5 -6,0 -1.5,-1.5 -5,0 -1.5,-1.5 -4.5,0 -1.5,-1.5 -4.5,0 -1.5,-1.5 -6,0 -1.5,-1.5 -6.5,0 -1.5,-1.5 -7.5,0 -1.5,-1.5 -9,0 -1.5,-1.5 -8,0.5 -1.5,-1.5 -7,0.5 2,7.5 9.5,29.5 3.5,8.5 12.5,24 9,15 9,12 10.5,11 12.5,9 10.5,5.5 10.5,4 6.5,1.5 6,1.5 12,1.5 18.5,0 9,-1.5 6.5,-1.5 10.5,-4.5 7.5,-4.5 6.5,-4.5 6.5,-6.5 5,-6.5 2.5,-4.5 6,-10.5 0.5,3 -0.5,7.5 1.5,3 0,1.5 -4.5,15.5 0,3 1,1.5 0.5,3 -2,3.5 -4.5,5.5 -3.5,7.5 -3.5,10.5 -1.5,0 1,-4.5 4,-9 3.5,-6.5 4.5,-4.5 1.5,-2.5 0,-1.5 -3,-3 0.5,-3 3,-7.5 1,-5 0,-1.5 -1.5,-1 -1.5,-1 -1.5,0 -1.5,1.5 -6,7 -6,6 -3,3 -6.5,4 -7.5,3.5 -4.5,2 -9.5,3 -9,1.5 -20,0 -13.5,-1.5 -11,-3 -9,-3 -12,-6 -12.5,-8.5 -9,-9 -9,-10.5 -12.5,-19.5 -10.5,-21 -4,-10.5 -5.5,-16.5 -5,-14 -2,-9zM510.5,414l1.5,0 0,3 -1.5,3 -2,1 -0.5,-1 -0.5,-3z"/><path fill="#0055ff" d="M314.5,322l6,-0.5 1.5,1.5 8,-0.5 1.5,1.5 9,0 1.5,1.5 7.5,0 1.5,1.5 6.5,0 1.5,1.5 6,0 1.5,1.5 4.5,0 1.5,1.5 4.5,0 1.5,1.5 5,0 1.5,1.5 6,0 1.5,1.5 4.5,0 1.5,1.5 4.5,0 1.5,1.5 6.5,0 1.5,1.5 4.5,0 1.5,1.5 4.5,0 1.5,1.5 6,0 2,1.5 6,0 1.5,1.5 4.5,0 1.5,1.5 6,0 1.5,1.5 6.5,0 1.5,1.5 6,0 1.5,1.5 7.5,0 1.5,1.5 6.5,0 1.5,1.5 7.5,0 1.5,1.5 26,0.5 1.5,1.5 35,-0.5 -35,0.5 -1.5,-1.5 -26,0 -1.5,-2 -7.5,0 -1.5,-1.5 -6.5,0 -1.5,-1.5 -7.5,0 -1.5,-1.5 -6,0 -1.5,-1.5 -6.5,0 -1.5,-1.5 -6,0 -1.5,-1.5 -4.5,0 -1.5,-1.5 -6,0 -2,-1.5 -6,0 -1.5,-1.5 -4.5,0 -1.5,-1.5 -4.5,0 -1.5,-1.5 -6.5,0 -1.5,-1.5 -4.5,0 -1.5,-1.5 -4.5,0 -1.5,-1.5 -6,0 -1.5,-1.5 -5,0 -1.5,-1.5 -4.5,0 -1.5,-1.5 -4.5,0 -1.5,-1.5 -6,0 -1.5,-1.5 -6.5,0 -1.5,-1.5 -7.5,0 -1.5,-1.5 -9,0 -1.5,-1.5 -8,0.5 -1.5,-1.5 -5.5,0.5 1.5,6 10,29 4,10.5 12.5,24 11,18 7,9 7.5,7.5 5,5 8.5,5.5 4.5,3 7.5,3.5 7.5,3 15.5,4 12,1.5 12.5,0 6,-0.5 7.5,-1.5 14,-4.5 9,-5 4.5,-3 6.5,-5.5 4.5,-5.5 4,-6 4,-7.5 4.5,-10.5 1,-4 2,-3.5 1.5,1.5 0,1.5 -1.5,6 0.5,6 1,1.5 1.5,0.5 0.5,1 0,4.5 -0.5,2 -4,7 -3,9.5 -1,4.5 1,4.5 -0.5,3 -6.5,9 -4,9 -1.5,7.5 -1.5,0 1.5,-6 4,-9 2.5,-4.5 3.5,-4 2,-3.5 -0.5,-3 -1,-1.5 0,-3 4.5,-15.5 0,-1.5 -1.5,-3 0.5,-7.5 -0.5,-3 -6,10.5 -2.5,4.5 -5,6.5 -6.5,6.5 -6.5,4.5 -7.5,4.5 -10.5,4.5 -6.5,1.5 -9,1.5 -18.5,0 -12,-1.5 -6,-1.5 -6.5,-1.5 -10.5,-4 -10.5,-5.5 -12.5,-9 -10.5,-11 -9,-12 -10,-16.5 -9,-18 -4.5,-9 -11,-33.5 -2,-7.5zM510,414l-2.5,3 0.5,3 0.5,1 2,-1 1.5,-3 0,-3z"/><path fill="#0071ff" d="M316,322l4.5,-0.5 1.5,1.5 8,-0.5 1.5,1.5 9,0 1.5,1.5 7.5,0 1.5,1.5 6.5,0 1.5,1.5 6,0 1.5,1.5 4.5,0 1.5,1.5 4.5,0 1.5,1.5 5,0 1.5,1.5 6,0 1.5,1.5 4.5,0 1.5,1.5 4.5,0 1.5,1.5 6.5,0 1.5,1.5 4.5,0 1.5,1.5 4.5,0 1.5,1.5 6,0 2,1.5 6,0 1.5,1.5 4.5,0 1.5,1.5 6,0 1.5,1.5 6.5,0 1.5,1.5 6,0 1.5,1.5 7.5,0 1.5,1.5 6.5,0 1.5,1.5 7.5,0 1.5,2 26,0 1.5,1.5 35,-0.5 -35,0.5 -1.5,-1.5 -26,0 -1.5,-1.5 -7.5,-0.5 -1.5,-1.5 -6.5,0 -1.5,-1.5 -7.5,0 -1.5,-1.5 -6,0 -1.5,-1.5 -6.5,0 -1.5,-1.5 -6,0 -1.5,-1.5 -4.5,0 -1.5,-1.5 -6,0 -2,-1.5 -6,0 -1.5,-1.5 -4.5,0 -1.5,-1.5 -4.5,0 -1.5,-1.5 -6.5,0 -1.5,-1.5 -4.5,0 -1.5,-1.5 -4.5,0 -1.5,-1.5 -6,0 -1.5,-1.5 -5,0 -1.5,-1.5 -4.5,0 -1.5,-1.5 -4.5,0 -1.5,-1.5 -6,0 -1.5,-1.5 -6.5,0 -1.5,-1.5 -7.5,0 -1.5,-1.5 -9,0 -1.5,-1 -8,0 -1.5,-1.5 -4,0.5 1,4.5 10.5,30.5 4.5,10.5 11.5,22.5 11,18 8,10.5 11,11 12.5,8.5 7.5,4 7.5,3 15.5,3.5 12,2 12.5,0 6,-0.5 7.5,-1.5 14,-4.5 7.5,-4 4.5,-3 6.5,-5.5 4.5,-5.5 4,-6 4,-7.5 4.5,-10.5 2.5,-8 1.5,-2.5 2,0 0.5,1.5 0.5,4.5 -1,9 0.5,1.5 2.5,4.5 -0.5,4.5 -1,3.5 -4,7.5 -2,6 -1,6 0.5,4.5 -0.5,3 -7,10.5 -3.5,9 -1,6 -1,0 0.5,-4.5 4,-10.5 2,-3 3.5,-4.5 2,-3 0.5,-3 -1,-4.5 1,-4.5 3,-9.5 4,-7 0.5,-2 0,-4.5 -0.5,-1 -1.5,-0.5 -1,-1.5 -0.5,-6 1.5,-6 0,-1.5 -1.5,-1.5 -2,3.5 -1,4 -4.5,10.5 -4,7.5 -4,6 -4.5,5.5 -6.5,5.5 -4.5,3 -9,5 -12.5,4.5 -9,1.5 -15,0.5 -17,-2 -12.5,-3 -7.5,-2.5 -12,-6.5 -12,-8 -11,-11.5 -8.5,-11.5 -10,-16.5 -13.5,-27 -12,-35 -1.5,-6z"/><path fill="#008eff" d="M317.5,322l3,-0.5 1.5,1.5 8,0 1.5,1 9,0 1.5,1.5 7.5,0 1.5,1.5 6.5,0 1.5,1.5 6,0 1.5,1.5 4.5,0 1.5,1.5 4.5,0 1.5,1.5 5,0 1.5,1.5 6,0 1.5,1.5 4.5,0 1.5,1.5 4.5,0 1.5,1.5 6.5,0 1.5,1.5 4.5,0 1.5,1.5 4.5,0 1.5,1.5 6,0 2,1.5 6,0 1.5,1.5 4.5,0 1.5,1.5 6,0 1.5,1.5 6.5,0 1.5,1.5 6,0 1.5,1.5 7.5,0 1.5,1.5 6.5,0 1.5,1.5 7.5,0.5 1.5,1.5 26,0 1.5,1.5 35,0 -35,0 -1.5,-1.5 -26,0 -1.5,-1.5 -7.5,0 -1.5,-1.5 -6.5,-0.5 -1.5,-1.5 -7.5,0 -1.5,-1.5 -6,0 -1.5,-1.5 -6.5,0 -1.5,-1.5 -6,0 -1.5,-1.5 -4.5,0 -1.5,-1.5 -6,0 -2,-1.5 -6,0 -1.5,-1.5 -4.5,0 -1.5,-1.5 -4.5,0 -1.5,-1.5 -6.5,0 -1.5,-1.5 -4.5,0 -1.5,-1.5 -4.5,0 -1.5,-1.5 -6,0 -1.5,-1.5 -5,0 -1.5,-1.5 -4.5,0 -1.5,-1.5 -4.5,0 -1.5,-1.5 -6,0 -1.5,-1.5 -6.5,0 -1.5,-1.5 -7.5,0 -1.5,-1.5 -9,0.5 -1.5,-1.5 -8,0.5 -1.5,-1.5 -2.5,0 12.5,36.5 3.5,9 11.5,22.5 11.5,18 8,10.5 7,7.5 4,3.5 10.5,7.5 7.5,4 7.5,2.5 8,2.5 7.5,1.5 13.5,2 11,0 4.5,0 9,-2 14,-4.5 7.5,-4.5 4.5,-3 6.5,-5.5 4.5,-5.5 4,-6 3.5,-7.5 7.5,-19.5 1.5,-2 2,0 1.5,2 0,1.5 0.5,6 -1,6 0.5,3 2,3 0,1.5 -0.5,4.5 -4.5,11 -2,6 -1,6 0,4.5 -0.5,3 -7,12 -3.5,9 -0.5,4.5 -1,0 0.5,-4.5 3.5,-9 2.5,-4.5 2.5,-3.5 2.5,-4 0.5,-3 -0.5,-4.5 1,-6 2,-6 4,-7.5 1,-3.5 0.5,-4.5 -2.5,-4.5 -0.5,-1.5 1,-9 -0.5,-4.5 -0.5,-1.5 -2,0 -1.5,2.5 -2.5,8 -4.5,10.5 -4,7.5 -4,6 -4.5,5.5 -6.5,5.5 -4.5,3 -7.5,4 -14,4.5 -7.5,1.5 -6,0.5 -12.5,0 -12,-2 -15.5,-3.5 -7.5,-3 -7.5,-4 -12.5,-8.5 -11,-11 -8,-10.5 -11,-18 -12.5,-24 -3,-7.5 -11,-32 -1,-4.5zM513.5,375l1,4.5 0,1.5 -1,2 -1,-2 0,-1.5 0,-3z"/><path fill="#00aaff" d="M319,322l1.5,0 1.5,1.5 8,-0.5 1.5,1.5 9,-0.5 1.5,1.5 7.5,0 1.5,1.5 6.5,0 1.5,1.5 6,0 1.5,1.5 4.5,0 1.5,1.5 4.5,0 1.5,1.5 5,0 1.5,1.5 6,0 1.5,1.5 4.5,0 1.5,1.5 4.5,0 1.5,1.5 6.5,0 1.5,1.5 4.5,0 1.5,1.5 4.5,0 1.5,1.5 6,0 2,1.5 6,0 1.5,1.5 4.5,0 1.5,1.5 6,0 1.5,1.5 6.5,0 1.5,1.5 6,0 1.5,1.5 7.5,0 1.5,1.5 6.5,0.5 1.5,1.5 7.5,0 1.5,1.5 26,0 1.5,1.5 35,0 -35,0 -1.5,-1.5 -26,0 -1.5,-1.5 -7.5,0 -1.5,-1.5 -6.5,0 -1.5,-1.5 -7.5,0 -1.5,-1.5 -6,0 -1.5,-1.5 -6.5,0 -1.5,-2 -6,0 -1.5,-1.5 -4.5,0 -1.5,-1.5 -6,0 -2,-1.5 -6,0 -1.5,-1.5 -4.5,0 -1.5,-1.5 -4.5,0 -1.5,-1.5 -6.5,0 -1.5,-1.5 -4.5,0 -1.5,-1.5 -4.5,0 -1.5,-1.5 -6,0 -1.5,-1.5 -5,0 -1.5,-1.5 -4.5,0 -1.5,-1.5 -4.5,0 -1.5,-1.5 -6,0 -1.5,-1.5 -6.5,0 -1.5,-1.5 -7.5,0 -1.5,-1.5 -9,0.5 -1.5,-1.5 -8,0.5 -1.5,-1.5 -1.5,0 11.5,32 4.5,12 12.5,24 9.5,15 5,7 12,14 10,8 10.5,6 15,5 7.5,1.5 13.5,2 15.5,-0.5 9,-1.5 9.5,-3 5,-2 8,-4.5 10.5,-9 3.5,-5 4,-6 4.5,-9 5.5,-17 1.5,-2 4.5,-3.5 -0.5,-3 0,-7.5 1,-2 1.5,0 1.5,2.5 0.5,4 -0.5,4 -1.5,1.5 -1.5,0.5 0,1.5 1,4.5 0.5,3 0,4.5 -0.5,6 1.5,7.5 -0.5,4.5 -5,12.5 -1,4.5 -1.5,6 0,4.5 -0.5,3 -7.5,13.5 -2.5,7.5 -0.5,4.5 -1,0 0.5,-4.5 2.5,-7.5 2.5,-4.5 5.5,-9 0.5,-3 0,-4.5 1,-6 2,-6 4.5,-11 0.5,-4.5 0,-1.5 -2,-3 -0.5,-3 1,-6 -0.5,-6 0,-1.5 -1.5,-2 -2,0 -1.5,2 -7.5,19.5 -3.5,7.5 -4,6 -4.5,5.5 -6.5,5.5 -4.5,3 -7.5,4.5 -14,4.5 -9,2 -4.5,0 -11,0 -13.5,-2 -7.5,-1.5 -8,-2.5 -7.5,-2.5 -7.5,-4 -12.5,-9 -10.5,-11 -7.5,-10.5 -10.5,-16.5 -12,-24 -3,-7.5 -9,-26 -3,-7.5 -0.5,-3zM513,375l-0.5,1.5 0,4.5 1,2 1,-2 0,-1.5z"/><path fill="#00c6ff" d="M320.5,322l1.5,1.5 8,-0.5 1.5,1.5 9,-0.5 1.5,1.5 7.5,0 1.5,1.5 6.5,0 1.5,1.5 6,0 1.5,1.5 4.5,0 1.5,1.5 4.5,0 1.5,1.5 5,0 1.5,1.5 6,0 1.5,1.5 4.5,0 1.5,1.5 4.5,0 1.5,1.5 6.5,0 1.5,1.5 4.5,0 1.5,1.5 4.5,0 1.5,1.5 6,0 2,1.5 6,0 1.5,1.5 4.5,0 1.5,1.5 6,0 1.5,2 6.5,0 1.5,1.5 6,0 1.5,1.5 7.5,0 1.5,1.5 6.5,0 1.5,1.5 7.5,0 1.5,1.5 26,0 1.5,1.5 35,0 -35,0 -1.5,-1.5 -26,0 -1.5,-1.5 -7.5,0 -1.5,-1.5 -6.5,0 -1.5,-1.5 -7.5,0 -1.5,-1.5 -6,0 -1.5,-1.5 -6.5,0 -1.5,-1.5 -6,0 -1.5,-1.5 -4.5,0 -1.5,-1.5 -6,0 -2,-1.5 -6,0 -1.5,-2 -4.5,0 -1.5,-1.5 -4.5,0 -1.5,-1.5 -6.5,0 -1.5,-1.5 -4.5,0 -1.5,-1.5 -4.5,0 -1.5,-1.5 -6,0 -1.5,-1.5 -5,0 -1.5,-1.5 -4.5,0 -1.5,-1.5 -4.5,0 -1.5,-1.5 -6,0 -1.5,-1.5 -6.5,0 -1.5,-1.5 -7.5,0 -1.5,-1.5 -9,0.5 -1.5,-1.5 -9,0.5 11,32 4.5,10.5 12.5,24 12,18 14,16.5 9,8 10,6 15.5,5.5 9,1.5 12,2 15.5,-0.5 9,-1.5 8.5,-2.5 6.5,-3 8,-4.5 8.5,-7.5 4,-5 3.5,-6 4.5,-9 5.5,-16.5 4,-9 1,-3 0.5,-6 1.5,-1.5 1,-0.5 1.5,0.5 1.5,1.5 1.5,6 -0.5,3 -1.5,6 0,10.5 -0.5,6 1,6 0,3 -1.5,6 -3,8.5 -1.5,5.5 -2.5,13.5 -7,13.5 -2.5,7.5 -0.5,4.5 -1,0 0.5,-4.5 2,-6 3,-6 5,-9 0.5,-3 0,-4.5 1.5,-6 1,-4.5 5,-12.5 0.5,-4.5 -1.5,-7.5 0.5,-6 0,-4.5 -0.5,-3 -1,-4.5 0,-1.5 1.5,-0.5 1.5,-1.5 0.5,-4 -0.5,-4 -1.5,-2.5 -1.5,0 -1,2 0,7.5 0.5,3 -4.5,3.5 -1.5,2 -5.5,17 -4.5,9 -4,6 -3.5,5 -10.5,9 -8,4.5 -5,2 -9.5,3 -9,1.5 -15.5,0.5 -13.5,-2 -7.5,-1.5 -15,-5 -8,-4.5 -5,-3 -9,-8 -9,-10.5 -4.5,-6 -11.5,-18 -12.5,-24 -3.5,-9 -12,-33.5 -0.5,-1.5z"/><path fill="#00e3ff" d="M322,323.5l8,-0.5 1.5,1.5 9,-0.5 1.5,1.5 7.5,0 1.5,1.5 6.5,0 1.5,1.5 6,0 1.5,1.5 4.5,0 1.5,1.5 4.5,0 1.5,1.5 5,0 1.5,1.5 6,0 1.5,1.5 4.5,0 1.5,1.5 4.5,0 1.5,1.5 6.5,0 1.5,1.5 4.5,0 1.5,1.5 4.5,0 1.5,2 6,0 2,1.5 6,0 1.5,1.5 4.5,0 1.5,1.5 6,0 1.5,1.5 6.5,0 1.5,1.5 6,0 1.5,1.5 7.5,0 1.5,1.5 6.5,0 1.5,1.5 7.5,0 1.5,1.5 26,0 1.5,1.5 35,0 -35,0 -1.5,-1.5 -26,0 -1.5,-1.5 -7.5,0 -1.5,-1.5 -6.5,0 -1.5,-1.5 -7.5,0 -1.5,-1.5 -6,0 -1.5,-1.5 -6.5,0 -1.5,-1.5 -6,0 -1.5,-1.5 -4.5,0 -1.5,-1.5 -6,0 -2,-1.5 -6,0 -1.5,-1.5 -4.5,0 -1.5,-1.5 -4.5,0 -1.5,-1.5 -6.5,0 -1.5,-1.5 -4.5,0 -1.5,-1.5 -4.5,0 -1.5,-2 -6,0 -1.5,-1.5 -5,0 -1.5,-1.5 -4.5,0 -1.5,-1.5 -4.5,0 -1.5,-1.5 -6,0 -1.5,-1.5 -6.5,0 -1.5,-1.5 -7.5,0 -1.5,-1.5 -9,0.5 -1.5,-1.5 -8,0.5 6.5,20 9.5,22.5 12,22.5 12,18.5 15,17.5 7.5,6.5 4.5,3 8,4 13.5,5 8,1.5 7.5,0.5 4.5,1 15.5,0 8.5,-1.5 9.5,-3 6.5,-3 6,-4 8,-6.5 3,-3.5 5,-7.5 4,-8 4,-10 4,-13.5 2.5,-15.5 1.5,-1.5 5,2 2,3 1.5,6 0,3 -1,6 0,10.5 -1,6 1,6 -0.5,3 -1,6 -5,14 -2.5,13.5 -7.5,15 -2,6 -0.5,4.5 -0.5,0 0.5,-4.5 2,-6 7.5,-15 2.5,-13.5 1.5,-5.5 3,-8.5 1.5,-6 0,-3 -1,-6 0.5,-6 0,-10.5 1.5,-6 0.5,-3 -1.5,-6 -1.5,-1.5 -1.5,-0.5 -1,0.5 -1.5,1.5 -0.5,6 -1,3 -4,9 -5.5,16.5 -4.5,9 -3.5,6 -4,5 -8.5,7.5 -8,4.5 -6.5,3 -8.5,2.5 -9,1.5 -15.5,0.5 -12,-2 -9,-1.5 -15.5,-5.5 -10,-6 -9,-8 -14,-16.5 -12,-18 -12.5,-24 -4.5,-10.5 -11,-32z"/><path fill="#00ffff" d="M322,323.5l8,-0.5 1.5,1.5 9,-0.5 1.5,1.5 7.5,0 1.5,1.5 6.5,0 1.5,1.5 6,0 1.5,1.5 4.5,0 1.5,1.5 4.5,0 1.5,1.5 5,0 1.5,1.5 6,0 1.5,2 4.5,0 1.5,1.5 4.5,0 1.5,1.5 6.5,0 1.5,1.5 4.5,0 1.5,1.5 4.5,0 1.5,1.5 6,0 2,1.5 6,0 1.5,1.5 4.5,0 1.5,1.5 6,0 1.5,1.5 6.5,0 1.5,1.5 6,0 1.5,1.5 7.5,0 1.5,1.5 6.5,0 1.5,1.5 7.5,0 1.5,1.5 26,0 1.5,1.5 35,0 -35,0 -1.5,-1.5 -14,0.5 -12,-0.5 -1.5,-1.5 -7.5,0 -1.5,-1.5 -6.5,0 -1.5,-1.5 -7.5,0 -1.5,-1.5 -6,0 -1.5,-1.5 -6.5,0 -1.5,-1.5 -6,0 -1.5,-1.5 -4.5,0 -1.5,-1.5 -6,0 -2,-1.5 -6,0 -1.5,-1.5 -4.5,0 -1.5,-1.5 -4.5,0 -1.5,-1.5 -6.5,0 -1.5,-1.5 -4.5,0 -1.5,-1.5 -4.5,0 -1.5,-1.5 -6,0 -1.5,-1.5 -5,0 -1.5,-1.5 -4.5,0 -1.5,-1.5 -4.5,0 -1.5,-1.5 -6,0 -1.5,-2 -6.5,0.5 -1.5,-2 -7.5,0.5 -1.5,-1.5 -9,0 -1.5,-1.5 -7,0.5 6,18 9,23 13,24 12.5,18.5 15,16.5 9.5,7.5 7.5,4.5 6,3 9,3 7,1.5 13,1.5 6.5,0.5 7.5,-0.5 9,-1.5 14,-5 7.5,-4 4.5,-4 5,-4 4,-6 3.5,-5.5 4.5,-9 3,-8 3,-12 2,-12 1,-8.5 1.5,-1.5 1.5,1 7,7.5 2,6 0.5,3 -1,7.5 0,10.5 -0.5,7.5 0,6 -1,6 -3.5,11 -4.5,18 -7.5,16.5 -1.5,4.5 -0.5,4.5 -1,0 0.5,-4.5 2,-6 7.5,-15 2.5,-13.5 5,-14 1,-6 0.5,-3 -1,-6 1,-6 0,-10.5 1,-6 0,-3 -1.5,-6 -2,-3 -5,-2 -1.5,1.5 -2.5,15.5 -4,13.5 -4,10 -4,8 -5,7.5 -3,3.5 -8,6.5 -6,4 -6.5,3 -9.5,3 -8.5,1.5 -15.5,0 -4.5,-1 -7.5,-0.5 -8,-1.5 -13.5,-5 -8,-4 -4.5,-3 -7.5,-6.5 -15,-17.5 -12,-18.5 -12,-22.5 -9.5,-22.5z"/><path fill="#1cffe3" d="M323.5,323.5l6.5,-0.5 1.5,1.5 9,0 1.5,1.5 7.5,-0.5 1.5,2 6.5,-0.5 1.5,2 6,0 1.5,1.5 4.5,0 1.5,1.5 4.5,0 1.5,1.5 5,0 1.5,1.5 6,0 1.5,1.5 4.5,0 1.5,1.5 4.5,0 1.5,1.5 6.5,0 1.5,1.5 4.5,0 1.5,1.5 4.5,0 1.5,1.5 6,0 2,1.5 6,0 1.5,1.5 4.5,0 1.5,1.5 6,0 1.5,1.5 6.5,0 1.5,1.5 6,0 1.5,1.5 7.5,0 1.5,1.5 6.5,0 1.5,1.5 7.5,0 1.5,1.5 12,0.5 14,-0.5 1.5,1.5 35,0 -35,0 -1.5,-1.5 -14,0.5 -12,-0.5 -1.5,-1.5 -7.5,0 -1.5,-1.5 -6.5,0 -1.5,-1.5 -7.5,0 -1.5,-1.5 -6,0 -1.5,-1.5 -6.5,0 -1.5,-1.5 -6,0 -1.5,-1.5 -4.5,0 -1.5,-1.5 -6,0 -2,-1.5 -6,0 -1.5,-1.5 -4.5,0 -1.5,-1.5 -4.5,0 -1.5,-1.5 -6.5,0 -1.5,-1.5 -4.5,0 -1.5,-1.5 -4.5,0 -1.5,-1.5 -6,0 -1.5,-1.5 -5,0 -1.5,-1.5 -4.5,0 -1.5,-1.5 -4.5,0 -1.5,-1.5 -6,0 -1.5,-1.5 -6.5,0 -1.5,-1.5 -7.5,0 -1.5,-1.5 -9,0 -1.5,-1.5 -6,0.5 2,7.5 3,9 11,26 11.5,21 9,13.5 4.5,6 13.5,14.5 5,4.5 6,4 12,6.5 9.5,3.5 7.5,1.5 14,2 4.5,0 6,0 9,-1.5 9.5,-3 6,-2.5 6,-3.5 6,-4.5 4.5,-5 3.5,-4.5 7.5,-13.5 3,-7.5 3,-12 3.5,-21 1,-2 1.5,-0.5 2.5,1 5.5,6 1.5,2.5 2,6.5 0,21 -1,7.5 -0.5,6 -1.5,7.5 -7.5,27.5 -7,16.5 -1.5,4.5 -0.5,4.5 -1,0 0.5,-4.5 1.5,-4.5 8,-18 4,-16.5 3.5,-11 1,-6 0,-6 0.5,-7.5 0,-10.5 1,-7.5 -0.5,-3 -2,-6 -7,-7.5 -1.5,-1 -1.5,1.5 -1,8.5 -2,13.5 -3.5,12 -3,7.5 -4.5,9 -4,6 -3.5,4.5 -6,5.5 -7.5,5 -6,3 -10.5,3.5 -8,1.5 -13.5,0 -14,-1.5 -7.5,-1.5 -12.5,-4.5 -13.5,-8.5 -4.5,-3.5 -5,-4.5 -9,-10 -4.5,-5.5 -12,-18 -12,-22.5 -11.5,-30.5 -3.5,-10.5z"/><path fill="#39ffc6" d="M325,323.5l5,-0.5 1.5,1.5 9,0 1.5,1.5 7.5,0 1.5,1.5 6.5,0 1.5,1.5 6,0 1.5,1.5 4.5,0 1.5,1.5 4.5,0 1.5,1.5 5,0 1.5,1.5 6,0 1.5,1.5 4.5,0 1.5,1.5 4.5,0 1.5,1.5 6.5,0 1.5,1.5 4.5,0 1.5,1.5 4.5,0 1.5,1.5 6,0 2,1.5 6,0 1.5,1.5 4.5,0 1.5,1.5 6,0 1.5,1.5 6.5,0 1.5,1.5 6,0 1.5,1.5 7.5,0 1.5,1.5 6.5,0 1.5,1.5 7.5,0 1.5,1.5 12,0.5 14,-0.5 1.5,1.5 35,0 -35,0.5 -1.5,-1.5 -14,0 -12,-0.5 -1.5,-1.5 -7.5,0 -1.5,-1.5 -6.5,0 -1.5,-1.5 -7.5,0 -1.5,-1.5 -6,0 -1.5,-1.5 -6.5,0 -1.5,-1.5 -6,0 -1.5,-1.5 -4.5,0 -1.5,-1.5 -6,0 -2,-1.5 -6,0 -1.5,-1.5 -4.5,0 -1.5,-1.5 -4.5,0 -1.5,-1.5 -6.5,0 -1.5,-1.5 -4.5,0 -1.5,-1.5 -4.5,0 -1.5,-1.5 -6,0 -1.5,-1.5 -5,0 -1.5,-1.5 -4.5,0 -1.5,-1.5 -4.5,0 -1.5,-1.5 -6,0 -1.5,-1.5 -6.5,0 -1.5,-1.5 -7.5,0 -1.5,-1.5 -9,0 -1.5,-1 -5,0 1.5,7.5 3,7.5 10.5,26 12,21 13,19 13.5,14.5 5,4 6,4.5 7.5,4.5 6,3 8,2.5 7.5,1.5 12,2 6.5,0 6,0 7.5,-1.5 8,-2 7.5,-3 6,-3.5 6,-4.5 4.5,-4.5 5,-6 3.5,-6.5 4,-8 5,-16 4,-22.5 1.5,-2 1.5,0 1.5,0 2,1 6,7.5 2.5,7 0.5,6 -0.5,19.5 -1,10.5 -1,6 -6,21.5 -2.5,9 -6.5,15 -1.5,4.5 -0.5,4.5 -1,0 0.5,-4.5 1.5,-4.5 7,-16.5 7.5,-27.5 1.5,-7.5 0.5,-6 1,-7.5 0,-21 -2,-6.5 -1.5,-2.5 -5.5,-6 -2.5,-1 -1.5,0.5 -1,2 -3.5,21 -3,12 -3,7.5 -7.5,13.5 -3.5,4.5 -4.5,5 -6,4.5 -6,3.5 -6,2.5 -9.5,3 -9,1.5 -6,0 -4.5,0 -14,-2 -7.5,-1.5 -9.5,-3.5 -6,-3 -7.5,-4.5 -9.5,-7.5 -9,-9 -5.5,-7 -13,-18.5 -12,-22.5 -8,-19 -4.5,-12.5 -2.5,-9z"/><path fill="#55ffaa" d="M325,323.5l5,0 1.5,1 9,0 1.5,1.5 7.5,0 1.5,1.5 6.5,0 1.5,1.5 6,0 1.5,1.5 4.5,0 1.5,1.5 4.5,0 1.5,1.5 5,0 1.5,1.5 6,0 1.5,1.5 4.5,0 1.5,1.5 4.5,0 1.5,1.5 6.5,0 1.5,1.5 4.5,0 1.5,1.5 4.5,0 1.5,1.5 6,0 2,1.5 6,0 1.5,1.5 4.5,0 1.5,1.5 6,0 1.5,1.5 6.5,0 1.5,1.5 6,0 1.5,1.5 7.5,0 1.5,1.5 6.5,0 1.5,1.5 7.5,0 1.5,1.5 12,0.5 14,0 1.5,1.5 35,-0.5 -35,0.5 -1.5,-1.5 -14,0 -12,0 -1.5,-2 -7.5,0 -1.5,-1.5 -6.5,0 -1.5,-1.5 -7.5,0 -1.5,-1.5 -6,0 -1.5,-1.5 -6.5,0 -1.5,-1.5 -6,0 -1.5,-1.5 -4.5,0 -1.5,-1.5 -6,0 -2,-1.5 -6,0 -1.5,-1.5 -4.5,0 -1.5,-1.5 -4.5,0 -1.5,-1.5 -6.5,0 -1.5,-1.5 -4.5,0 -1.5,-1.5 -4.5,0 -1.5,-1.5 -6,0 -1.5,-1.5 -5,0 -1.5,-1.5 -4.5,0 -1.5,-1.5 -4.5,0 -1.5,-1.5 -6,0 -1.5,-1.5 -6.5,0 -1.5,-1.5 -7.5,0 -1.5,-1.5 -9,0 -1.5,-1 -4,0 2,10 12.5,29.5 6,12 6,10 12.5,17.5 6,7 7.5,7.5 5,4 6,4.5 7.5,4.5 6,3 8,2.5 7.5,2 17,1.5 7.5,0 7.5,-1.5 8,-2 6,-2.5 6,-3 6,-4.5 4.5,-4 5,-6 3.5,-6 4,-8 2.5,-7 2.5,-9 4.5,-22.5 1,-2 1.5,-1 3,0 2.5,1.5 5.5,6 2,4.5 1.5,4.5 0.5,9 0,16.5 -1.5,10.5 -1.5,7.5 -5.5,20 -3,9 -6,15 -1.5,4.5 -0.5,4.5 -1,0 1.5,-7.5 8,-19.5 6.5,-24.5 2,-9 1,-10.5 0.5,-19.5 -0.5,-6 -2.5,-7 -6,-7.5 -2,-1 -1.5,0 -1.5,0 -1.5,2 -4,22.5 -5,16 -4,8 -3.5,6.5 -5,6 -4.5,4.5 -6,4.5 -6,3.5 -7.5,3 -8,2 -7.5,1.5 -6,0 -6.5,0 -12,-2 -7.5,-1.5 -8,-2.5 -6,-3 -7.5,-4.5 -6,-4.5 -5,-4 -13.5,-14.5 -13,-19 -12,-21 -10.5,-26 -3,-7.5z"/><path fill="#71ff8e" d="M326.5,323.5l3.5,0 1.5,1 9,0 1.5,1.5 7.5,0 1.5,1.5 6.5,0 1.5,1.5 6,0 1.5,1.5 4.5,0 1.5,1.5 4.5,0 1.5,1.5 5,0 1.5,1.5 6,0 1.5,1.5 4.5,0 1.5,1.5 4.5,0 1.5,1.5 6.5,0 1.5,1.5 4.5,0 1.5,1.5 4.5,0 1.5,1.5 6,0 2,1.5 6,0 1.5,1.5 4.5,0 1.5,1.5 6,0 1.5,1.5 6.5,0 1.5,1.5 6,0 1.5,1.5 7.5,0 1.5,1.5 6.5,0 1.5,1.5 7.5,0 1.5,2 12,0 14,0 1.5,1.5 35,-0.5 -35,0.5 -1.5,-1.5 -14,0.5 -12,-0.5 -1.5,-1.5 -7.5,-0.5 -1.5,-1.5 -6.5,0 -1.5,-1.5 -7.5,0 -1.5,-1.5 -6,0 -1.5,-1.5 -6.5,0 -1.5,-1.5 -6,0 -1.5,-1.5 -4.5,0 -1.5,-1.5 -6,0 -2,-1.5 -6,0 -1.5,-1.5 -4.5,0 -1.5,-1.5 -4.5,0 -1.5,-1.5 -6.5,0 -1.5,-1.5 -4.5,0 -1.5,-1.5 -4.5,0 -1.5,-1.5 -6,0 -1.5,-1.5 -5,0 -1.5,-1.5 -4.5,0 -1.5,-1.5 -4.5,0 -1.5,-1.5 -6,0 -1.5,-1.5 -6.5,0 -1.5,-1.5 -7.5,0 -1.5,-1.5 -9,0.5 -1.5,-1.5 -3,0 1.5,9 4.5,11 8.5,19.5 11,20 8,11.5 6,8 6,6.5 8,7.5 10.5,8 7.5,4.5 6,2.5 6.5,2 7.5,2 7.5,1 9.5,1 6,-0.5 7.5,-1 7.5,-2 6.5,-2 6,-3 6,-4 4.5,-4.5 5,-5.5 3.5,-5.5 4,-8 4.5,-13 5,-22.5 1.5,-4.5 1.5,-1.5 2.5,-1 3,1 2.5,1.5 2.5,3 3,4 3,8 1,9 -0.5,16.5 -2,12 -5,20 -4.5,15 -6.5,15 -1,4.5 -0.5,4.5 -1,0 1.5,-7.5 7,-18 6,-19.5 3,-14 2,-12 0,-16.5 -0.5,-9 -1.5,-4.5 -2,-4.5 -5.5,-6 -2.5,-1.5 -3,0 -1.5,1 -1,2 -4.5,22.5 -2.5,9 -2.5,7 -4,8 -3.5,6 -5,6 -4.5,4 -6,4.5 -6,3 -6,2.5 -8,2 -7.5,1.5 -7.5,0 -17,-1.5 -7.5,-2 -8,-2.5 -6,-3 -7.5,-4.5 -6,-4.5 -5,-4 -7.5,-7.5 -6,-7 -12.5,-17.5 -6,-10 -6,-12 -9,-21 -3.5,-9.5 -2,-9z"/><path fill="#8eff71" d="M328,323.5l2,0 1.5,1.5 9,-0.5 1.5,1.5 7.5,0 1.5,1.5 6.5,0 1.5,1.5 6,0 1.5,1.5 4.5,0 1.5,1.5 4.5,0 1.5,1.5 5,0 1.5,1.5 6,0 1.5,1.5 4.5,0 1.5,1.5 4.5,0 1.5,1.5 6.5,0 1.5,1.5 4.5,0 1.5,1.5 4.5,0 1.5,1.5 6,0 2,1.5 6,0 1.5,1.5 4.5,0 1.5,1.5 6,0 1.5,1.5 6.5,0 1.5,1.5 6,0 1.5,1.5 7.5,0 1.5,1.5 6.5,0 1.5,1.5 7.5,0.5 1.5,1.5 12,0.5 14,-0.5 1.5,1.5 35,-0.5 -35,0.5 -1.5,-1.5 -13,0.5 4,1 3,3 3,4 2.5,5.5 1.5,4.5 0.5,6 0,16.5 -2,15 -3,14 -5,16.5 -8,19.5 -1,4.5 -0.5,4.5 -1,0 0.5,-4.5 1,-4.5 8,-19.5 5,-16.5 3,-14 2,-12 0.5,-16.5 -1,-9 -3,-8 -3,-4 -2.5,-3 -2.5,-1.5 -3,-1 -2.5,1 -1.5,1.5 -1.5,4.5 -5,22.5 -4.5,13 -4,8 -3.5,5.5 -5,5.5 -4.5,4.5 -6,4 -6,3 -6.5,2 -7.5,2 -7.5,1 -6,0.5 -9.5,-1 -7.5,-1 -7.5,-2 -8,-2.5 -7.5,-4 -6,-3.5 -6,-4.5 -6.5,-5.5 -7.5,-7.5 -4.5,-5.5 -5.5,-7.5 -8.5,-12.5 -10.5,-19 -9,-21.5 -3.5,-8.5 -1,-8zM327.5,323.5l1,6 1,3 3.5,9.5 9,20.5 10.5,18.5 8.5,12 5.5,7.5 12,12.5 6.5,5.5 6,4 6,3.5 7.5,3.5 8,2.5 7.5,2 9,1 8,0.5 7.5,-0.5 6,-1 8,-2 6,-2.5 6,-3.5 6,-4.5 4.5,-4.5 3,-4.5 6,-10.5 3.5,-7.5 2,-7.5 6,-24 2,-3 3,-1.5 -11.5,-0.5 -1.5,-1.5 -7.5,-0.5 -1.5,-1.5 -6.5,0 -1.5,-1.5 -7.5,0 -1.5,-1.5 -6,0 -1.5,-1.5 -6.5,0 -1.5,-1.5 -6,0 -1.5,-1.5 -4.5,0 -1.5,-1.5 -6,0 -2,-1.5 -6,0 -1.5,-1.5 -4.5,0 -1.5,-1.5 -4.5,0 -1.5,-1.5 -6.5,0 -1.5,-1.5 -4.5,0 -1.5,-1.5 -4.5,0 -1.5,-1.5 -6,0 -1.5,-1.5 -5,0 -1.5,-1.5 -4.5,0 -1.5,-1.5 -4.5,0 -1.5,-1.5 -6,0 -1.5,-1.5 -6.5,0 -1.5,-1.5 -7.5,0 -1.5,-1.5 -9,0.5 -1.5,-1.5z"/><path fill="#aaff55" d="M328,323.5l2,0 1.5,1.5 9,-0.5 1.5,1.5 7.5,0 1.5,1.5 6.5,0 1.5,1.5 6,0 1.5,1.5 4.5,0 1.5,1.5 4.5,0 1.5,1.5 5,0 1.5,1.5 6,0 1.5,1.5 4.5,0 1.5,1.5 4.5,0 1.5,1.5 6.5,0 1.5,1.5 4.5,0 1.5,1.5 4.5,0 1.5,1.5 6,0 2,1.5 6,0 1.5,1.5 4.5,0 1.5,1.5 6,0 1.5,1.5 6.5,0 1.5,1.5 6,0 1.5,1.5 7.5,0 1.5,1.5 6.5,0 1.5,1.5 7.5,0.5 1.5,1.5 11.5,0.5 -3,1.5 -2,3 -6,24 -2,7.5 -3.5,7.5 -3,6 -4,6 -6.5,7.5 -6,4.5 -6,3.5 -6,2.5 -8,2 -7.5,1 -7.5,0.5 -9.5,-0.5 -7.5,-1.5 -14,-4 -7.5,-3.5 -6,-3.5 -6,-4 -6.5,-5.5 -12,-12.5 -5.5,-7.5 -8.5,-12 -7,-12 -4,-7.5 -8.5,-19.5 -3.5,-9.5 -1.5,-4.5 -0.5,-4.5zM328.5,323.5l0.5,4.5 1,4 3,8 9.5,21.5 10,18 9.5,13 6,8 12.5,12 6,5 6,4 6,3.5 8,3.5 13.5,3.5 9,1.5 8,0 7.5,-0.5 6,-1 8,-2 6,-2.5 6,-3.5 5,-4 4,-4 3,-3.5 4,-6 3,-6 5,-13.5 5.5,-22.5 1,-3 3,-3 -9,-0.5 -1.5,-1.5 -7.5,-0.5 -1.5,-1.5 -6.5,0 -1.5,-1.5 -7.5,0 -1.5,-1.5 -6,0 -1.5,-1.5 -6.5,0 -1.5,-1.5 -6,0 -1.5,-1.5 -4.5,0 -1.5,-1.5 -6,0 -2,-1.5 -6,0 -1.5,-1.5 -4.5,0 -1.5,-1.5 -4.5,0 -1.5,-1.5 -6.5,0 -1.5,-1.5 -4.5,0 -1.5,-1.5 -4.5,0 -1.5,-1.5 -6,0 -1.5,-1.5 -5,0 -1.5,-1.5 -4.5,0 -1.5,-1.5 -4.5,0 -1.5,-1.5 -6,0 -1.5,-1.5 -6.5,0 -1.5,-1.5 -7.5,0 -1.5,-1.5 -9,0.5 -1.5,-1.5zM508.5,358.5l12.5,-0.5 1.5,1.5 35,-0.5 -35,0.5 -1.5,-1.5 -9.5,0.5 3.5,2.5 3,3.5 2.5,4.5 2,6 1,4.5 0.5,6 -0.5,16.5 -2,12 -3.5,15.5 -5,15 -7.5,19.5 -1.5,4.5 -0.5,4.5 -0.5,0 0.5,-4.5 1,-4.5 8,-19.5 6,-21.5 2.5,-10.5 1.5,-13.5 0,-16.5 -0.5,-4.5 -1,-4.5 -1.5,-4.5 -3,-4.5 -4.5,-4.5 -4,-1.5z"/><path fill="#c6ff39" d="M330,323.5l1.5,1.5 9,-0.5 1.5,1.5 7.5,0 1.5,1.5 6.5,0 1.5,1.5 6,0 1.5,1.5 4.5,0 1.5,1.5 4.5,0 1.5,1.5 5,0 1.5,1.5 6,0 1.5,1.5 4.5,0 1.5,1.5 4.5,0 1.5,1.5 6.5,0 1.5,1.5 4.5,0 1.5,1.5 4.5,0 1.5,1.5 6,0 2,1.5 6,0 1.5,1.5 4.5,0 1.5,1.5 6,0 1.5,1.5 6.5,0 1.5,1.5 6,0 1.5,1.5 7.5,0 1.5,1.5 6.5,0 1.5,1.5 7.5,0.5 1.5,1.5 9,0.5 -3,3 -1,3 -5.5,22.5 -5,13.5 -3,6 -4,6 -3.5,4.5 -4,3.5 -6,4.5 -6,3 -6.5,2.5 -7.5,2 -6,1 -7.5,0 -9.5,-0.5 -7.5,-1 -7.5,-2 -8,-3 -12,-6 -6,-4.5 -6.5,-5 -7.5,-8 -4.5,-5 -4.5,-6 -9.5,-13 -6,-10.5 -4.5,-9 -9,-20 -3.5,-9 -1,-7.5zM329.5,323.5l0.5,5.5 1,3.5 11,26 5,9 10.5,16.5 6,8.5 6,7.5 12.5,12 10.5,8 12,6 8,2.5 7.5,2 7.5,1 8,0.5 7.5,-0.5 7.5,-1 8,-2 6,-3 6,-3.5 4.5,-3.5 7,-7.5 3.5,-6 3,-6 5,-12.5 5.5,-22 1.5,-3 2,-3 -7.5,-0.5 -1.5,-1.5 -7.5,-0.5 -1.5,-1.5 -6.5,0 -1.5,-1.5 -7.5,0 -1.5,-1.5 -6,0 -1.5,-1.5 -6.5,0 -1.5,-1.5 -6,0 -1.5,-1.5 -4.5,0 -1.5,-1.5 -6,0 -2,-1.5 -6,0 -1.5,-1.5 -4.5,0 -1.5,-1.5 -4.5,0 -1.5,-1.5 -6.5,0 -1.5,-1.5 -4.5,0 -1.5,-1.5 -4.5,0 -1.5,-1.5 -6,0 -1.5,-1.5 -5,0 -1.5,-1.5 -4.5,0 -1.5,-1.5 -4.5,0 -1.5,-1.5 -6,0 -1.5,-1.5 -6.5,0 -1.5,-1.5 -7.5,0 -1.5,-1.5 -9,0.5zM512,358.5l9,-0.5 1.5,1.5 35,-0.5 -35,0.5 -1.5,-1.5 -7.5,0.5 3,2.5 3,4 2.5,5.5 2,6 1,4.5 0,6 -1,16.5 -1.5,12 -3.5,14 -5,15 -8.5,21 -1,7.5 -1,0 1.5,-7.5 8,-21 6,-20 2.5,-10.5 2,-12 0.5,-16.5 -0.5,-6 -1,-4.5 -2,-6 -2.5,-4.5 -3,-3.5 -3.5,-2.5z"/><path fill="#e3ff1c" d="M330,323.5l1.5,1.5 9,-0.5 1.5,1.5 7.5,0 1.5,1.5 6.5,0 1.5,1.5 6,0 1.5,1.5 4.5,0 1.5,1.5 4.5,0 1.5,1.5 5,0 1.5,1.5 6,0 1.5,1.5 4.5,0 1.5,1.5 4.5,0 1.5,1.5 6.5,0 1.5,1.5 4.5,0 1.5,1.5 4.5,0 1.5,1.5 6,0 2,1.5 6,0 1.5,1.5 4.5,0 1.5,1.5 6,0 1.5,1.5 6.5,0 1.5,1.5 6,0 1.5,1.5 7.5,0 1.5,1.5 6.5,0 1.5,1.5 7.5,0.5 1.5,1.5 7.5,0.5 -2,3 -1.5,3 -5.5,22 -5,12.5 -3,6 -3.5,6 -7,7.5 -4.5,3.5 -6,3.5 -6,3 -8,2 -7.5,1 -7.5,0.5 -8,-0.5 -7.5,-1 -7.5,-2 -8,-2.5 -12,-6 -10.5,-8 -12.5,-12 -6,-7.5 -6,-8.5 -10.5,-16.5 -9.5,-19.5 -7,-17 -1,-3zM330.5,325l0,3 1,3.5 7.5,18 9,18 5.5,9 5.5,7.5 5.5,7.5 7.5,9 11.5,11 10.5,7.5 12.5,5.5 7.5,2.5 7.5,2 7.5,1 8,0 6,0 7.5,-1.5 8,-2 6,-2.5 6,-3.5 4,-3.5 3.5,-3.5 3.5,-4 3.5,-6 3,-6 4.5,-12 5.5,-21 1,-3 2.5,-3 -6.5,-0.5 -1.5,-1.5 -7.5,0 -1.5,-1.5 -6.5,0 -1.5,-2 -7.5,0 -1.5,-1.5 -6,0 -1.5,-1.5 -6.5,0 -1.5,-1.5 -6,0 -1.5,-1.5 -4.5,0 -1.5,-1.5 -6,0 -2,-1.5 -6,0 -1.5,-1.5 -4.5,0 -1.5,-1.5 -4.5,0 -1.5,-1.5 -6.5,0 -1.5,-1.5 -4.5,0 -1.5,-1.5 -4.5,0 -1.5,-1.5 -6,0 -1.5,-1.5 -5,0 -1.5,-1.5 -4.5,0 -1.5,-1.5 -4.5,0 -1.5,-1.5 -6,0 -1.5,-1.5 -6.5,0 -1.5,-1.5 -7.5,0 -1.5,-1.5zM515,358.5l6,-0.5 1.5,1.5 35,0 -35,0 -1.5,-1.5 -5.5,0.5 3,3 2.5,4.5 2.5,6 2,6 0.5,10.5 -1,18 -2,10.5 -4.5,17 -4,12 -7.5,18 -1.5,4.5 0,4.5 -1,0 1,-7.5 8.5,-21 6,-20 3,-10.5 1,-10.5 1,-15 -0.5,-10.5 -2,-6 -2.5,-6 -3,-4.5 -3.5,-3z"/><path fill="#ffff00" d="M331.5,325l9,-0.5 1.5,1.5 7.5,0 1.5,1.5 6.5,0 1.5,1.5 6,0 1.5,1.5 4.5,0 1.5,1.5 4.5,0 1.5,1.5 5,0 1.5,1.5 6,0 1.5,1.5 4.5,0 1.5,1.5 4.5,0 1.5,1.5 6.5,0 1.5,1.5 4.5,0 1.5,1.5 4.5,0 1.5,1.5 6,0 2,1.5 6,0 1.5,1.5 4.5,0 1.5,1.5 6,0 1.5,1.5 6.5,0 1.5,1.5 6,0 1.5,1.5 7.5,0 1.5,2 6.5,0 1.5,1.5 7.5,0 1.5,1.5 6.5,0.5 -2.5,3 -1,3 -5.5,21 -4.5,12 -3,6 -3.5,6 -3.5,4 -3.5,3.5 -4,3.5 -6,3.5 -6,2.5 -8,2 -7.5,1.5 -6,0 -9.5,0 -7.5,-1.5 -7.5,-2 -8,-2.5 -11,-5.5 -10.5,-7.5 -12,-11.5 -6.5,-8 -5.5,-7.5 -5.5,-7.5 -5.5,-9 -9,-18 -7.5,-18 -1,-3.5 0,-3zM331,325l0,3 1,3 8,18.5 9,18 6,9 4,6 6,8 7.5,9 11,10 10.5,8 12.5,5.5 7.5,2.5 7.5,1.5 6,1 9.5,0.5 6,0 7.5,-1.5 6,-1.5 6.5,-2.5 6,-3.5 4.5,-3 4,-4 3,-4.5 7,-12 4,-10.5 5.5,-21 3,-6 -5,-0.5 -1.5,-1.5 -7.5,0 -1.5,-1.5 -6.5,0 -1.5,-1.5 -7.5,0 -1.5,-1.5 -6,0 -1.5,-1.5 -6.5,0 -1.5,-1.5 -6,-0.5 -1.5,-1.5 -4.5,0 -1.5,-1.5 -6,0 -2,-1.5 -6,0 -1.5,-1.5 -4.5,0 -1.5,-1.5 -4.5,0 -1.5,-1.5 -6.5,0 -1.5,-1.5 -4.5,0 -1.5,-1.5 -4.5,0 -1.5,-1.5 -6,0 -1.5,-1.5 -5,0 -1.5,-1.5 -4.5,0 -1.5,-1.5 -4.5,0 -1.5,-1.5 -6,0 -1.5,-1.5 -6.5,0 -1.5,-1.5 -7.5,0 -1.5,-1.5zM516.5,358.5l4.5,-0.5 1.5,1.5 35,0 -35,0 -1.5,-1.5 -3.5,0.5 2.5,3 3,6 2.5,6 1.5,6 0.5,10.5 -1.5,18 -2,10.5 -5.5,18.5 -3,9 -8.5,19 -0.5,3.5 0,4.5 -1,0 0,-4.5 1,-3 8.5,-21 5.5,-18.5 3,-10.5 1.5,-9 1,-16.5 -0.5,-10.5 -1,-4.5 -2,-6 -3,-6 -4,-4.5z"/><path fill="#ffe300" d="M331.5,325l9,-0.5 1.5,1.5 7.5,0 1.5,1.5 6.5,0 1.5,1.5 6,0 1.5,1.5 4.5,0 1.5,1.5 4.5,0 1.5,1.5 5,0 1.5,1.5 6,0 1.5,1.5 4.5,0 1.5,1.5 4.5,0 1.5,1.5 6.5,0 1.5,1.5 4.5,0 1.5,1.5 4.5,0 1.5,1.5 6,0 2,1.5 6,0 1.5,1.5 4.5,0 1.5,1.5 6,0.5 1.5,1.5 6.5,0 1.5,1.5 6,0 1.5,1.5 7.5,0 1.5,1.5 6.5,0 1.5,1.5 7.5,0 1.5,1.5 5,0.5 -3,6 -5.5,21 -4,10.5 -7,12 -3,4.5 -4,4 -4.5,3 -6,3.5 -6.5,2.5 -6,1.5 -7.5,1.5 -6,0 -9.5,-0.5 -6,-1 -7.5,-1.5 -7.5,-2.5 -12.5,-5.5 -10.5,-8 -11,-10 -7.5,-9 -6,-8 -4,-6 -6,-9 -9,-18 -8,-18.5 -1,-3zM332,325l0,3 1,3 8,18.5 9.5,18 4.5,7.5 5.5,7.5 5.5,7.5 6.5,7.5 4.5,4.5 6.5,5.5 10.5,8 10.5,5 11,3.5 7.5,2 6,0.5 11,0.5 4.5,-0.5 7.5,-1.5 6.5,-1.5 6,-3 6,-3.5 3,-2.5 3.5,-3.5 4,-6 6.5,-12 3,-9 5.5,-19.5 3,-6 -4,-0.5 -1.5,-1.5 -7.5,0 -1.5,-1.5 -6.5,0 -1.5,-1.5 -7.5,0 -1.5,-1.5 -6,0 -1.5,-1.5 -6.5,0 -1.5,-1.5 -6,0 -1.5,-1.5 -4.5,0 -1.5,-1.5 -6,0 -2,-1.5 -6,0 -1.5,-1.5 -4.5,0 -1.5,-2 -4.5,0 -1.5,-1.5 -6.5,0 -1.5,-1.5 -4.5,0 -1.5,-1.5 -4.5,0 -1.5,-1.5 -6,0 -1.5,-1.5 -5,0 -1.5,-1.5 -4.5,0 -1.5,-1.5 -4.5,0 -1.5,-1.5 -6,0 -1.5,-1.5 -6.5,0 -1.5,-1.5 -7.5,0 -1.5,-1.5zM518,358.5l3,-0.5 1.5,1.5 35,0 -35,0.5 -1.5,-1.5 -2,0 3,4.5 3,6 3,10.5 0.5,10.5 -1.5,19.5 -2,9 -6.5,21.5 -3,7.5 -7.5,18 -1,3 0,4.5 -0.5,0 0,-4.5 0.5,-3 10,-24 6.5,-21.5 2.5,-12 1.5,-18 -0.5,-10.5 -3.5,-10.5 -3,-6 -3,-4.5z"/><path fill="#ffc600" d="M333,325l7.5,-0.5 1.5,1.5 7.5,0 1.5,1.5 6.5,0 1.5,1.5 6,0 1.5,1.5 4.5,0 1.5,1.5 4.5,0 1.5,1.5 5,0 1.5,1.5 6,0 1.5,1.5 4.5,0 1.5,1.5 4.5,0 1.5,1.5 6.5,0 1.5,1.5 4.5,0 1.5,2 4.5,0 1.5,1.5 6,0 2,1.5 6,0 1.5,1.5 4.5,0 1.5,1.5 6,0 1.5,1.5 6.5,0 1.5,1.5 6,0 1.5,1.5 7.5,0 1.5,1.5 6.5,0 1.5,1.5 7.5,0 1.5,1.5 4,0.5 -3,6 -5.5,19.5 -3,9 -6.5,12 -4,6 -3.5,3.5 -3,2.5 -6,3.5 -6,3 -6.5,1.5 -7.5,1.5 -4.5,0.5 -11,-0.5 -6,-0.5 -7.5,-2 -11,-3.5 -10.5,-5 -6.5,-4.5 -9,-7.5 -10.5,-11.5 -12,-15.5 -6.5,-10.5 -8.5,-16.5 -8,-18.5 -1,-4.5 0,-1.5zM332.5,325l0,3 1,3 17,35 5.5,9 5.5,7.5 8,10 11,10.5 10.5,8.5 4.5,3 11,5 10.5,3 7.5,2 6,0.5 11,0 10.5,-1.5 9.5,-3.5 6,-2.5 4.5,-3.5 4.5,-4.5 3,-4.5 6.5,-11.5 4,-12.5 4.5,-16.5 3,-6 -2.5,-0.5 -1.5,-1.5 -7.5,0 -1.5,-1.5 -6.5,0 -1.5,-1.5 -7.5,0 -1.5,-1.5 -6,0 -1.5,-1.5 -6.5,0 -1.5,-1.5 -6,0 -1.5,-1.5 -4.5,0 -1.5,-1.5 -6,0 -2,-1.5 -6,0 -1.5,-1.5 -4.5,0 -1.5,-1.5 -4.5,0 -1.5,-1.5 -6.5,0 -1.5,-1.5 -4.5,0 -1.5,-1.5 -4.5,0 -1.5,-1.5 -6,0 -1.5,-2 -5,0 -1.5,-1.5 -4.5,0 -1.5,-1.5 -4.5,0 -1.5,-1.5 -6,0 -1.5,-1.5 -6.5,0 -1.5,-1.5 -7.5,0 -1.5,-1zM519.5,358.5l1.5,0 1.5,1.5 35,-0.5 -35.5,0.5 4.5,10.5 3,10.5 0,9 -1,7.5 -0.5,12 -2,9 -7,23 -10.5,24 -0.5,3 0,4.5 -1,0 0,-4.5 1,-3 9.5,-22.5 6.5,-21.5 3,-12 1.5,-19.5 -0.5,-9 -2.5,-10.5 -3,-6.5z"/><path fill="#ffaa00" d="M333,325l7.5,0 1.5,1 7.5,0 1.5,1.5 6.5,0 1.5,1.5 6,0 1.5,1.5 4.5,0 1.5,1.5 4.5,0 1.5,1.5 5,0 1.5,2 6,0 1.5,1.5 4.5,0 1.5,1.5 4.5,0 1.5,1.5 6.5,0 1.5,1.5 4.5,0 1.5,1.5 4.5,0 1.5,1.5 6,0 2,1.5 6,0 1.5,1.5 4.5,0 1.5,1.5 6,0 1.5,1.5 6.5,0 1.5,1.5 6,0 1.5,1.5 7.5,0 1.5,1.5 6.5,0 1.5,1.5 7.5,0 1.5,1.5 2.5,0.5 -3,6 -4.5,16.5 -4,12.5 -6.5,11.5 -3,4.5 -4.5,4.5 -4.5,3.5 -6,2.5 -9.5,3.5 -10.5,1.5 -11,0 -6,-0.5 -7.5,-2 -10.5,-3 -11,-5 -4.5,-3 -10.5,-8.5 -11,-10.5 -8,-10 -5.5,-7.5 -5.5,-9 -17,-35 -1,-3zM333.5,325l0,3 1,3 3.5,6 4,9.5 9,18.5 6.5,10 9,12.5 12,12.5 14,10.5 12,6 14,4.5 10.5,2 14,0 9,-1.5 5,-1.5 7,-3 6.5,-3.5 4.5,-4.5 3,-4 6.5,-11.5 4.5,-12.5 4.5,-16.5 3,-6 -1.5,0 -1.5,-2 -7.5,0 -1.5,-1.5 -6.5,0 -1.5,-1.5 -7.5,0 -1.5,-1.5 -6,0 -1.5,-1.5 -6.5,0 -1.5,-1.5 -6,0 -1.5,-1.5 -4.5,0 -1.5,-1.5 -6,0 -2,-1.5 -6,0 -1.5,-1.5 -4.5,0 -1.5,-1.5 -4.5,0 -1.5,-1.5 -6.5,0 -1.5,-1.5 -4.5,0 -1.5,-1.5 -4.5,0 -1.5,-1.5 -6,0 -1.5,-1.5 -5,0 -1.5,-1.5 -4.5,0 -1.5,-1.5 -4.5,0 -1.5,-1.5 -6,0 -1.5,-1.5 -6.5,0 -1.5,-1.5 -7.5,0 -1.5,-1.5zM522.5,360l35,-0.5 -34,0.5 5,12 2,7.5 0.5,10.5 -1.5,7.5 -0.5,13.5 -3,12 -6,18.5 -10.5,24 -0.5,3 0,4.5 -1,0 0,-4.5 0.5,-3 10.5,-24 7,-23 2,-9 0.5,-12 1,-7.5 0,-9 -3,-10.5 -4.5,-10.5z"/><path fill="#ff8e00" d="M334.5,325l6,0 1.5,1.5 7.5,0 1.5,1.5 6.5,0 1.5,1.5 6,0 1.5,1.5 4.5,0 1.5,1.5 4.5,0 1.5,1.5 5,0 1.5,1.5 6,0 1.5,1.5 4.5,0 1.5,1.5 4.5,0 1.5,1.5 6.5,0 1.5,1.5 4.5,0 1.5,1.5 4.5,0 1.5,1.5 6,0 2,1.5 6,0 1.5,1.5 4.5,0 1.5,1.5 6,0 1.5,1.5 6.5,0 1.5,1.5 6,0 1.5,1.5 7.5,0 1.5,1.5 6.5,0 1.5,1.5 7.5,0 1.5,2 1.5,0 -3,6 -4.5,16.5 -4.5,12.5 -6.5,11.5 -3,4 -4.5,4.5 -6.5,3.5 -7,3 -5,1.5 -9,1.5 -14,0 -10.5,-2 -14,-4.5 -12,-6 -14,-10.5 -12,-12.5 -9,-12.5 -6.5,-10.5 -9,-18 -4,-9.5 -4,-7.5 -0.5,-4.5zM334.5,325l-0.5,3 0.5,1.5 3.5,6 5.5,12 9,18 6.5,10 6,8.5 3,3.5 12.5,12.5 12,8.5 12,6 15.5,4.5 7.5,1.5 8,0.5 6,0 7.5,-1 11,-3 6,-3 4,-3 3.5,-3 3,-4 6,-11 5,-12 3.5,-13.5 4,-9 -1.5,-2 -7.5,0 -1.5,-1.5 -6.5,0 -1.5,-1.5 -7.5,0 -1.5,-1.5 -6,0 -1.5,-1.5 -6.5,0 -1.5,-1.5 -6,0 -1.5,-1.5 -4.5,0 -1.5,-1.5 -6,0 -2,-1.5 -6,0 -1.5,-1.5 -4.5,0 -1.5,-1.5 -4.5,0 -1.5,-1.5 -6.5,0 -1.5,-1.5 -4.5,0 -1.5,-1.5 -4.5,0 -1.5,-1.5 -6,0 -1.5,-1.5 -5,0 -1.5,-1.5 -4.5,0 -1.5,-1.5 -4.5,0 -1.5,-1.5 -6,0 -1.5,-1.5 -6.5,0 -1.5,-1.5 -7.5,0 -1.5,-1.5zM524,360l33.5,-0.5 -32.5,0.5 5,13.5 1.5,6 0.5,12 -1.5,7.5 0,12 -3.5,12 -6,18.5 -10.5,24 -0.5,3 0,4.5 -1,0 0,-6 11,-25.5 6,-18.5 3,-12 0.5,-13.5 1.5,-6 -0.5,-10.5 -0.5,-3 -1.5,-6 -5,-12z"/><path fill="#ff7100" d="M334.5,325l6,0 1.5,1.5 7.5,0 1.5,1.5 6.5,0 1.5,1.5 6,0 1.5,1.5 4.5,0 1.5,1.5 4.5,0 1.5,1.5 5,0 1.5,1.5 6,0 1.5,1.5 4.5,0 1.5,1.5 4.5,0 1.5,1.5 6.5,0 1.5,1.5 4.5,0 1.5,1.5 4.5,0 1.5,1.5 6,0 2,1.5 6,0 1.5,1.5 4.5,0 1.5,1.5 6,0 1.5,1.5 6.5,0 1.5,1.5 6,0 1.5,1.5 7.5,0 1.5,1.5 6.5,0 1.5,1.5 7.5,0 1.5,2 -4,9 -3.5,13.5 -5,12 -6,11 -3,4 -3.5,3 -4,3 -6,3 -11,3 -7.5,1 -6,0 -8,-0.5 -7.5,-1.5 -15.5,-4.5 -12,-6 -12,-8.5 -12.5,-12.5 -3,-3.5 -6,-8.5 -6.5,-10 -9,-18 -5.5,-12 -3.5,-6 -0.5,-3zM335,325l-0.5,3 0.5,1.5 4.5,6 15,30.5 10.5,16 4.5,5.5 12,11.5 11,7.5 14,6.5 16.5,4 6,1 9.5,0 12,-1 6,-1.5 5,-1.5 4.5,-2.5 3,-2.5 6,-6 6,-10 5,-12.5 3.5,-13 4.5,-9 -0.5,-1.5 -7.5,-0.5 -1.5,-1.5 -6.5,0 -1.5,-1.5 -7.5,0 -1.5,-1.5 -6,0 -1.5,-1.5 -6.5,0 -1.5,-1.5 -6,0 -1.5,-1.5 -4.5,0 -1.5,-1.5 -6,0 -2,-1.5 -6,0 -1.5,-1.5 -4.5,0 -1.5,-1.5 -4.5,0 -1.5,-1.5 -6.5,0 -1.5,-1.5 -4.5,0 -1.5,-1.5 -4.5,0 -1.5,-1.5 -6,0 -1.5,-1.5 -5,0 -1.5,-1.5 -4.5,0 -1.5,-1.5 -4.5,0 -1.5,-1.5 -6,0 -1.5,-1.5 -6.5,0 -1.5,-1.5 -7.5,0 -1.5,-1.5zM525.5,360l32,-0.5 -31,0.5 5,14.5 1.5,5 0,12 -1,7.5 -1,13.5 -3,12 -6.5,18.5 -10,22.5 -0.5,3 0,4.5 -1,0 0,-6 10.5,-24 6.5,-20 3.5,-12 0,-12 1.5,-7.5 -0.5,-12 -1.5,-6 -5,-13.5z"/><path fill="#ff5500" d="M336,325l4.5,0 1.5,1.5 7.5,0 1.5,1.5 6.5,0 1.5,1.5 6,0 1.5,1.5 4.5,0 1.5,1.5 4.5,0 1.5,1.5 5,0 1.5,1.5 6,0 1.5,1.5 4.5,0 1.5,1.5 4.5,0 1.5,1.5 6.5,0 1.5,1.5 4.5,0 1.5,1.5 4.5,0 1.5,1.5 6,0 2,1.5 6,0 1.5,1.5 4.5,0 1.5,1.5 6,0 1.5,1.5 6.5,0 1.5,1.5 6,0 1.5,1.5 7.5,0 1.5,1.5 6.5,0 1.5,1.5 7.5,0.5 0.5,1.5 -4.5,9 -3.5,13 -5,12.5 -6,10 -6,6 -3,2.5 -4.5,2.5 -5,1.5 -6,1.5 -12,1 -9.5,0 -6,-1 -16.5,-4 -14,-6.5 -11,-7.5 -13.5,-13 -6,-8 -7.5,-12 -15,-30.5 -4.5,-6 -0.5,-3 0.5,-1.5zM336,325l-0.5,3 0.5,1.5 4.5,6 16,32 10,14.5 9,9.5 9,7.5 11,6.5 14,5.5 15,4 15.5,0.5 12,-1.5 9.5,-2.5 3,-2 4,-3 5,-5 5.5,-8.5 4,-10.5 4.5,-15 4.5,-6 1.5,-4.5 -7.5,-0.5 -1.5,-1.5 -6.5,0 -1.5,-1.5 -7.5,0 -1.5,-1.5 -6,0 -1.5,-1.5 -6.5,0 -1.5,-1.5 -6,0 -1.5,-1.5 -4.5,0 -1.5,-1.5 -6,0 -2,-1.5 -6,0 -1.5,-1.5 -4.5,0 -1.5,-1.5 -4.5,0 -1.5,-1.5 -6.5,0 -1.5,-1.5 -4.5,0 -1.5,-1.5 -4.5,0 -1.5,-1.5 -6,0 -1.5,-1.5 -5,0 -1.5,-1.5 -4.5,0 -1.5,-1.5 -4.5,0 -1.5,-1.5 -6,0 -1.5,-1.5 -6.5,0 -1.5,-1.5 -7.5,0 -1.5,-1.5zM527,360l30.5,-0.5 -29.5,0.5 1.5,6 4,10.5 0.5,4.5 0,10.5 -1,7.5 -1,13.5 -3,12 -6.5,18.5 -10,22.5 -0.5,3 0,4.5 -1,0 0,-6 10.5,-24 6.5,-18.5 3.5,-13.5 0.5,-12 1,-7.5 0,-10.5 -1,-6 -5.5,-15z"/><path fill="#ff3900" d="M336,325l4.5,0 1.5,1.5 7.5,0 1.5,1.5 6.5,0 1.5,1.5 6,0 1.5,1.5 4.5,0 1.5,1.5 4.5,0 1.5,1.5 5,0 1.5,1.5 6,0 1.5,1.5 4.5,0 1.5,1.5 4.5,0 1.5,1.5 6.5,0 1.5,1.5 4.5,0 1.5,1.5 4.5,0 1.5,1.5 6,0 2,1.5 6,0 1.5,1.5 4.5,0 1.5,1.5 6,0 1.5,1.5 6.5,0 1.5,1.5 6,0 1.5,1.5 7.5,0 1.5,1.5 6.5,0 1.5,1.5 7.5,0.5 -1.5,4.5 -4.5,6 -4.5,15 -4,10.5 -5.5,8.5 -5,5 -4,3 -3,2 -9.5,2.5 -12,1.5 -15.5,-0.5 -15,-4 -14,-5.5 -11,-6.5 -9,-7.5 -9,-9.5 -10,-14.5 -16,-32 -4.5,-6 -0.5,-1.5zM336.5,325l-0.5,3 0.5,1.5 4.5,4.5 2,3 14.5,29 9,13 9,10 9.5,7.5 7.5,4.5 15.5,6.5 12.5,3.5 12,2 9,0 9,-1.5 6,-1.5 5,-1.5 4.5,-2.5 6,-6 4.5,-7 4,-9 5,-16.5 1,-1.5 4,-4 1.5,-3.5 0,-1.5 -6,-0.5 -1.5,-1.5 -6.5,0 -1.5,-1.5 -7.5,0 -1.5,-1.5 -6,0 -1.5,-1.5 -6.5,0 -1.5,-1.5 -6,0 -1.5,-1.5 -4.5,0 -1.5,-1.5 -6,0 -2,-1.5 -6,0 -1.5,-1.5 -4.5,0 -1.5,-1.5 -4.5,0 -1.5,-1.5 -6.5,0 -1.5,-1.5 -4.5,0 -1.5,-1.5 -4.5,0 -1.5,-1.5 -6,0 -1.5,-1.5 -5,0 -1.5,-1.5 -4.5,0 -1.5,-1.5 -4.5,0 -1.5,-1.5 -6,0 -1.5,-1.5 -6.5,0 -1.5,-1.5 -7.5,0 -1.5,-1.5zM528.5,360l29,-0.5 -28,0.5 0.5,4.5 4,10.5 1,6 0,10.5 -1,7.5 -0.5,12 -1.5,6 -7.5,24.5 -11,24 -0.5,3 0,4.5 -1,0 0,-6 10.5,-24 6.5,-18.5 3,-12 1,-13.5 1,-7.5 0,-10.5 -1,-5 -4,-11.5 -1,-4.5z"/><path fill="#ff1c00" d="M337.5,325l3,0 1.5,1.5 7.5,0 1.5,1.5 6.5,0 1.5,1.5 6,0 1.5,1.5 4.5,0 1.5,1.5 4.5,0 1.5,1.5 5,0 1.5,1.5 6,0 1.5,1.5 4.5,0 1.5,1.5 4.5,0 1.5,1.5 6.5,0 1.5,1.5 4.5,0 1.5,1.5 4.5,0 1.5,1.5 6,0 2,1.5 6,0 1.5,1.5 4.5,0 1.5,1.5 6,0 1.5,1.5 6.5,0 1.5,1.5 6,0 1.5,1.5 7.5,0 1.5,1.5 6.5,0 1.5,1.5 6,0.5 0,1.5 -1.5,3.5 -4,4 -1,1.5 -5,16.5 -4,9 -4.5,7 -6,6 -4.5,2.5 -5,1.5 -6,1.5 -9,1.5 -11,0 -10.5,-2 -7.5,-2 -9.5,-3.5 -7.5,-3 -6,-3 -4.5,-3 -8,-6 -7.5,-8 -6,-7.5 -6,-9 -15.5,-30.5 -5.5,-6 -0.5,-1.5 0,-1.5 0.5,-1.5zM337.5,325l-1,3 0.5,1.5 5.5,4.5 2,3 14.5,28 4.5,7 4.5,6 8.5,9 10,8 4.5,2.5 6,2.5 13.5,5 11,3.5 12.5,2 4.5,0 7.5,-0.5 10.5,-2 5,-2 3,-2 5,-5 5,-7.5 4,-9 5.5,-16.5 1,-1.5 4,-2 1.5,-2.5 0.5,-3 -5,-0.5 -1.5,-1.5 -6.5,0 -1.5,-1.5 -7.5,0 -1.5,-1.5 -6,0 -1.5,-1.5 -6.5,0 -1.5,-1.5 -6,0 -1.5,-1.5 -4.5,0 -1.5,-1.5 -6,0 -2,-1.5 -6,0 -1.5,-1.5 -4.5,0 -1.5,-1.5 -4.5,0 -1.5,-1.5 -6.5,0 -1.5,-1.5 -4.5,0 -1.5,-1.5 -4.5,0 -1.5,-1.5 -6,0 -1.5,-1.5 -5,0 -1.5,-1.5 -4.5,0 -1.5,-1.5 -4.5,0 -1.5,-1.5 -6,0 -1.5,-1.5 -6.5,0 -1.5,-1.5 -7.5,0 -1.5,-1.5zM530,360l27.5,-0.5 -26.5,0.5 0,4.5 4,10.5 1.5,6 0,10.5 -1.5,7.5 -0.5,12 -3.5,13.5 -6,18.5 -10,22.5 -1,3 0,4.5 -1,0 0,-6 10,-22.5 6.5,-18.5 4,-15 0.5,-12 1,-7.5 0,-10.5 -1,-6 -4,-10.5 -0.5,-4.5z"/><path fill="#ff0000" d="M339,325l1.5,0 1.5,1.5 7.5,0 1.5,1.5 6.5,0 1.5,1.5 6,0 1.5,1.5 4.5,0 1.5,1.5 4.5,0 1.5,1.5 5,0 1.5,1.5 6,0 1.5,1.5 4.5,0 1.5,1.5 4.5,0 1.5,1.5 6.5,0 1.5,1.5 4.5,0 1.5,1.5 4.5,0 1.5,1.5 6,0 2,1.5 6,0 1.5,1.5 4.5,0 1.5,1.5 6,0 1.5,1.5 6.5,0 1.5,1.5 6,0 1.5,1.5 7.5,0 1.5,1.5 6.5,0 1.5,1.5 5,0.5 -0.5,3 -1.5,2.5 -4,2 -1,1.5 -5.5,16.5 -4,9 -5,7.5 -5,5 -3,2 -5,2 -10.5,2 -7.5,0.5 -4.5,0 -12.5,-2 -11,-3.5 -13.5,-5 -6,-2.5 -4.5,-2.5 -10,-8 -7.5,-7.5 -5.5,-7.5 -9,-15.5 -10,-19.5 -2,-3 -5.5,-4.5 -0.5,-1.5 0.5,-1.5 0.5,-1.5zM338.5,325l-1,1.5 0,1.5 0.5,1.5 6,4.5 2.5,3 9.5,19 7.5,12.5 6,8.5 8.5,8.5 10,6.5 7.5,3.5 23,8.5 14,3.5 4.5,0.5 9,-0.5 6,-1 6.5,-1.5 6,-4 4.5,-5 4,-6 3.5,-9 4,-13.5 1.5,-3 2.5,-1.5 3,-0.5 1.5,-1 1,-1.5 0,-3 -4,-0.5 -1.5,-1.5 -6.5,0 -1.5,-1.5 -7.5,0 -1.5,-1.5 -6,0 -1.5,-1.5 -6.5,0 -1.5,-1.5 -6,0 -1.5,-1.5 -4.5,0 -1.5,-1.5 -6,0 -2,-1.5 -6,0 -1.5,-1.5 -4.5,0 -1.5,-1.5 -4.5,0 -1.5,-1.5 -6.5,0 -1.5,-1.5 -4.5,0 -1.5,-1.5 -4.5,0 -1.5,-1.5 -6,0 -1.5,-1.5 -5,0 -1.5,-1.5 -4.5,0 -1.5,-1.5 -4.5,0 -1.5,-1.5 -6,0 -1.5,-1.5 -6.5,0 -1.5,-1.5 -7.5,0 -1.5,-1.5zM531.5,360l26,-0.5 -25,0.5 0,4.5 4,12 1,4.5 0,10.5 -1.5,7.5 -0.5,13.5 -3.5,12 -6,18.5 -10.5,24 -0.5,3 0.5,3 -1.5,0 0.5,-6 10.5,-24 6,-18.5 3.5,-13.5 0.5,-12 1.5,-7.5 0,-10.5 -1.5,-6 -4,-10.5 0,-4.5z"/><path fill="#e30000" d="M339,325l1.5,0 1.5,1.5 7.5,0 1.5,1.5 6.5,0 1.5,1.5 6,0 1.5,1.5 4.5,0 1.5,1.5 4.5,0 1.5,1.5 5,0 1.5,1.5 6,0 1.5,1.5 4.5,0 1.5,1.5 4.5,0 1.5,1.5 6.5,0 1.5,1.5 4.5,0 1.5,1.5 4.5,0 1.5,1.5 6,0 2,1.5 6,0 1.5,1.5 4.5,0 1.5,1.5 6,0 1.5,1.5 6.5,0 1.5,1.5 6,0 1.5,1.5 7.5,0 1.5,1.5 6.5,0 1.5,1.5 4,0.5 0,3 -1,1.5 -1.5,1 -3,0.5 -2.5,1.5 -1.5,3 -4,13.5 -3.5,9 -4,6 -4.5,5 -6,4 -6.5,1.5 -6,1 -9,0.5 -4.5,-0.5 -14,-3.5 -23,-8.5 -7.5,-3.5 -10,-6.5 -8.5,-8.5 -6,-8.5 -7.5,-12.5 -9.5,-19 -2.5,-3 -6,-4.5 -0.5,-2 0,-1zM340.5,325l-2,1.5 0,1.5 0.5,1.5 7.5,4.5 1.5,1.5 8,16 6,10.5 6,8.5 9,10 9.5,6.5 9,4.5 11,3.5 13.5,5.5 10.5,3 6.5,1 12,-0.5 7.5,-2 6.5,-3 4.5,-4.5 3,-5.5 3.5,-8 4,-13.5 1.5,-3 1.5,-1.5 1.5,-1 5,-1 1.5,-1 0,-1.5 0,-1.5 -3,0 -1.5,-1.5 -6.5,-0.5 -1.5,-1.5 -7.5,0 -1.5,-1.5 -6,0 -1.5,-1.5 -6.5,0 -1.5,-1.5 -6,0 -1.5,-1.5 -4.5,0 -1.5,-1.5 -6,0 -2,-1.5 -6,0 -1.5,-1.5 -4.5,0 -1.5,-1.5 -4.5,0 -1.5,-1.5 -6.5,0 -1.5,-1.5 -4.5,0 -1.5,-1.5 -4.5,0 -1.5,-1.5 -6,0 -1.5,-1.5 -5,0 -1.5,-1.5 -4.5,0 -1.5,-1.5 -4.5,0 -1.5,-1.5 -6,0 -1.5,-1.5 -6.5,0 -1.5,-1.5 -7.5,0zM533,360l24.5,-0.5 -23.5,0.5 0,4.5 4,12 1,4.5 0,10.5 -1.5,7.5 -0.5,13.5 -3.5,12 -6,18.5 -10.5,24 -0.5,3 0.5,3 -1.5,0 -0.5,-3 0.5,-3 10.5,-24 6.5,-20 3.5,-12 0,-12 1.5,-7.5 0,-10.5 -1,-4.5 -4,-12 0,-4.5z"/><path fill="#c60000" d="M340.5,325l1.5,1.5 7.5,0 1.5,1.5 6.5,0 1.5,1.5 6,0 1.5,1.5 4.5,0 1.5,1.5 4.5,0 1.5,1.5 5,0 1.5,1.5 6,0 1.5,1.5 4.5,0 1.5,1.5 4.5,0 1.5,1.5 6.5,0 1.5,1.5 4.5,0 1.5,1.5 4.5,0 1.5,1.5 6,0 2,1.5 6,0 1.5,1.5 4.5,0 1.5,1.5 6,0 1.5,1.5 6.5,0 1.5,1.5 6,0 1.5,1.5 7.5,0 1.5,1.5 6.5,0.5 1.5,1.5 3,0 0,1.5 0,1.5 -1.5,1 -5,1 -1.5,1 -1.5,1.5 -1.5,3 -4,13.5 -3.5,8 -3,5.5 -4.5,4.5 -6.5,3 -7.5,2 -12,0.5 -6.5,-1 -10.5,-3 -13.5,-5.5 -11,-3.5 -9,-4.5 -9.5,-6.5 -9,-10 -6,-8.5 -6,-10.5 -8,-16 -1.5,-1.5 -7.5,-4.5 -0.5,-1.5 0,-1.5zM340.5,326.5l-1,1.5 1.5,1.5 6.5,3 3.5,3 8,15.5 5.5,9 7.5,10.5 6.5,6.5 5,3.5 6,3.5 17,5 18,8.5 9.5,2.5 4.5,0.5 10.5,0 6,-2 5,-2.5 4.5,-4.5 3,-4.5 3,-7.5 4.5,-13.5 1.5,-3 3,-1.5 7.5,-1.5 1,-1.5 -1,-1.5 -1,0 -1.5,-1.5 -6.5,0 -1.5,-1.5 -7.5,-0.5 -1.5,-1.5 -6,0 -1.5,-1.5 -6.5,0 -1.5,-1.5 -6,0 -1.5,-1.5 -4.5,0 -1.5,-1.5 -6,0 -2,-1.5 -6,0 -1.5,-1.5 -4.5,0 -1.5,-1.5 -4.5,0 -1.5,-1.5 -6.5,0 -1.5,-1.5 -4.5,0 -1.5,-1.5 -4.5,0 -1.5,-1.5 -6,0 -1.5,-1.5 -5,0 -1.5,-1.5 -4.5,0 -1.5,-1.5 -4.5,0 -1.5,-1.5 -6,0 -1.5,-1.5 -6.5,0 -1.5,-1.5zM535,360l22.5,-0.5 -21.5,0.5 -0.5,4.5 4.5,12 0.5,4.5 0,10.5 -1,7.5 -1,13.5 -3,12 -6.5,18.5 -10,22.5 -0.5,3 0.5,4.5 -2,0 -0.5,-3 0.5,-3 10.5,-24 6,-18.5 3.5,-12 0.5,-13.5 1.5,-7.5 0,-10.5 -1,-4.5 -4,-12 0,-4.5z"/><path fill="#aa0000" d="M340.5,326.5l9,0 1.5,1.5 6.5,0 1.5,1.5 6,0 1.5,1.5 4.5,0 1.5,1.5 4.5,0 1.5,1.5 5,0 1.5,1.5 6,0 1.5,1.5 4.5,0 1.5,1.5 4.5,0 1.5,1.5 6.5,0 1.5,1.5 4.5,0 1.5,1.5 4.5,0 1.5,1.5 6,0 2,1.5 6,0 1.5,1.5 4.5,0 1.5,1.5 6,0 1.5,1.5 6.5,0 1.5,1.5 6,0 1.5,1.5 7.5,0.5 1.5,1.5 6.5,0 1.5,1.5 1,0 1,1.5 -1,1.5 -7.5,1.5 -3,1.5 -1.5,3 -4.5,13.5 -3,7.5 -3,4.5 -4.5,4.5 -5,2.5 -6,2 -10.5,0 -4.5,-0.5 -9.5,-2.5 -18,-8.5 -17,-5 -6,-3.5 -5,-3.5 -6.5,-6.5 -7.5,-10.5 -5.5,-9 -8,-15.5 -3.5,-3 -6.5,-3 -1.5,-1.5zM346.5,326.5l-4,1.5 2,1.5 5,2 5.5,4 7,13 7.5,12 6,7.5 4.5,4 15.5,7 11,4 15,7 11,3.5 6,1 10.5,0.5 4.5,-0.5 4,-1.5 4,-4 3,-5 3,-7.5 3,-10.5 1.5,-3 1.5,-1.5 3,-1.5 8,-1.5 -0.5,-1.5 -2,-1.5 -4,0 -1.5,-1.5 -7.5,0 -1.5,-1.5 -6,0 -1.5,-1.5 -6.5,0 -1.5,-1.5 -6,0 -1.5,-2 -4.5,0 -1.5,-1.5 -6,0 -2,-1.5 -6,0 -1.5,-1.5 -4.5,0 -1.5,-1.5 -4.5,0 -1.5,-1.5 -6.5,0 -1.5,-1.5 -4.5,0 -1.5,-1.5 -4.5,0 -1.5,-1.5 -6,0 -1.5,-1.5 -5,0 -1.5,-1.5 -4.5,0 -1.5,-1.5 -4.5,0 -1.5,-1.5 -6,0 -1.5,-1.5 -6.5,0 -1.5,-1.5zM536.5,360l21,0 -19.5,0 -0.5,4.5 4,12 1,4.5 0,10.5 -1,7.5 -1,13.5 -3.5,12 -6.5,20 -9.5,21 -0.5,3 1,4.5 -2.5,0 -0.5,-4.5 0.5,-3 10,-22.5 6.5,-18.5 3,-12 1,-13.5 1,-7.5 0,-10.5 -0.5,-4.5 -4.5,-12 0,-3 0.5,-1.5z"/><path fill="#8e0000" d="M346.5,326.5l3,0 1.5,1.5 6.5,0 1.5,1.5 6,0 1.5,1.5 4.5,0 1.5,1.5 4.5,0 1.5,1.5 5,0 1.5,1.5 6,0 1.5,1.5 4.5,0 1.5,1.5 4.5,0 1.5,1.5 6.5,0 1.5,1.5 4.5,0 1.5,1.5 4.5,0 1.5,1.5 6,0 2,1.5 6,0 1.5,1.5 4.5,0 1.5,2 6,0 1.5,1.5 6.5,0 1.5,1.5 6,0 1.5,1.5 7.5,0 1.5,1.5 4,0 2,1.5 0.5,1.5 -8,1.5 -3,1.5 -1.5,1.5 -1.5,3 -3,10.5 -3,7.5 -3,5 -4,4 -4,1.5 -4.5,0.5 -10.5,-0.5 -6,-1 -11,-3.5 -15,-7 -11,-4 -15.5,-7 -4.5,-4 -6,-7.5 -7.5,-12 -7,-13 -5.5,-4 -5,-2 -2,-1.5zM539.5,360l18,0 0,113 -36,0 -1,-3 0,-1.5 0.5,-3 10,-22.5 7.5,-23 2,-7.5 1,-13.5 1,-7.5 0,-9 -1,-6 -4,-12 0.5,-4.5z"/></g></g>
<path d="M396.5,343.4L412.2,348.2M396.8,349.2L412.2,353.8M397,355.1L412.2,359.5M397.3,361L412.2,365.2M397.5,366.8L412.2,370.9M397.8,372.7L412.2,376.6M398,378.6L412.1,382.2M398.3,384.4L412.1,387.9M398.5,390.3L412.1,393.6M398.8,396.1L412.1,399.3M399.1,402L412.1,405M399.3,407.8L412.1,410.7M399.6,413.6L412.1,416.3M399.9,419.5L412.1,422M400.1,425.3L412.1,427.7M400.4,431.1L412.1,433.4M400.7,436.9L412.1,439.1M401,442.7L412.1,444.7M401.2,448.6L412.1,450.4M401.5,454.4L412.1,456.1M401.8,460.2L412.1,461.8M417.9,351.2L437.1,354.2M418.2,357L437.1,359.9M418.6,362.8L437.1,365.5M418.9,368.6L437,371.2M419.3,374.4L437,376.9M419.6,380.2L437,382.6M420,386L437,388.2M420.3,391.8L437,393.9M420.7,397.6L437,399.6M421.1,403.4L437,405.2M421.4,409.2L437,410.9M421.8,415L437,416.6M422.1,420.7L437,422.3M422.5,426.5L437,427.9M422.8,432.3L437,433.6M423.2,438L437,439.3M423.6,443.8L437,444.9M423.9,449.6L437,450.6M424.3,455.3L437,456.3M424.6,461.1L437,462M442,362.8L459.2,360.1M442.3,368.3L459.2,365.7M442.6,373.8L459.2,371.3M442.9,379.3L459.1,376.9M443.2,384.8L459.1,382.6M443.5,390.3L459.1,388.2M443.8,395.8L459.1,393.8M444.1,401.3L459.1,399.5M444.4,406.9L459.1,405.1M444.7,412.4L459.1,410.7M445,417.9L459.1,416.3M445.3,423.5L459.1,422M445.6,429L459.1,427.6M445.9,434.5L459.1,433.2M446.2,440.1L459.1,438.9M446.5,445.6L459.1,444.5M446.8,451.1L459.1,450.1M447.1,456.7L459.1,455.7M447.4,462.2L459.1,461.4M447.7,467.8L459.1,467M464.1,372.6L477.4,364.9M464.3,377.8L477.4,370.5M464.5,383L477.3,376.1M464.7,388.2L477.3,381.7M464.9,393.4L477.3,387.3M465.1,398.7L477.3,392.9M465.3,403.9L477.2,398.4M465.6,409.1L477.2,404M465.8,414.4L477.2,409.6M466.1,419.7L477.1,415.2M466.4,424.9L477.1,420.8M466.6,430.2L477.1,426.4M466.9,435.5L477.1,432M467.2,440.8L477,437.5M467.5,446.1L477,443.1M467.8,451.4L477,448.7M468.1,456.8L477,454.3M468.5,462.1L477,459.9M468.8,467.5L476.9,465.4M384.4,338.9L392.9,343M384.5,344.7L392.8,348.7M384.7,350.6L392.8,354.4M384.8,356.4L392.8,360.1M384.9,362.3L392.8,365.8M385,368.1L392.8,371.4M385.2,373.9L392.8,377.1M385.3,379.8L392.7,382.8M385.4,385.6L392.7,388.5M385.6,391.4L392.7,394.2M385.7,397.2L392.7,399.9M385.8,403.1L392.7,405.6M386,408.9L392.7,411.3M386.1,414.7L392.7,417M386.3,420.5L392.6,422.6M386.4,426.3L392.6,428.3M386.6,432.1L392.6,434M386.7,437.9L392.6,439.7M386.9,443.7L392.6,445.4M387,449.5L392.6,451.1M387.2,455.3L392.6,456.8M387.3,461.1L392.6,462.5M338.3,327.8L341.6,330.7M338.3,333.5L341.6,336.4M338.3,339.3L341.5,342.1M338.3,345.1L341.5,347.8M338.4,350.8L341.5,353.4M338.4,356.6L341.4,359.1M338.4,362.4L341.4,364.8M338.4,368.1L341.4,370.5M338.4,373.9L341.4,376.2M338.5,379.7L341.3,381.9M338.5,385.4L341.3,387.5M338.5,391.2L341.3,393.2M338.5,397L341.3,398.9M338.6,402.7L341.2,404.6M338.6,408.5L341.2,410.3M338.6,414.2L341.2,416M338.7,420L341.2,421.6M338.7,425.7L341.1,427.3M338.7,431.5L341.1,433M338.8,437.2L341.1,438.7M338.8,443L341.1,444.4M338.9,448.7L341.1,450.1M338.9,454.5L341,455.8M338.9,460.2L341,461.4M366.2,332.4L369,335.7M366.2,338.2L369,341.4M366.2,343.9L369,347.1M366.2,349.7L368.9,352.8M366.1,355.5L368.9,358.5M366.1,361.3L368.8,364.2M366.1,367.1L368.8,369.9M366.1,372.9L368.8,375.5M366.1,378.7L368.7,381.2M366.1,384.4L368.7,386.9M366.1,390.2L368.6,392.6M366.1,396L368.6,398.3M366.1,401.8L368.6,404M366.1,407.6L368.5,409.7M366.1,413.3L368.5,415.4M366.1,419.1L368.5,421.1M366.1,424.9L368.4,426.8M366.2,430.7L368.4,432.5M366.2,436.5L368.4,438.1M366.2,442.2L368.3,443.8M366.2,448L368.3,449.5M366.2,453.8L368.3,455.2M366.3,459.5L368.2,460.9M449,351L462.3,343.8M458,355L463.1,352.3M469.6,355.3L476.9,341.3M474.5,357.5L479.1,349.4M322,326.5L331.1,328.8M329,331L337.5,334.9" stroke="#0a0a0a" stroke-width="1.9" fill="none"/>
<path d="M351.8,336.2L352.1,339.8 352.3,343.5 352.6,347.1 352.8,350.8 353.1,354.4 353.3,358 353.6,361.7 353.9,365.3 354.1,369 354.4,372.6 354.7,376.3 355,380 355.3,383.7 355.6,387.5 355.9,391.2 356.3,395 356.6,398.8 356.9,402.6 357.3,406.4 357.6,410.2 357.9,413.9 358.3,417.7 358.6,421.4 359,425 359.4,428.6 359.7,432.2 360.1,435.7 360.5,439.2 360.9,442.7 361.3,446.2 361.7,449.7 362,453.1 362.4,456.6 362.8,460 363.2,463.5 363.6,467M376.8,345L377.1,348.8 377.5,352.5 377.8,356.3 378.2,360.1 378.5,363.9 378.8,367.7 379.2,371.5 379.5,375.2 379.9,379 380.3,382.7 380.6,386.4 381,390 381.4,393.6 381.8,397.3 382.2,400.9 382.6,404.5 383.1,408.1 383.5,411.6 383.9,415.1 384.4,418.6 384.8,422.1 385.2,425.4 385.6,428.8 386,432 386.4,435.2 386.7,438.2 387.1,441.2 387.4,444.2 387.7,447.1 388.1,449.9 388.4,452.8 388.7,455.6 389,458.4 389.3,461.2 389.7,464.1 390,467M502,462L501.9,458.8 501.8,455.6 501.7,452.4 501.6,449.2 501.5,446 501.4,442.8 501.3,439.6 501.2,436.4 501.1,433.1 500.9,429.8 500.7,426.4 500.5,423 500.3,419.5 500,415.9 499.7,412.3 499.4,408.6 499,404.9 498.7,401.1 498.3,397.4 497.9,393.7 497.6,389.9 497.2,386.2 496.8,382.6 496.5,379 496.2,375.5 495.8,372 495.5,368.5 495.1,365 494.8,361.6 494.5,358.2 494.1,354.8 493.8,351.4 493.4,348 493.1,344.6 492.7,341.1 492.4,337.7M513.8,440L513.9,436.1 514.1,432.1 514.3,428.1 514.5,424.1 514.7,420 514.8,416 515,412 515.1,408.1 515.2,404.4 515.3,400.7 515.3,397.3 515.3,394 515.2,390.9 515.1,388 514.9,385.2 514.7,382.5 514.5,380 514.3,377.5 514,375.1 513.7,372.8 513.4,370.6 513,368.3 512.7,366.2 512.3,364 511.9,361.9 511.5,359.9 511,358 510.5,356.1 510,354.3 509.5,352.5 509,350.8 508.5,349.1 507.9,347.4 507.4,345.7 506.9,343.9 506.4,342.1M359,372L359.4,378 359.7,384 360,390 360.4,396.1 360.7,402.1 361.1,408.1 361.5,414 362,420 362.5,425.9 363.1,431.8 363.7,437.7 364.4,443.6 365,449.4 365.7,455.3 366.4,461.1 367,467M384,375L384.5,380.6 385,386.2 385.4,391.8 385.9,397.4 386.4,403 386.9,408.6 387.4,414.3 388,420 388.7,425.8 389.4,431.6 390.1,437.5 390.9,443.4 391.7,449.3 392.5,455.2 393.2,461.1 394,467" stroke="#0a0a0a" stroke-width="2.9" fill="none" stroke-linecap="round"/>
<path d="M416.6,349.5L411.6,350.3L412.8,346.1ZM416.6,355.2L411.6,356L412.8,351.7ZM416.6,360.8L411.6,361.6L412.8,357.4ZM416.6,366.5L411.6,367.3L412.8,363.1ZM416.6,372.1L411.6,373L412.7,368.8ZM416.6,377.8L411.6,378.7L412.7,374.4ZM416.6,383.4L411.6,384.4L412.7,380.1ZM416.6,389.1L411.6,390.1L412.7,385.8ZM416.6,394.7L411.6,395.7L412.7,391.5ZM416.6,400.4L411.6,401.4L412.6,397.2ZM416.6,406L411.6,407.1L412.6,402.8ZM416.6,411.7L411.6,412.8L412.6,408.5ZM416.6,417.3L411.6,418.5L412.6,414.2ZM416.6,423L411.6,424.2L412.5,419.9ZM416.6,428.6L411.7,429.9L412.5,425.5ZM416.6,434.3L411.7,435.5L412.5,431.2ZM416.6,439.9L411.7,441.2L412.5,436.9ZM416.6,445.6L411.7,446.9L412.5,442.6ZM416.6,451.2L411.7,452.6L412.4,448.3ZM416.6,456.9L411.7,458.3L412.4,453.9ZM416.6,462.5L411.7,464L412.4,459.6ZM441.6,354.9L436.7,356.4L437.4,352ZM441.6,360.6L436.7,362.1L437.4,357.7ZM441.6,366.2L436.7,367.7L437.4,363.4ZM441.6,371.9L436.7,373.4L437.4,369ZM441.6,377.5L436.7,379.1L437.3,374.7ZM441.6,383.2L436.7,384.7L437.3,380.4ZM441.6,388.8L436.8,390.4L437.3,386.1ZM441.6,394.5L436.8,396.1L437.3,391.7ZM441.6,400.1L436.8,401.8L437.3,397.4ZM441.6,405.8L436.8,407.4L437.3,403.1ZM441.6,411.4L436.8,413.1L437.3,408.7ZM441.6,417.1L436.8,418.8L437.3,414.4ZM441.6,422.7L436.8,424.4L437.2,420.1ZM441.6,428.4L436.8,430.1L437.2,425.7ZM441.6,434L436.8,435.8L437.2,431.4ZM441.6,439.7L436.8,441.5L437.2,437.1ZM441.6,445.3L436.8,447.1L437.2,442.8ZM441.6,451L436.8,452.8L437.2,448.4ZM441.6,456.6L436.8,458.5L437.2,454.1ZM441.6,462.3L436.9,464.2L437.2,459.8ZM463.7,359.3L459.5,362.2L458.8,357.9ZM463.7,365L459.5,367.9L458.8,363.5ZM463.7,370.6L459.5,373.5L458.8,369.1ZM463.7,376.3L459.5,379.1L458.8,374.8ZM463.7,381.9L459.4,384.7L458.8,380.4ZM463.7,387.6L459.4,390.4L458.8,386ZM463.7,393.2L459.4,396L458.9,391.6ZM463.7,398.9L459.4,401.6L458.9,397.3ZM463.7,404.5L459.4,407.3L458.9,402.9ZM463.7,410.2L459.4,412.9L458.9,408.5ZM463.7,415.8L459.4,418.5L458.9,414.2ZM463.7,421.5L459.4,424.2L458.9,419.8ZM463.7,427.1L459.3,429.8L458.9,425.4ZM463.7,432.8L459.3,435.4L458.9,431ZM463.7,438.4L459.3,441.1L458.9,436.7ZM463.7,444.1L459.3,446.7L458.9,442.3ZM463.7,449.7L459.3,452.3L458.9,447.9ZM463.7,455.4L459.3,457.9L458.9,453.6ZM463.7,461L459.3,463.6L458.9,459.2ZM463.7,466.7L459.3,469.2L459,464.8ZM481.4,362.6L478.5,366.8L476.3,363ZM481.4,368.3L478.5,372.4L476.3,368.6ZM481.4,373.9L478.4,378L476.3,374.2ZM481.4,379.6L478.3,383.6L476.3,379.7ZM481.4,385.2L478.3,389.2L476.3,385.3ZM481.4,390.9L478.2,394.8L476.3,390.9ZM481.4,396.5L478.1,400.4L476.3,396.4ZM481.4,402.2L478.1,406L476.3,402ZM481.4,407.8L478,411.6L476.3,407.6ZM481.4,413.5L478,417.2L476.3,413.2ZM481.4,419.1L477.9,422.8L476.3,418.7ZM481.4,424.8L477.8,428.4L476.3,424.3ZM481.4,430.4L477.8,434L476.3,429.9ZM481.4,436.1L477.7,439.6L476.3,435.4ZM481.4,441.7L477.7,445.2L476.4,441ZM481.4,447.4L477.6,450.8L476.4,446.6ZM481.4,453L477.6,456.4L476.4,452.2ZM481.4,458.7L477.5,462L476.4,457.7ZM481.4,464.3L477.5,467.6L476.4,463.3ZM397,345L391.9,345L393.8,341ZM397,350.7L391.9,350.7L393.8,346.7ZM397,356.3L391.9,356.4L393.8,352.4ZM397,362L391.9,362.1L393.7,358.1ZM397,367.6L391.9,367.8L393.7,363.7ZM397,373.3L391.9,373.5L393.7,369.4ZM397,378.9L391.9,379.2L393.6,375.1ZM397,384.6L391.9,384.9L393.6,380.8ZM397,390.2L391.9,390.6L393.5,386.5ZM397,395.9L391.9,396.3L393.5,392.2ZM397,401.5L391.9,401.9L393.5,397.8ZM397,407.2L391.9,407.6L393.4,403.5ZM397,412.8L391.9,413.3L393.4,409.2ZM397,418.5L391.9,419L393.4,414.9ZM397,424.1L391.9,424.7L393.3,420.6ZM397,429.8L391.9,430.4L393.3,426.2ZM397,435.4L391.9,436.1L393.3,431.9ZM397,441.1L392,441.8L393.2,437.6ZM397,446.7L392,447.5L393.2,443.3ZM397,452.4L392,453.2L393.2,449ZM397,458L392,458.9L393.2,454.7ZM397,463.7L392,464.6L393.1,460.4ZM345,333.8L340.1,332.4L343.1,329.1ZM345,339.4L340.1,338.1L343,334.8ZM345,345.1L340.1,343.7L343,340.4ZM345,350.7L340.1,349.4L342.9,346.1ZM345,356.4L340.1,355.1L342.9,351.8ZM345,362L340,360.8L342.8,357.4ZM345,367.7L340,366.5L342.8,363.1ZM345,373.3L340,372.2L342.8,368.8ZM345,379L340,377.9L342.7,374.4ZM345,384.6L340,383.6L342.7,380.1ZM345,390.3L340,389.3L342.6,385.8ZM345,395.9L340,395L342.6,391.5ZM345,401.6L340,400.7L342.6,397.1ZM345,407.2L340,406.4L342.5,402.8ZM345,412.9L340,412.1L342.5,408.5ZM345,418.5L340,417.8L342.4,414.1ZM345,424.2L340,423.5L342.4,419.8ZM345,429.8L339.9,429.2L342.4,425.5ZM345,435.5L339.9,434.9L342.3,431.2ZM345,441.1L339.9,440.6L342.3,436.8ZM345,446.8L339.9,446.3L342.2,442.5ZM345,452.4L339.9,452L342.2,448.2ZM345,458.1L339.9,457.7L342.2,453.9ZM345,463.7L339.9,463.4L342.1,459.5ZM372,339.3L367.4,337.1L370.7,334.3ZM372,344.9L367.3,342.9L370.7,340ZM372,350.6L367.3,348.6L370.6,345.7ZM372,356.2L367.3,354.3L370.6,351.3ZM372,361.9L367.3,360L370.5,357ZM372,367.5L367.2,365.7L370.4,362.7ZM372,373.2L367.2,371.4L370.4,368.3ZM372,378.8L367.2,377.1L370.3,374ZM372,384.5L367.2,382.8L370.3,379.7ZM372,390.1L367.2,388.5L370.2,385.3ZM372,395.8L367.1,394.2L370.2,391ZM372,401.4L367.1,399.9L370.1,396.7ZM372,407.1L367.1,405.6L370,402.4ZM372,412.7L367.1,411.3L370,408ZM372,418.4L367.1,417L369.9,413.7ZM372,424L367.1,422.8L369.9,419.4ZM372,429.7L367,428.5L369.8,425ZM372,435.3L367,434.2L369.8,430.7ZM372,441L367,439.9L369.7,436.4ZM372,446.6L367,445.6L369.7,442.1ZM372,452.3L367,451.3L369.6,447.8ZM372,457.9L367,457L369.5,453.4ZM372,463.6L367,462.7L369.5,459.1ZM352.3,343.5L349.7,339.2L354.3,338.8ZM352.8,350.8L350.2,346.4L354.8,346.1ZM353.3,358L350.7,353.7L355.3,353.4ZM353.9,365.3L351.3,361L355.8,360.7ZM354.4,372.6L351.8,368.3L356.4,368ZM355,380L352.3,375.7L356.9,375.3ZM355.6,387.5L353,383.2L357.5,382.8ZM356.3,395L353.6,390.7L358.2,390.3ZM356.9,402.6L354.2,398.3L358.8,397.9ZM357.6,410.2L354.9,405.9L359.5,405.5ZM358.3,417.7L355.6,413.4L360.2,413ZM359,425L356.3,420.7L360.9,420.3ZM359.7,432.2L357,427.9L361.6,427.5ZM360.5,439.2L357.7,435L362.3,434.5ZM361.3,446.2L358.5,442L363,441.5ZM362,453.1L359.3,448.9L363.8,448.4ZM362.8,460L360,455.8L364.6,455.3ZM363.6,467L360.8,462.8L365.4,462.3ZM377.5,352.5L374.8,348.3L379.4,347.8ZM378.2,360.1L375.5,355.8L380.1,355.4ZM378.8,367.7L376.2,363.4L380.7,363ZM379.5,375.2L376.8,371L381.4,370.5ZM380.3,382.7L377.5,378.4L382.1,378ZM381,390L378.2,385.8L382.8,385.3ZM381.8,397.3L379,393L383.6,392.5ZM382.6,404.5L379.8,400.3L384.4,399.7ZM383.5,411.6L380.7,407.4L385.2,406.9ZM384.4,418.6L381.5,414.4L386.1,413.9ZM385.2,425.4L382.4,421.3L387,420.7ZM386,432L383.2,427.8L387.8,427.3ZM386.7,438.2L383.9,434L388.5,433.5ZM387.4,444.2L384.6,440L389.2,439.5ZM388.1,449.9L385.3,445.7L389.8,445.2ZM388.7,455.6L385.9,451.4L390.5,450.9ZM389.3,461.2L386.6,457L391.1,456.5ZM390,467L387.2,462.8L391.8,462.3ZM501.9,458.8L499.4,454.3L504,454.2ZM501.7,452.4L499.3,447.9L503.9,447.8ZM501.5,446L499.1,441.6L503.7,441.4ZM501.3,439.6L498.8,435.2L503.4,435ZM501.1,433.1L498.5,428.7L503.1,428.5ZM500.7,426.4L498.1,422.1L502.7,421.8ZM500.3,419.5L497.6,415.2L502.2,414.8ZM499.7,412.3L497,408L501.6,407.6ZM499,404.9L496.3,400.6L500.9,400.2ZM498.3,397.4L495.6,393.1L500.2,392.7ZM497.6,389.9L494.8,385.7L499.4,385.2ZM496.8,382.6L494.1,378.3L498.7,377.9ZM496.2,375.5L493.4,371.2L498,370.8ZM495.5,368.5L492.8,364.2L497.3,363.8ZM494.8,361.6L492.1,357.4L496.6,356.9ZM494.1,354.8L491.4,350.5L496,350.1ZM493.4,348L490.7,343.7L495.3,343.3ZM492.7,341.1L490,336.9L494.6,336.4ZM513.9,436.1L511.8,431.5L516.4,431.7ZM514.3,428.1L512.2,423.5L516.8,423.7ZM514.7,420L512.6,415.4L517.1,415.6ZM515,412L512.9,407.5L517.5,407.6ZM515.2,404.4L513,399.8L517.6,399.9ZM515.3,397.3L513,392.8L517.6,392.8ZM515.2,390.9L512.7,386.5L517.3,386.3ZM514.7,382.5L512.1,378.2L516.6,377.8ZM514,375.1L511.1,371L515.7,370.4ZM513,368.3L510,364.3L514.6,363.5ZM511.9,361.9L508.7,358L513.2,357ZM510.5,356.1L507.1,352.4L511.6,351.1ZM508.5,349.1L504.9,345.5L509.3,344.1ZM466.7,341.4L463.4,345.9L461.2,341.7ZM467.5,350L464.2,354.5L462,350.2ZM479.2,336.9L479,342.4L474.8,340.2ZM481.5,345L481.2,350.5L477,348.2ZM336,330L330.6,331.1L331.7,326.5ZM342,337L336.5,337.1L338.5,332.7Z" fill="#0a0a0a"/>
<rect x="56" y="320" width="292" height="148" fill="url(#dash)" clip-path="url(#clipA2L)" opacity="0.85"/>
<path d="M331,326.4H613" stroke="#222" stroke-width="1.6" stroke-dasharray="7,4.5" fill="none"/>
<path d="M425.1,344.6H613" stroke="#222" stroke-width="1.6" stroke-dasharray="7,4.5" fill="none"/>
<rect x="47.1" y="300.1" width="567.6" height="169.2" fill="none" stroke="#000" stroke-width="2.0"/><text x="97.1" y="491" font-family='"Liberation Serif","Times New Roman",serif' font-size="22" font-weight="bold" text-anchor="middle" fill="#000">130</text><text x="240.9" y="491" font-family='"Liberation Serif","Times New Roman",serif' font-size="22" font-weight="bold" text-anchor="middle" fill="#000">140</text><text x="378.1" y="491" font-family='"Liberation Serif","Times New Roman",serif' font-size="22" font-weight="bold" text-anchor="middle" fill="#000">150</text><text x="522.8" y="491" font-family='"Liberation Serif","Times New Roman",serif' font-size="22" font-weight="bold" text-anchor="middle" fill="#000">160</text><text x="38.8" y="317.5" font-family='"Liberation Serif","Times New Roman",serif' font-size="22" font-weight="bold" text-anchor="end" fill="#000">2</text><text x="38.8" y="356.5" font-family='"Liberation Serif","Times New Roman",serif' font-size="22" font-weight="bold" text-anchor="end" fill="#000">0</text><text x="38.8" y="402.6" font-family='"Liberation Serif","Times New Roman",serif' font-size="22" font-weight="bold" text-anchor="end" fill="#000">-2</text><text x="38.8" y="450.9" font-family='"Liberation Serif","Times New Roman",serif' font-size="22" font-weight="bold" text-anchor="end" fill="#000">-4</text><text transform="translate(13.8,388.5) rotate(-90)" font-family='"Liberation Serif","Times New Roman",serif' font-size="18" font-weight="bold" font-style="italic" text-anchor="middle" y="2.9">z</text><text x="355" y="510.8" font-family='"Liberation Serif","Times New Roman",serif' font-size="22" font-weight="bold" text-anchor="middle" fill="#000" font-style="italic">x</text>
<rect x="624.2" y="297.8" width="20.8" height="172.5" fill="url(#jet)"/><text x="646.7" y="315.7" font-family='"Liberation Serif","Times New Roman",serif' font-size="22" font-weight="bold" text-anchor="start" fill="#000">30</text><text x="646.7" y="369.6" font-family='"Liberation Serif","Times New Roman",serif' font-size="22" font-weight="bold" text-anchor="start" fill="#000">20</text><text x="646.7" y="422.6" font-family='"Liberation Serif","Times New Roman",serif' font-size="22" font-weight="bold" text-anchor="start" fill="#000">10</text><text x="646.7" y="477.2" font-family='"Liberation Serif","Times New Roman",serif' font-size="22" font-weight="bold" text-anchor="start" fill="#000">0</text><text x="631.7" y="495" font-family='"Liberation Serif","Times New Roman",serif' font-size="22" font-weight="bold" text-anchor="middle" fill="#000">Salinity</text>
<text x="51.5" y="287.5" font-family='"Liberation Sans",Arial,sans-serif' font-size="29.2" font-weight="bold" text-anchor="start" fill="#000">A2</text><text x="101.4" y="287.5" font-family='"Liberation Serif","Times New Roman",serif' font-size="36" font-weight="bold">Modeled salinity</text>
<g clip-path="url(#clipD2)"><rect x="714.6" y="801.3" width="563.8" height="171.5" fill="#00008c"/><g filter="url(#b8)"><path fill="#0000c8" d="M957.3,831.3L957.5,832.3 957.6,833.3 957.7,834.1 957.8,834.9 957.8,835.6 957.9,836.4 958,837.2 958.1,838.3 958.2,839.5 958.5,841.1 958.7,842.9 959,845 959.3,847.4 959.7,850 960.1,852.7 960.5,855.5 961,858.4 961.5,861.3 962,864.2 962.5,867 963,869.7 963.5,872.4 964.1,875.2 964.6,878 965.2,880.8 965.9,883.7 966.5,886.6 967.2,889.6 968.2,892.5 969.2,895.5 970.2,898.4 971.2,901.4 972.3,904.5 973.5,907.6 974.7,910.7 975.9,913.8 977.2,916.9 978.5,920 979.9,923.1 981.4,926.1 982.8,929 984.3,931.8 985.8,934.7 987.4,937.5 989.1,940.3 990.8,943.1 992.5,945.8 994.3,948.4 996.2,951 998.2,953.5 1000.2,956 1002.3,958.3 1004.5,960.5 1006.7,962.6 1008.9,964.6 1011.1,966.5 1013.3,968.3 1015.5,970 1017.6,971.6 1019.8,973.1 1021.9,974.6 1024.1,976 1026.3,977.4 1028.6,978.6 1030.8,979.7 1033,980.8 1035.3,981.8 1037.5,982.7 1039.8,983.6 1042.2,984.4 1044.7,985.2 1047.3,985.8 1049.8,986.3 1052.2,986.7 1054.6,987 1056.8,987.3 1059,987.6 1061.1,987.9 1063,988.1 1065.1,988.5 1068.5,966.7 1066.3,966.4 1064,966.1 1061.7,965.8 1059.6,965.5 1057.5,965.2 1055.6,965 1053.8,964.7 1052.1,964.3 1050.5,963.9 1048.9,963.5 1047.2,962.9 1045.5,962.2 1043.9,961.6 1042.2,960.8 1040.6,960 1039,959.2 1037.4,958.3 1035.7,957.3 1034.1,956.3 1032.4,955.1 1030.6,953.9 1028.8,952.5 1027,951.1 1025.2,949.6 1023.4,948.1 1021.7,946.5 1020,944.9 1018.4,943.2 1016.8,941.5 1015.3,939.7 1013.8,937.8 1012.3,935.7 1010.8,933.6 1009.4,931.3 1007.9,929 1006.5,926.6 1005.1,924.1 1003.7,921.5 1002.4,918.9 1001.1,916.3 999.9,913.8 998.7,911.1 997.5,908.4 996.3,905.6 995.2,902.7 994.1,899.8 993,896.9 992,894 991,891.2 990,888.4 989.1,885.7 988.2,883 987.3,880.4 986.3,877.8 985.4,875.2 984.5,872.6 983.6,870 982.8,867.4 981.9,864.8 981.1,862.3 980.2,859.7 979.4,857.1 978.6,854.4 977.8,851.7 977.1,849 976.3,846.4 975.6,843.9 974.9,841.5 974.2,839.3 973.6,837.4 973,835.7 972.4,834.3 971.9,833.1 971.4,832.1 970.9,831.2 970.5,830.5 970,829.8 969.6,829.2 969.2,828.6 968.8,827.8Z"/><path fill="#0030ff" d="M958.2,831.1L958.4,832 958.5,832.9 958.6,833.8 958.7,834.5 958.8,835.2 958.9,836 959,836.9 959.2,838 959.4,839.3 959.6,840.8 959.9,842.6 960.2,844.8 960.6,847.1 961,849.7 961.4,852.4 961.9,855.2 962.4,858 962.9,860.9 963.4,863.8 963.9,866.6 964.5,869.3 965,872 965.6,874.8 966.2,877.6 966.8,880.4 967.4,883.3 968.1,886.2 968.9,889.1 969.8,892 970.8,894.9 971.8,897.9 972.8,900.9 973.9,903.9 975.1,907 976.3,910.1 977.5,913.2 978.8,916.3 980.1,919.3 981.5,922.4 982.9,925.3 984.3,928.2 985.8,931 987.3,933.8 988.9,936.6 990.5,939.4 992.2,942.1 993.9,944.8 995.7,947.4 997.6,950 999.5,952.5 1001.5,954.8 1003.6,957.1 1005.7,959.3 1007.8,961.3 1010,963.3 1012.2,965.2 1014.3,966.9 1016.5,968.6 1018.6,970.2 1020.7,971.7 1022.9,973.2 1025,974.6 1027.2,975.9 1029.4,977.1 1031.5,978.2 1033.7,979.3 1035.9,980.2 1038.1,981.1 1040.4,982 1042.7,982.8 1045.1,983.5 1047.6,984.1 1050.1,984.6 1052.5,985 1054.8,985.3 1057,985.6 1059.2,985.9 1061.3,986.2 1063.3,986.4 1065.3,986.8 1068.4,967.2 1066.2,966.9 1063.9,966.5 1061.7,966.3 1059.5,966 1057.5,965.7 1055.5,965.5 1053.7,965.1 1052,964.8 1050.3,964.4 1048.7,963.9 1047.1,963.3 1045.3,962.7 1043.7,962 1042,961.3 1040.4,960.5 1038.7,959.6 1037.1,958.7 1035.5,957.8 1033.8,956.7 1032.1,955.5 1030.3,954.3 1028.5,952.9 1026.7,951.5 1024.9,950 1023.1,948.5 1021.4,946.9 1019.7,945.2 1018,943.5 1016.4,941.8 1014.9,940 1013.4,938.1 1011.9,936 1010.4,933.9 1009,931.6 1007.5,929.2 1006.1,926.8 1004.7,924.3 1003.3,921.7 1002,919.2 1000.7,916.6 999.4,914 998.2,911.3 997,908.6 995.9,905.8 994.7,902.9 993.6,900 992.5,897.1 991.5,894.2 990.5,891.3 989.5,888.6 988.6,885.9 987.8,883.2 986.8,880.6 985.9,878 984.9,875.4 984.1,872.8 983.2,870.2 982.3,867.5 981.5,864.9 980.6,862.4 979.8,859.8 979,857.2 978.2,854.5 977.5,851.8 976.7,849.1 976,846.4 975.2,843.9 974.5,841.6 973.9,839.4 973.2,837.5 972.6,835.8 972.1,834.4 971.6,833.2 971.1,832.2 970.6,831.3 970.2,830.6 969.8,829.9 969.4,829.3 969,828.6 968.5,827.8Z"/><path fill="#00b0ff" d="M959.1,830.8L959.3,831.7 959.5,832.6 959.6,833.4 959.7,834.2 959.9,834.9 960,835.7 960.1,836.6 960.3,837.7 960.5,839 960.8,840.5 961.1,842.4 961.5,844.5 961.9,846.9 962.3,849.4 962.7,852.1 963.2,854.9 963.7,857.7 964.3,860.6 964.8,863.5 965.4,866.2 966,868.9 966.5,871.7 967.1,874.4 967.7,877.2 968.4,880 969,882.8 969.7,885.7 970.5,888.6 971.4,891.5 972.4,894.4 973.4,897.3 974.5,900.3 975.5,903.3 976.7,906.4 977.9,909.4 979.1,912.5 980.3,915.6 981.7,918.6 983,921.6 984.4,924.6 985.9,927.4 987.3,930.2 988.8,933 990.4,935.8 992,938.5 993.6,941.2 995.4,943.9 997.1,946.5 999,949 1000.8,951.4 1002.8,953.7 1004.8,955.9 1006.9,958.1 1009,960.1 1011.1,962 1013.3,963.9 1015.4,965.6 1017.5,967.3 1019.6,968.9 1021.7,970.3 1023.8,971.8 1025.9,973.1 1028,974.4 1030.2,975.6 1032.3,976.7 1034.4,977.7 1036.6,978.7 1038.8,979.5 1040.9,980.4 1043.2,981.1 1045.6,981.9 1048,982.5 1050.4,982.9 1052.7,983.3 1055,983.7 1057.3,983.9 1059.4,984.2 1061.5,984.5 1063.5,984.8 1065.6,985.1 1068.4,967.7 1066.1,967.4 1063.8,967 1061.6,966.8 1059.5,966.5 1057.4,966.2 1055.4,965.9 1053.6,965.6 1051.8,965.3 1050.2,964.9 1048.6,964.4 1046.9,963.8 1045.2,963.2 1043.5,962.5 1041.8,961.7 1040.1,960.9 1038.5,960.1 1036.9,959.2 1035.2,958.2 1033.5,957.1 1031.8,955.9 1030,954.7 1028.2,953.3 1026.4,951.9 1024.6,950.4 1022.8,948.8 1021,947.2 1019.3,945.6 1017.6,943.9 1016,942.1 1014.5,940.3 1013,938.4 1011.5,936.3 1010,934.1 1008.5,931.9 1007.1,929.5 1005.7,927 1004.3,924.5 1002.9,922 1001.5,919.4 1000.2,916.8 999,914.2 997.7,911.5 996.6,908.8 995.4,905.9 994.3,903.1 993.2,900.2 992.1,897.3 991,894.4 990,891.5 989.1,888.7 988.2,886 987.3,883.3 986.3,880.7 985.4,878.1 984.5,875.5 983.6,872.9 982.7,870.3 981.9,867.7 981.1,865 980.2,862.5 979.4,859.9 978.6,857.3 977.8,854.6 977.1,851.8 976.3,849.1 975.6,846.5 974.9,844 974.2,841.7 973.5,839.5 972.9,837.5 972.3,835.9 971.8,834.5 971.2,833.3 970.8,832.3 970.3,831.4 969.9,830.7 969.5,830 969.1,829.4 968.7,828.7 968.3,827.9Z"/><path fill="#30ffd0" d="M960,830.5L960.2,831.5 960.4,832.3 960.6,833.1 960.7,833.8 960.9,834.6 961,835.4 961.2,836.3 961.4,837.3 961.7,838.7 962,840.2 962.3,842.1 962.7,844.2 963.1,846.6 963.6,849.1 964.1,851.8 964.6,854.6 965.1,857.4 965.7,860.3 966.2,863.1 966.8,865.9 967.4,868.6 968,871.3 968.6,874 969.3,876.7 969.9,879.5 970.6,882.4 971.4,885.2 972.1,888.1 973,891 974,893.8 975,896.7 976.1,899.7 977.1,902.7 978.3,905.8 979.4,908.8 980.7,911.9 981.9,914.9 983.2,918 984.6,920.9 986,923.8 987.4,926.6 988.8,929.4 990.3,932.2 991.9,934.9 993.5,937.7 995.1,940.3 996.8,942.9 998.5,945.5 1000.3,947.9 1002.2,950.3 1004.1,952.6 1006.1,954.8 1008.1,956.8 1010.2,958.8 1012.3,960.7 1014.4,962.6 1016.5,964.3 1018.6,965.9 1020.6,967.5 1022.7,969 1024.8,970.4 1026.8,971.7 1028.9,972.9 1031,974.1 1033.1,975.2 1035.1,976.2 1037.3,977.1 1039.4,978 1041.5,978.8 1043.7,979.5 1046,980.2 1048.4,980.8 1050.7,981.3 1053,981.6 1055.3,982 1057.5,982.3 1059.6,982.5 1061.7,982.8 1063.8,983.1 1065.9,983.4 1068.3,968.2 1066.1,967.8 1063.8,967.5 1061.5,967.2 1059.4,967 1057.3,966.7 1055.4,966.4 1053.5,966.1 1051.7,965.8 1050.1,965.4 1048.4,964.9 1046.7,964.3 1045,963.6 1043.3,962.9 1041.6,962.2 1039.9,961.4 1038.3,960.5 1036.6,959.6 1034.9,958.6 1033.3,957.5 1031.5,956.3 1029.7,955.1 1027.9,953.7 1026.1,952.3 1024.3,950.8 1022.5,949.2 1020.7,947.6 1019,945.9 1017.3,944.2 1015.7,942.4 1014.1,940.6 1012.6,938.7 1011.1,936.6 1009.6,934.4 1008.1,932.1 1006.7,929.7 1005.2,927.3 1003.8,924.8 1002.4,922.2 1001.1,919.6 999.8,917 998.5,914.4 997.3,911.7 996.1,909 994.9,906.1 993.8,903.2 992.7,900.3 991.6,897.4 990.6,894.5 989.6,891.7 988.6,888.9 987.7,886.2 986.8,883.5 985.9,880.9 984.9,878.2 984,875.6 983.2,873 982.3,870.4 981.5,867.8 980.6,865.2 979.8,862.6 979,860 978.2,857.4 977.4,854.6 976.7,851.9 975.9,849.2 975.2,846.6 974.5,844.1 973.8,841.7 973.2,839.6 972.5,837.6 972,836 971.4,834.6 970.9,833.4 970.5,832.4 970,831.5 969.6,830.8 969.2,830.1 968.8,829.5 968.4,828.8 968,828Z"/><path fill="#d0ff30" d="M961.1,830.2L961.3,831.1 961.5,831.9 961.7,832.7 961.9,833.4 962.1,834.2 962.3,835 962.5,835.9 962.7,837 963,838.3 963.4,839.9 963.8,841.8 964.2,843.9 964.6,846.3 965.1,848.8 965.6,851.5 966.2,854.2 966.7,857.1 967.3,859.9 967.9,862.7 968.5,865.4 969.2,868.1 969.8,870.8 970.4,873.5 971.1,876.3 971.8,879 972.5,881.8 973.3,884.6 974.1,887.5 975,890.3 976,893.2 977,896.1 978,899 979.1,902 980.2,905 981.3,908.1 982.6,911.1 983.8,914.1 985.1,917.1 986.4,920.1 987.8,922.9 989.2,925.7 990.6,928.5 992.1,931.2 993.6,933.9 995.2,936.6 996.8,939.2 998.5,941.8 1000.2,944.3 1001.9,946.7 1003.8,949 1005.6,951.2 1007.6,953.4 1009.5,955.4 1011.6,957.3 1013.6,959.2 1015.7,961 1017.7,962.7 1019.8,964.3 1021.9,965.8 1023.9,967.3 1025.9,968.7 1027.9,969.9 1029.9,971.2 1031.9,972.3 1034,973.3 1036,974.3 1038.1,975.2 1040.1,976.1 1042.2,976.8 1044.3,977.6 1046.6,978.2 1048.8,978.8 1051.1,979.2 1053.3,979.6 1055.5,979.9 1057.7,980.2 1059.9,980.5 1062,980.8 1064.1,981.1 1066.2,981.4 1068.2,968.8 1066,968.4 1063.7,968.1 1061.5,967.8 1059.3,967.6 1057.3,967.3 1055.3,967 1053.4,966.7 1051.6,966.3 1049.9,965.9 1048.3,965.4 1046.5,964.8 1044.8,964.2 1043,963.5 1041.3,962.7 1039.7,961.9 1038,961 1036.3,960.1 1034.6,959.1 1032.9,958 1031.2,956.8 1029.4,955.5 1027.6,954.2 1025.7,952.7 1023.9,951.2 1022.1,949.7 1020.3,948 1018.5,946.4 1016.9,944.6 1015.2,942.8 1013.7,941 1012.1,939 1010.6,936.9 1009.1,934.7 1007.6,932.4 1006.2,930 1004.7,927.6 1003.3,925.1 1001.9,922.5 1000.5,919.9 999.2,917.3 998,914.6 996.8,912 995.6,909.2 994.4,906.3 993.2,903.5 992.1,900.6 991.1,897.6 990,894.7 989,891.9 988,889.1 987.1,886.4 986.3,883.7 985.3,881 984.4,878.4 983.5,875.8 982.6,873.1 981.8,870.5 980.9,867.9 980.1,865.3 979.3,862.7 978.5,860.1 977.7,857.5 977,854.8 976.2,852 975.5,849.3 974.8,846.7 974.1,844.2 973.4,841.8 972.8,839.7 972.1,837.7 971.6,836.1 971,834.7 970.6,833.5 970.1,832.5 969.7,831.6 969.3,830.9 968.9,830.2 968.5,829.6 968.1,828.9 967.7,828.1Z"/><path fill="#ffb000" d="M962.2,829.8L962.5,830.7 962.7,831.5 963,832.3 963.2,833 963.4,833.7 963.6,834.5 963.9,835.5 964.2,836.6 964.5,837.9 964.9,839.5 965.3,841.4 965.8,843.5 966.3,845.9 966.8,848.4 967.3,851.1 967.9,853.9 968.5,856.7 969.1,859.5 969.8,862.3 970.4,865 971.1,867.6 971.7,870.3 972.4,873 973.1,875.7 973.8,878.5 974.6,881.2 975.4,884 976.2,886.8 977.1,889.6 978,892.5 979,895.3 980.1,898.3 981.2,901.3 982.3,904.3 983.4,907.3 984.6,910.3 985.8,913.3 987.1,916.2 988.4,919.1 989.8,921.9 991.2,924.7 992.6,927.4 994.1,930.1 995.6,932.8 997.1,935.5 998.7,938.1 1000.3,940.6 1002,943 1003.7,945.4 1005.5,947.6 1007.3,949.8 1009.2,951.8 1011.1,953.8 1013.1,955.7 1015.1,957.6 1017.1,959.3 1019.1,961 1021.2,962.5 1023.2,964 1025.1,965.5 1027.1,966.8 1029.1,968.1 1031,969.2 1033,970.3 1035,971.3 1036.9,972.3 1038.9,973.2 1040.9,974 1043,974.8 1045,975.5 1047.2,976.1 1049.3,976.6 1051.5,977.1 1053.7,977.4 1055.8,977.7 1058,978 1060.2,978.3 1062.3,978.6 1064.4,978.9 1066.5,979.2 1068.1,969.4 1065.9,969.1 1063.6,968.7 1061.4,968.5 1059.2,968.2 1057.2,967.9 1055.2,967.7 1053.3,967.3 1051.5,967 1049.8,966.5 1048.1,966 1046.3,965.4 1044.5,964.8 1042.8,964.1 1041.1,963.3 1039.4,962.5 1037.7,961.6 1036,960.7 1034.3,959.6 1032.6,958.6 1030.8,957.4 1029,956.1 1027.2,954.7 1025.3,953.2 1023.5,951.7 1021.6,950.1 1019.8,948.5 1018.1,946.8 1016.4,945.1 1014.7,943.2 1013.2,941.4 1011.6,939.4 1010.1,937.3 1008.6,935.1 1007.1,932.8 1005.6,930.4 1004.2,927.9 1002.7,925.4 1001.3,922.8 1000,920.2 998.7,917.5 997.4,914.9 996.2,912.2 995,909.4 993.8,906.6 992.6,903.7 991.5,900.8 990.5,897.9 989.4,895 988.4,892.1 987.4,889.3 986.5,886.6 985.6,883.9 984.7,881.2 983.8,878.6 982.9,875.9 982,873.3 981.2,870.7 980.4,868.1 979.6,865.4 978.8,862.8 978,860.3 977.2,857.6 976.4,854.9 975.7,852.1 975,849.4 974.3,846.8 973.6,844.3 972.9,841.9 972.3,839.8 971.7,837.8 971.1,836.2 970.6,834.8 970.2,833.6 969.7,832.6 969.3,831.8 968.9,831 968.5,830.3 968.1,829.7 967.8,829 967.4,828.2Z"/><path fill="#ff4000" d="M963.5,829.4L963.8,830.3 964,831.1 964.3,831.8 964.6,832.5 964.8,833.3 965.1,834.1 965.4,835 965.7,836.1 966.1,837.5 966.5,839.1 967,841 967.5,843.1 968,845.5 968.6,848 969.2,850.7 969.8,853.4 970.4,856.2 971.1,859 971.7,861.8 972.4,864.5 973.1,867.1 973.8,869.8 974.5,872.4 975.3,875.1 976,877.8 976.8,880.6 977.6,883.3 978.5,886.1 979.4,888.9 980.3,891.7 981.3,894.6 982.3,897.5 983.4,900.4 984.5,903.4 985.6,906.4 986.8,909.4 988,912.4 989.3,915.3 990.6,918.1 991.9,920.9 993.3,923.6 994.7,926.3 996.1,929 997.6,931.6 999.2,934.2 1000.7,936.8 1002.3,939.3 1003.9,941.6 1005.6,943.9 1007.3,946.1 1009.1,948.2 1010.9,950.2 1012.8,952.1 1014.7,954 1016.7,955.8 1018.6,957.5 1020.6,959.1 1022.6,960.6 1024.6,962.1 1026.5,963.5 1028.4,964.8 1030.3,966 1032.2,967.2 1034.1,968.2 1036,969.2 1037.9,970.1 1039.9,971 1041.8,971.8 1043.8,972.5 1045.8,973.2 1047.8,973.8 1049.8,974.3 1051.9,974.7 1054,975.1 1056.2,975.4 1058.3,975.7 1060.5,975.9 1062.6,976.2 1064.8,976.5 1066.9,976.8 1068,970.1 1065.8,969.8 1063.5,969.4 1061.3,969.2 1059.2,968.9 1057.1,968.6 1055.1,968.3 1053.2,968 1051.3,967.6 1049.6,967.2 1047.9,966.7 1046.1,966.1 1044.3,965.4 1042.5,964.7 1040.8,963.9 1039.1,963.1 1037.4,962.2 1035.6,961.3 1033.9,960.2 1032.2,959.1 1030.4,957.9 1028.6,956.6 1026.7,955.2 1024.9,953.8 1023,952.2 1021.2,950.7 1019.4,949 1017.6,947.3 1015.9,945.5 1014.2,943.7 1012.6,941.8 1011.1,939.8 1009.5,937.7 1008,935.5 1006.5,933.1 1005,930.7 1003.6,928.2 1002.1,925.7 1000.7,923.1 999.4,920.5 998,917.9 996.8,915.2 995.5,912.5 994.3,909.7 993.1,906.8 992,903.9 990.9,901 989.8,898.1 988.8,895.2 987.7,892.3 986.8,889.5 985.8,886.8 985,884.1 984,881.4 983.1,878.8 982.3,876.1 981.4,873.5 980.6,870.8 979.8,868.2 979,865.6 978.2,863 977.4,860.4 976.6,857.7 975.9,855 975.2,852.3 974.4,849.6 973.7,846.9 973.1,844.4 972.4,842 971.8,839.9 971.2,837.9 970.7,836.3 970.2,834.9 969.7,833.8 969.3,832.8 968.9,831.9 968.5,831.2 968.1,830.5 967.8,829.8 967.4,829.1 967,828.3Z"/><path fill="#f01000" d="M964.8,829L965.1,829.9 965.4,830.6 965.7,831.3 966,832 966.3,832.7 966.7,833.6 967,834.5 967.4,835.7 967.8,837 968.3,838.7 968.8,840.6 969.4,842.7 969.9,845.1 970.5,847.6 971.2,850.3 971.8,853 972.5,855.8 973.2,858.5 973.9,861.3 974.6,863.9 975.3,866.5 976.1,869.2 976.8,871.8 977.6,874.5 978.4,877.2 979.2,879.9 980,882.6 980.9,885.3 981.8,888.1 982.7,890.9 983.7,893.7 984.7,896.6 985.8,899.6 986.9,902.5 988,905.5 989.2,908.4 990.4,911.4 991.6,914.2 992.9,917 994.2,919.7 995.6,922.4 997,925.1 998.4,927.8 999.9,930.4 1001.4,932.9 1002.9,935.4 1004.4,937.8 1006,940.2 1007.7,942.4 1009.3,944.5 1011,946.5 1012.8,948.5 1014.6,950.3 1016.5,952.1 1018.4,953.9 1020.3,955.5 1022.2,957.1 1024.2,958.6 1026.1,960 1028,961.4 1029.8,962.7 1031.7,963.9 1033.5,965 1035.3,966 1037.2,966.9 1039,967.8 1040.9,968.6 1042.7,969.4 1044.6,970.1 1046.5,970.8 1048.5,971.3 1050.4,971.8 1052.4,972.2 1054.4,972.5 1056.5,972.8 1058.6,973.1 1060.8,973.4 1062.9,973.7 1065.2,974 1067.3,974.3 1067.9,970.8 1065.7,970.5 1063.4,970.2 1061.2,969.9 1059.1,969.6 1057,969.4 1055,969.1 1053,968.7 1051.2,968.4 1049.4,967.9 1047.6,967.4 1045.8,966.8 1044,966.1 1042.2,965.4 1040.5,964.6 1038.7,963.8 1037,962.9 1035.3,961.9 1033.5,960.9 1031.8,959.7 1030,958.5 1028.2,957.2 1026.3,955.8 1024.4,954.3 1022.5,952.8 1020.7,951.2 1018.9,949.6 1017.1,947.8 1015.3,946 1013.7,944.2 1012,942.3 1010.5,940.3 1008.9,938.1 1007.4,935.9 1005.9,933.5 1004.4,931.1 1002.9,928.6 1001.5,926.1 1000.1,923.5 998.7,920.8 997.4,918.2 996.1,915.5 994.9,912.8 993.6,910 992.5,907.1 991.3,904.2 990.2,901.3 989.1,898.4 988.1,895.4 987,892.6 986.1,889.7 985.1,887 984.3,884.3 983.3,881.6 982.5,879 981.6,876.3 980.8,873.7 979.9,871 979.1,868.4 978.3,865.8 977.6,863.2 976.8,860.5 976,857.9 975.3,855.1 974.6,852.4 973.9,849.7 973.2,847 972.5,844.5 971.9,842.2 971.3,840 970.7,838.1 970.2,836.4 969.7,835.1 969.2,833.9 968.8,832.9 968.4,832.1 968.1,831.3 967.7,830.6 967.4,830 967,829.3 966.6,828.4Z"/><path fill="#0000c8" d="M1176.5,869.4L1177.1,870.9 1177.8,872.3 1178.5,873.7 1179.2,875 1179.8,876.2 1180.3,877.4 1180.8,878.5 1181.2,879.6 1181.4,880.7 1181.7,881.9 1181.8,883.3 1181.8,884.9 1181.8,886.7 1181.7,888.7 1181.6,890.7 1181.4,892.7 1181.2,894.8 1181,896.9 1180.8,898.9 1180.7,900.8 1180.6,902.6 1180.5,904.2 1180.5,905.6 1180.5,906.8 1180.5,907.9 1180.4,909 1180.3,910.1 1180.1,911.4 1179.8,913 1179.3,915 1178.7,917.3 1178,920 1177.1,923 1176.2,926.2 1175.1,929.5 1174,932.8 1172.9,936.2 1171.8,939.4 1170.7,942.5 1169.6,945.3 1168.6,948 1167.5,950.5 1166.4,953 1165.2,955.5 1164.1,957.9 1162.9,960.3 1161.7,962.7 1160.4,965.2 1159.2,967.7 1158,970.2 1169.6,975.6 1170.8,973.1 1171.9,970.7 1173.1,968.2 1174.2,965.8 1175.4,963.3 1176.6,960.7 1177.7,958.1 1178.9,955.4 1180,952.6 1181.1,949.7 1182.2,946.6 1183.4,943.4 1184.5,940 1185.6,936.5 1186.7,933.1 1187.7,929.7 1188.6,926.3 1189.5,923.2 1190.2,920.3 1190.9,917.7 1191.4,915.3 1191.7,913.2 1191.9,911.4 1192,909.7 1192.1,908.1 1192.1,906.7 1192,905.5 1192,904.2 1192,902.9 1192,901.4 1192.1,899.7 1192.2,897.8 1192.4,895.8 1192.5,893.6 1192.7,891.4 1192.8,889.2 1192.8,886.9 1192.8,884.7 1192.7,882.5 1192.4,880.3 1192,878.3 1191.4,876.3 1190.8,874.6 1190.1,872.9 1189.3,871.4 1188.6,870.1 1187.9,868.8 1187.2,867.6 1186.6,866.4 1186,865.2Z"/><path fill="#0030ff" d="M1176.7,869.3L1177.4,870.7 1178.1,872.2 1178.8,873.6 1179.4,874.9 1180,876.1 1180.6,877.2 1181,878.4 1181.4,879.5 1181.7,880.7 1181.9,881.9 1182.1,883.3 1182.1,884.9 1182.1,886.7 1182,888.7 1181.8,890.7 1181.7,892.8 1181.5,894.8 1181.3,896.9 1181.1,898.9 1180.9,900.8 1180.8,902.6 1180.8,904.2 1180.8,905.6 1180.8,906.8 1180.8,907.9 1180.7,909 1180.6,910.1 1180.4,911.5 1180.1,913.1 1179.6,915 1179,917.4 1178.3,920.1 1177.4,923.1 1176.4,926.3 1175.4,929.6 1174.3,932.9 1173.2,936.2 1172.1,939.5 1171,942.6 1169.9,945.4 1168.9,948.1 1167.8,950.6 1166.7,953.1 1165.5,955.6 1164.3,958 1163.2,960.4 1161.9,962.8 1160.7,965.3 1159.5,967.8 1158.3,970.3 1168.8,975.2 1169.9,972.7 1171,970.3 1172.2,967.8 1173.4,965.4 1174.5,962.9 1175.7,960.3 1176.9,957.7 1178,955 1179.2,952.2 1180.3,949.4 1181.4,946.3 1182.5,943.1 1183.6,939.7 1184.7,936.3 1185.8,932.8 1186.8,929.4 1187.8,926.1 1188.6,923 1189.4,920.1 1190,917.5 1190.5,915.1 1190.8,913.1 1191.1,911.3 1191.2,909.6 1191.2,908.1 1191.2,906.7 1191.2,905.5 1191.1,904.2 1191.1,902.9 1191.1,901.4 1191.2,899.6 1191.4,897.7 1191.5,895.7 1191.7,893.6 1191.8,891.4 1191.9,889.1 1192,886.9 1192,884.7 1191.9,882.6 1191.6,880.5 1191.2,878.5 1190.7,876.6 1190,874.9 1189.3,873.3 1188.6,871.8 1187.9,870.4 1187.2,869.1 1186.5,867.9 1185.9,866.7 1185.3,865.5Z"/><path fill="#00b0ff" d="M1177,869.2L1177.6,870.6 1178.3,872.1 1179,873.5 1179.7,874.7 1180.3,876 1180.8,877.1 1181.3,878.3 1181.7,879.4 1182,880.6 1182.2,881.9 1182.3,883.3 1182.4,884.9 1182.4,886.7 1182.3,888.7 1182.1,890.7 1181.9,892.8 1181.7,894.9 1181.6,896.9 1181.4,898.9 1181.2,900.9 1181.1,902.6 1181.1,904.2 1181.1,905.6 1181.1,906.8 1181.1,907.9 1181,909 1180.9,910.2 1180.7,911.5 1180.4,913.1 1179.9,915.1 1179.3,917.5 1178.6,920.2 1177.7,923.2 1176.7,926.4 1175.7,929.7 1174.6,933 1173.5,936.3 1172.4,939.6 1171.3,942.7 1170.2,945.6 1169.1,948.2 1168.1,950.8 1166.9,953.3 1165.8,955.7 1164.6,958.1 1163.4,960.6 1162.2,963 1161,965.4 1159.8,968 1158.6,970.5 1167.9,974.8 1169,972.3 1170.2,969.8 1171.3,967.4 1172.5,964.9 1173.7,962.5 1174.9,959.9 1176,957.3 1177.2,954.7 1178.3,951.9 1179.4,949 1180.5,946 1181.6,942.8 1182.7,939.4 1183.9,936 1184.9,932.5 1186,929.1 1186.9,925.8 1187.8,922.7 1188.5,919.9 1189.1,917.3 1189.6,915 1190,913 1190.2,911.2 1190.3,909.6 1190.3,908.1 1190.3,906.7 1190.3,905.5 1190.3,904.2 1190.3,902.9 1190.3,901.3 1190.4,899.6 1190.5,897.7 1190.7,895.6 1190.9,893.5 1191,891.3 1191.1,889.1 1191.2,886.9 1191.2,884.7 1191,882.6 1190.8,880.6 1190.4,878.6 1189.9,876.8 1189.3,875.2 1188.6,873.6 1187.9,872.2 1187.2,870.8 1186.5,869.5 1185.8,868.3 1185.2,867.1 1184.6,865.8Z"/><path fill="#30ffd0" d="M1177.2,869.1L1177.8,870.5 1178.5,872 1179.2,873.3 1179.9,874.6 1180.5,875.8 1181.1,877 1181.5,878.2 1181.9,879.4 1182.2,880.5 1182.5,881.8 1182.6,883.3 1182.7,884.9 1182.6,886.7 1182.5,888.7 1182.4,890.7 1182.2,892.8 1182,894.9 1181.8,896.9 1181.7,898.9 1181.5,900.9 1181.4,902.6 1181.4,904.2 1181.4,905.6 1181.4,906.8 1181.4,907.9 1181.3,909 1181.2,910.2 1181,911.6 1180.7,913.2 1180.2,915.2 1179.6,917.5 1178.8,920.3 1178,923.3 1177,926.4 1176,929.8 1174.9,933.1 1173.8,936.4 1172.7,939.7 1171.6,942.8 1170.5,945.7 1169.4,948.3 1168.3,950.9 1167.2,953.4 1166.1,955.8 1164.9,958.3 1163.7,960.7 1162.5,963.1 1161.3,965.6 1160.1,968.1 1158.9,970.6 1167,974.4 1168.2,971.9 1169.3,969.4 1170.5,967 1171.7,964.5 1172.8,962.1 1174,959.5 1175.2,957 1176.3,954.3 1177.5,951.6 1178.6,948.7 1179.6,945.7 1180.8,942.5 1181.9,939.1 1183,935.7 1184.1,932.3 1185.1,928.9 1186,925.6 1186.9,922.5 1187.7,919.6 1188.3,917.1 1188.8,914.8 1189.1,912.8 1189.3,911.1 1189.4,909.5 1189.5,908.1 1189.5,906.8 1189.4,905.5 1189.4,904.2 1189.4,902.8 1189.4,901.3 1189.5,899.5 1189.7,897.6 1189.9,895.5 1190,893.4 1190.2,891.2 1190.3,889.1 1190.3,886.9 1190.3,884.8 1190.2,882.7 1190,880.7 1189.6,878.8 1189.1,877.1 1188.5,875.5 1187.9,873.9 1187.2,872.5 1186.5,871.2 1185.8,869.9 1185.1,868.6 1184.5,867.4 1183.9,866.1Z"/><path fill="#d0ff30" d="M1177.5,868.9L1178.1,870.4 1178.8,871.8 1179.5,873.2 1180.2,874.5 1180.8,875.7 1181.3,876.9 1181.8,878.1 1182.2,879.3 1182.6,880.5 1182.8,881.8 1182.9,883.2 1183,884.9 1183,886.8 1182.9,888.7 1182.7,890.8 1182.6,892.8 1182.4,894.9 1182.2,897 1182,899 1181.8,900.9 1181.8,902.7 1181.7,904.2 1181.7,905.6 1181.7,906.8 1181.7,907.9 1181.6,909 1181.5,910.2 1181.3,911.6 1181,913.3 1180.6,915.2 1179.9,917.6 1179.2,920.4 1178.3,923.4 1177.4,926.6 1176.3,929.9 1175.3,933.2 1174.1,936.6 1173,939.8 1171.9,942.9 1170.8,945.8 1169.8,948.5 1168.7,951 1167.6,953.5 1166.4,956 1165.2,958.4 1164.1,960.9 1162.9,963.3 1161.7,965.7 1160.4,968.2 1159.2,970.8 1166,973.9 1167.1,971.4 1168.3,968.9 1169.5,966.5 1170.6,964 1171.8,961.6 1173,959.1 1174.2,956.5 1175.3,953.9 1176.4,951.1 1177.5,948.3 1178.6,945.3 1179.7,942.1 1180.8,938.8 1181.9,935.4 1183,931.9 1184.1,928.6 1185,925.3 1185.9,922.2 1186.6,919.4 1187.2,916.8 1187.7,914.6 1188.1,912.7 1188.3,911 1188.4,909.4 1188.4,908.1 1188.4,906.8 1188.4,905.5 1188.4,904.2 1188.4,902.8 1188.4,901.2 1188.5,899.4 1188.7,897.5 1188.8,895.5 1189,893.3 1189.2,891.2 1189.3,889 1189.4,886.9 1189.3,884.8 1189.2,882.8 1189,880.8 1188.7,879 1188.2,877.4 1187.6,875.8 1187,874.3 1186.3,872.9 1185.6,871.6 1184.9,870.3 1184.2,869.1 1183.6,867.8 1183,866.5Z"/><path fill="#ffb000" d="M1177.8,868.8L1178.4,870.2 1179.1,871.7 1179.8,873 1180.5,874.3 1181.1,875.5 1181.7,876.7 1182.2,877.9 1182.6,879.1 1182.9,880.4 1183.1,881.7 1183.3,883.2 1183.3,884.9 1183.3,886.8 1183.2,888.7 1183.1,890.8 1182.9,892.9 1182.7,894.9 1182.5,897 1182.4,899 1182.2,900.9 1182.1,902.7 1182.1,904.2 1182.1,905.6 1182.1,906.8 1182.1,907.9 1182,909.1 1181.9,910.3 1181.7,911.7 1181.4,913.3 1180.9,915.3 1180.3,917.7 1179.6,920.5 1178.7,923.5 1177.7,926.7 1176.7,930 1175.6,933.3 1174.5,936.7 1173.4,939.9 1172.3,943.1 1171.2,945.9 1170.1,948.6 1169.1,951.2 1167.9,953.7 1166.8,956.2 1165.6,958.6 1164.4,961 1163.2,963.5 1162,965.9 1160.8,968.4 1159.6,971 1164.9,973.4 1166,970.9 1167.2,968.4 1168.4,966 1169.5,963.5 1170.7,961 1171.9,958.5 1173,956 1174.2,953.4 1175.3,950.7 1176.4,947.9 1177.5,944.9 1178.6,941.7 1179.7,938.4 1180.8,935 1181.9,931.6 1182.9,928.2 1183.9,925 1184.7,921.9 1185.5,919.1 1186.1,916.5 1186.6,914.4 1186.9,912.5 1187.1,910.8 1187.2,909.4 1187.3,908 1187.3,906.8 1187.3,905.5 1187.3,904.2 1187.3,902.8 1187.3,901.2 1187.4,899.4 1187.6,897.4 1187.8,895.4 1187.9,893.3 1188.1,891.1 1188.2,889 1188.3,886.9 1188.3,884.8 1188.2,882.8 1188,881 1187.6,879.3 1187.2,877.7 1186.7,876.2 1186,874.8 1185.4,873.4 1184.7,872.1 1184,870.8 1183.3,869.5 1182.7,868.2 1182.1,866.9Z"/><path fill="#ff4000" d="M1178.1,868.7L1178.8,870.1 1179.5,871.5 1180.1,872.9 1180.8,874.1 1181.4,875.4 1182,876.6 1182.5,877.8 1182.9,879 1183.3,880.3 1183.5,881.7 1183.7,883.2 1183.7,884.9 1183.7,886.8 1183.6,888.7 1183.5,890.8 1183.3,892.9 1183.1,895 1182.9,897 1182.7,899 1182.6,900.9 1182.5,902.7 1182.5,904.2 1182.5,905.6 1182.5,906.8 1182.5,907.9 1182.4,909.1 1182.3,910.3 1182.1,911.7 1181.8,913.4 1181.3,915.4 1180.7,917.8 1180,920.6 1179.1,923.6 1178.1,926.8 1177.1,930.1 1176,933.5 1174.9,936.8 1173.8,940.1 1172.7,943.2 1171.6,946.1 1170.5,948.8 1169.5,951.4 1168.3,953.9 1167.2,956.4 1166,958.8 1164.8,961.2 1163.6,963.7 1162.4,966.1 1161.2,968.6 1160,971.1 1163.6,972.8 1164.8,970.3 1166,967.8 1167.2,965.4 1168.3,962.9 1169.5,960.5 1170.7,958 1171.9,955.5 1173,952.9 1174.1,950.2 1175.2,947.4 1176.3,944.5 1177.4,941.3 1178.5,938 1179.6,934.6 1180.7,931.2 1181.7,927.9 1182.7,924.6 1183.5,921.6 1184.3,918.8 1184.9,916.3 1185.4,914.1 1185.7,912.3 1185.9,910.7 1186,909.3 1186.1,908 1186.1,906.8 1186.1,905.5 1186,904.2 1186.1,902.8 1186.1,901.1 1186.2,899.3 1186.4,897.3 1186.6,895.3 1186.8,893.2 1186.9,891 1187,888.9 1187.1,886.8 1187.1,884.8 1187,882.9 1186.8,881.2 1186.5,879.5 1186.1,878 1185.6,876.6 1185,875.2 1184.4,873.9 1183.7,872.6 1183,871.3 1182.4,870 1181.7,868.7 1181.1,867.3Z"/><path fill="#f01000" d="M1178.5,868.5L1179.1,869.9 1179.8,871.3 1180.5,872.7 1181.2,873.9 1181.8,875.2 1182.4,876.4 1182.9,877.7 1183.3,878.9 1183.7,880.2 1183.9,881.6 1184.1,883.1 1184.1,884.9 1184.1,886.8 1184,888.8 1183.9,890.8 1183.7,892.9 1183.5,895 1183.3,897.1 1183.2,899 1183,900.9 1183,902.7 1182.9,904.2 1182.9,905.6 1182.9,906.8 1182.9,907.9 1182.9,909.1 1182.7,910.4 1182.5,911.8 1182.2,913.5 1181.8,915.5 1181.2,917.9 1180.4,920.7 1179.5,923.7 1178.6,926.9 1177.5,930.2 1176.5,933.6 1175.4,937 1174.2,940.2 1173.1,943.4 1172,946.3 1171,948.9 1169.9,951.5 1168.8,954.1 1167.6,956.6 1166.4,959 1165.3,961.4 1164.1,963.9 1162.9,966.3 1161.7,968.8 1160.5,971.3 1162.3,972.2 1163.5,969.7 1164.7,967.2 1165.9,964.8 1167.1,962.3 1168.3,959.9 1169.4,957.4 1170.6,954.9 1171.7,952.3 1172.8,949.7 1173.9,946.9 1175,944 1176.1,940.9 1177.2,937.6 1178.3,934.2 1179.4,930.8 1180.4,927.5 1181.4,924.2 1182.2,921.2 1183,918.4 1183.6,916 1184.1,913.9 1184.4,912.1 1184.6,910.6 1184.7,909.2 1184.8,908 1184.8,906.8 1184.8,905.5 1184.8,904.2 1184.8,902.7 1184.8,901 1185,899.2 1185.1,897.2 1185.3,895.2 1185.5,893.1 1185.7,890.9 1185.8,888.9 1185.9,886.8 1185.9,884.8 1185.8,883 1185.6,881.3 1185.3,879.8 1185,878.4 1184.5,877 1183.9,875.7 1183.3,874.4 1182.7,873.2 1182,871.9 1181.3,870.6 1180.6,869.2 1180,867.8Z"/></g></g>
<g fill="none" stroke="#dedef0" stroke-width="2.0" stroke-linecap="round" ><path d="M995,830.4C997.9,836.9 1000.3,842.8 1003.7,849.9C1007.1,857.1 1011.1,866.2 1015.3,873.4C1019.5,880.5 1023.4,886.7 1028.9,892.9C1034.4,899 1041.2,905.7 1048.3,910.4C1055.4,915.1 1063.2,918.6 1071.6,921.2C1080,923.8 1090.3,925.9 1098.7,926.1C1107.1,926.3 1115.5,924.4 1122,922.1C1128.5,919.8 1133.3,916.6 1137.5,912.3C1141.7,908.1 1144.6,901.9 1147.2,896.7C1149.8,891.5 1151.4,886.5 1153,881.1C1154.6,875.8 1155.6,870.1 1156.8,864.5"/><path d="M985.3,826.5C986.2,828.4 985.8,825.8 988.2,832.3C990.6,838.8 995.6,855.4 999.8,865.5C1004,875.6 1008.6,884.4 1013.4,892.9C1018.3,901.3 1023.1,909.5 1028.9,916.3C1034.7,923.1 1041.2,929.1 1048.3,933.9C1055.4,938.6 1063.5,942.1 1071.6,944.6C1079.6,947 1089.4,948 1096.8,948.5C1104.2,949 1109.3,949 1116.1,947.5C1122.9,946.1 1131.4,943.3 1137.5,939.8C1143.6,936.2 1148.8,931.3 1153,926.1C1157.2,920.9 1160.1,915 1162.7,908.5C1165.3,902 1167.2,894.5 1168.5,887C1169.8,879.6 1169.8,871.4 1170.5,863.6"/><path d="M1156.8,864.5C1157.2,863.9 1155.7,863.1 1158,862.7C1160.2,862.3 1166.3,862.4 1170.5,862.3"/><path d="M1189.9,864.2C1191.8,869.9 1194.8,875 1195.6,881.1C1196.5,887.3 1195.3,895.3 1194.9,901.1C1194.6,907 1195.5,908.6 1193.7,916.3C1191.9,924 1187.5,938.1 1184,947.5C1180.4,956.9 1176.3,964.4 1172.4,972.9"/><path d="M985.3,826.5C988.5,827.6 991.7,828.7 995,829.7"/></g>
<g fill="none" stroke="#f0c8e0" stroke-width="1.3" stroke-linecap="round" ><path d="M971.7,825.5C972.7,829.7 973.2,831.9 974.6,838.2C976.1,844.6 978.1,854.8 980.4,863.6C982.7,872.4 985,881.5 988.2,890.9C991.4,900.4 995.3,911.1 999.8,920.2C1004.4,929.3 1009.5,938.4 1015.3,945.6C1021.1,952.7 1028.2,958.6 1034.7,963.1C1041.2,967.7 1047.7,969.6 1054.1,972.9"/></g>
<g fill="none" stroke="#e4e4f4" stroke-width="1.4" stroke-linecap="round" ><path d="M1170.9,863.9C1172.9,866.8 1175,872.4 1176.7,872.6C1178.4,872.7 1179.7,867.5 1181.3,864.9"/></g>
<text x="1133.2" y="897.7" font-family='"Liberation Serif","Times New Roman",serif' font-size="19" font-weight="bold" text-anchor="middle" fill="#fff">20</text><text x="1144.4" y="929.5" font-family='"Liberation Serif","Times New Roman",serif' font-size="19" font-weight="bold" text-anchor="middle" fill="#fff">10</text>
<text x="1010" y="934.2" font-family='"Liberation Serif","Times New Roman",serif' font-size="18" font-weight="bold" text-anchor="middle" fill="#fff">1</text>
<path d="M1000,831.3H1277" stroke="#222" stroke-width="1.6" stroke-dasharray="7,4.5" fill="none"/>
<path d="M1090.6,847.1H1277" stroke="#222" stroke-width="1.6" stroke-dasharray="7,4.5" fill="none"/>
<rect x="714.6" y="801.3" width="563.8" height="171.5" fill="none" stroke="#000" stroke-width="2.0"/><text x="763.1" y="995.7" font-family='"Liberation Serif","Times New Roman",serif' font-size="22" font-weight="bold" text-anchor="middle" fill="#000">130</text><text x="906.6" y="995.7" font-family='"Liberation Serif","Times New Roman",serif' font-size="22" font-weight="bold" text-anchor="middle" fill="#000">140</text><text x="1043" y="995.7" font-family='"Liberation Serif","Times New Roman",serif' font-size="22" font-weight="bold" text-anchor="middle" fill="#000">150</text><text x="1186.3" y="995.7" font-family='"Liberation Serif","Times New Roman",serif' font-size="22" font-weight="bold" text-anchor="middle" fill="#000">160</text><text x="706" y="818" font-family='"Liberation Serif","Times New Roman",serif' font-size="22" font-weight="bold" text-anchor="end" fill="#000">2</text><text x="706" y="858.8" font-family='"Liberation Serif","Times New Roman",serif' font-size="22" font-weight="bold" text-anchor="end" fill="#000">0</text><text x="706" y="906.3" font-family='"Liberation Serif","Times New Roman",serif' font-size="22" font-weight="bold" text-anchor="end" fill="#000">-2</text><text x="706" y="955.2" font-family='"Liberation Serif","Times New Roman",serif' font-size="22" font-weight="bold" text-anchor="end" fill="#000">-4</text><text transform="translate(684,892) rotate(-90)" font-family='"Liberation Serif","Times New Roman",serif' font-size="18" font-weight="bold" font-style="italic" text-anchor="middle" y="2.9">z</text><text x="1022" y="1014.8" font-family='"Liberation Serif","Times New Roman",serif' font-size="22" font-weight="bold" text-anchor="middle" fill="#000" font-style="italic">x</text>
<rect x="1287.9" y="800" width="20.5" height="174.1" fill="url(#jet)"/><text x="1310.4" y="815" font-family='"Liberation Serif","Times New Roman",serif' font-size="22" font-weight="bold" text-anchor="start" fill="#000">0.4</text><text x="1310.4" y="855" font-family='"Liberation Serif","Times New Roman",serif' font-size="22" font-weight="bold" text-anchor="start" fill="#000">0.3</text><text x="1310.4" y="895.1" font-family='"Liberation Serif","Times New Roman",serif' font-size="22" font-weight="bold" text-anchor="start" fill="#000">0.2</text><text x="1310.4" y="935.6" font-family='"Liberation Serif","Times New Roman",serif' font-size="22" font-weight="bold" text-anchor="start" fill="#000">0.1</text><text x="1310.4" y="977.7" font-family='"Liberation Serif","Times New Roman",serif' font-size="22" font-weight="bold" text-anchor="start" fill="#000">0</text><text x="1282.2" y="995.3" font-family='"Liberation Serif","Times New Roman",serif' font-size="24"><tspan font-style="italic" font-weight="bold">u</tspan><tspan font-weight="normal">M</tspan></text>
<text x="724.6" y="785.5" font-family='"Liberation Sans",Arial,sans-serif' font-size="29.2" font-weight="bold" text-anchor="start" fill="#000">D2</text><text x="793.9" y="790.5" font-family='"Liberation Serif","Times New Roman",serif' font-size="36" font-weight="bold">Modeled N<tspan font-size="22" dy="7">2</tspan></text></svg></body></html>
